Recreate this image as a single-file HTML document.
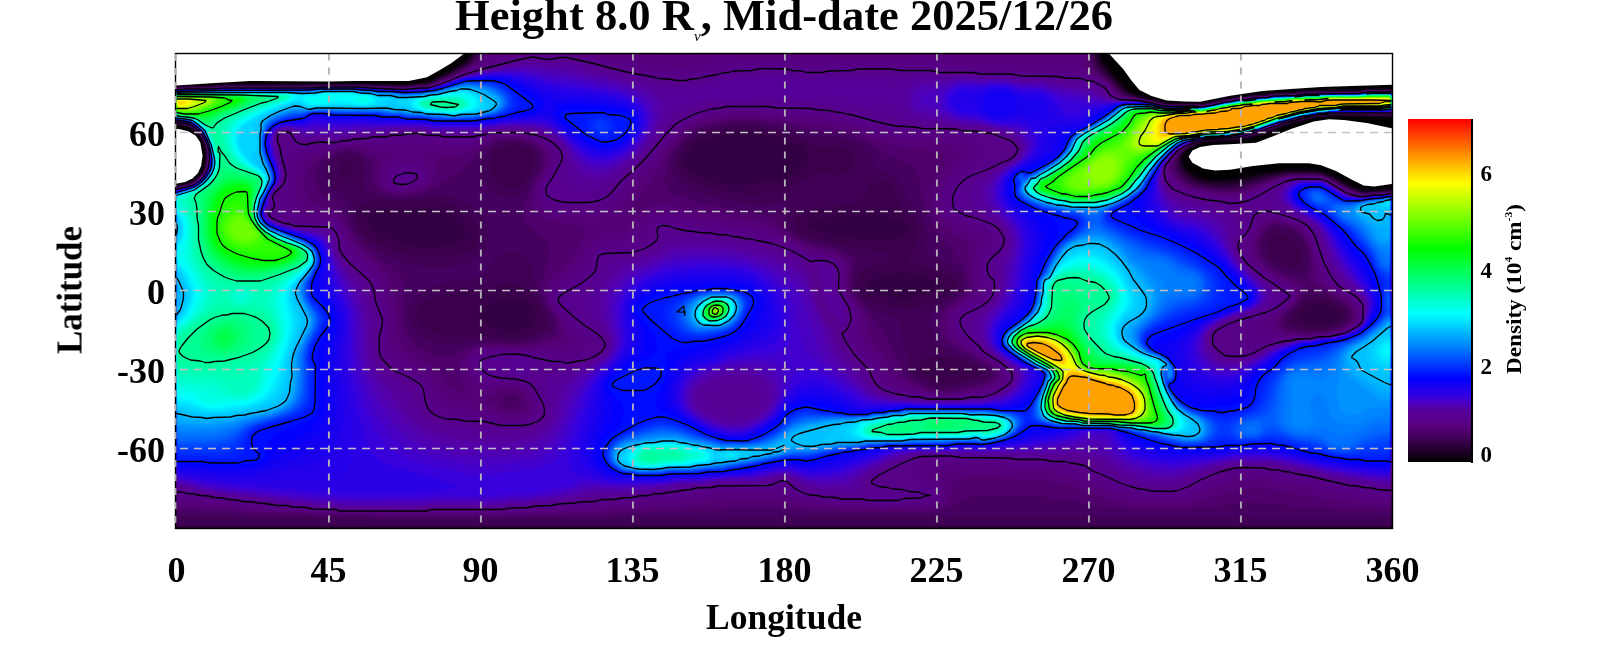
<!DOCTYPE html>
<html><head><meta charset="utf-8"><title>Height 8.0 Rs density map</title>
<style>
html,body{margin:0;padding:0;background:#fff;}
body{width:1600px;height:660px;overflow:hidden;}
svg{display:block;font-family:"Liberation Serif",serif;font-weight:bold;fill:#000;}
</style></head><body>
<svg width="1600" height="660" viewBox="0 0 1600 660">
<defs>
<filter id="cm" filterUnits="userSpaceOnUse" x="166" y="44" width="1236" height="494" color-interpolation-filters="sRGB">
<feGaussianBlur stdDeviation="1.5"/>
<feComponentTransfer>
<feFuncR type="table" tableValues="0.000 0.029 0.058 0.087 0.116 0.145 0.174 0.203 0.231 0.254 0.276 0.299 0.321 0.344 0.345 0.345 0.345 0.345 0.345 0.341 0.327 0.314 0.294 0.259 0.225 0.192 0.160 0.128 0.095 0.063 0.031 0.000 0.000 0.000 0.000 0.000 0.000 0.000 0.000 0.000 0.000 0.000 0.000 0.000 0.000 0.000 0.000 0.000 0.000 0.000 0.000 0.000 0.000 0.000 0.000 0.000 0.000 0.000 0.000 0.000 0.000 0.000 0.000 0.000 0.000 0.000 0.000 0.000 0.000 0.000 0.000 0.000 0.000 0.000 0.000 0.000 0.000 0.000 0.000 0.000 0.021 0.062 0.102 0.143 0.184 0.225 0.265 0.306 0.347 0.388 0.429 0.469 0.510 0.550 0.591 0.631 0.672 0.712 0.753 0.793 0.834 0.874 0.914 0.955 0.995 1.000 1.000 1.000 1.000 1.000 1.000 1.000 1.000 1.000 1.000 1.000 1.000 1.000 1.000 1.000 1.000 1.000 1.000 1.000 1.000 1.000 1.000 1.000 1.000"/>
<feFuncG type="table" tableValues="0.000 0.000 0.000 0.000 0.000 0.000 0.000 0.000 0.000 0.000 0.000 0.000 0.000 0.000 0.000 0.000 0.000 0.000 0.000 0.000 0.000 0.000 0.000 0.000 0.000 0.000 0.000 0.000 0.000 0.000 0.000 0.001 0.043 0.085 0.127 0.169 0.211 0.253 0.295 0.337 0.379 0.421 0.463 0.505 0.546 0.586 0.627 0.667 0.708 0.748 0.788 0.829 0.869 0.910 0.950 0.991 1.000 1.000 1.000 1.000 1.000 1.000 1.000 1.000 1.000 1.000 1.000 1.000 1.000 1.000 1.000 1.000 1.000 1.000 1.000 1.000 1.000 1.000 1.000 1.000 1.000 1.000 1.000 1.000 1.000 1.000 1.000 1.000 1.000 1.000 1.000 1.000 1.000 1.000 1.000 1.000 1.000 1.000 1.000 1.000 1.000 1.000 1.000 1.000 1.000 0.963 0.921 0.880 0.838 0.796 0.755 0.713 0.671 0.630 0.588 0.546 0.504 0.462 0.420 0.378 0.336 0.294 0.252 0.210 0.168 0.126 0.084 0.042 0.000"/>
<feFuncB type="table" tableValues="0.000 0.038 0.075 0.113 0.150 0.188 0.225 0.263 0.300 0.337 0.374 0.410 0.447 0.484 0.505 0.524 0.544 0.564 0.583 0.611 0.656 0.701 0.749 0.803 0.857 0.885 0.904 0.923 0.943 0.962 0.981 1.000 1.000 1.000 1.000 1.000 1.000 1.000 1.000 1.000 1.000 1.000 1.000 1.000 1.000 1.000 1.000 1.000 1.000 1.000 1.000 1.000 1.000 1.000 1.000 1.000 0.968 0.926 0.884 0.843 0.801 0.759 0.718 0.676 0.634 0.593 0.551 0.509 0.468 0.427 0.387 0.346 0.305 0.264 0.224 0.183 0.142 0.101 0.061 0.020 0.000 0.000 0.000 0.000 0.000 0.000 0.000 0.000 0.000 0.000 0.000 0.000 0.000 0.000 0.000 0.000 0.000 0.000 0.000 0.000 0.000 0.000 0.000 0.000 0.000 0.000 0.000 0.000 0.000 0.000 0.000 0.000 0.000 0.000 0.000 0.000 0.000 0.000 0.000 0.000 0.000 0.000 0.000 0.000 0.000 0.000 0.000 0.000 0.000"/>
</feComponentTransfer>
</filter>
<clipPath id="cp"><rect x="176" y="54" width="1216" height="474"/></clipPath>
<linearGradient id="cb" x1="0" y1="0" x2="0" y2="1"><stop offset="0.0000" stop-color="rgb(255,0,0)"/><stop offset="0.0933" stop-color="rgb(255,128,0)"/><stop offset="0.1866" stop-color="rgb(255,255,0)"/><stop offset="0.2828" stop-color="rgb(128,255,0)"/><stop offset="0.3790" stop-color="rgb(0,255,0)"/><stop offset="0.4752" stop-color="rgb(0,255,128)"/><stop offset="0.5685" stop-color="rgb(0,255,255)"/><stop offset="0.6647" stop-color="rgb(0,128,255)"/><stop offset="0.7580" stop-color="rgb(0,0,255)"/><stop offset="0.8105" stop-color="rgb(55,0,222)"/><stop offset="0.8309" stop-color="rgb(78,0,186)"/><stop offset="0.8542" stop-color="rgb(88,0,152)"/><stop offset="0.8980" stop-color="rgb(88,0,124)"/><stop offset="0.9388" stop-color="rgb(58,0,75)"/><stop offset="1.0000" stop-color="rgb(0,0,0)"/></linearGradient>
</defs>
<rect width="1600" height="660" fill="#fff"/>
<g clip-path="url(#cp)">
<g filter="url(#cm)" shape-rendering="crispEdges">
<rect x="166" y="44" width="1236" height="494" fill="rgb(1,1,1)"/>
<path fill="#030303" d="M1391 528l-1215 0 -1-1 0-340.5 17-4.5 6-5 4-4 2-3.5 2-9.5 0.5-4 -0.5-5.5 -1.5-3.5 -0.5-4 -4-7 -2-2.5 -4-3.5 -6.5-4 -5.5-0.5 -5-1.5 -2 0 0-37 5-0.5 32-0.5 7-1.5 5 0 129-0.5 54 1 13-2.5 7-0.5 9.5-4 14.5-8 13-8 4-4 1.5-2 0.5-3 630.5 0 1 5 3 5 20 23 4.5 4.5 5.5 3.5 9.5 4 6.5 2 5.5 0.5 3 1.5 5 0.5 4 1.5 25-0.5 8 0.5 2-0.5 8-1 2-1 6-1 4-1 6.5-0.5 5.5-1.5 8.5-0.5 7.5-2 14 0 8-2 19 0 9-2.5 56 0.5 2.5 0 7.5-2 25 0 0 29 -25-2 -36-1 -6 1.5 -10 0 -12 4 -7 1.5 -4 1.5 -3 0 -8 4 -15 6 -15 4 -11 2 -11 0 -6 1 -10 0 -12 1.5 -2 1.5 -6 2.5 -6 4 -3.5 4 -1 4 0.5 4 2 4 2 3 4 3.5 4 2.5 5 2 11 2.5 6 0.5 14-1 31-6 21-2.5 10-0.5 20 0 6 1 9 2.5 8 3.5 15 8.5 12 5 12 0 17-1.5 0 338z"/>
<path fill="#050505" d="M1391 528l-1215 0 -1-1 0-340.5 17-4 6-5 4-4 2-3.5 2-9 0.5-5 -0.5-6 -2-7.5 -4-7 -2-2 -3.5-3.5 -6.5-4 -13-2.5 0-36 7-1 30 0 6-1 7-0.5 127-0.5 56 1 12-2.5 8-0.5 9.5-4.5 14.5-8 13-8 4-4 1-2 1-3 628.5 0 1 5 3.5 6 19 22 5 5 5 3 10 4 24 6 34 0.5 4-1 4-0.5 5-1.5 5-0.5 5-1.5 7-0.5 4-1.5 10-0.5 4-1.5 16 0 8-2 19 0 9-2.5 56 0.5 4-0.5 6-1.5 25 0 0 28 -25-2 -36-1 -6 1.5 -10 0.5 -14 4 -12 3 -22 9 -18 5 -10 1.5 -8 0 -9 1 -19 1 -2 0.5 -2 1.5 -7 3 -5.5 4 -3.5 4 -1 2 -0.5 3 0.5 3 1.5 4 3 4 3.5 3 4.5 3 4.5 2 12 3 8 0 13-0.5 32-7 22-2.5 9-0.5 18 0 8 1.5 8 2.5 6 3 16 8.5 12 5 12 0 17-1.5 0 337.5z"/>
<path fill="#080808" d="M1391 528l-1215 0 -1-1 0-340 17-4.5 6-4.5 4-4 2-4 2-7.5 1-6.5 -0.5-6 -2.5-8 -4-6.5 -2-2.5 -4-3.5 -6-4 -13-2 0-35.5 7-1.5 30 0 12-1.5 128-0.5 28 1 28 0 12-2 8-0.5 10.5-5 15-8 12.5-8 4-4 1-2 0.5-3 627 0 1 6 3.5 6 18.5 21 5.5 5 5 3 10 4 25 6 34 0.5 8-1 6-2 4 0 6-2 6 0 5-1.5 9-0.5 5-2 15 0 8-2 19 0 9-2 56 0.5 4-0.5 6-2 25 0 0 27 -25-1 -36-1 -6 1.5 -10 0 -4 1.5 -4 0.5 -6 2.5 -12 2.5 -23 9.5 -17 4.5 -10 2 -8 0 -8 1 -20.5 1 -4.5 2.5 -6.5 2.5 -5.5 4 -4 5 -1 5 0.5 4 2 4 2.5 3 4 3.5 4 2.5 5 2.5 12 2.5 10 0.5 12-1 10-1.5 22-5.5 22-3 8-0.5 18 0.5 8 1 7 2.5 6 2.5 17 9.5 12 4.5 12 0 17-2 0 337.5z"/>
<path fill="#0a0a0a" d="M1391 528l-1215 0 -1-1 0-340 17-4 6-4.5 4-4.5 2.5-4 1-4 1.5-10 -0.5-6 -2.5-8 -4-7 -2-2.5 -4-3.5 -6-3.5 -13-2 0-35.5 7-1 30 0 10-1.5 86-0.5 12-0.5 34 0 51 1.5 15-2 6 0 4-1.5 10-4.5 11.5-6 13.5-8 3.5-3 2.5-2.5 1-2.5 0.5-3 625 0 1.5 7 3 5.5 20 22.5 4 3.5 4.5 2.5 10.5 4 26 6.5 26 0 8 0.5 8-1.5 5-1.5 5 0 4-1.5 8-1 4-1.5 9 0 5-2 16 0 8-2 19 0 9-2 58 0 8-2 25 0 0 26 -61-2 -6 1.5 -10.5 0.5 -3.5 1.5 -4 0.5 -4 1.5 -14 3.5 -22 8.5 -18 5.5 -10 1.5 -8 0 -8 1 -10 0.5 -11.5 1 -3.5 2 -7 3 -6 4 -3 4 -1.5 3 -0.5 3 0.5 4 1.5 4 3 4 4 3.5 5 3 5 2 12 2.5 12 1 12-1 31-7.5 21-3.5 7-0.5 18 0.5 9 1 7 2.5 22 11.5 12 4.5 3 0.5 6-0.5 4 0 10-0.5 7-1 0 337z"/>
<path fill="#0c0c0c" d="M1391 528l-1215 0 -1-1 0-339.5 17-4.5 2-1 6-5.5 3.5-4.5 2-4 1.5-12 -0.5-6 -2-8 -4.5-7.5 -2-2 -4-3.5 -6-3.5 -13-2.5 0-35 7-1 30 0 11-1 85-0.5 13-0.5 33 0 25 1 26 0.5 15-2 7-0.5 5.5-2 17.5-8.5 15-8.5 4-3 2.5-3 1.5-3 0.5-3 623 0 1 7 3 6 20 22 4.5 4 5 2.5 10 3.5 27 6.5 26 0 8 0.5 8-1 5-1.5 5-0.5 4-1.5 8-0.5 4-1.5 9.5-0.5 5.5-2 17 0 4-1.5 2-0.5 21 0 7-2 58 0 2 0 4-1.5 2-0.5 25 0 0 25.5 -61-1.5 -6 1.5 -11.5 0.5 -2.5 1.5 -5 0.5 -4 1.5 -13 3 -22 8.5 -18 5.5 -10 1.5 -8 0.5 -8 1 -20 1 -2 0.5 -3 2 -9.5 4 -4 3 -2.5 3 -1.5 3 -1 6 0.5 4 2 4 3 3.5 4 3.5 5 3 5 2 12 2.5 10 0.5 12-0.5 10-2 24-6 17-3.5 9-0.5 18 0 8 0.5 8 2.5 7 3 15 8.5 12 5 6 0.5 4-0.5 14-0.5 7-1 0 336.5z"/>
<path fill="#0e0e0e" d="M1391 528l-1215 0 -1-1 0-339.5 17-4 2.5-1.5 5.5-5 4-5 1.5-4 2-12 -0.5-6 -2.5-8 -4.5-8 -2-2 -4-3.5 -6-3.5 -13-2 0-34.5 7-1 30-0.5 10-1 64 0 35-1 33 0 50 1.5 16-2 7 0 7-2.5 16-8 16-9 4-3 3-3 1.5-3 0.5-3 620.5 0 0.5 7 3 6 3 4 21.5 22 4.5 2.5 12 4 27 6 26 0 8 0.5 9-1 4-1.5 5.5-0.5 4.5-1.5 7-0.5 4-1.5 10.5-0.5 4.5-1.5 17-0.5 4-1.5 2 0 21-0.5 7-1.5 58-0.5 2.5 0 3.5-1.5 2 0 25-0.5 0 25 -61-1 -6 1.5 -10 0 -4 1.5 -5.5 1 -3.5 1.5 -5 0.5 -4 1.5 -4 1 -22 8.5 -18 5 -8 2 -12 0 -6 1.5 -20 0.5 -2 0.5 -3.5 2.5 -7.5 3 -6 4 -2.5 3 -2 3 -1 6 0.5 4 1.5 4 3 4 4.5 4 5 3 5 2 13 2.5 10 1 12-0.5 12-2.5 23.5-6.5 16.5-3.5 8-0.5 18 0 8 0.5 8 2.5 22 11.5 12 5 6 0.5 4-1 14-0.5 7-1 0 336.5z"/>
<path fill="#101010" d="M1391 528l-1215 0 -1-1 0-339 17-4.5 6-4.5 4-4 3-5 1.5-4 1-9 -0.5-7 -2.5-8 -4.5-8 -1.5-2 -4.5-3.5 -6-3.5 -13-2.5 0-34 9-1 28 0 10-1.5 86 0 13-1 33 0 50 2 16-2 7 0 3-1 21-9.5 16-9 6.5-5.5 2-4 0.5-3 618.5 0 0.5 8 3 6 25 26 3 1.5 4.5 1.5 14.5 4 22 5 26-0.5 8 1 9.5-1.5 4.5-1.5 5.5-0.5 3.5-1.5 7-0.5 6-1.5 8-0.5 6-1.5 16-0.5 6-1.5 21-0.5 7-1.5 58 0 3-0.5 3-1.5 2 0 25 0 0 24.5 -61-1.5 -6 2 -10 0 -14 4 -4.5 0.5 -3.5 1.5 -4 0.5 -22 8.5 -18 5.5 -10 2 -10 0 -8 1.5 -18.5 0.5 -5.5 3 -7.5 3 -6 4 -2.5 3 -2 3 -1.5 4 0 4 0.5 4 2 4 3.5 4 4.5 3.5 5 2.5 6 2.5 14 2.5 12 1 12-1 8-2 25-7.5 19-4 22 0 8 1 8 2 22 11.5 12 5 6 0 4-0.5 14.5-0.5 6.5-1 0 336zM741 186l18-3 21-2 5-1 7-3 8.5-5 5.5-6 1.5-3 1-3 -0.5-3 -1-3 -2.5-4 -4-4 -4.5-2.5 -5-2.5 -34-9 -12-1.5 -6 0.5 -7 1 -28 7 -5 2.5 -4 2.5 -4.5 4 -3 4 -2.5 6 0 6 3 6 5 4 10 5 16.5 5 11.5 2zM441 247l11-2.5 8-3.5 4.5-3 1.5-2 0.5-2 0-3 -1-3 -5-6 -8-6 -8-4 -6.5-2 -8-2 -14-0.5 -20 2 -20 1 -6 2.5 -3 3 -0.5 3 0.5 3 3 5.5 6 5 10 5.5 17.5 6 12.5 3 12 1zM900 239l5-2.5 2.5-3.5 0.5-4 -1.5-4 -3.5-3 -4-2 -10-3.5 -8-2 -8-0.5 -22 1 -21 2 -16 3 -4 2 -2 2 -0.5 1 0.5 2 2 2 7.5 3 30.5 6 12 1 19-0.5 14 1.5zM903.5 299l9.5-1 21-5 4.5-2 3-2 1.5-2 0.5-2 -3-3 -5.5-2.5 -24-6 -9-1 -10 1 -15 3.5 -7 2.5 -2 1.5 -1 2 -0.5 3 1.5 3 2 2 4 2.5 8 2.5 9 2zM518.5 331l5.5-1 6-3 4-3.5 1.5-3.5 -0.5-5 -2-5 -4.5-6 -4.5-3.5 -4-2 -6-1 -7 0 -6 0.5 -6 2 -6.5 3 -6 4 -2.5 3 -1.5 5 0.5 4 2.5 3 6 4 6.5 3 8 2 8 0.5zM1327.5 326l6.5-3 3-2 2.5-3 0.5-4 -1-3 -4-3.5 -4-2.5 -6-2.5 -4-1 -4 0 -6 1.5 -4 3 -4 4 -3.5 4 -1.5 3 0 2 1 2 2.5 2 5 2 4.5 1 10 1z"/>
<path fill="#121212" d="M1366 524l-482-0.5 -166 0.5 -94 0 -16 0.5 -186-1 -48 0.5 -14-1.5 -10 0 -20 1 -25 0 -130 0 0-335.5 17-4 6-4.5 4-4 3.5-5.5 1-4 1.5-9 -1-7 -2-8 -3-5.5 -3.5-4.5 -4.5-4 -6-3.5 -13-2 0-34 9-1 28 0 10-1 86-0.5 14-0.5 32 0 9 0.5 41 1 16-1.5 8 0 24-11 17-9.5 6-5 2-4 0.5-3 616 0 0 9 3 6 4 4 10 9 11.5 12.5 6 2.5 39 9 26 0 8 0.5 4-1 6-0.5 4-1.5 6-0.5 3-1.5 7 0 6-2 8 0 6-2 16 0 6-2 22 0 6-2 58 0 3.5-0.5 4.5-1.5 25 0 0 24 -61-1 -6 1.5 -10 0.5 -14 4 -5 0.5 -3 1.5 -4.5 0.5 -21.5 8 -18 5.5 -10 2 -10 0.5 -8 1 -19 1 -5 3 -4 1 -5 2.5 -6 4.5 -3.5 5 -1.5 4 -1 4 0.5 4 2 4 3.5 4.5 5 4 5 3 5 1.5 16 3.5 13 1 11-1 8-2 27.5-8.5 15.5-3.5 7-0.5 20 0.5 8 1 6.5 2.5 20.5 11.5 11 4 6 0 4-1 14 0 7-1.5 0 333zM761 195l12-2.5 18-6 9-4 13-8 5-2 5 0 13 2.5 5-0.5 4-1 5-2.5 3.5-4 2-5 -0.5-4 -2-4 -4-4 -3-2 -5-2 -7-0.5 -12 1.5 -4 0 -5-2 -12-7 -9-3.5 -37-8.5 -9-0.5 -12 0.5 -14 3.5 -14 2.5 -6 2 -5 2.5 -5 4 -5 5.5 -4.5 6 -1.5 4 -1 4 0 4 1 5 2 4 3 4 4 3 4 2.5 14 5.5 20 5 21 2zM515.5 188l3.5-1.5 3-2 6-7 4-7 2-4.5 1-4 -0.5-4 -0.5-2 -2.5-4 -3.5-3 -4-2 -8-2 -4 0 -6 1 -8 3.5 -5 4.5 -2 4 -1 4 -0.5 4 0.5 4 1.5 4 2 4 6.5 6 4 2.5 4 1 4 1zM350 178l2-2 2-4 0-3 0-3 -2-3 -2-1.5 -3-0.5 -3 0.5 -3.5 2.5 -1 2 -0.5 4 0.5 3 2 3 2.5 2.5 3 0.5zM909 309l7-0.5 9-2.5 10-3 8.5-4 7-4 4.5-4 2-4 0.5-3 -1-3 -2.5-3 -3-3 -3.5-2 -8-3 -22.5-6 -6.5-3 -3.5-3 0-2 7-8.5 3.5-6.5 2-7 -0.5-6 -2-5 -3-4.5 -3-2.5 -9-7 -2.5-3 -1.5-4 -1.5-8 -1-4 -2.5-4 -2-2 -3-2 -4-1 -4-0.5 -4 0.5 -3 1.5 -3 2.5 -2.5 4 -3.5 9 -2 2 -3 2 -6 1.5 -24 3 -18 3 -9 3 -3 1.5 -3 3 -2 2.5 -0.5 2.5 0 3 1 3 4.5 4.5 8 4 10 3.5 17 3 23 6 24 2.5 5 1.5 4.5 3 1 2 -2 2 -20.5 7.5 -4 2 -3.5 2.5 -2.5 3.5 -2 4.5 0 4 0.5 4 2.5 4.5 4 4.5 5 3.5 5 2.5 7 2.5 10 2 10 1.5zM443 257l17-2.5 8-3 4-2 3-2.5 2-3 2-4 0.5-4 0-4 -1-4 -2.5-5 -3-4 -4-4 -10-7 -7-3.5 -8-3 -8-1.5 -7-0.5 -24 2 -33-0.5 -4 0.5 -4 2 -3.5 2.5 -2.5 3 -1.5 4 -0.5 4 1 5 2 5 3 4.5 4 4.5 4 3.5 6 4 7 3.5 9 3.5 19 5.5 15 1.5zM1297 267l2-1 2-2 1-3 0.5-3 -1.5-7.5 -4-6.5 -6-6 -6.5-4 -3.5-1 -3 0 -3 0.5 -2 1 -2 2 -2 3.5 -1 5 1 6 2 4 6 6 7 4 7 2.5 4 0zM1287 251l-2 0 -1-0.5 -1-1 -0.5-1.5 0.5-1.5 1.5-1.5 2.5-1 2 1 0.5 2 -0.5 2.5zM524.5 338l9.5-3 8-5 2-2 2-3 0.5-5 -2.5-7 -8-14 -4-5.5 -4-4.5 -3-2.5 -3-2 -4-1 -6-0.5 -6 0 -20 5 -32 4 -12 2.5 -10 4 -8 4.5 -5.5 5 -2 5 -0.5 4 1 3.5 2 3.5 3 3 8 4.5 13.5 4.5 6.5 1 7 0.5 25-1 27 2.5 8 0zM1327.5 329l9.5-3.5 4-2.5 4-4.5 1-4.5 -1-3 -1.5-2 -4.5-4 -8-4.5 -8-3 -8-1.5 -3.5 1 -2.5 1 -4 3 -11.5 12 -2.5 3 -1 3 0 3 1.5 2 3.5 2 6 2 8 1.5 14 0zM952 384l25.5-6 3.5-2 1-1 0.5-2 -1-2 -2-2 -10.5-6 -10-4 -10-2 -12-0.5 -9 0.5 -3 1 -3 1.5 -4 4.5 -1.5 3 0.5 4 2 3 3.5 3 10.5 5 6 2 6 1z"/>
<path fill="#141414" d="M611 519l-237 0 -2-0.5 -3.5-1.5 -6.5-0.5 -120 1.5 -8-1.5 -5-0.5 -54 0.5 0-328.5 17-4 3.5-2 4.5-4 4-5 2-4 2-12 -0.5-7 -2.5-8 -3-5.5 -3.5-4.5 -4.5-4 -6-3.5 -13-2 0-34 9-0.5 28-0.5 12-1 62 0 24 0 10-1 32 0 52 2 16-2 8 0 24-10 18.5-10.5 6-5 2-4 0.5-3 613 0 0 9 1 3 1.5 3 4 4 10.5 9 12 13 5 2 41 9 26 0 8 1 4-1 6-1 4-1 6-1 3-1 7-0.5 6-2 8 0 6-1.5 16-0.5 6-2 22 0 6-1.5 58-0.5 4-0.5 4-1.5 25 0 0 23.5 -61-0.5 -6 1.5 -10 0.5 -27 6.5 -21 8 -18 5.5 -10 2 -10 0 -7 1.5 -21 1 -4 2.5 -4.5 1.5 -5.5 2.5 -7 5.5 -4.5 8 -1 6 1 4 2.5 4.5 4 4 5 4 5 2.5 6 2 17 3 14 0.5 10-1 8-2 26-8.5 15-4 7-0.5 20 0.5 7 1 7 2.5 20 11 12 4 6 0.5 4-1 14-0.5 7-1 0 326.5 -119 0.5 -16-1 -83-1 -71 0.5 -16-1 -128 0 -12 1 -23-1 -45 0 -145 1 -15 1 -97-0.5 -6 0.5zM949 389l16-4 12-2 7-2 4-2 2-2 1-2 0-2 -1-2 -2-2 -6-4 -17-8.5 -23-8.5 -3-2 -2.5-3 -6.5-22 -0.5-3 0.5-2 1.5-2 3-3 19.5-13 6-5 2-3 1-3 0.5-3 -0.5-3 -1-3 -2.5-4 -6.5-6.5 -7-4 -15-6.5 -4-3 -1-2 -0.5-3 1-10 0-6 -2-9 -4.5-8.5 -11-13.5 -2-4 -4-12 -2-4 -3.5-4 -6.5-4.5 -10.5-3.5 -4-2 -2-3 -5-10 -3.5-5 -7.5-6 -8.5-4 -7-2 -6-1 -17 1 -5-0.5 -22-7.5 -36-7 -10-1 -9 0.5 -33 6 -5 1.5 -6 3 -4 3 -6.5 6 -5 6 -3.5 6 -2 6 -0.5 6 0.5 6 2 5 4 5 5 4 10 5.5 14 4.5 14 3 32 6 11 0.5 18-3.5 6 0 1 2 -4 10 -0.5 7 1 3 2 4 4.5 5 6 4 9 4 7 2 16 3.5 8 2 10.5 4.5 6.5 4 1.5 2 0.5 3 -0.5 3 -3.5 9 -1 5 0 6 1.5 5 2.5 5 4 4.5 9 8 9 5 17 6 2.5 1.5 1.5 1.5 1 3.5 0.5 9 0.5 5 6 15 -0.5 13 1 4 1.5 3 2.5 3 3 2 17 8 7.5 2zM514 198l4-1.5 3-1.5 3-3 3-3.5 10.5-18.5 2-6 0.5-4 -0.5-4 -1.5-3.5 -2-2.5 -4-3.5 -4.5-2.5 -5.5-2 -8-1 -8 0.5 -6 1.5 -5 2 -4 3 -4 4 -4 6 -2 6 -0.5 6 0.5 6 2 5 3.5 5 4.5 4.5 6 4 5 2.5 6 1zM449.5 267l13.5-2.5 10-4 4-2 4.5-3.5 3-3 2-4 1.5-5 1-5 -0.5-6 -1-5 -1.5-5 -3-5 -3-4 -4-4.5 -7-5 -8-4.5 -8-3 -8-1.5 -10-0.5 -23 3.5 -14 0.5 -13-1 -14-4 -5-2 -1.5-1 -0.5-2 -0.5-4 1.5-12 0-5 -1.5-5 -1.5-2 -3-3 -3-2 -4-1.5 -4-0.5 -4 0.5 -8 2.5 -4 2.5 -3.5 3.5 -2.5 4 -1.5 5 0 5 1.5 4.5 2.5 4.5 4.5 4 5 3 8 4 3 2.5 1 3.5 0 12 3 10 5 10 4 5 4 4 8 5.5 10 6 12 5 12 4.5 10 2 10 1.5 11 0.5zM1301 274l3-2 2-2.5 1.5-4.5 0.5-5 -0.5-6 -1.5-6 -1-4 -4-7 -2-2 -4-3 -9-4 -9-1 -4 0.5 -3 1.5 -3 3 -2 3 -2 4.5 -1 4.5 -0.5 4 0.5 3 3 6.5 6 6.5 4 3 5.5 3 6.5 2.5 6 1.5 4 0.5zM458.5 345l15.5-3 9-1 29 1.5 15-1 6-1.5 8-3 5-3 4-3.5 1.5-2.5 0.5-3 -0.5-6 -2-4 -7-13 -6-14 -2-6 -1.5-12.5 -1.5-5.5 -2.5-4 -4-4 -5-3 -6-1.5 -6 0.5 -5 1.5 -4 2 -4 3 -2.5 3.5 -5.5 10 -4 3.5 -7 2 -26 3.5 -11 2.5 -7 3 -8 4.5 -6 4.5 -4 4.5 -2.5 4 -2 4 -0.5 4 -0.5 5 1 4 1.5 4.5 2 3.5 3 3.5 8 6 13 5 11 2zM1327 331l12-4 5.5-3 2.5-3 2-3 0.5-3 0-2 -2.5-5 -5.5-5 -10.5-6 -12-4.5 -6-1 -3 0.5 -3 2 -9 10.5 -9 8.5 -2.5 3 -1.5 3 0 3 1 3 3 2.5 3.5 1.5 14.5 3z"/>
<path fill="#171717" d="M532 516l-152 0.5 -4 0 -8-1.5 -112-1 -10-0.5 -10-2 -61-1 0-322 17-4.5 6-4 5.5-6 2.5-4 1-4 1-8 0-6 -2-8 -2-4.5 -4-6.5 -4-3.5 -6-4.5 -3-1 -12-2 0-33 9-1 28 0 12-1.5 62 0 24 0 10-1 32 0 52 2 16-1.5 8 0 24-10 20.5-11 6-5 2-4 0.5-3 610 0 -1.5 9 1 3 1.5 3 4 4 13 10.5 7.5 8.5 4.5 4 4 1.5 12 2 30 7 26-0.5 8 1 4-1 6-0.5 4-1.5 6-1 3-1 7-0.5 6-1.5 8-0.5 6-1.5 16-0.5 6-1.5 22-0.5 7-1.5 57-0.5 4-0.5 4-1 25 0 0 23 -61-0.5 -6 1.5 -10 0 -28 7 -32 11.5 -14 3.5 -12 0.5 -8 1.5 -20 1 -4 2.5 -4 1 -6 3 -6.5 4.5 -2.5 3 -3.5 6 -1 3 -0.5 3 0.5 4 3 5 4.5 5 5 3.5 5 2.5 6 2 19 3.5 13 1 11-1.5 7-2 26-9.5 15-3.5 7-1 20 0.5 6 0.5 8 3 10 6 11 5.5 11 3.5 6 0.5 4-1 14-0.5 7-1 0 320 -60-2.5 -45-4 -20-2.5 -13-1 -17 1 -35 5 -17 2 -24 0.5 -26-0.5 -24-2 -12-3 -32-5.5 -12-1.5 -22-2 -43-1.5 -11 0.5 -8 1.5 -6 2.5 -10.5 6 -9.5 4.5 -6 1 -8 1 -36 0.5 -55-0.5 -36-0.5 -28-2 -45 0 -21 2 -97 2.5 -8 1.5 -6 0zM953 391l13-3 13-2.5 8.5-2.5 3.5-2 3.5-3 1.5-3 0-2 -3-4 -5-4 -19-10.5 -15-7 -5.5-3.5 -4.5-4 -2.5-5 -2-6 -1-5 0-4 1.5-4 2.5-4 4-4 13.5-10.5 5-4.5 2-3 1-3 0-6 -3-9 -8-16 -4-5.5 -12-12.5 -4.5-7 -5-10 -6-13 -2.5-8 -1.5-6 -2.5-19 -2-4 -2.5-3 -7.5-5 -21-8.5 -15.5-10.5 -7-4 -13.5-5.5 -13-2.5 -22-0.5 -22-5.5 -39-6 -10-0.5 -9 0.5 -32 6 -6 2.5 -6 3 -5.5 4.5 -5.5 5.5 -5.5 6.5 -3.5 6 -2.5 6 -2 8 -1.5 8 0 6 1.5 5 2.5 3.5 4 3 6 2.5 9 3.5 10 3 14 3 58 11 3 1 3 2.5 12 13 9 6 14 6 24 5.5 6 2.5 5 3 4 4 1.5 4 0 4 -2 14 0.5 4 1.5 5 5.5 8.5 18 21.5 8.5 12 9 17 7 18 3.5 6 4 4 5 3.5 20 8.5 5 1.5 5 0.5zM448.5 358l5.5-2.5 11-6.5 10-3.5 12-2 26 1.5 17-1 9-2.5 10-3.5 4-2.5 2.5-3.5 1-5 -1-6 -1.5-4 -8.5-15 -2.5-7 -1-6 0-5 1-5 7-25 0.5-4 -0.5-4 -1.5-3 -2.5-3 -13-10 -5-5 -3.5-5 -1-5 0.5-7 2.5-8 6-14 7.5-14 3-7 0.5-7 -2-6 -3-4 -5-4 -4-2 -7.5-2.5 -5-0.5 -7 0 -8 0.5 -5 1.5 -5 2 -7 5 -23 21.5 -24.5 16.5 -8 4 -7.5 2.5 -9 2 -9 0.5 -10 0 -7-1 -6-2.5 -5-3.5 -2-3 -1.5-4 0-14 -1.5-5 -4-5 -5.5-4 -7.5-2.5 -8-0.5 -9 2 -8.5 4 -7.5 6 -3 4 -2 4 -1 5 0 5 1 5 2 4.5 5 6 13 8 5 5 3 4.5 10 21.5 3.5 5.5 3 4 9.5 8 20.5 15 7 6 4 5 2 5 1 5 -1.5 21 0.5 12 2.5 10.5 4 7.5 4 4 4 3.5 12 7 6 2.5 6 2 4 0.5zM1312.5 333l3.5-0.5 11 0 6-2.5 6-1 4.5-2 4-3 4-5 1-4 -0.5-4 -3-5 -6-5 -33-18 -1-3 2-14 0-5 -0.5-6 -1.5-7 -2-6 -4-6.5 -2-2.5 -6-4.5 -8-3 -9-1.5 -7 0.5 -4 2.5 -2 2 -3 5 -3 7 -1 4 0 4 1 4 2 4 5.5 7 6.5 5.5 9 4.5 20 7.5 2.5 1.5 0.5 2 -0.5 3 -2 5 -4.5 8 -4 4.5 -8.5 7.5 -3 4 -1.5 4 0.5 4 1 2 2.5 2 5 2 15 2.5zM512.5 408l4.5-1 2.5-2 1-2 -0.5-2 -2-3.5 -4-2 -4-0.5 -5 0.5 -3.5 2.5 -1 1 -0.5 2 1 2 2 2 4 2z"/>
<path fill="#191919" d="M431 515l-50 0.5 -11-1.5 -30 0 -8-0.5 -20 0 -40-1.5 -20-1 -16-2 -61-2.5 0-318 17-4 6-4.5 6-6 2-4 1-4 1.5-8 -0.5-6.5 -2-8 -2-4.5 -4-6 -4-4 -6-4 -2.5-1 -12.5-2 0-33 9-1 28 0 10-1 86-0.5 13-0.5 33 0 50 2 16-1.5 8 0 8-3 16-7 10-4.5 14.5-8 2.5-2 3-4 1-2 0.5-3 606 0 -0.5 2.5 -2 4.5 0 2 0.5 3 2 3 4 4 14.5 11 8 9 4.5 4 3.5 1.5 13 1.5 30 6.5 26-0.5 8 1 20-3.5 4-1.5 6-0.5 6-1.5 9-0.5 5-1.5 16-0.5 6-1.5 22-0.5 8-1.5 56 0 4-0.5 4-1.5 25 0 0 22.5 -61-0.5 -6 2 -10 0 -28 7 -32 11 -14 4 -12 0.5 -8 1.5 -20 1 -4 2.5 -10 3.5 -7.5 5 -7.5 11 -1 6 1 4 4 5.5 4 4 6 4 10 3.5 21 4 14 1 10-1.5 6-2 25-9.5 13-4 8-1 22 0 6 0.5 8 3 10 6 10 5 11 4 7 0 4-1 14-0.5 7-1 0 314.5 -19-1 -32-3.5 -59.5-11 -20.5-3 -10-0.5 -10 0.5 -8 1.5 -11 3.5 -24 8.5 -12 3 -15 1.5 -27-0.5 -17-2 -14-3 -19-6.5 -21-8.5 -12-3 -26-3 -20-1 -18-1.5 -16-0.5 -16 1 -6 1 -3 1.5 -1.5 1 -1.5 2 -2.5 12 -1.5 4 -3 3.5 -3 2.5 -4 2 -5 1 -7 0.5 -29 1 -23 0 -54-1 -19-1.5 -24-4.5 -44-0.5 -10 0.5 -59 5.5 -53 2.5 -16 2 -91 2 -64 0zM953.5 393l13.5-3 12-2 8-2 6-3 3-2 2.5-3 1-3 -0.5-2 -1.5-3 -5.5-5 -31.5-18 -7.5-5 -5-6 -3-7 -1-4 0-4 1-4 1.5-3 5-6 13.5-10 4-4 3-5 0.5-5 -3.5-19 -0.5-6 0.5-11 -1-4.5 -2-2.5 -2-2 -16-9.5 -6-5 -5.5-7.5 -3-9 -1-9 0.5-9 3.5-11 9.5-17 0.5-4 -0.5-2 -1.5-2 -4-2 -7.5-2 -36-4 -8-1.5 -10-3 -23-9.5 -12-3 -9-1.5 -20-1.5 -20-3 -45-6 -9 0 -9 1 -21 3.5 -10 2.5 -6 2.5 -6.5 3.5 -5.5 4.5 -5.5 5.5 -8 10 -13 23 -18.5 25 -9 14 -1 2 0 2 2 0 2-0.5 11-6 7-3 7-1.5 7 0 11 1.5 25.5 5.5 30.5 4.5 24 4 10 2.5 7 2.5 18 12.5 16 8 8 2.5 16 3.5 9 3.5 5 3.5 3.5 5 1 5 -1.5 13 1 6 3 6.5 9.5 14.5 3.5 6 2 5 2.5 12 2 5 3.5 6 9.5 13 10.5 16 6 6 7.5 5 5.5 2.5 17 6 5 1.5 5 0.5zM461.5 393l3-1 1-2 -5-15 -0.5-5 0.5-5 1-4 3-5 3-3 3.5-2.5 7-3 8-1.5 40 0.5 8-0.5 21-5 4-2 2.5-3 0.5-5 -2.5-9 -2.5-5 -7.5-11 -2.5-6 -1-7 1-6 2-5 3.5-5 14.5-13 5-6 9-15 6-9 1-2 0.5-2 -2-2 -5-2 -23.5-4 -9-3 -8-4 -4-4 -2.5-3 -2-6 0-6 3-10 7.5-14 3-8 1-6 -2-6 -4-5 -6-4.5 -5-2.5 -7.5-2 -4.5-0.5 -8-0.5 -10 1 -5 1 -5 2 -14 9 -6 2.5 -8 2 -18 2.5 -5.5 2 -1.5 1.5 -1 2 -0.5 9.5 -1 5 -2 4 -2.5 3 -4 3.5 -6 2.5 -8 2 -8 1 -8 0 -6-1 -5-2 -3.5-3 -2.5-4 -1-5 0.5-5 1.5-9 0-3 -1-2 -1.5-2 -3-2 -11-5 -5.5-2 -4-0.5 -10 0 -9 2.5 -5 2 -11.5 6 -6 4 -3 3 -2 3 -1.5 4 -1 8 -0.5 6 1.5 7 2 5.5 2.5 3.5 3.5 2.5 18 6 4 2 3 2.5 5 6.5 8 16.5 4.5 7 7.5 8 16.5 14 6.5 8 4 8 3.5 11 2.5 14 3 29 2 6 2.5 4 3.5 4 3.5 3 15.5 10 7.5 6 4.5 5 7 9.5 4 4.5 6 3zM1313.5 334l3.5-0.5 10 0 6-2 6-1 6-2.5 5-4 4-5 1.5-4 -1-5 -3.5-5 -4-4 -23-13.5 -4.5-3.5 -3-4 -2-5 -1-14 -2.5-13 -3-8 -5-8 -6-4.5 -10-4 -10-2 -4 0 -4 1 -3 1.5 -3 3 -3.5 5 -3 7 -1 4 -1 4 0.5 4 1.5 4 4.5 7 6 6 8 5.5 17 7.5 3 2 3 3 1.5 4 -1.5 6 -2.5 5 -2.5 3 -10 9 -4.5 5 -1.5 4 0 4 1.5 2 2.5 2 4 2 4 1.5 18 1.5zM518.5 413l3.5-1.5 2.5-1.5 1.5-2 1-3 -0.5-4 -1.5-4 -2.5-3 -2.5-2 -7-2.5 -8 0 -5.5 1.5 -5.5 2 -4 2 -2.5 2 -0.5 2 1 2 1.5 2 4.5 4 5 3 5 2 4 1 6 0.5z"/>
<path fill="#1b1b1b" d="M429 514l-48 0 -11-1 -30 0 -8-1 -20 0 -8-0.5 -12-0.5 -36-1.5 -22-3 -59-4 0-314 3 0 14-4 6.5-4.5 5.5-6 2-3.5 1.5-4.5 1-8 -0.5-7 -2-8 -2-4 -4-6.5 -6-5 -6-3.5 -13-2 0-33 9-1 28 0 10-1 86 0 12-1 34 0 50 2 16-1.5 8 0 8-2.5 16-6.5 26-13 4-2.5 2.5-3 2-3 0.5-3 174 0 0 1 2 0.5 1 1.5 8 2 7 0.5 5.5-0.5 6.5-2 1-1.5 1.5-0.5 0-1 387 0 0.5 5 1 4 3.5 6 4.5 4 17 11.5 7 8.5 5 4.5 4 1.5 14 1.5 30 6 26 0 8 1 19-4 5-1.5 6 0 6-2 9-0.5 5-1 16-0.5 6-2 22-0.5 8-1.5 56 0 4-0.5 4-1.5 25 0 0 22.5 -61-0.5 -6 1.5 -10 0.5 -28 7 -32 11 -14 3.5 -12 1 -8 1 -20 1 -4 2.5 -5 1.5 -6 2.5 -7 5 -8 10 -2.5 7 0 2 1 2 4.5 6 5 5 6 3.5 10 4 22 4 14 1 12-2 29-11.5 13-4 9-1.5 21 0 6 0.5 7.5 3 9.5 6 11 5.5 10 3 6 0.5 7-1 14-1 6-0.5 0 309.5 -17-1 -32-4 -57-12 -27-4 -10-0.5 -10 0.5 -10 2.5 -14.5 5.5 -19.5 8.5 -11 3 -13 1.5 -24-0.5 -16-2 -13-3 -19-7 -24-10.5 -12-3 -26-3.5 -22-0.5 -19-2 -18-0.5 -29 1.5 -4 0.5 -3 1.5 -1.5 2 -0.5 2 4 10 0.5 4 0 4 -1.5 4 -3 3 -4 2.5 -5 1 -7 1 -35 1 -19 0 -31-1 -35-2.5 -7-1.5 -13-4.5 -5-1 -47-0.5 -11 1 -57 6.5 -53 3.5 -16 2 -41 2 -39 1 -10 0.5 -65 0zM516.5 417l4.5-1 4-1.5 3.5-2.5 2.5-3 0.5-3 -0.5-4 -2-5 -2.5-4 -4.5-4 -4-1.5 -5-1.5 -8 0 -17 3 -5-0.5 -5.5-2.5 -3.5-3 -3-3 -3.5-7 -1-4 0-4 1-4 1.5-4 2.5-3 3.5-2.5 5-2 5-1 14-0.5 35 0.5 24-2.5 5.5-1 4-2 1.5-2 1-2 -0.5-3 -1-3 -7.5-14 -8.5-12 -3-6 -0.5-4 0.5-4 1-4 2-4 5.5-5.5 12.5-9.5 5.5-5 4-5 6-12 3-3.5 4-3.5 5-2.5 5-2 21-4 6-2 6-3.5 9-8.5 5-3.5 6-2.5 6-1 10 0.5 26 5.5 32 4.5 35 6 9 3.5 16.5 9.5 15.5 7.5 8 2.5 16 3 5 2 4 2.5 3.5 3.5 2.5 4 0.5 5 -0.5 11 0.5 6 2 5 9 14 3 7 1.5 7 1 13 2 6 4 6 10.5 14 8.5 13 6.5 6 8 5 9.5 4 11 3 8 3 6 1 7 0 14-0.5 10-2.5 12-1.5 9-2.5 7-3.5 4.5-3.5 2.5-4 0-4 -2-3 -3-3.5 -5-3.5 -12-6.5 -21.5-14.5 -3-3 -3.5-4.5 -2.5-4.5 -1-4 0.5-7 2.5-6 4.5-5 11.5-8 4.5-4 3.5-5 1.5-5 -0.5-5 -2.5-11 -0.5-6 1-7 3.5-12 0.5-3 -1-2 -2-3 -3.5-2.5 -17-8 -9-6 -3-3 -2-3.5 -1.5-4 -1-5 -0.5-5 0.5-6 3-10 5.5-9 12.5-15 1.5-4 0.5-2 -1-2 -1.5-2 -3-2.5 -4-1.5 -6-2 -9-1.5 -18-1 -29-3 -13-3 -25-8.5 -14-3 -86-9.5 -17 0.5 -18 2.5 -11 2.5 -9 3 -7 3 -7 5 -5.5 5 -7 8 -15 21 -34.5 40 -7 5.5 -7 4 -8 2.5 -9 1 -25-2 -9-1 -5-2 -4.5-2 -3.5-2 -3-3 -3-6 -0.5-4 0-4 2.5-8 6.5-12 3-8 1-6 -0.5-4 -3.5-6 -7.5-6 -6-3 -11-3 -11-0.5 -14 1 -5 1.5 -16 7.5 -7 2 -15 1.5 -22 0.5 -5 0.5 -6 2 -1.5 2 0 1 6.5 7.5 3 5.5 1 5 -0.5 5 -2 4 -4.5 4 -6 2.5 -8 2 -10 0.5 -6-1 -5-2 -3-4 -1.5-6 1-6 3.5-6.5 7.5-9.5 -0.5-2 -5-2 -31-6.5 -12 0 -4 0.5 -14.5 4 -15 6 -8.5 4.5 -2.5 2.5 -1.5 3 -2.5 19 0.5 9 3 10 3 4 4 3 5 1.5 17 2.5 4 2 4 3 5 6.5 7 15.5 4 6 6 7 15 13 5.5 7 5 10 6 20 2.5 14 0 22 2 5.5 3.5 5.5 7.5 7 15 9 7 5.5 5 6.5 8 14 3 3 3 2.5 4 1.5 6 2 26 4.5 14 6.5 6 2 6 1zM1313.5 335l3.5-0.5 12-0.5 4-1.5 6-1 8-3 5.5-4.5 4-5 1-4 -1-6 -3.5-5 -4-4 -19.5-12 -5.5-4.5 -3.5-4.5 -2.5-5.5 -2.5-13.5 -4-16 -2.5-5.5 -5.5-8.5 -2.5-2 -6-3 -10-3.5 -10-2 -4 0 -4 1 -4 2.5 -3 3 -7 14 -1.5 7 0 3 1.5 4 4.5 8 6 6 9.5 7 19 9.5 3 3.5 1.5 4 -0.5 5 -2 4 -3 3 -11 9 -5.5 6 -2.5 5 0 3.5 2 2.5 3 2 11 3.5 20 0.5z"/>
<path fill="#1d1d1d" d="M427 513l-47 0 -10-0.5 -30 0 -9-1.5 -19 0 -8-1 -12-0.5 -8-1 -10 0 -8-1 -10-0.5 -22-3 -59-5 0-310 3-0.5 14-4 3-1.5 3.5-3 5.5-5.5 2-3.5 1.5-5 1-8 -0.5-8 -2-7.5 -4-7.5 -2-2.5 -6-5.5 -5.5-3 -13.5-2.5 0-32.5 9-0.5 28 0 10-1 86-0.5 13-1 33 0 50 2.5 16-1.5 8 0 14.5-5 36.5-16 6-3.5 7-5 2-1 9 1 31-3.5 0-1 27 0 0 1 7 0.5 48 5 45 7.5 17 1.5 12-1 38-6.5 33-1.5 25 0 28 2 44-2 35 0 16 1 24 0.5 16 1.5 23 0.5 18 1.5 23 0.5 14 1 32 0 14 0.5 6 1.5 26 15.5 3 2.5 6 7.5 6 4.5 17 1.5 32 6.5 24-0.5 8 1 10-2 14-3 6-0.5 6-1.5 8-0.5 8-1.5 14-0.5 6-1.5 22-0.5 8-1.5 56-0.5 8-1.5 25-0.5 0 22 -61 0 -6 1.5 -10 0.5 -28 6.5 -32 11 -15 4 -11 0.5 -8 1.5 -20 1 -4 2.5 -5 1.5 -6.5 2.5 -6.5 4 -8.5 10 -3.5 6 -1 3 1 3.5 6 7.5 5 4.5 6 3.5 9 4 24 4.5 14 1 12-2 4-1 26-11.5 12-4 6-1.5 4-0.5 20 0 6 0.5 6.5 2.5 11.5 7 9 4.5 11 3.5 6 0.5 8-1.5 13-0.5 6-1 0 305.5 -17-1.5 -30-4 -10-2 -24-5.5 -22-4.5 -30-5 -10-0.5 -10 0.5 -10 3 -18 6.5 -19 9 -10 3 -11 1.5 -22-0.5 -15-2 -13-3 -23-8.5 -20-10 -7-2 -9-2 -25-3 -24-1 -16-2 -18-0.5 -22 1 -14-2 -6 1 -5 2 -3.5 3 -1.5 4 0.5 3 2 3 7.5 7 2 3 1.5 4 -1 4 -1.5 2.5 -3 2 -4 1.5 -8 1 -24 1.5 -12 0 -18 0 -11-1 -18-0.5 -35-3 -7-2 -14-6 -4-1 -12 0.5 -40-0.5 -26 2.5 -23 3.5 -28 3.5 -27 2 -28 3 -20 1.5 -13 0 -10 1.5 -15 0 -10 1 -14 0 -10 1.5 -66 0zM522.5 419l4.5-1.5 4-2.5 3-3 1-3 0-3 -1-4 -3-7 -2.5-4 -2.5-2.5 -3-2 -9-3 -7 0 -17 1 -5-0.5 -5-2.5 -5-4.5 -3.5-6 -0.5-4 0-4 0.5-3 1.5-3 3-3 3-1.5 10-2 12-1 20 0.5 13 1 25 0 10-1 7-3 2-2 1-2 0-3 -1-3 -16-21 -7-8 -3-5 -1-3 0.5-4 0.5-3 2-3.5 5-5.5 15-10 6-5 4.5-6 5.5-12 2-2.5 3-2.5 3-1.5 5-2 22-3.5 8-2.5 7-4.5 8-9 4-3.5 5-2.5 6-1 9 0.5 16 4 10 2 31 4 37 6.5 13 4.5 29 14 6 2 14 2.5 5 2 3.5 2 4 4 2 4 0.5 5 -0.5 11 1 6 9.5 16 3 7 1 8 -0.5 13 2 7 5 8 12 15 7.5 12 5.5 5 8.5 5.5 13 4.5 12 2 7 2.5 6 0.5 10 0.5 14-1 8-2 14-1.5 8-2.5 8-4 5-3.5 2.5-3 0.5-4 -1.5-4 -6.5-6.5 -6-4 -10.5-5.5 -6.5-5.5 -12-8.5 -4-4 -3-4 -2-4 -1-5 0.5-6 2.5-5 5-4.5 15.5-10.5 3-3 2-4 1-3 0-3 -3.5-14 0-7 1.5-7 5.5-11 1-4 0-2 -1-3 -2-2.5 -3-2.5 -6-3 -16-6.5 -9-5 -4-4.5 -2-6 -0.5-5 0.5-6 2.5-10 3-5 3.5-5 14-13 3.5-4 1.5-5 0-3 -1.5-3 -2.5-2.5 -3.5-2.5 -5.5-2.5 -6-1.5 -11-1.5 -20-1 -30-2.5 -13-2.5 -29-9 -22-3.5 -24-3 -27-1.5 -13-2 -11-0.5 -19 0.5 -17 2.5 -10 2 -11 4 -7 3.5 -7 4.5 -4.5 4 -10 11 -11.5 15 -24 26 -9 11 -5 5.5 -6 4.5 -7 3.5 -7 2 -8 1 -23-1 -8-1 -9-3 -6-4.5 -2-3 -1.5-3 -0.5-3 0.5-5 2-6 9.5-19 1.5-6 -0.5-4 -1.5-4 -2.5-3 -7-5.5 -7-3.5 -12-3 -12-0.5 -16 1 -3 0.5 -17 6 -14 1.5 -14 0.5 -13-1.5 -17 0.5 -28 2 -20-1 -12-1 -11 0.5 -16 3.5 -14 3.5 -14 4.5 -4 2 -2 2 -1 3 0 12 -3 18 0.5 8 3.5 10 3 4.5 4 2.5 6 1 20 1 4 1.5 4 2 3 3 2 3.5 2.5 5 3.5 10 3.5 6 6 7 14.5 13 5.5 6 2.5 4.5 2.5 5.5 7 25 1 6 0.5 7 -1.5 15 0.5 4 1.5 6 4 6 4 4 4.5 3.5 16 9 6 4.5 5.5 7 5 12 2.5 3.5 4 4 3.5 2.5 5.5 2 8 2 27 4 18 6 10 1zM410 188l-6 0.5 -10 0 -3-1 -2.5-1.5 -2-4 -0.5-4 2-5 3-4.5 3-2 4-2.5 8-1.5 5 0 4 1 3 1 3.5 2.5 2 3 1 3 0 3 -1 4 -1.5 2 -3 2.5 -4 2zM1293 337l4-0.5 12 0.5 8-2 11 0 6-2 5-0.5 7-2.5 7.5-5 5-5 1-4 -0.5-6 -1.5-4 -5.5-6 -4-3 -9-5 -5.5-4 -6-5 -4-5 -2.5-6 -9-31 -7.5-12 -3.5-2.5 -5-3 -11-4 -12-2.5 -6 0.5 -3.5 1.5 -2.5 2 -4 5 -8.5 18 -0.5 4 1 5 3.5 6 6.5 8 12 9 19 10.5 3 3.5 1 2 0.5 3 -1 4 -2.5 3 -17 13 -8 7 -4.5 5 -0.5 3 1 1.5 2 1 8 2.5 17 2.5z"/>
<path fill="#1f1f1f" d="M430 511l-8 1 -80-0.5 -10-1.5 -20 0 -7-1.5 -13 0 -7-1.5 -11-0.5 -8-1 -9.5-0.5 -6.5-1.5 -10-0.5 -4-1.5 -9-0.5 -6-1 -8-0.5 -6-1.5 -9-0.5 -6-1 -8-0.5 -9-1.5 0-305.5 3-0.5 14-3.5 3.5-2 3.5-3 5-5.5 2.5-4.5 1.5-4 1-8 -1-8 -2-7.5 -6-10.5 -6-5 -5-3 -14-2.5 0-32.5 9-0.5 28 0 10-1 86-0.5 13-0.5 33 0 25 1.5 25 0.5 16-1.5 8 0 16-5 24-10.5 11-3.5 13-5.5 37-7 9-0.5 8 1 10-1 11 0.5 21 3.5 7 0.5 23 4.5 19 4.5 23 4 18 1.5 16-1.5 36-7 16-0.5 13-1.5 27 0.5 28 3 13-1.5 20-0.5 10-1 36-0.5 14 1.5 26 0.5 14 2 26 0.5 8 1.5 5 0.5 27 0 8 1.5 6 0.5 34-0.5 18 2 14 5 13 7.5 6 8 7 4.5 18 1.5 16 2.5 6 2 10 1.5 24-0.5 8 1 10-1.5 14-3.5 6-0.5 6-1.5 8-0.5 8-1.5 14-0.5 6-1.5 22-0.5 8-1.5 56-0.5 8-1.5 25 0 0 21.5 -61 0 -6 1.5 -10 0 -28 7 -32 11 -15 4 -11 0.5 -8 1.5 -20 1 -4 2.5 -5 1 -7 3 -6.5 4 -9 10 -4.5 6.5 -0.5 3.5 1 4 6.5 8.5 5.5 4.5 7.5 4 8 3 22 4 14 1.5 6 0 10-2 29-13.5 11-4 10-2 20-0.5 6 1 6 2 12 7.5 8 4 12 3.5 6 0 8-1.5 8 0 11-1 0 301.5 -8.5-1.5 -8.5-0.5 -6-1.5 -8-0.5 -6-1.5 -8-0.5 -10-1.5 -28-7.5 -6-0.5 -14-3.5 -8-1 -6-1 -8-1 -8-1.5 -12-0.5 -10 0.5 -10 3 -18 7 -18 9 -12 4 -6 0.5 -23 0 -14-2 -14-3.5 -23-9 -18-9.5 -7-2 -11-3 -13-1 -11-1.5 -25-0.5 -7-1.5 -5-1 -23-0.5 -22 1 -3-0.5 -6-2 -10-0.5 -11 0.5 -5.5 1 -2 2 -2.5 4 -1 4 -0.5 4 1 3 1.5 3 5 4.5 11 6 2 1.5 1 2 0 2 -0.5 2 -2.5 2 -3 1 -9 1.5 -14 0.5 -10 1.5 -27 0 -12-1.5 -18-0.5 -9-1.5 -11-0.5 -17-2 -10-4.5 -10-5.5 -4-1 -11 2 -26-0.5 -24 0 -7 2 -13 0.5 -7 2 -8 0.5 -6 1.5 -8 0.5 -6 1.5 -8 0.5 -6 1 -10 0.5 -7 1.5 -10 0 -8 1.5 -12 0.5 -9 2 -11 0 -7 1.5 -15 0 -8 1.5 -16 0 -8 1.5 -16 0.5 -9 1.5 -66 0zM521.5 422l4.5-1 8-4 3-2.5 2-3.5 0-3 -0.5-3 -7.5-15 -2.5-3 -3.5-2.5 -10-3 -6-0.5 -16 0.5 -5-1 -5-2 -5-4 -3-4.5 -0.5-3 0-4 1.5-5 2-2 4.5-2 5.5-1.5 12-1.5 20 0.5 34 4 12 0.5 11.5-2 6.5-3 3-3 1.5-3 0.5-3 -1-3 -3-4 -17-16 -12-12.5 -2-3.5 -1-3 0.5-3 1.5-3.5 2-2.5 3-3 19-12 6-5 4.5-7 3.5-10 3-4 6-2.5 24-2 5-1.5 5-1.5 5-3 4-3.5 2-2.5 4-7.5 3-3 4-2 4-1 8 0.5 17 4.5 13 2.5 14 1 51 8 16.5 5.5 28.5 13.5 4 1 13 1.5 4 1.5 4 2.5 4 4 1.5 4 0.5 4 -1 10 1.5 6 1.5 4 7.5 12 2.5 7 0.5 8 -2 13 0 3 1.5 4 6 10 14 16.5 3.5 7.5 3 4 5.5 5 10 6 14 4 12 1 7.5 2 23.5 0.5 9-0.5 7-2 14-1 8-2.5 8-4 6.5-4.5 3-4 0-4 -1.5-4.5 -7-7 -7-4.5 -11-6 -5-5 -7.5-5 -4.5-4 -3.5-4 -3-5 -1.5-4 -1-4 1-5 2-3 6-4.5 14.5-8.5 4.5-4 2.5-4 1.5-4 0-3 -5-13 -0.5-4 0-4 2.5-8 7.5-10 1.5-3 1-3 -0.5-3 -2.5-5 -6.5-5 -7.5-3.5 -15-4.5 -11-5.5 -3-3.5 -1.5-6 0-6 0.5-5 2-6 3-5 7-7.5 16-11.5 5-6 1.5-4 0.5-3 -0.5-3 -1.5-4 -3-3.5 -4-2.5 -18-4.5 -10-1 -24 0 -10-1.5 -18-1 -18-3.5 -25-7.5 -24-4.5 -11-0.5 -10-1.5 -30-1 -10-1.5 -10-1 -23 0.5 -17 2.5 -5 1 -17 5.5 -8.5 4.5 -6 4 -3.5 3 -14 15 -8 11 -9.5 9 -9.5 10.5 -7.5 6.5 -8 11 -4.5 5 -5 3.5 -7 3.5 -7 2 -6 0.5 -30-1 -8-2.5 -3-1.5 -3-2.5 -2-2.5 -1-2.5 0-7 2-5.5 11-20.5 1-4 0-4 -2-4 -3-4 -3.5-3 -4.5-3 -8-3.5 -8-1.5 -5-1.5 -12-0.5 -18 1 -6 2 -8 1 -4 1.5 -4 0.5 -26 0.5 -8-2 -13 0 -9-1.5 -4 0.5 -6 2 -9 0 -7 1.5 -13 0 -9 1 -11-0.5 -13 2 -6 1.5 -22 2.5 -10 2.5 -12 1 -3 1.5 -2 2.5 -0.5 4 0.5 4 2.5 9 0 3 -3 11 -2.5 4.5 -2 1.5 -6 2.5 -0.5 1.5 0.5 2 3 3 1.5 2 2 10 1.5 4 3 4 7 3 34 0 3 0.5 3 1.5 3 3 3.5 6 2 11 3 5 7.5 9 18 16 3 4 2 5 8 25 2 8 0 10 -2.5 12 0.5 7 2 6 4 6 3.5 4 4 3 18.5 9.5 6.5 4.5 4.5 6 3.5 12 3 5 3.5 4.5 5 3 8 3 16 3 22 1.5 15 5 9 0.5zM409 186l-12 0.5 -5-1 -2-1.5 -0.5-2 0-3 0.5-3 2-2.5 2-2 7-3 9-1 4 0.5 3 1 2.5 2 1.5 2.5 0.5 2.5 -1 3 -1 2 -2.5 2zM1259.5 341l5.5-1 6 0 12-1 8 0 6-1.5 14 0 6-1.5 12-0.5 6-1.5 4-0.5 8-3 8-4.5 4-4 1.5-2 0.5-2 0-7 -0.5-4 -4-6 -6.5-5.5 -13-7.5 -6-5.5 -5-6.5 -3-6.5 -10-29.5 -7-12 -4-3 -9-4.5 -13-4 -7-1.5 -8 0.5 -4 1.5 -3 2 -2.5 4 -4.5 10 -6.5 10 -1 3 0.5 3 1.5 5 3 5 7.5 8.5 9 7.5 6 4 18 10 2.5 3 1 4 -1.5 4 -12 9 -8 4.5 -16 7.5 -6.5 4 -3 3 -2 3 0 3 0.5 3 1.5 2 2.5 2 3 1 4 0z"/>
<path fill="#212121" d="M427 510l-10 1 -73-0.5 -4 0 -6-1.5 -22-0.5 -6-1.5 -14-0.5 -6-1.5 -10 0 -8-1.5 -10-1 -6-1 -10-0.5 -6-1.5 -8-0.5 -6-1.5 -8-0.5 -6-1.5 -8-0.5 -6-1.5 -8-0.5 -6-1.5 -5 0 0-302.5 3 0 14-4 3.5-2 3.5-3 5-5 3-5 1-4 1-8 -0.5-8 -2.5-8 -6-10 -4.5-4 -6-4 -14.5-2.5 0-32 9-1 28 0 11-1 85 0 13-1 33 0 25 1.5 25 1 16-1.5 8 0 11.5-3.5 24.5-10 18-5.5 22-5.5 9-2.5 19-4 4 0.5 7 1.5 4 0.5 5-0.5 8-1.5 6 0 27 6 17 4.5 26 6 17 3 5 1.5 10 0.5 8 1.5 9 0 6-1.5 7-0.5 24-5.5 6-0.5 5-1.5 17.5-0.5 7.5-1.5 6-0.5 22 0.5 6 1.5 9 0.5 5 1.5 7 0 8 0 7-1.5 22-0.5 8-1.5 32 0 11 1.5 28 0 11 2 30 0 10 1.5 31 0 10 2 36 0.5 8 1.5 16 0.5 5 2 7 1 9.5 5 2.5 2 4 6 2.5 2 7.5 3 18 1 16 3 6 1.5 10 1.5 24-0.5 8 1 10-1.5 14-3.5 6-0.5 6-1.5 9-0.5 7-1.5 14-0.5 6-1.5 22-0.5 8-1.5 56-0.5 9-1.5 24 0 0 21 -61 0 -6 1.5 -10 0.5 -28 7 -33 11 -14 4 -12.5 0.5 -6.5 1.5 -20 1 -4 2 -5.5 1.5 -6.5 2.5 -7.5 4.5 -6.5 7 -6 8 -1 3 -0.5 3 1.5 9 6 7.5 2 1.5 12 5 8 2.5 14 3 14 1.5 8 2 8-0.5 10-2 11-5 12.5-7.5 14.5-7 8-2 4-0.5 18 0 6 0.5 6 2 18 11 4 1.5 9 2.5 7 0 8-1.5 8 0 11-1.5 0 297 -14-1 -7-1.5 -8-0.5 -6-1.5 -8-0.5 -20-4.5 -20-5 -31-6 -9-0.5 -6-1.5 -17-0.5 -11 0.5 -16 4 -18 7.5 -13 7 -12 4.5 -7 0.5 -18-0.5 -21-4.5 -9-3 -22-10 -6-2 -8-5.5 -8-2 -7-1 -5-1.5 -14 0 -8-2 -26 0 -10-1.5 -46 0 -12-2 -25 0 -5 0.5 -18 7 -23 12 -4 3 -1.5 1 -1.5 2 0.5 2 1.5 1 6 2 7 1 6 1.5 10 0.5 6 2 10 0.5 7 3 5 0.5 -5 0.5 -3 1.5 -3 0.5 -15 0.5 -5 1.5 -4 0.5 -24 0 -9-1.5 -20 0 -8-1.5 -11-0.5 -6-1.5 -8-0.5 -6-2 -9-4.5 -7.5-7 -3.5-1 -3 0.5 -12 4.5 -51 0.5 -7 1.5 -14 0.5 -6 1.5 -9 1 -5 1 -9 1 -5 1 -9 0.5 -5 1.5 -10 0.5 -6 1.5 -11 0.5 -7 1.5 -13 0 -7 2 -14 0.5 -6 1 -16 1 -7 1.5 -16 0.5 -7 1.5 -18 0.5 -6 1 -4 0.5 -65 0 -5 0.5zM522 425l4-0.5 12-4 4-3.5 1.5-2 0.5-5 -0.5-4 -1.5-4 -8-14 -4-4.5 -6-3 -10-2 -14-1 -7-1.5 -5.5-2 -3-2 -4.5-4.5 -0.5-4.5 0.5-2.5 2-1.5 8-3 5-0.5 5-1.5 16-0.5 13 2 23 5.5 8 0 8 1.5 7-1.5 10-1.5 7-2.5 8-5 2-2 2.5-5 -0.5-3.5 -2-3 -5.5-5.5 -11.5-7.5 -11-8.5 -12.5-11 -3.5-4.5 -0.5-2.5 0.5-1.5 2-2.5 4.5-3 17.5-10 10-8 3.5-5 1.5-11 1-2 1-1 3-1.5 3-0.5 27-1 12.5-4 7-4 4.5-4 1.5-3 -1-6 0.5-3 1.5-2 3.5-1 6 0.5 7.5 2.5 8.5 2 9 1 6 1 11 0.5 7 1.5 10 0.5 5 1.5 6 0.5 6 1.5 7 0.5 5 1.5 6 1 9 2 8 2.5 11.5 4.5 7.5 4 12 7 7-1 6 0 5 1 5 2.5 3.5 3.5 1.5 4 0.5 4 -0.5 10 0.5 5 2 4 7.5 12 2 7 0.5 6 -1.5 5 -3 5.5 -4.5 3.5 1.5 4 2 4 8 12 4 4.5 12 12.5 2.5 7 3.5 6 4 4 5.5 3 10.5 3.5 8 1 5 1.5 11 0.5 8 2 8 0 25 0 11-2 10 0.5 10-3 5-2 9-6 4-3 2.5-5 0-5 -3-4 -7-6 -19-12 -4.5-6 -6.5-5 -5.5-6 -5-7.5 -1-2.5 -0.5-3 0.5-3 3-3 3-2 11-5 6.5-4 5-4 3.5-5 2-6 0-7 -1-2.5 -4-3.5 -2-5 -0.5-5 2.5-6 4-4.5 6-5 3-4.5 1.5-4 0-4 -0.5-2 -4-6 -7-6 -14-5.5 -13-3.5 -6-3 -6-4 -1-10 1-4 3-6 7-8 8-5 16-6 13-6.5 7.5-2.5 5.5-3.5 2-2.5 2-4 0-2 -1-2 -3.5-4 -3-2 -18.5-7 -7-0.5 -6-1.5 -15-0.5 -7-2 -34-0.5 -8-1.5 -19-1 -18-4 -25-7 -6-1 -5-1.5 -7-0.5 -5-1.5 -11-0.5 -8-1.5 -33-0.5 -10-1.5 -41 0 -6 1.5 -9 1 -14 4 -5 2 -12 6 -6 4 -11 12 -18 21.5 -9 9 -15 13 -9 11 -5.5 5 -6.5 3.5 -8 2 -21 0.5 -9-0.5 -8-2 -3-1.5 -5-3.5 -0.5-4.5 0.5-4 5.5-8 8.5-15.5 1.5-3.5 0-4 -1.5-4.5 -1.5-2.5 -6.5-6 -8-4.5 -9-3 -7-1 -6-1.5 -18 0 -14 0.5 -5 1.5 -7 1 -6 1.5 -24 0 -4 0 -6-1.5 -14-0.5 -6-1.5 -8 0 -9 1.5 -10 0.5 -6 1.5 -13 0 -6 1.5 -12 0.5 -6 1.5 -7 0.5 -5 1.5 -10 0 -6-0.5 -16 2.5 -4-0.5 -4-2 -1.5-1.5 -3.5-6 -2-2 -5-0.5 -3 0.5 -3 1.5 -1 2.5 0 5 2 5 2.5 12 3 10 1 6 -1 6 -1.5 3 -2 3 -7 6.5 -2 3.5 0 3 1.5 3 0.5 4 -1 2 -5 4 0.5 2 1.5 2.5 6.5 3.5 7.5 3 5 0.5 5 2 34 1 3 1 3 2.5 2 3 2 5 1 10 3 6.5 8 9 17.5 15.5 2.5 3 1.5 3 2.5 8 0.5 6 7.5 20 -0.5 7 -2.5 9 -0.5 7 0.5 10 1 4 2 3 11 11 16 7 11 7 3 5 1.5 11 2.5 7 2 3 4.5 4 4.5 2 8 2.5 12 0.5 6 1.5 20 0.5 17 4zM407 183.5l-6 0.5 -6.5-1 -1.5-1 0-1 0.5-3 2.5-2.5 8-3 8 0 4 1 1 2.5 -1 2.5 -4 3zM1246 355l7-2.5 13-7 10-3 9-2 6-0.5 6-1.5 14-0.5 6-1.5 12-0.5 12-2.5 6-2 10-5.5 4-4 1.5-4 0-11 -1.5-5 -4-4.5 -3-2.5 -15-9 -5.5-6 -4-6 -6.5-13 -8.5-25 -6.5-9.5 -2-2 -6-3.5 -11-4.5 -14-4 -8-2 -2 0 -8 2 -3.5 2.5 -4.5 13 -4 6 -3.5 3 -2.5 3 -1.5 4 0.5 4 3.5 8 5.5 7.5 15 12.5 13.5 9 4.5 3.5 7 4.5 2 2 0 2 -12 9.5 -6 3 -6 2.5 -15 4.5 -13 3.5 -12 5 -10 6 -2 2.5 -1 3.5 0 4.5 1 3.5 4 4.5 7.5 5.5 3.5 0.5 7 0.5 7-0.5z"/>
<path fill="#242424" d="M423 509l-77 0.5 -6-0.5 -6-1.5 -20 0 -8-2 -12-0.5 -7-1.5 -9-0.5 -8-1.5 -8-0.5 -8-1.5 -11-0.5 -6-1 -8-0.5 -6-1.5 -7-0.5 -8-1.5 -8-1 -18-4 -7 0 0-299.5 3-0.5 14-4 4-2 3.5-3 4.5-5 3-5 1.5-4 0.5-8 -0.5-8 -2.5-8 -4-7.5 -2-2.5 -4-4 -6-4 -4-1 -11-1.5 0-32 9-1 28 0 11-0.5 85-0.5 14-1 32 0 24 1.5 26 1 16-1.5 8 0 13-3.5 13-5.5 16-5.5 14-4 7-1 41-9.5 10 2.5 6 0.5 6-0.5 7-2 3 0 4 1.5 7 1.5 41 11.5 15 3 27 7.5 16 2.5 14-0.5 35-7 15-2 16-0.5 15-1.5 13 0 24 3 11 0 16-1 18 0 14-0.5 32 1 24-3 6 0 10 1 29-1.5 6 0.5 7 1.5 26-0.5 7 0.5 7 2 31 0.5 13 2.5 16 0.5 12 2.5 8 4 7 6 5 3.5 8 2 18 1 15 2 7 2 10 2 24-1 8 1 10-1.5 14-3.5 6-0.5 6-1.5 9-0.5 7-1.5 14-0.5 6-1 22-1 8-1.5 56 0 10-2 23 0 0 21 -61 0 -6 1.5 -10 0.5 -28 6.5 -33 11.5 -14 3.5 -13 1 -6 1 -20 1 -4 2.5 -6 1.5 -7.5 3 -6.5 4 -6 6 -7 10 -1 3 -0.5 9 0.5 3.5 2 3.5 4 5.5 2 2 26 10 10 2.5 12 1.5 10 4.5 4.5 3 2.5 4 1.5 5 0 5 -3 9 -0.5 4 1 8 2 5.5 4 6 4 4.5 14 12 8.5 6 4.5 5 2 4 1 4 -1 4 -2.5 4 -3.5 3 -5 3 -7 2.5 -21 6 -7.5 2.5 -12.5 7 -3.5 3 -2 4 -0.5 4 0 4 1 4 3 4 6 5.5 4 2 3 0.5 13 0 8-1 6-2 15-8.5 7-3 21-5 15-1 6-1.5 14-1 10-2 6-2 10-5 4-3.5 2-4 1-12.5 -1-6 -6-7 -11-7 -6-5 -4-5.5 -10-17.5 -5-18 -2-5.5 -2-4 -4-5 -6-5 -6-3 -21-9.5 -5.5-4 -2-3 -0.5-4 1-4 2.5-4 4.5-4 4.5-3 9.5-3.5 9-0.5 14 0 4 0.5 5 2 13 8 8 4.5 9.5 2 8.5 0 8-1.5 19-1 0 293 -11 0 -7.5-1.5 -10.5-0.5 -32-6 -28-7 -8-1 -14-3 -9-1 -7-1.5 -6 0 -24 0.5 -12 2 -6 1.5 -16 6 -16 7.5 -8 3 -8 1 -12 0 -5-0.5 -9-2 -10-3 -12.5-5 -19.5-9.5 -13.5-5.5 -8.5-2 -14-1.5 -12 0 -8-1 -26 0 -9-1 -32 0.5 -17-0.5 -9-1 -30 0 -5 0.5 -20 6 -24 12 -6 4 -1 2 -4 9 -2 2.5 -4.5 2.5 -6.5 1.5 -6 0 -7-1 -11 0 -14-2.5 -8-2.5 -4-2 -10-7.5 -3-1 -3-0.5 -3 0.5 -12 4 -4 1 -47 1 -9 1.5 -14 0.5 -34 5 -23 2.5 -5 1 -12 0.5 -8 1.5 -13 0 -7 1.5 -14 1 -8 2 -14 0.5 -8 2 -14 0.5 -8 1.5 -17 0 -7 1.5 -6 0.5 -65 0zM503 430l24-1 9-2.5 6-3.5 4.5-4 1-2 1-4 0-8 -2.5-19 0.5-5 2-4 3.5-3 6-2.5 28-8 7-2.5 3.5-2 5.5-4 4-5 2-5 0-3 -1-4 -4-6 -9.5-10 -5-7 -3-7 -1-6 1-5 2.5-6 12-15 7-10.5 4-3.5 5-2 18-3.5 12-3.5 11.5-6 10.5-8.5 3.5-1.5 4.5-0.5 14-0.5 17 1.5 8 1 10 1 25 4 20 5 7 2.5 7 2.5 13 6.5 6 3.5 4 5 4 8.5 4.5 12 3.5 14 2 5 5.5 11 8.5 13 7 15 4 6 6 7 11.5 11 9 15 3 3 3 2 7.5 3 9 2 33 3.5 35 0 10-1.5 8 0.5 12-3 6-2.5 9-6 3.5-3 3-6 1-5 -0.5-2 -10.5-8 -13.5-9 -7-6 -7-9 -3-5 -2-5 -0.5-5 1-4 2-3 14.5-12.5 5-5.5 2-4 1.5-5 0.5-9 -0.5-4 -2-7 0-4 2-5 5.5-8 3-6 1-4 0-5 -1-4 -2-3.5 -7-8 -4-3 -11.5-6.5 -7-6 -2.5-3 -1-3 -1-3 0-4 1-4 2-4 2.5-3 3-3 21.5-13.5 11-5.5 6-5 2-2.5 1-3.5 0-4 -0.5-2 -3.5-4 -5-3.5 -18-5.5 -14-2.5 -14-0.5 -9-2 -33-2.5 -20-4.5 -22-7 -27-5.5 -39-4.5 -30-0.5 -14-1.5 -46 1 -15 2 -12 2.5 -8 3 -14 7 -6 5.5 -10 12.5 -5 7.5 -9 10 -5 6.5 -5 5 -8 5.5 -10 8.5 -14 10.5 -8 3 -10 1 -6-0.5 -5-2 -4-3 -3-3.5 -2-4 -0.5-4 0-14 -1-6 -1.5-4 -2.5-4 -4-4 -8.5-6 -4-1.5 -8-2 -7-0.5 -7-1.5 -10 0 -22 1 -6 1 -7 1 -7 1 -18 0 -7 0 -7-1.5 -12-0.5 -8-1.5 -10 0 -10 1.5 -8 0.5 -8 1 -10 0.5 -8 1.5 -11 0.5 -19 3 -6 0 -8-1.5 -14 2 -3-0.5 -3-1.5 -7-6 -5-2 -5 0 -5.5 2 -1.5 2 -0.5 8 2.5 11 5 15 0.5 8 -0.5 3 -2 4 -9 11 -1.5 4 1 7 -1 2 -3 3 -1 2 0.5 2 1 2.5 5 3.5 10 4 5 0.5 6 2 29 2 5 1.5 3.5 3 3.5 7 2 11 3 6 12 14.5 11 11.5 2.5 4 2 5 8.5 28 0 4 -1.5 12 0 11 0.5 7 1.5 5 2 3 11.5 13 13 9.5 7 6.5 4 6 6 13 5 6 3 2.5 4 2 12 4 20 2.5 14 1 20 2zM843 323.5l-3 0 -4-3.5 -6-8 -4-7 -9.5-34 0-5 2.5-2.5 5-0.5 5 1.5 4 3 2 3.5 0.5 4 -0.5 11 1 4 2 5 7 11 2 6 0 4 -0.5 3 -1.5 2.5zM524 376l-4 0 -4.5-1 -3.5-1 -3-2 -1-2 -0.5-3 1-3 2-2 3.5-2.5 4-0.5 8 1.5 4 2.5 1.5 2 1.5 3 0 2 -0.5 2 -1.5 2 -2 1z"/>
<path fill="#262626" d="M384 508l-38 0.5 -5-0.5 -7-2 -20-0.5 -7-1.5 -13-0.5 -6-1.5 -10-0.5 -6-1.5 -10-0.5 -6-1 -12-1 -6-1 -8-0.5 -6-1.5 -8-0.5 -6-1.5 -9-1 -17-3.5 -9-1 0-297.5 3-0.5 14-3.5 4-2.5 3.5-3 5-5 3-5 1-4 1-8 -1-8 -2-8 -4.5-8 -2-2.5 -4-3.5 -6-4 -4-1 -11-2 0-31.5 7-0.5 30 0 12-1 84-0.5 14-1 32 0 24 2 26 0.5 16-1 8 0 14.5-4 11.5-5 12-4 18-4.5 6-1 42-8.5 14 3 6 0.5 10-1.5 12 2.5 62.5 16.5 13.5 4.5 15 7 6 1 9-0.5 38-8 21-2.5 40-1 16 1 14 1.5 35-0.5 50 2.5 6-1 12-5.5 8-2 6-0.5 13 0.5 16-2 9-0.5 15 1.5 18-0.5 9 0.5 13 2 26 1 17 3 15 1 11 2.5 5 1.5 5 2.5 11 7 3 1 7 1 18 1 15 2 7 1.5 10 2 24-0.5 8 1 36-7 9-1 7-1 14-0.5 6-1.5 22-0.5 8-1.5 56-0.5 10-1.5 23-0.5 0 21 -61 0 -6 1.5 -10 0.5 -28 6.5 -40 13.5 -8 1.5 -12 1 -6 1 -18 0.5 -2 0.5 -4 2.5 -6 1 -6 2.5 -8.5 5 -6 6 -5.5 7 -2.5 5 -1 11 0.5 4 3 5.5 3 4 3 2.5 6 3.5 14 6 25 7.5 5.5 3 4.5 4 3 4 1.5 4 1 5 0 9 1 6 1.5 5 3 5.5 4 5.5 6 6 18 15 3 4 1.5 3 1 5 -1 4 -1.5 3 -4.5 4 -8.5 4 -20 6 -8.5 3 -12.5 7 -4 4 -2 4 -1 6 0.5 4 1.5 4 4 5.5 5 4.5 4 2 5 0.5 10 0 10-1.5 7.5-3 13.5-7.5 8-4 21-5.5 14-1 6-1.5 14-1 10-2 6-2 10-4.5 4-3.5 2.5-4.5 1-6 0.5-9 0-3 -2-3.5 -6-7 -13-10 -6-7.5 -8.5-15 -6.5-20 -2-5 -4-6 -4-4 -5-4 -22-11.5 -4-2.5 -2.5-3 -2-4 0-4 1-3 3.5-4.5 4-3.5 9-3.5 8-1 14 0 4 0.5 6 2.5 18.5 11.5 9.5 2 8 0.5 10-1.5 19-1.5 0 291 -9 0 -20-2.5 -32-5.5 -28-6.5 -22-4.5 -14-2 -6 0 -26 0.5 -12 1.5 -10 3 -36 13 -8 1 -10 0 -12-1.5 -13-4 -12-5 -25-12.5 -7-2.5 -7-1.5 -38-1.5 -23 1 -12-1 -31 0.5 -18-0.5 -8-0.5 -31 0 -4 0 -14.5 3.5 -11.5 4 -24 12.5 -4 3.5 -5.5 7 -3.5 3 -5 2 -6 1 -18 0 -15-2 -10-3.5 -12.5-7.5 -5.5-0.5 -4 0.5 -12 3.5 -6 1 -16 1 -28 0 -10 2 -14 0 -34 5 -29 3 -19 1.5 -13 0.5 -20 2.5 -10 2 -12 1 -10 2 -12 0.5 -8 1.5 -18 0.5 -7 1.5 -5 0 -65 0 -13 2zM508.5 436l13.5-1 8-1.5 8-3 6.5-4.5 4.5-4.5 2-4.5 2-7 2-18 1.5-5 3-5 4.5-4 5-3.5 9.5-4.5 11.5-5 7-4 7-5 4-5 1.5-3 0.5-3 0-3 -0.5-4 -3-6 -7-11 -3-6 -2-6 -0.5-6 1-6 3-7 5-8 7-9.5 5-4.5 6-3 27-9 23-12 5-1.5 6-1 10 0 16 0.5 19 2 23 4 15 4 9 3 22 10 6 3.5 4 4.5 3 5.5 3.5 9.5 5.5 19 5.5 11 8 14 4.5 13 3 6 7 9 14 14 10 13 4 4 4 2 7 2.5 10 2 22 1.5 7 1.5 19 0 21 0 9-1.5 9 0.5 13-3 7-3.5 9-6 3-3 1.5-3 1-4 0.5-4 -0.5-2 -1.5-2 -22.5-16 -6-6 -3-4 -4-7 -2-5 -0.5-5 1-4 2-4 14-15.5 2.5-3.5 2-4 1.5-4 0.5-7 0-17 1.5-5 6.5-15 1-4 -0.5-5 -2-7 -4-5.5 -6-6.5 -11.5-9 -3.5-4 -3-6 -0.5-6 1-4 1-3 1.5-3 3.5-4 13-10 14.5-8.5 6-5.5 2-3 1-3 0-4 -1.5-4 -2.5-3 -3.5-3 -7.5-3 -27-6 -16-1 -43-6.5 -11.5-4.5 -11.5-8 -4-2 -8-2.5 -16-3 -32-3 -64-3 -31 0 -19 1.5 -16 2.5 -14 3.5 -13 4.5 -8 4 -3 2.5 -2 2.5 -15.5 25.5 -16.5 18.5 -18 13.5 -8 5 -10 4.5 -8 1 -5-0.5 -5-1.5 -4-2.5 -3.5-3 -3.5-6.5 -3.5-12.5 -2-6 -2.5-4 -3.5-4 -5.5-4 -6.5-4 -11.5-3 -14-2 -10-0.5 -22 1.5 -18 3 -9 0.5 -16-0.5 -7-1 -13-0.5 -9-1.5 -11 0 -9 1 -10 0.5 -7 1 -29 2 -18 2.5 -14-1.5 -12 1.5 -6-1 -10-6 -4-1 -6 0.5 -6 2.5 -1.5 4 0 6 2 10 5 16 0.5 8 -0.5 4 -2 3 -7.5 10 -2 3.5 -0.5 2.5 0.5 6 -1 2 -3 3.5 0 4 2 3 3 2.5 9 4 14 3.5 20 1.5 7 1.5 5 1.5 4 3.5 3 6 2.5 10.5 2.5 5.5 8 11 12.5 15.5 3 5 2 5 5.5 18 2 8 0 25 1 11 3 7.5 7.5 10.5 5.5 6.5 14 14.5 16 22 5.5 5 6.5 4 12 4.5 19 3 29 2.5zM841 316l-1 0.5 -2-0.5 -3-2.5 -3-4.5 -3-6 -3.5-14 -5-15 0-4 1.5-2 1-0.5 2 0 3 1 2 1.5 1.5 2 0.5 4 -1 10 0.5 4 2.5 5 6 8.5 2 4.5 1 5 -1 2zM735.5 415l7-1 6.5-2 5.5-3 4.5-4 3-4.5 0.5-5.5 -1.5-4 -3-4 -5.5-3 -6.5-2 -7-0.5 -8 0 -8.5 1.5 -6.5 2 -7.5 4 -4 4 -1.5 4 0 3 1 3 4 4 6.5 4 5.5 2 9 2z"/>
<path fill="#282828" d="M418 506l-52 1 -22-0.5 -10-2 -18-0.5 -9-1.5 -13-0.5 -6-1.5 -26-2.5 -6-1 -12-1 -42-5.5 -18-4.5 -9-0.5 0-296 3 0 14-4 4-2 4-3.5 4.5-5 3-5 1-4 1-8 -1-8 -2-8 -4.5-8 -2-2.5 -6-5.5 -4-2.5 -4-1 -11-1.5 0-31.5 7-0.5 30 0 12-1 84 0 14-1 32 0 24 1.5 26 1 24-1.5 15.5-4 11.5-5 11-3.5 18-4 16-3 31-4 15 2.5 16 0.5 8 1 55 13.5 11 3.5 9 3.5 8 5 4.5 4 2.5 3 1 3 1 6 -0.5 4 -1.5 6 -2.5 6 -4.5 8 -4 6 -11 13.5 -8 7 -12 8 -6 3.5 -7 2.5 -7 2 -5 0 -5-1 -5-2 -4-3 -5-6.5 -5.5-12 -3.5-6 -5.5-6 -6.5-4.5 -5-3 -4-1.5 -7-1.5 -13-2 -14 0 -44 4.5 -19-0.5 -18-1 -11-2 -11 0 -18 1.5 -9 1 -28 1.5 -18 2 -14-1 -12 1 -6-1 -10-4.5 -6-1 -4 0.5 -4 1.5 -2 1 -1.5 2 -0.5 3 -0.5 6 2.5 11 4.5 15 0.5 8 -0.5 3 -1.5 4 -7 9 -2 4 -1 3 0 6 -3.5 6 0 3 0.5 2 4 4 8 4 16 4 25 3.5 6 2.5 4 4 2.5 5 3 10 3.5 7.5 17 25.5 3.5 6 2.5 6 3.5 12 2 10 1 27 1 10 4 10 8.5 14 28.5 37 7.5 7 8 5.5 12 5.5 15 3.5 20 2.5 22 1 17-0.5 15-2.5 10-3 8-5 6-5.5 4-6.5 3-7 4-18 3-6 3-4.5 4.5-4.5 5.5-4.5 23-14 5-4.5 3-3 3.5-7 0.5-7 -2-7 -7.5-18 -1.5-6 0-6 1.5-7 2.5-6 4-7 5-6 7-6 7.5-4 21.5-8 21-9.5 6-2 7-1 14-0.5 18 1 16 2 16 3 12 3 11 4 25 11.5 5 3 4 4.5 3 6 7.5 23 12 24 4.5 16 3.5 7 6.5 8.5 14 13.5 10 11 5 4 6 3.5 7 2.5 9 1.5 31 3 39 0 10-1.5 8 1 17-4.5 7.5-3.5 6-4 3.5-4 2-4 1.5-6 -0.5-4 -3-3.5 -19-13.5 -5.5-5 -3.5-4 -2.5-5 -2-5 -1-4 0-6 2.5-6 13-16.5 3-4.5 1.5-4 1.5-9 1.5-18 6-18 1-7 -0.5-7 -3-6 -5-7 -12-12 -3-4 -3-6 -1-6 0.5-4 1.5-4 2.5-4 3.5-4 9-8 14-9 6-5.5 1.5-2.5 1-3 0-6 -2-4 -3.5-3.5 -4-3 -4-1.5 -30-6.5 -17-1.5 -26-6 -12-1.5 -5-1.5 -4.5-2 -3.5-2.5 -2.5-2.5 -1.5-3 -0.5-3 1-10 1-2 3-4 4.5-2.5 8-1.5 15-0.5 13.5-2.5 7.5-1 7 0 11 1 18-0.5 8 0 16 3 23 1 17 3.5 18 2 13 3.5 14 6.5 6 2 7 0.5 18 0.5 14 2 13.5 3 5.5 0.5 23-0.5 8 1 36-7 9-0.5 7-1.5 14-0.5 6-1.5 22-0.5 8-1.5 56-0.5 10-1.5 23 0 0 20 -61 0.5 -6 1.5 -10 0.5 -28 6.5 -12 3.5 -26 9 -8 2 -14 1 -6 1.5 -18 0.5 -2 0.5 -4 2 -6 1.5 -6 2 -9 5.5 -6 6 -5 6.5 -2 3 -1 2.5 -1.5 12 1 5 3.5 6.5 4 5 4 3 6 4 8 3.5 24 8.5 6 3.5 4 3 3 4 2 4 5.5 20 5.5 10 8 9 17 15 2.5 3 2 4 0.5 5 -0.5 4 -3 4 -3.5 3 -7 3.5 -18 5.5 -10 4 -12 6.5 -3 2.5 -2 3 -2 5 -0.5 6 0.5 4 2 5 4 5 5 4 4 2 6 1 10-0.5 10-2 8-3 15-9 6-2.5 21-6.5 14-1 7-1.5 13.5-1 15.5-4 9.5-4 2.5-2 3.5-4 1.5-3 1.5-6 1-9 -1-4 -1.5-3 -5-6.5 -13.5-12.5 -6.5-8.5 -7.5-12.5 -7-20 -3-6 -2.5-4 -4-4 -5-4 -20-11.5 -4-2.5 -3.5-4 -1.5-4 0-4 1.5-4 2.5-3 4-3 8-3.5 8-0.5 12 0 4 0.5 6 2.5 18 11.5 10 2 8 0.5 10-1.5 19-1.5 0 288.5 -11 0 -28-3.5 -22-4 -28-6.5 -22-4.5 -16-2 -28 0 -14 2 -11 3 -33 10.5 -8 1 -8 0.5 -13-1.5 -15-4 -14-6.5 -22-12 -6-2.5 -6-1 -8-0.5 -56 2 -13-0.5 -30 1 -25-1 -33 0 -4 0.5 -14 2.5 -11 3.5 -25 12 -4.5 3 -7.5 7 -4 2.5 -6 2 -6 1 -14 0.5 -14-1.5 -10-3 -13-6.5 -6-1 -5 0.5 -14 4 -7 1 -41 1 -10 1.5 -13 0.5 -14 1.5 -20 3 -28 2.5 -37 1.5 -14 2 -13 3.5 -12 1 -9 1.5 -13 1 -8 1.5 -17 0.5 -8 1.5 -8 0.5 -62-0.5zM738 422l8-1.5 9-3.5 8.5-6 4.5-5.5 2.5-6.5 0.5-7 -0.5-3 -1.5-4 -4-5 -6-4 -7-2 -9-1.5 -10 0.5 -11 2 -10 3 -7.5 4 -5.5 4.5 -2 2.5 -2 4 -0.5 6 1.5 6 4 5 7.5 5 8.5 4 12 3z"/>
<path fill="#2a2a2a" d="M371 505l-25 0 -12-2 -16-0.5 -10-1.5 -12-0.5 -80-9.5 -14-2 -18-4.5 -9-1 0-293.5 3-0.5 14-4 4-2 4-3.5 5-5 2.5-5 1.5-5 0.5-7 -0.5-8 -2.5-8 -4-8 -2.5-3 -6-5 -4-2.5 -4-1 -11-1.5 0-31 7-1 30 0 12-0.5 84-0.5 14-1 32 0 24 1.5 26 1 24-1 2.5-0.5 14-4 10.5-4.5 9-3 18-4 20-3 14-1.5 13-0.5 18 2.5 15 1.5 10 1.5 48 11 11 3 9 4 7 4.5 5 4.5 2.5 4 1.5 4 0.5 4 0 6 -1.5 6 -2.5 6 -6 10 -10.5 12.5 -9 7 -9 5.5 -6 3 -6 2.5 -6 1 -4 0 -5-0.5 -4-1.5 -4-2 -6-5.5 -10-16 -7-7.5 -6.5-4.5 -5.5-3.5 -6-2 -7-1 -13-1.5 -10 0 -40 4.5 -6 0 -34-1 -12-1.5 -12-0.5 -74 4.5 -14-0.5 -12 1 -6-0.5 -10-4 -6-0.5 -4 0.5 -4 1.5 -2 1 -2 2 -1.5 5.5 0.5 5 1.5 9 5 16 1 4 0 4 -2 6 -7 10 -3 6 -0.5 6 -3 7 -0.5 3 1 2 3.5 4 7.5 4 17.5 5 18 2.5 6 1.5 6 2.5 4 4.5 2 4 4 11.5 3 7 5 9 11 17.5 4.5 10 3 10 2 10 1 8 0.5 22 1 7 1 6 3 8 5 10 14 22.5 10 13.5 8 9.5 9 7.5 10 5.5 13 5 16 3.5 18 2.5 18 1 21-1.5 9-1 8-2 6-2 6-3 5-3 5-4.5 4.5-5.5 4-7 8.5-24 5.5-10 4-5 5.5-5 23-17.5 4-4.5 3.5-6 1.5-6 -0.5-6 -6-20 -1-10 0.5-6 1.5-5 2.5-6 3-5 4-4.5 4-4 5-3.5 6-3.5 36-14.5 8-2.5 8-1 14-1 17 1 17 1.5 15 3 11 3.5 11 4 29 15.5 4 4.5 3 6 6.5 19.5 10 22 3 16 4 8 3.5 5 4.5 5 24.5 22 7 5.5 6 3.5 7 2 10 1.5 31 2.5 40 0 10-1 8 0.5 18-4 7-3 6.5-4.5 4-4 2.5-5 1-6 -1-4 -3-4 -18-13 -5.5-5 -5-7 -2-5 -1-4 0-6 2-6 3-5 10-13 4.5-9 2-8 2-18 5-17.5 1-7.5 -0.5-7 -3-7 -4.5-7 -14-16 -2.5-6 -1-7 1-5 1.5-4 6-8 6.5-6 13.5-9 5.5-5 1.5-3 1-3 0.5-4 -0.5-3 -2-4 -3-4 -4-2.5 -4-1.5 -33-7.5 -14-1 -7-1.5 -8-2 -13-5 -12-2 -6-2 -2.5-2 -2.5-3 -1-3 0-4 0.5-4 1.5-3 3-3 3-1.5 5-1 13 0 14-4 8-1.5 6 0 12 1 16-1 8 0 18 3 21 1 19 4.5 16 2 14 4 19 6 27 1 14 1.5 8 2 9 1.5 25-0.5 8 1 36-7 9-0.5 7-1.5 14-0.5 6-1.5 22-0.5 10-1.5 54-0.5 8-1.5 25 0 0 20 -61 0.5 -6 1.5 -10 0 -28 7 -12 3.5 -26 9 -8 2 -14 1 -6 1.5 -18 0.5 -2 0.5 -5 2.5 -5 1 -6 2 -9.5 5.5 -6 6 -4.5 6 -3 5 -2.5 13 1.5 6.5 3.5 7.5 4.5 6 6 5.5 8 4.5 16 5 8 3.5 6 3.5 5 4 5 7 7.5 19 5.5 9 7 8 16.5 15 2.5 3 2 4 0.5 5 -0.5 4 -2 3 -4 3.5 -8 4 -17.5 5.5 -10 4 -10.5 6 -3.5 3 -2.5 4 -2 6 -0.5 5 0.5 5 2.5 5 4 5 4.5 3.5 6 3 6 1 10-1 10-2.5 8-3 21-12 21-6.5 6-1 8-0.5 7-1.5 15-1.5 14-3.5 6-2.5 6-3.5 4-4 2-4.5 2-8 0.5-6 -0.5-4 -2-4 -6-8 -12-12 -7-9 -6.5-12 -8.5-21 -6-9 -8-7 -19-11 -6-5 -2-3 -1-4 1-4 2-4 4-3 7-3.5 8-1 12 0 4 0.5 5 2 17 11 4 1.5 9 1.5 7 0 10-1.5 19-1.5 0 287 -11-0.5 -26-3 -24-4.5 -50-10.5 -14-2 -6 0 -22 0 -8 1 -16 3 -38 10 -10 1 -10-0.5 -12-2.5 -12-4 -13-6.5 -21-13.5 -6-2 -6-0.5 -26 3 -38 2 -13 0 -30 1.5 -24-1 -38 0.5 -17 3 -7.5 2 -25.5 11.5 -13 9 -5 2.5 -7 2.5 -9 1 -11 0.5 -12-1.5 -8-2 -13-6 -7-0.5 -5 0.5 -15 3.5 -11 1.5 -37 1 -11 1.5 -11 0.5 -13 1 -20 3 -29 2.5 -39 0.5 -10 2 -14 3.5 -22 3.5 -22 2.5 -17 0.5 -10 1.5 -19 0.5 -25-1 -21 0 -16 2zM739.5 425l8.5-2 9.5-4 8.5-6 5-6.5 3.5-7.5 1-4 0-5 -0.5-4 -1.5-4 -4.5-6 -5.5-4 -7.5-2.5 -9-1 -11 0 -12 2 -14 4.5 -8 4 -5 4 -3 3.5 -2 3.5 -1.5 7 0.5 4 1 3.5 2 3.5 3 3 8 6 12 5.5 12 2.5z"/>
<path fill="#2c2c2c" d="M371 503l-25 0 -12-1.5 -38-3 -40-4.5 -12-1 -40-5.5 -20-5 -9-0.5 0-292 3-0.5 14-3.5 4-2.5 4.5-3.5 4.5-5 3-5 1-5 1-7 -1-8 -2.5-8 -4-8 -2.5-3 -6-5 -4-2.5 -4-1 -11-1.5 0-31 7-0.5 30-0.5 12-0.5 84-0.5 14-1 32 0 25 2 29 1 23-2 14.5-4 10.5-4.5 8-2.5 20-4 18-2.5 21-0.5 9 0.5 16 3 26 3.5 22 4.5 20 4.5 11 3 9 4 7 4 5 5 2.5 4 1.5 4 1 4 -0.5 6 -3 10 -5.5 10 -9.5 11 -9.5 7 -7 4 -6 3 -6 1.5 -5 1 -5 0 -4-1 -4-1 -4-2.5 -6-5 -10.5-14 -8.5-8 -6-4.5 -5-2.5 -6-2 -6-1 -14-1.5 -9 0.5 -45 4.5 -36-1 -12-2 -8 0 -22 0.5 -10 1 -26 0.5 -20 1.5 -16-0.5 -12 1 -6-1 -9-2.5 -5 0 -4 0.5 -4 1 -2.5 1.5 -2 2 -1.5 6 0 5 2 10 5 15 0.5 4 0 4 -0.5 4 -1.5 3 -7.5 11 -1.5 4 -1 6 -3.5 7 0.5 4 1.5 3 2 2 8 4.5 4.5 1.5 13.5 3.5 23 4.5 6 3 4.5 5 2 4 6.5 18.5 4 8.5 11 20 5 14 2 8 1.5 8 1 32 1.5 8 2.5 8 3.5 9 5.5 12 12.5 22 8 10.5 8 8.5 9 7 11 6 13 4.5 16 4 18 2.5 16 1 24-1.5 10-1 9-2 7-2.5 6-3 5-3 5-4.5 5.5-6.5 5-8 3.5-8 7-20 6.5-11 8.5-10 21-18 3.5-4 3-5 1.5-6 0.5-6 -1-6 -4-16 -0.5-9 0.5-5 1.5-5 2.5-5 3-5 4-5 5-4 5.5-3.5 6.5-3.5 28.5-11.5 9-2.5 9-1.5 14-0.5 16 0.5 16 1.5 14 2.5 11 3.5 11 4.5 9.5 5.5 11.5 8 7 6.5 4.5 7.5 12.5 34 4 18 1.5 4 3 5 6 7 9.5 8 25 20 5 3.5 5 2.5 8 2.5 12 1.5 31 2 39 0 11-1 8 0.5 19-4 7-3 6-4 4.5-4.5 3.5-6 1-6 -1.5-4 -4-5 -16.5-11.5 -6-5.5 -4.5-7 -2-8 0-7 2.5-6 3-5 9.5-13 4.5-10 2-8 3-18 3.5-16 1-7 -0.5-7 -2-7 -4.5-7 -10.5-13 -3.5-5 -3-7 -0.5-6 0.5-4 1.5-4 5.5-8 5-5 14.5-10 5-5 2.5-4 0.5-3 0.5-3 -0.5-4 -1.5-4 -3.5-4 -4-3 -4-1.5 -20-3.5 -16-4.5 -18-1.5 -6-1.5 -5-2.5 -13-7.5 -11-4 -2-1.5 -2-3 0-2 1-2 3-2.5 11-2 14-7 9-2.5 7-0.5 14 1 14-1.5 7 0 6 1 14 3 15 0.5 7 0.5 17 5.5 15 1.5 14 4 19 4 29 0.5 14 1.5 8 2 10 1.5 24-0.5 8 1 10-1.5 13-3 7-1 6-1.5 10-0.5 6-1.5 14-0.5 6-1.5 22-0.5 10-1.5 54-0.5 8-1.5 25 0 0 20 -61 0 -6 1.5 -10 0.5 -28 6.5 -12 3.5 -20 7.5 -14 4 -14 1 -6 1 -18 1 -2 0 -5 2.5 -5 1 -6 2 -7 4 -2.5 2 -6.5 6 -6 8 -1.5 4 -2.5 12 1 7 2.5 8 3.5 5.5 7 9 3 2.5 3 2 14 3.5 10 3.5 7 4 5 4 6 7.5 9 17.5 5 8 6 7 16.5 15 2.5 3.5 2 3.5 0.5 4 -0.5 4 -2 4 -3.5 3 -8.5 4 -21 7 -13 6.5 -6 4.5 -2.5 3 -2 4 -2 6 0 6 1 5 2.5 5 4 4.5 5 3.5 5 2.5 7 1 9-0.5 12-3 8-4 22-12.5 20-6.5 7-1.5 7 0 8-2 14-1 14-3.5 7-3 5-3 4-4 3-5 1.5-8 1-6 -1-5 -2-5 -4.5-6 -12.5-14 -6.5-9 -6.5-11 -8-19 -6.5-9.5 -7-6.5 -6-4 -14-8 -4-3 -2.5-3 -2-4 -0.5-3 0.5-3 2.5-4 5-4 5-2 7-1 12 0 4 0.5 5 2 17 11 4 1.5 9 1.5 7 0 10-1.5 19-1.5 0 284.5 -23-1.5 -16-2 -26-4.5 -45-9.5 -20-2.5 -29 0.5 -18 3 -36 8.5 -11 1 -11-0.5 -14.5-3.5 -14.5-5.5 -7-4 -6-4.5 -14-13 -4-2 -4-0.5 -6 1 -11 4 -9 2 -43 4 -15 0.5 -29 1.5 -16-1 -43 0.5 -19 2.5 -10 2.5 -21 9 -23 12 -7 2.5 -9 1.5 -11 0 -10-1 -8-2 -13-4.5 -7-1 -6 1 -16 3.5 -9 1 -37 1.5 -12 1.5 -24 1.5 -18 2.5 -19 1.5 -27 1 -18-1 -7 0.5 -7 1 -16 5 -21 3.5 -21 2.5 -17 0.5 -12 1.5 -18 0.5 -25-1 -19 0.5 -20 1.5zM741.5 427l10.5-3 9.5-5 7.5-6 4.5-6 2.5-5 2-5 1-9 0-5 -1-4 -2-4 -2.5-3 -5.5-4 -8-2.5 -11-1 -12 0.5 -12 2 -17.5 6 -7.5 3.5 -5.5 4.5 -3 4 -2 4 -1.5 4 -0.5 4 0.5 4 1.5 4 4.5 6.5 4 3.5 6.5 4 11.5 5 14 3.5 6 0z"/>
<path fill="#2e2e2e" d="M414 500l-63 0.5 -53-4 -55-5.5 -27-3.5 -16-2.5 -16-4 -9-1 0-290 3 0 14-4 4-2 4.5-4 4.5-5 3-5 1.5-6 0.5-6 -1-8 -2-8 -4.5-8 -2.5-3 -6-5.5 -4-2 -4-1.5 -11-1.5 0-30.5 7-0.5 30 0 11-1 64 0 23-0.5 10-1 32 0 27 2 29 1 23-1.5 9-2.5 16-6 10-3 18-3.5 14-1.5 16-0.5 16 1.5 20 4 39 6 25 5.5 11 3 8 3.5 7 4 5 5 2.5 4 1.5 4 0.5 8 -0.5 5 -2 5 -5 9 -8.5 10 -9.5 7 -11 5.5 -5 1.5 -6 1 -9-1 -8-3 -6-5 -13-15 -9-7.5 -5-3.5 -5-2.5 -5-1.5 -5-0.5 -15-1 -10 0 -34 4.5 -10 0.5 -35-1 -11-1.5 -8-0.5 -22 0.5 -13 0.5 -24 0.5 -21 1 -16-1 -14 1.5 -13-2 -5-0.5 -4 0.5 -6 2.5 -2 1.5 -1.5 2.5 -1.5 7 0 4 2.5 9 4.5 15 1 4 0 4 -2 7 -7 10.5 -2 4.5 -1 6 -3 6 -0.5 2 0.5 3 2 4 1 1 11 5.5 16 4.5 19 4 5 1.5 5 3.5 3.5 5 2.5 5 7.5 22 11.5 24 4.5 11 2 8 1 7 1 32 2.5 16 4 13 6 15.5 7 15.5 6 11 7 9.5 8 7.5 9 6.5 10 5 13 4.5 15 4 22 4 16 1 11-0.5 17-1.5 20-3.5 7-2 6-2.5 5-3 5-4.5 6-7.5 5.5-10 4.5-10 8.5-22 6-12 4-6 4.5-5 18.5-17 3-4 3-5 2-6 0.5-7 -3.5-20 -0.5-9 2-9 4.5-9 4-5 4.5-4 6-4 7-3.5 23-9 10-3 9-1.5 12-1 15 0 14 1 13 2 11 2.5 9 3.5 9 4.5 8 5.5 5 4 4.5 5 3.5 5 2.5 5 4.5 16 6.5 33 2 5 2.5 4 4 4 8 6 40.5 28 9 5 9.5 2.5 16 2 9-0.5 22 1.5 37 0 11-0.5 8 0 20-3 7-3 6-4 5-5 3.5-5 1.5-6 -0.5-4 -2-3 -4-4 -16.5-12 -5.5-5 -3-4 -1.5-4 -1-4 -0.5-5 1-5 1.5-5 13.5-19 4.5-10 1.5-7 3-17 4-17 0.5-6 0-6 -1.5-7 -3-7 -4-6 -9.5-11 -3.5-6 -2-5 -0.5-6 0.5-4 1-4 2-4 4-5 5-5 14.5-10 4.5-5 2-3 1-4 0-6 -1-4 -3-4 -3.5-3.5 -5-2.5 -5-1 -18-2.5 -17-4.5 -12-1 -5-1 -6.5-2 -5-3 -3.5-3 -3-4 -1.5-4 0-4 1.5-3 2-3 5-4 4-2 5-2 5-0.5 16 1 16-2 7 0 6 1 13 3 14 0.5 6 0.5 6 2 13 5 13.5 1.5 15.5 4 19 2 29 0 14 1 12 3 8 1 22-1 8 1.5 10-2 13-3 7-0.5 6-2 10-0.5 6-1 14-1 6-1 23-1 7-1 56-0.5 8-1.5 25-0.5 0 19.5 -61 0.5 -6 1.5 -10.5 0.5 -5.5 1.5 -12.5 2.5 -17.5 5 -24 8.5 -15 4 -13 1 -7 1 -17 0.5 -2 0.5 -5 2.5 -5.5 1 -6 2 -7.5 4 -2 2 -6 6 -6.5 8 -1 3 -2.5 9 -1 6 1 8 2.5 7 3.5 7 6.5 10 3.5 3 2.5 1 13.5 2.5 8 2.5 7 4 6 4 7 8 10.5 17 5.5 8 6 6.5 14.5 13.5 2.5 3.5 2 3.5 1 4 -0.5 4 -1.5 3 -3 3 -8 4.5 -21 7 -14 6.5 -4 3 -3 2.5 -4.5 7.5 -2 6 -0.5 6 1.5 6 2.5 5 4 5 6 4 6 2.5 6 1 10-1 10-3 12-6 20-12 20-7 6-1 9-1 6-1.5 15-1 14-3.5 8-3.5 4-2.5 4.5-4.5 3-5 2-8 1-7 -1-5 -2.5-5.5 -4-5.5 -12.5-15 -6.5-9.5 -6-10 -8.5-18.5 -6.5-9 -7-6.5 -19-11.5 -4-3 -3-3 -2-4 0-4 1-4 2-2.5 4.5-3.5 4.5-1.5 6-1 12 0 4 0.5 5 2 17 11 4 1.5 8 1 7 0.5 11-2 6 0 13-1.5 0 283 -23-1.5 -16-2 -28-5 -42-9 -20-2.5 -10 0 -22 1 -15 2.5 -39 7 -10 0.5 -10-0.5 -9-2 -9-3 -8-3 -8-5 -5.5-4 -4.5-5 -3-5 -1.5-6 -1.5-1 -3-0.5 -11 0 -8 1 -10 5.5 -8 2.5 -11 1.5 -33 3.5 -43 3.5 -15-1.5 -14 1 -30 0 -22 2 -8 2 -20 8.5 -24 11 -8 2.5 -9 1.5 -10 0.5 -9-0.5 -7-1.5 -14-4.5 -8-0.5 -32 5.5 -35 2 -13 1.5 -22 1 -20 2.5 -24 1.5 -17 0 -9 0 -16-1.5 -6 0 -7 1 -17 6 -21 3.5 -20 2.5 -15 0.5 -16 1.5 -42-0.5 -19 0.5zM740.5 429l11.5-3.5 11-5.5 4-3 4-4 5.5-8 3-6 2-6 2-7 0.5-7 0-5 -1-4 -2-3 -3.5-3 -3.5-1.5 -5-1.5 -11-1 -14 0.5 -14 2.5 -23 7.5 -7 3 -7 5.5 -4.5 6 -2 4 -1 4 -0.5 4 0.5 4 2.5 6 3 4 3 3 11 7 11 5 14 3z"/>
<path fill="#303030" d="M418 497l-54 1 -20-0.5 -46-3.5 -68-6.5 -26-4 -20-4.5 -9-1 0-287.5 3-0.5 14-4 4-2 5-4 4.5-5 2.5-5 1.5-6 0.5-6 -1-9 -2-7 -4.5-8 -2-3 -6.5-5.5 -4-2.5 -4-1 -11-1.5 0-30.5 7-0.5 30 0 10-0.5 66-0.5 22 0 10-1 32 0 27 2 29 1 23-2 10-2.5 15-5.5 10-3.5 30-4 12 0 17 1.5 28 7 36 5 25 5 10 3 8 3 6 4 4.5 4.5 2.5 4 1 3 1 4 0 4 -1 5 -1 4 -4.5 8 -7.5 8.5 -9 7 -10 5 -10 2 -9 0 -5-1.5 -4-2 -7-5.5 -14-14.5 -10-7.5 -9-5 -8-2 -16 0 -10 0 -34 4.5 -8 0 -37-0.5 -11-1.5 -6-0.5 -24 0 -13 1 -21-0.5 -26 1 -14-1.5 -4 0.5 -8 2 -4 0 -11-1.5 -5 0 -4 0.5 -6 2.5 -2 1.5 -2 3 -2 7 0.5 4 2 9 5 15 0.5 4 0 4 -1.5 7 -6.5 10 -2.5 5 -1 6 -3 7 0 3 0.5 2 2 3.5 2 1.5 10 5 16 4.5 18 4.5 5 1.5 5 3.5 4 6 3 8 6.5 21 10.5 23 4 11 1.5 7 1 7 0 31 1 9 1.5 10 4.5 17 7 22 5.5 13.5 5 9.5 6 8 7 6.5 8 5.5 10 4.5 12 4 18 4.5 29 6 13 1 10-0.5 30-3.5 14-2.5 8-2 6-2.5 4-2 4-3.5 5-7 6-12 6.5-15.5 9.5-27 6-12 7.5-10 16.5-16 4-5 2.5-5 1.5-6 0.5-6 -2.5-20 -0.5-8 1.5-8 4-8 4-5 4.5-4 5.5-4 6-3.5 9-3.5 11-4 10-2.5 9-2 20-1.5 23 1 18 3 7 2 7 3 6 3 6 4 5.5 5 4.5 5 3 5 2.5 5 4 14 1 13 -0.5 11 -1.5 4 -1.5 4 -2.5 3 -2.5 2 -3 1.5 -5 1.5 -30 4 -18 4 -27 10 -6 4 -5.5 6 -3.5 7 -1.5 7 0.5 6 2.5 6 4 5 6 5 10 6 8.5 4 15 3.5 10 0.5 5-1 6-2 7.5-3 5.5-3.5 8-6 5-6.5 6-10 8-17.5 3.5-5.5 4.5-4.5 5-1.5 8 0.5 10 3.5 14 7.5 26 16 7 3 10 2 16 1 9-0.5 22 1.5 37-0.5 11-0.5 9 0.5 17-2.5 4-1 7-3 6-4 4.5-4.5 4-6 2-6 -0.5-4 -3.5-4 -5.5-5 -15-10.5 -4-3.5 -3-4 -2-4 -1-4 -0.5-4 1-6 2-5 3-5 10.5-14 3-6 2.5-6 2-8 5.5-31 1-7 0-6 -1.5-7 -3-7 -4-6 -10-12 -3.5-6 -2-6 -0.5-6 2.5-8 2-4 3-4 5.5-5 13.5-9 5.5-6 2.5-7 0.5-3 0-4 -1.5-4 -3-4 -4-3.5 -5-2.5 -6-1 -12-0.5 -6-1 -18-5.5 -16-1.5 -5-1.5 -4-2.5 -3-2.5 -3-4 -1-6 1-4 2-3.5 2.5-2.5 4.5-2.5 4-1.5 4-0.5 16 1 14-2.5 8-0.5 6 1 14 4 14 0 6 1 7 2.5 13 7 22 4.5 22 0 16-1.5 16 0 14 1.5 16 3.5 26-0.5 8 1 10-2 13-3 7-0.5 6-1.5 10-1 6-1 14-0.5 6-1.5 22-0.5 10-1.5 54-0.5 9-1.5 24-0.5 0 19.5 -61 0.5 -6 1.5 -11 0.5 -5 1.5 -13 2.5 -17 4.5 -24 9 -15 4 -13 0.5 -7 1.5 -17 0.5 -2 0.5 -5 2.5 -6 1 -6 2 -7 4 -2 1.5 -6.5 6.5 -6.5 8 -4 13 -1 7 1 9 1.5 6 4.5 9 5.5 8 3.5 3 4 2 13 2.5 8 3 7 4 6 4.5 7 7.5 16 22.5 6 6.5 14 13 2.5 3.5 2.5 4 0.5 4 -0.5 3 -1.5 3 -3 3 -7.5 3.5 -20 7 -15.5 7.5 -3.5 2.5 -4 3.5 -3.5 5 -2 4 -2 7 0 6 1.5 6 3 5 4.5 5 5.5 4 6 2 7 1.5 9-1 10-3 14-7.5 21-13 19-7 7-1.5 9-0.5 5-1.5 15-1 14-3.5 8-3.5 4-2.5 5.5-5 3.5-7 2-8 0.5-6 -1-5 -3.5-7 -22-30 -5-8.5 -9-17.5 -6.5-9 -6.5-6 -20.5-13 -5.5-5 -2.5-4 0-3 0-3 2.5-4 4-3.5 5-1.5 7-1 10 0 4 0.5 5 2 17 11 4 1.5 8 1 8 0 10-1.5 8-0.5 11-1.5 0 281 -25-1.5 -24-3.5 -20-3.5 -40-8.5 -20-2.5 -10 0 -22 1 -54 8.5 -10 0 -9-1 -9-1.5 -9-3 -8-3.5 -7-4 -4.5-3.5 -3.5-4 -2.5-4 -2-6 -1-2 -1.5-1 -3-1 -16 0.5 -6 0.5 -4 1 -8 4.5 -8 2.5 -44 6.5 -28 2.5 -6 0 -6 1 -18-1.5 -12 1 -31 0 -23 2 -8 2.5 -25 9.5 -19 8 -9 2.5 -9 1.5 -9 0.5 -8-0.5 -7-1.5 -12-3.5 -7-0.5 -8 1 -18 3.5 -10 1.5 -34 2 -13 1.5 -22 1 -19 2.5 -24 1 -20 0 -8-1 -16-2.5 -7-0.5 -7 1.5 -8.5 3.5 -7.5 2.5 -18.5 3.5 -15.5 2 -35 2.5 -43 0z"/>
<path fill="#333333" d="M414 493l-54 1 -20-1 -106-8 -24-3 -24-5 -11-1 0-285.5 3-0.5 14-3.5 4-2.5 4-3 5-5 3-5 1.5-5 1-7 -1-9 -2-6 -1.5-4.5 -5-8 -7-6 -4-2.5 -4-1 -11-1.5 0-30.5 7-0.5 30 0 10-0.5 66 0 22-0.5 10-1 32 0 27 2 29 1 23-1.5 10-3 15-5.5 10-3 28-3.5 10 0 9 0.5 10 2 32 9 37 5 25 4.5 9 3 6 3 5.5 4 4.5 5 2 6 0.5 4 0 4 -2.5 8 -5 7.5 -7 7.5 -8 5.5 -9 3.5 -9 2 -9-0.5 -5-2 -4-2 -6-4 -15-14.5 -11-8.5 -7-4 -7-1.5 -28 0.5 -34 4.5 -7 0 -19-0.5 -19 0 -9-1.5 -6-0.5 -15 0.5 -11-0.5 -13 0.5 -19-1 -30 1 -14-2 -12 3.5 -4 0.5 -12-1 -6 0.5 -6 2.5 -3 2 -1.5 2 -2 6 0 5 2 10 5.5 17 0.5 7 -1.5 6 -6 9.5 -2.5 5.5 -1.5 6 -3 6 0 5 3 5 10 5.5 4 1.5 21 6 15 4.5 5 3.5 4.5 7 3 9 3 14 2 7 10.5 24 3.5 11 1.5 12 -1 29 2 18 3 16 8.5 38 3.5 12 3 8 4 6 4 4.5 5 4 7 4 16 5.5 29.5 7 14.5 7 8 1 2.5 2 -19.5 4zM647 482l-11 0.5 -24-1 -7-1 -30-7.5 -4-2 -1.5-2 -1-4 0.5-6 1.5-8 2.5-10 15.5-46 4-10 3-5 4-5 13.5-13 4.5-5 3-5 2.5-5 1.5-6 0-6 -2.5-18 0-7 1-7 2.5-6 2.5-4 4-4 9-7 13-6 17-5 18-3 22-1 20 1 9 1.5 8 2 6 2.5 6 3 6 4 4.5 4 3.5 4 3.5 5 2 5 2.5 7 2.5 12 -0.5 9 -1 4.5 -2 4.5 -2.5 3 -3 3 -4.5 3 -6 2.5 -36 9.5 -17 7.5 -14 4 -4 2.5 -4 3 -3.5 4 -2.5 4 -3 7 -1 7 1 6 3 6 4.5 5 7.5 6 11 6 9 4 14 3.5 9 0 9-2 12-5.5 8-5 5.5-5 16.5-24.5 5-6 6-4 6-2 7 0.5 9 2 12 5.5 25.5 14.5 6.5 2 11 1.5 8-0.5 9 1 8-1 21 1 37 0 11-0.5 10 0 9-1 8-0.5 7-1.5 7-3.5 5.5-4 4.5-5 3-4 2.5-5 1.5-4 -0.5-3 -1.5-2 -28-20 -4.5-6 -2-6 0-7 2.5-7 3-5 11.5-15 3.5-6 2-6 2.5-8 5.5-30 1-10 -0.5-8 -2.5-8 -4.5-8 -10.5-12 -3.5-5 -3-7 -0.5-7 2-8 1.5-4 3-4 6-5 13.5-9 6-6 2-4 1.5-4 0.5-4 0-4 -1.5-4 -3-4 -4.5-3.5 -6-2.5 -6-1.5 -12 0.5 -8-1 -6-1.5 -12-5 -14-1 -7-2.5 -3-2 -3-4 -1-3 0-3 1-4 1-2 4.5-4 7.5-2.5 16 1 13-3 7-0.5 7.5 1 14.5 5 13-0.5 5 0.5 5.5 2 5.5 3 7 6 7.5 10 3.5 2 3 0.5 4-0.5 9-5 6-2 31-4.5 15 0 13 0.5 12 3 8 1 24-0.5 8 1 10-1.5 14-3.5 6-0.5 6-1.5 10-0.5 6-1.5 14-0.5 6-1.5 22-0.5 10-1.5 54.5-0.5 8.5-1.5 24 0 0 19 -61 0.5 -6 1.5 -11.5 0.5 -4.5 1.5 -13.5 2.5 -16.5 4.5 -25 9 -14 3.5 -13 1 -7 1.5 -17.5 0.5 -6.5 3 -6 1 -6.5 2 -6.5 3.5 -2 2 -6 5.5 -7 9 -5 15 -1 13 0.5 6 2 6 4.5 8 4.5 6 3.5 3 4 2 14 3.5 8 3 6 3.5 6 4 8 8 19 24 17.5 17 4 6 0.5 4 -0.5 3 -1.5 3 -2 2 -6 3.5 -19 6.5 -19.5 9 -5.5 4 -3.5 4 -3 4 -2.5 5 -1.5 7 -0.5 6 1.5 6 3.5 6 5 5.5 6 3.5 6 2.5 8 1 9-1 9-3 24-13.5 13-9 9-4 10-3.5 7.5-1.5 8.5-0.5 5-1.5 17-1.5 11-3 7-3 6-3 5-4.5 2.5-4 3-7 2-7 0-6 -2-6 -4.5-8.5 -19.5-27.5 -13.5-24 -7-9 -7.5-7 -19.5-12 -6-5.5 -2-3.5 -0.5-4 1-3 1.5-3 4-3 5-2 6-0.5 10 0 6 1 4 2 16 10.5 4 1.5 8 1 8 0 10-2 8-0.5 4-0.5 7-0.5 0 279 -25-1.5 -24-3.5 -22-3.5 -38-8.5 -20-3 -8 0 -22 1.5 -54 7 -10 0 -10-1 -8-1.5 -9-2.5 -7-3 -7-4 -7-6 -2.5-3.5 -3-6 -4.5-4 -3-0.5 -17 0 -10 0.5 -11 4.5 -16 4 -15 2 -18 3 -28 3.5 -6 0 -7 1 -9-1 -8-0.5 -12 1.5 -30 0 -27 2 -5 1 -46 17.5 -9 2 -9 1.5 -8 0.5 -8 0 -18-4.5 -7 0 -9 0.5 -21 4.5 -12 1.5 -29 1.5 -12 1.5 -22 0.5 -16 2.5z"/>
<path fill="#353535" d="M264 481l-24 0 -22-1.5 -14-1.5 -19-3.5 -10-0.5 0-283 3-0.5 14-4 4-2 4-3.5 5-5 3-5 2-5 0.5-7 -1-9 -1.5-6 -4-8.5 -3-4.5 -7-6 -4-2 -4-1.5 -11-1.5 0-29.5 9-1 28 0 10-0.5 86-0.5 12-1 32 0 27 2 29 1 24-1.5 10-3 14-5 10-3 28-3 8 0 9 1 10 2.5 26 9 7 2 36 3.5 26 5 12 3.5 5 3 4 3.5 4 6 1.5 4 0 3 -1 7 -4 8 -6.5 7.5 -8 6 -9 4 -10 2 -9-1 -5-1.5 -4-2 -6-4.5 -13-11.5 -15-12 -5-3 -5-1 -31 1.5 -17 2.5 -20 2 -22-0.5 -18 0 -12-1.5 -19 0 -9-1 -14 1 -16-1.5 -34 0.5 -14-3 -2 0 -6 4 -4 1.5 -4 0 -12-0.5 -6 1 -6 2 -3.5 3 -2.5 4 -1.5 8 2 10 4.5 12.5 2 6.5 0 7 -1.5 5 -5.5 9 -3 6 -1.5 6 -2.5 6 -0.5 5 1.5 3 2 2.5 10 5.5 18 6 7 1.5 15 5 3 2.5 2.5 3 4 7 2.5 8 1.5 13 1.5 7 2.5 7 9 20 3 12 0.5 10 -2 21 0 13 1 13 5.5 40 1 16 0 16 -1 15 -1.5 8 -2 4 -4 3 -7 1.5 -9 0.5zM641 481l-23-1 -7-0.5 -10-3 -12-5.5 -6-4 -3.5-5 -2-7 0.5-8 2.5-10 7-22 6-24 3-8 5.5-8 13.5-13 4.5-5 3.5-5 3-6 1-5 0-6 -2.5-18 0-6 0.5-6 2.5-6 2.5-4 3.5-3.5 9-7 12-5.5 15-4 18-3 24-1 19 1 16 3 6 2 5 3 4.5 3 4.5 4 3 4 3 5 4.5 11 2 10 0 7 -1.5 4 -1.5 3 -5.5 5.5 -7 4.5 -9 4 -30 10.5 -14 6.5 -12 3.5 -4 1.5 -4 2.5 -4 3 -3 4 -2.5 4.5 -3 7 -1 7 1 7 3 6 4.5 5 7.5 6 14.5 8 8 3.5 13 3 8 0.5 8-1 10-4 10-5.5 8-6 13-17.5 9-9.5 6-3.5 7-2 9 0 10 3 10 4.5 19 10 5 2.5 4 0.5 12 1 9-1 10 0.5 7-1 21 0.5 36 0 13-0.5 8 0 11-1 9 0 7-1.5 7-3.5 5.5-4 5.5-6 4.5-6 3-6 0.5-4 -1-2 -3-2 -7-2.5 -21-15 -2.5-2.5 -2.5-4 -1.5-3 -0.5-3 0.5-7 2.5-7 3-4 12-14 3.5-6 3-7 2-8 6-34 1-7 -0.5-9 -2.5-8 -5.5-8 -11-12 -3.5-5 -3-7 -0.5-6 1.5-8 2-4 2.5-4 7-5.5 14-8.5 4-4 3.5-4 2-4 1.5-4 1-4 -0.5-5 -1.5-4 -3-3.5 -5.5-3.5 -7.5-3.5 -6-0.5 -13 1 -8-0.5 -8-2.5 -11-5 -4-1 -8-0.5 -5-1.5 -3-2 -2-2 -1.5-4 0.5-4 1-2 4-3.5 6-1.5 9 1 4-0.5 13-4 8-1 8.5 1.5 13.5 5.5 13-0.5 6 1 5 2.5 6 5 2.5 4.5 3.5 8 2.5 3 5.5 2.5 7 1 4-0.5 3-1 8-7 6-3 21-5.5 8-1 14 0 13 1 11.5 2.5 8.5 1 24-0.5 8 1 10-1.5 14-3.5 6.5-0.5 5.5-1.5 10-0.5 6-1.5 14-0.5 6-1.5 23-0.5 9-1.5 56-0.5 8-1.5 23 0 0 19 -61 0.5 -6 1.5 -12 0.5 -4 1.5 -5 0.5 -24 6 -17.5 6 -8.5 3.5 -14 3.5 -13 1 -7 1.5 -18 0.5 -6 2.5 -7 1.5 -6 2 -6 3.5 -7 6.5 -8.5 10 -5.5 14 -2 18 0.5 6 2.5 6 4.5 7 4.5 5 4 3 4 2 15 4.5 7 3 7 4 6 4.5 10 10 16 19 16.5 16 3.5 4 1 3 1 3 -0.5 3 -1 2 -2.5 2.5 -6 3.5 -19 6.5 -15 6.5 -5.5 3 -5 4 -5 5 -3.5 5 -3 6 -1.5 6 0 7 2 7 3.5 6 5.5 5 6.5 4 8 2.5 8 0.5 10-1.5 8-3 26-16.5 10-7.5 12-5.5 8.5-3 5.5-1.5 8-0.5 8-1.5 18-2 10-3 8-3.5 5-3 5.5-5 3-5 3-7 1.5-7 -0.5-6 -3.5-8.5 -6-10.5 -18-25.5 -12-20.5 -6.5-8 -7.5-7 -19.5-12 -3.5-3 -3-3 -1.5-3 -0.5-4 1-4 1.5-2 3.5-2.5 6-2 4-0.5 10 0 5.5 1 4.5 2 16 10.5 4 1.5 8 0.5 7 0 11-1.5 8-0.5 4-1 7-0.5 0 277.5 -25-1.5 -24-3.5 -24-4 -36-8 -20-3 -8 0 -21 1.5 -19 2.5 -35 3 -9 0 -10-0.5 -8-1.5 -8-2.5 -8-3 -6-3 -4.5-3 -3.5-3.5 -5.5-8.5 -6.5-4 -3-0.5 -19 0.5 -10 0.5 -10 3 -17 3.5 -15 2.5 -17 4 -11 1 -16 2.5 -7 0 -5 1.5 -10-1.5 -8 0 -12 1.5 -30 0 -28 1.5 -5 1 -6 2.5 -23 7 -20 7 -8 2 -10 1.5 -13 0 -16-3 -7-0.5 -11 1 -21 4.5 -12 1.5 -16 1.5 -13 0 -12 1.5 -23 0.5 -14 2.5z"/>
<path fill="#373737" d="M244 476l-32-0.5 -26-3 -11-0.5 0-281 3-0.5 14-4 4-2 4.5-3.5 4.5-5 3.5-5 1.5-5 0.5-7 -1-9 -1.5-6 -4-8.5 -3-4.5 -7-6 -4-2.5 -4-1 -11-1.5 0-29.5 49-1.5 84 0 12-1.5 32 0 26 2.5 30 1 24-2 10-2.5 14-5 10-3 32-3 9 1 10 2.5 13 5 18 8 5 1.5 37 3 15 2 13 2.5 6 2 5 2 4 2.5 3 2.5 3.5 6 1 6 -1.5 7 -3.5 7 -5.5 6 -8 6 -8 3.5 -9 1.5 -9-0.5 -5-2 -5-2.5 -6-4 -29-24.5 -3-1.5 -4-1 -34 3 -16 2.5 -10 0.5 -9 1.5 -23-1 -19 0.5 -10-2 -19 0 -11-1 -14 0.5 -14-1.5 -35 0.5 -4-1 -6-2 -6-1 -2 1 -4 3.5 -4 2 -4 0.5 -10 0 -6 0.5 -6 1.5 -5.5 3.5 -2 3 -1 2 -2 8 2.5 10.5 4.5 12.5 2 7 0 7 -1 4 -6 9 -3 6 -1.5 6 -2.5 6 0 5 1.5 4 2 2.5 9 4.5 5 2 20 6 16 6 5 5 3 6 2.5 9 0.5 13 1 8 3 8 8.5 18 2 6 1 6 0 10 -3 20 -0.5 11 0.5 13 3 30 0 16 -2 13 -4 11 -5.5 8 -4 4 -4 2.5 -6 3 -8 3 -42 10 -11 2zM1046 121l-3 0.5 -4-1 -12-4 -5-1 -3 0 -10 3 -5 0.5 -5 0 -6-1 -8-4 -5.5-4 -3-4 -1-2 0.5-4 3-4 6-4 6-2.5 7-1 5 0.5 4.5 1 12.5 6.5 3 1 14.5 0.5 5.5 2.5 2 2 2 3.5 1 4 0.5 6 -1 4zM666 479l-4 0.5 -26 0.5 -8-1 -13-0.5 -7-2 -9-3.5 -8.5-6 -4.5-6 -1.5-4 -0.5-4 0-6 1-6 8.5-29 3.5-21 1.5-6 2.5-5 2.5-4 18-17 4-5 3-5 2-6 1-7 -1-6 -3-15 0-5 0.5-4 2.5-6 3.5-4.5 5-4.5 6-4 7-3 8-3 10-2.5 10-2 17-1.5 17-0.5 13 0.5 16 2.5 10.5 3.5 4.5 2.5 4 3.5 3.5 4 3 5 3 8 3.5 14 -1 6 -3 5 -4 3 -7.5 5 -14.5 7.5 -22 8.5 -13 7 -13 3 -6 2.5 -4 2.5 -4 4.5 -3 4.5 -3 6 -2 8 0 6 1 6 4 6 6 6 7 5 15 8 8 3.5 13 3.5 6 0.5 9-1 9-3 11-6 9-6.5 3-3 9-12 9-8 7-4.5 8-2 8 0.5 10 2.5 13 5.5 16 8.5 6 2 9-1 8 0.5 8-1.5 9 0.5 8-1.5 20 0.5 37 0 21 0 10-1 8 0.5 6-1 9-3.5 7.5-5 6.5-7 6.5-8 1.5-2.5 0.5-2.5 -0.5-3 -1.5-2 -2.5-2 -10-4 -20.5-14 -4-5 -2-5 0-6 2.5-8 3-4 13-14 4.5-7 3.5-8 1.5-6 2-14 5-23 0.5-7 0-8 -2.5-8 -5.5-8 -13-13 -3.5-5 -2-4 -1.5-4 0-4 0-4 3-8 4.5-6 5.5-4 13.5-7 6-5 6-6 3.5-6 3-15.5 1-2.5 1-1 4-0.5 25-0.5 2.5-2 4.5-6 6-4 5-2.5 16-5 8-1.5 14-0.5 13 1 11 2.5 9 1.5 24-1 8 1 10-1.5 14-3.5 7-0.5 5-1.5 10-0.5 6-1.5 15-0.5 5-1.5 24-0.5 8-1.5 56-0.5 8-1.5 23 0 0 18.5 -61 0.5 -6 1.5 -12 1 -4 1.5 -5.5 0.5 -24 6 -17.5 6 -8 3.5 -14 3.5 -13 1 -7 1 -18.5 1 -5.5 2.5 -7 1 -6 2 -6 4 -7.5 6.5 -8.5 10 -5.5 14 -4.5 20 0.5 5 2.5 6 3.5 6 5 5 3.5 3 5 3 22 8.5 7 3.5 7 5 12 11 15 17 16 15 3 3.5 2 3.5 0.5 3 -0.5 3 -1.5 3 -2.5 2 -6.5 3 -15.5 5.5 -17 7 -6 3 -4.5 3.5 -5.5 5 -4.5 5 -3.5 5 -2.5 6 -1.5 6 0.5 6 3 8 4.5 6.5 6 5.5 7 3.5 8 2 8 1 10-1.5 8-3.5 6-3.5 13-10 11-6.5 9-7.5 10.5-5 9.5-3.5 6-1.5 8-0.5 7-2 18-2 10-2.5 8-3.5 4.5-2.5 5.5-5 3-4 4.5-9 1.5-7 -0.5-7 -4.5-11 -6-11 -18-25.5 -10.5-16.5 -4.5-6 -9.5-9 -19.5-12 -6.5-6 -2-3 -0.5-4 0.5-3 2-3 4.5-3 6-1.5 10 0 6 0.5 6 2.5 17 11 3 0.5 8 1 8 0 8-1.5 10-1 4-1 7-0.5 0 275.5 -25-1.5 -24-3 -24-4 -37-8.5 -19-2.5 -6 0 -22 1.5 -18 2 -36 2.5 -9 0 -8-0.5 -15-3.5 -15-5.5 -8-5.5 -3-3 -4-6 -8-3.5 -22-0.5 -10 0.5 -9 2 -10 1.5 -9 2 -12 1.5 -20 5.5 -10 1 -16 3 -8 0.5 -4 1 -10-1.5 -8 0 -5 0.5 -7 1.5 -30 0 -31 1 -8 3 -24 6.5 -21 7 -19 3.5 -11 0.5 -14-3 -7-0.5 -13 1.5 -21 4.5 -11 1.5 -9 0.5 -7 1 -14 0 -11 2 -24 0z"/>
<path fill="#393939" d="M249 472l-13 0.5 -24 0 -26-2 -11-0.5 0-279 3 0 14-4 4-2.5 4.5-3.5 5-5 3-5 1.5-5 1-7 -1.5-9 -1.5-6 -4-9 -3-4 -6.5-6 -4.5-2.5 -4-1 -11-1.5 0-29.5 49-1 84-0.5 12-1 32 0 27 2 29 1 24-1.5 10-3 14-5 10-2.5 31-2.5 10 1.5 10 3 15.5 7 15.5 9 4 1.5 4 0.5 12-0.5 10 0 28 3 18 4 6 2.5 5 4 2 3 1.5 3 0.5 5 -2 7 -3.5 6 -5.5 5.5 -7 5 -8 3 -8 1.5 -5-0.5 -5-1 -5-1.5 -5-3 -25-20 -10-9.5 -4-2 -4 0.5 -10 2.5 -23 2.5 -17 2.5 -8 0.5 -8 1.5 -24-0.5 -19 0 -9-2 -20 0 -10-1.5 -15 1 -7-1.5 -6-0.5 -21 0 -15 0.5 -3-0.5 -5.5-2.5 -7.5-1 -3 1 -3 3.5 -4 2 -4 1 -12 0.5 -6 0.5 -6 2.5 -4 3 -2.5 3 -0.5 2 -2 6 0 3 2.5 10 4.5 12 2 7 0 8 -1 3 -5.5 9 -3 6 -4.5 12 0 5 2 4.5 2 2.5 8 4 6 2.5 20 6 14 5.5 3 2 1.5 2 3 4 1.5 3 1.5 5 0.5 4 -1 14 1 9 3 7 9 18 2 6 1 5 -0.5 10 -4 18 -1.5 11 0 12 1.5 28 0 11 -1.5 12 -4 10 -6 9 -7 6.5 -5.5 3.5 -6.5 3 -38 15.5 -9 2.5zM1004 116l-5 0.5 -5-1 -3.5-1.5 -5-4 -2.5-4 -0.5-3 0.5-3 2.5-4 2.5-2 5-2 7-0.5 4 0.5 5 2 5.5 4 1.5 2 1.5 3 0.5 3 -0.5 2 -1 2 -4 3 -3.5 2zM665 478l-29 0.5 -7-1 -14-1 -5-1 -9-4.5 -6-5 -4-6 -2-7 0-6 1-6 7-21 2.5-9 0.5-8 0.5-14 1-6 1.5-3 3-4 19-17 4.5-5 3-5 2.5-6 0.5-7 -1.5-7 -3.5-14 -0.5-4 0.5-4 2-5 3.5-5 4-3.5 6-3.5 6-3 8-2.5 19-4.5 14-1 34-0.5 16 2 8 2.5 4 2 4 3.5 3.5 3.5 2.5 4 2.5 8 1 12 -1 5 -3.5 5 -12.5 10 -13.5 7.5 -17 7 -12 6 -14 3 -7 3 -4.5 3.5 -3.5 4.5 -3 5 -3 7.5 -2 8 -0.5 6 1.5 6 4 6 6.5 6 9 6 17.5 9.5 6 2.5 12 3 6 0.5 10-0.5 8-2.5 12-6.5 9-6.5 4-3.5 7-9.5 8-7 9-5 8-1.5 8 0.5 8 1.5 18 7.5 10.5 5.5 7.5 1.5 4 0 6-1.5 9 0 7-1.5 10 0 7-1 56 0 22 0 9-0.5 9 1 9-1.5 8-3 6.5-4.5 10.5-11 5-6.5 1-2.5 -1-5 -1.5-2 -6.5-4 -9-3.5 -19-13 -3.5-4.5 -2-5 0.5-5 3-8.5 3-4 13-11.5 5-8 5-11 1.5-5 0.5-12 6.5-27 1-7 0-5 -1-5 -1.5-4 -2.5-4 -7-8 -12.5-11 -4-6 -2.5-7 0.5-8 1.5-4 2-4 5.5-5.5 4-2.5 11-4.5 21.5-13.5 1.5-2 2-10 1.5-3 2.5-3 3-2 4-1.5 7-1.5 6 0 3-1 2.5-2 4.5-6.5 7-4.5 18-8 8-2 13 0 14 0.5 11 2.5 9 1.5 24-1 8 1.5 10.5-2 13.5-3.5 7.5-0.5 4.5-1.5 10.5-0.5 5.5-1.5 15-0.5 5-1.5 24-0.5 8-1.5 56-0.5 8-1.5 23 0 0 18.5 -61 0.5 -6 1.5 -12 1 -4 1 -6 1 -24 6 -17.5 6 -7.5 3 -14 4 -13 1 -8 1 -18 1 -5 2.5 -7 1 -6 2 -6 3.5 -8 7 -8 10 -6.5 14 -2.5 9.5 -4.5 8.5 -0.5 3 1 5 2 6 3.5 5 4.5 5 5 4 6 3.5 24 10 7 4 7 5 16 13.5 10 12 17 16 4 6 0.5 3 -0.5 2 -1 2 -3 2.5 -8 3.5 -13 4.5 -19 8 -6 3 -6.5 4.5 -7 6 -5.5 6 -5.5 8 -3.5 6 0 3 3.5 6 3 10 7.5 9 6 4 7 3 8 1.5 8 0.5 6-0.5 5-1 5-2 4-2 6-4.5 11.5-10 12.5-8 9-8 9.5-5 10.5-4 6-1.5 9-1 6-1.5 18-2 10-2.5 11-5 8-6.5 4-6 4-8 1.5-7 -0.5-6 -6-14.5 -6-11.5 -18-25 -8.5-13 -4-5 -10.5-10.5 -20.5-12.5 -6.5-5.5 -1.5-3.5 -0.5-3 0.5-3 1.5-2.5 4-2.5 6-2 10 0 6 0.5 6 2.5 16 10.5 4 1 8 1 8-0.5 8-1.5 10-0.5 4-1 7-0.5 0 273.5 -27-1.5 -36-5 -20-4 -26-6 -20-3 -6 0 -10 1 -14 0.5 -18 2 -36 1.5 -12-0.5 -16-3.5 -14-5 -9-5 -7.5-7.5 -9-4 -26.5 0 -6.5 0 -7.5 1 -11 1 -10 2 -9 1 -23 6.5 -9 1.5 -16 3.5 -7 0 -5 1.5 -9-1.5 -9 0 -5 0 -7 1.5 -50 0.5 -12 0.5 -7 2.5 -8 1.5 -7 2.5 -9 1.5 -24 7.5 -19 3.5 -9 0.5 -12-2.5 -7-0.5 -14 1.5 -10 2 -12 3 -10 1.5 -9 0.5 -7 1 -15 0 -10 2 -26 0.5z"/>
<path fill="#3b3b3b" d="M235 470l-25 0 -18-2 -17-0.5 0-276 3-0.5 14-4 4-2 5-4 4.5-5 3-5 2-5 0.5-6 -1-10 -1.5-6 -4.5-9 -2.5-4 -7-6 -4.5-2.5 -4-1 -11-1.5 0-29.5 49-1 84-0.5 12-1 32 0 27 2 29 1.5 24-2 10-2.5 14-5 10-3 30-1.5 10 1.5 8.5 3 16 8 9 6 5.5 6 1 4 -1 2 -6 4.5 -7 2.5 -23 3 -16 2.5 -9 0.5 -8 1.5 -43 0 -9-2 -20 0 -10-1.5 -14 0.5 -8-2 -4-0.5 -38 0.5 -2 0 -6-2.5 -8-0.5 -3 0.5 -5 4.5 -4 1.5 -16 1.5 -6 1 -6 3 -3.5 3.5 -2 3 -2 6 0 5 2.5 10 4.5 12 2 6 0 8 -1 3 -5.5 9 -3.5 8 -4 10 0 3 0.5 3 3 5 5 3.5 8 4 21 6.5 13 5 3 2 2 2 4 6 3 9 0 4 -2 7 -1 6 0 4 1 5 3 7 9 15.5 2.5 7.5 1 6 -0.5 6 -6 19 -2 11 0 17 1 26 -0.5 9 -2 9 -4 8 -6.5 7.5 -8 6.5 -25 13 -15 10.5 -6 3 -9 2zM665 477l-29 0.5 -6-1.5 -8 0 -10-2 -6.5-3 -7-6 -4-6 -1.5-6 0-6 1.5-5 8.5-21 2-8 0.5-9 -2.5-15 0.5-6 2.5-4 3.5-4 22-18 3.5-4 3-5 2-6 0-7 -1.5-6 -5.5-14 -0.5-6 1-4 2.5-4 4-4 6-4 6-3 8-2.5 19-4 14-1 11 0 8-1 15 0 16 2 6 1.5 4 2 4 3 2.5 3 2 3 1.5 4 0.5 4 0 5 -1 4 -3.5 8 -6.5 8 -11.5 9 -8 4.5 -25 9.5 -16 4 -8 4 -4 3.5 -3.5 4.5 -2.5 5.5 -4.5 12.5 -1.5 7 0 6 1.5 5 4 5 7.5 6.5 10 6 19 10.5 7 2.5 11 3 6 0.5 11-1 7-2.5 13-6.5 9.5-7 3.5-3 6-8.5 5-4.5 10-5 8-2 7 0 8 1.5 22 8 7 3 10 1.5 5-0.5 5-1.5 10 0 6-1.5 11 0 7-1.5 55 0 31-0.5 9 1.5 7-0.5 6-1.5 7-2.5 6-4.5 9-10 6-8.5 0.5-2.5 -1-5 -1.5-2 -7-4 -10-4.5 -18.5-12.5 -3-4 -2-5 0.5-4 3.5-9 9.5-8.5 7-4.5 6-9 6-13 1-5 -0.5-8 0-3 4-16 4.5-14 1.5-7 0-4 -1-5 -1.5-4 -2.5-4 -2.5-3 -6.5-6 -13.5-10 -3.5-4 -2-4 -1-6 0.5-8 2.5-6 4-4 4.5-3 10-3 13-6.5 14-5.5 2-2 1.5-2 -0.5-6 1-4 2-4 3.5-3 3.5-2 11-3 4.5-2 2-2 3.5-4.5 9-6 9-4 5.5-3.5 7.5-2.5 12-0.5 14 0.5 4 0.5 8 2 8 1.5 26-1 8 1.5 11-2 13-3.5 7.5-0.5 4.5-1.5 11-0.5 6-1.5 14-0.5 5-1 24-1 8-1.5 56-0.5 8-1.5 23 0 0 18.5 -61 0.5 -6 1.5 -12 1 -34 8 -18 6 -7 3 -14 4 -13 0.5 -8 1.5 -18 1 -6 2.5 -6 1 -6 2 -6 3.5 -8 7 -8.5 10 -6.5 13 -3.5 11 -2 3 -4 4 -1 2 -0.5 2 1 7 1.5 5 3.5 5 5 5 6 4.5 7 4 28 12.5 14 9 14 11.5 9 10.5 17 15.5 4 6 0.5 2.5 -0.5 2 -1.5 2 -2.5 2 -8 3.5 -11 3.5 -11 5 -7 2.5 -8 3.5 -13.5 9 -17.5 14.5 -5 3 -5 1.5 -1 1 1 1 4 1.5 4 5.5 5.5 5 1.5 5 1 6.5 2.5 6.5 0.5 6 1 1 17 5.5 7 1.5 8 0 8-0.5 6-1 6-2 4-2.5 6-5 12.5-13 4-3 8.5-5 9-8.5 8.5-4.5 9.5-4 7-2 9-0.5 6-2 18-2 10-2.5 11-5 6.5-5 3.5-4 4-6 3.5-7 1.5-6 -1-7 -7-18.5 -5-9.5 -19-25.5 -7-10.5 -4-4.5 -11-10.5 -20-12 -7-6 -1-2 -1-3 0-3 1-2 3.5-3 6-2 12.5-0.5 7 1.5 13.5 8 5.5 4 3 1 15 0.5 10-2 10-0.5 4-1 7-0.5 0 272 -27-1.5 -36-5 -20-4 -26-6.5 -19-2.5 -7-0.5 -10 1.5 -15 0.5 -15 2 -37 1 -12-1 -16-3.5 -15-5 -8-4.5 -10-7.5 -4-0.5 -2.5-1.5 -5.5-0.5 -22 0 -25 1 -11 2 -9 0 -5 1 -17 6.5 -9 1.5 -16 4 -8 0.5 -4 1 -7-1 -11-0.5 -5.5 0.5 -7.5 1.5 -60 0.5 -3 0.5 -6 2 -9 1.5 -5 1.5 -9 1 -13 3.5 -11 4 -20 4.5 -8 0.5 -11-2.5 -8-0.5 -7 1 -7 0.5 -11 2.5 -11 3 -11 1.5 -8 0.5 -8 1.5 -15 0 -9 1.5 -27 0.5zM610 148l-7 0.5 -7-1 -6-2 -7-4 -24-19.5 -3-4 -3-6 -0.5-3 0.5-2 4-3 6-1.5 7-1 10 0.5 22 2 16 2.5 7 1.5 6 3 4 4 2 5 0 6 -2.5 5 -4 6 -6 5 -6.5 3.5zM1178 391l0.5-1 -1.5-0.5 -0.5 1.5 0.5 0.5z"/>
<path fill="#3d3d3d" d="M243 467l-7 0.5 -26 0 -14-1.5 -21-0.5 0-274 3-0.5 14-4 4-2 5-4 5-5 3-5 1.5-5 0.5-6 -1-10 -1.5-6 -4.5-9 -2.5-4 -6.5-6 -5-3 -4-1 -11-1.5 0-29 49-1 84 0 12-1.5 32 0 26 2.5 30 1 24-2 10-2.5 15-5 9-2.5 28-1 10 1 6.5 2.5 11 6 13.5 8.5 3.5 3.5 2 4 -0.5 4 -1.5 2 -2.5 2 -6 2 -32 4.5 -5 1.5 -10 0 -7 1.5 -43 0 -9-2 -20 0 -8-1.5 -16 0 -10-2 -40 0.5 -7.5-2.5 -8.5-0.5 -2.5 0.5 -1.5 1 -4 3.5 -4 1.5 -16 1.5 -6 1.5 -6 3 -4.5 4 -1.5 2.5 -2 6 -0.5 5.5 2.5 9.5 5 12.5 2 6 0 8 -1 3 -5 8.5 -4 8.5 -3.5 10 -0.5 3 0.5 3 2.5 4.5 4 3.5 10 4.5 21 7.5 13 5.5 3 1.5 3.5 5 3.5 8 0.5 4 0 3 -5 14 0.5 10 1.5 4 13 19 2 6 0.5 6 -1.5 7 -7 14 -2.5 10 -0.5 24 0.5 29 -1 7 -3 6 -4 5 -6 5 -8 4.5 -16 8 -6 4 -5 4.5 -8 10 -3.5 3 -3.5 1.5 -4 1.5zM665 476l-3 0.5 -26 0 -6-1.5 -8-0.5 -9-1.5 -5-3 -7-6 -3-5 -1.5-6 0-4 1.5-5 4-8 7.5-13 2-5 1-5 0-5 -1-5 -6-14 -0.5-3 0.5-3 2.5-3.5 4-4 27.5-20.5 3.5-4 2.5-5 0.5-6 -1-6 -3-7 -6-11 -1.5-6 1-4 1.5-3 4-4 5-3 6-3 8-2.5 20-3.5 15-1 9 0 8-1.5 15-0.5 8 1.5 8 0.5 4 1 7 4 4.5 5 1 3 0.5 3 0 4 -1 4 -4 7.5 -8 10.5 -10 8.5 -6 3.5 -21 6.5 -16 4 -10 3.5 -5.5 3 -3 3 -2.5 4 -4 14 -5 13 -1 6 0.5 4 2 5 4 4 11.5 7.5 11 6 18 9.5 7 2.5 10 3 7 0.5 11-0.5 7.5-2.5 12.5-6.5 12-8.5 7-9.5 4-4 8-3.5 6-2 4-1 5 0 9 1.5 10 3 6 2.5 8 1.5 5 2.5 11 1 6-0.5 6-1.5 9 0 7-2 10 0 7-1.5 85 0 11 1.5 9-0.5 7-1.5 5-2 4-3 9-10 7-11.5 0.5-2.5 0-3 -0.5-2 -2-2 -7-4 -10-4.5 -18-12.5 -2-2 -2.5-4 -1-3 0-2 3-8 2-3 6-4 3.5-3.5 5-2 9.5-11.5 5-15 0-14 2.5-4 1-8 2-6 4.5-10 4-10 0.5-5 -0.5-4 -1-4 -5-7 -5-4 -20.5-13 -3-2.5 -2-3.5 -1.5-3 -0.5-4 0.5-8 1.5-4 1-2 4-4 5-2.5 10-2.5 10-4.5 7-2.5 7-3.5 3-2.5 3.5-4 1.5-8 5-7.5 6.5-3.5 11.5-5 5-5 5.5-3 5.5-4 7-3.5 6-4.5 7-2 12-0.5 13 0.5 4 0 8 2 8 1.5 26-0.5 8 1 6-1.5 5.5-0.5 12.5-3 8-1 4-1 11-1 6-1 14-1 5-1 24-1 8-1 56-0.5 8-1.5 23-0.5 0 18 -61 1 -6 1.5 -12 0.5 -34.5 8.5 -17.5 6 -7 3 -15 4 -12 0.5 -8 1.5 -18 1 -6 2.5 -6 0.5 -6 2 -6 3.5 -8 7 -9 10.5 -7 13 -4 10.5 -8 8.5 -1.5 4 -0.5 5 0.5 5 2 4 3 4 3 3 6.5 4.5 8 4 33 15.5 14 9 13.5 10 7.5 9 18.5 17 3.5 5 0.5 2 -0.5 2 -3 2.5 -7 3.5 -13 4.5 -8 3.5 -8 3 -11 4.5 -11.5 6.5 -18.5 11.5 -12.5 5.5 -2.5 2.5 -0.5 1.5 1 2 2.5 2 7 3.5 7 7 2 3.5 1 3 0.5 11 -0.5 2 -4.5 3 -1 1 0 1 3.5 6.5 2 1.5 9 2 8 3.5 11 1 14-1 8-1 6-1.5 6-3 6-5 7.5-11 6-7 4.5-3.5 8-4 8-8.5 8-5 12-5 6-1.5 8-0.5 4-1.5 10-1.5 10-1 9-2.5 12-5 4-2.5 6-5.5 6-8.5 2.5-5 1.5-6 -0.5-8 -7.5-22 -4-7 -7-10 -12-15 -6-9 -5-6 -12-10.5 -21-12.5 -6-5.5 -2-4.5 0-3 1-2 3-2 6-2.5 10-0.5 6 0.5 6 2.5 16 10.5 4 1 8 0.5 8-0.5 6-1.5 12-0.5 4-1.5 7-0.5 0 270.5 -9-1 -18-1 -8-1.5 -12-0.5 -8-2 -8-0.5 -20-4 -26-6.5 -18-3 -10 0 -8 1.5 -17 0.5 -13 2 -36 0 -12-1 -16-3.5 -14-4.5 -10-4.5 -8.5-5.5 -4.5-1 -5-1.5 -34-0.5 -19 1 -9 0.5 -7-1 -7 1.5 -12.5 6 -5.5 2 -26 6 -11 1.5 -7-1 -14 0 -10 1.5 -61 0.5 -7 2 -9 1 -6 2 -9 0.5 -5 1.5 -7 1 -12 4 -6 1 -10 3 -8 1.5 -5 0 -9-2 -8-0.5 -7 1.5 -7 0.5 -5 1 -6 1 -12 3.5 -10 1.5 -9 0.5 -7 1.5 -16 0 -8 2 -29 0.5zM611 146l-7 0.5 -6-0.5 -7-2.5 -7-4 -15.5-11.5 -8.5-7.5 -1.5-2.5 -1.5-4 1-4 3-3 4-1.5 6-0.5 9 0 22 1.5 18 2.5 5 1.5 5 2.5 3.5 3 2 4 0 4 -2 6 -4.5 6 -4.5 4 -6.5 3.5z"/>
<path fill="#404040" d="M240 465l-32 0 -10-1.5 -23-0.5 0-271.5 3 0 14-4.5 4-2 5-3.5 4-4.5 3.5-5 2-6 1-6 -1.5-10 -1.5-6 -2-5 -4.5-8 -7-6 -5-3 -15-2.5 0-28.5 49-1 84-0.5 12-1.5 32 0 26 2.5 14 0.5 9 1 7 0 12-1 13-1.5 9-2 24-7.5 27-0.5 4 0 9.5 2.5 13.5 8 14 9.5 2.5 2.5 0.5 4 -0.5 2 -1.5 2 -3 1.5 -24 4 -14 3 -12 1 -6 1.5 -43 0 -7-1.5 -22-0.5 -6-1.5 -18-0.5 -8-1.5 -40 0 -8-2 -10 0 -4 0.5 -4 3.5 -4 1.5 -16 2 -6 1.5 -6 3 -5 4.5 -1.5 2 -2 6 -0.5 6 2.5 10 6.5 18 0.5 3 0 5 -1 3 -4.5 8 -4.5 9 -3.5 10 -0.5 3 0.5 3 3 5 4 3.5 10 4.5 21 7.5 8 3.5 7 3.5 3.5 4.5 1.5 3 1.5 5 1 5 -2 6 -5 11 -1.5 8 0.5 4 1.5 3 5 5 10 13 2 5 0.5 6 -2.5 7.5 -8 10 -4.5 13.5 -0.5 4 1.5 9 -0.5 14 1 27 -0.5 4 -2 4 -2.5 3 -4 3 -16 7 -17 6 -5 3 -2 2 -1.5 3 -3.5 13 -2 4 -1.5 2 -5.5 2 -10 1zM665 475l-5 1 -23 0 -7-1.5 -7-0.5 -8-2.5 -5-2.5 -6.5-6 -2-3 -2-7 0.5-4 2-4.5 6-9 11-11.5 2.5-5 1.5-6 0-4 -2-5 -3.5-5 -9-10 -1.5-3 0.5-3 4.5-5 8-6 12-7 19.5-10 4-3 1.5-3 0-2 -0.5-4 -3.5-8 -4.5-7 -10-13 -2-4 0.5-3 2-3.5 3-3 5.5-3.5 6.5-2.5 8-2 20-3.5 8-0.5 6-1 10 0 6-2 13 0 3 0 5 1.5 8 0.5 3.5 0.5 7.5 3.5 4 4.5 1 3 0 3 -1 4 -2 4 -9.5 14 -10.5 10 -4 2 -5.5 2 -17.5 4.5 -11 1.5 -9 2.5 -13 2.5 -5 2 -2.5 3 -0.5 4 1 9 -0.5 6 -1.5 5 -8.5 18 -0.5 5 1 4 3 3 2.5 2 12.5 5.5 35 18 7 2.5 10 2.5 9 0 10 0 7.5-2.5 12.5-6.5 12-8 2-2.5 4.5-7 3.5-3 7-3.5 10-2.5 5 0 10 2 15 4.5 8 0.5 6 2 6 0.5 11 0 6-2 10 0 6-1.5 10-0.5 8-1.5 83 0 12 1.5 13-0.5 7-1 4-2 4-3 7-10 6.5-12 1-7 -0.5-1 -2-2 -18-9.5 -18-12.5 -3.5-5 -1-3 0-2 3-7 2.5-3 5-3.5 4-3.5 4-2 11-12 5-15.5 0.5-13.5 3-5 2-9 2.5-6.5 4-6 3-6.5 6-6 1-2 0.5-9 0-4 -2-3 -12-8 -10.5-4 -14-7.5 -2.5-1.5 -2.5-2.5 -3-6.5 0-8 1-6 4-5 5-3 7 0 4-1 16-7 7-4 7.5-8 2-6 3-5 3-4 3.5-2.5 13-6.5 4-3.5 5-2.5 4-3 9-5.5 7-5.5 6-2 10-0.5 16 0.5 19 3.5 26-0.5 8 1 11.5-2 12.5-3 8-1 4-1 11-1 7-1 13-1 5-1 24-1 8-1 56-0.5 8-1.5 23 0 0 17.5 -61 1 -6 1.5 -12 0.5 -35 8.5 -17.5 6 -6.5 3 -15 4 -12 0.5 -8 1.5 -18 0.5 -6 2.5 -6 1 -6 2 -8 5 -6.5 6 -9 10 -7.5 14 -4.5 9 -14 16 -1 3 -1 4 0.5 3 1.5 3 3.5 4 4 3 13 6.5 23 9.5 14 7 7.5 4 20.5 13.5 4 3.5 6 8 18 15.5 4 5.5 0 2 -0.5 1 -7 4 -14.5 5 -10 4.5 -6 2 -11 4 -29 14 -15 6 -3 2 -2 2.5 -0.5 3 1.5 3 2.5 2 8.5 4.5 3 2 4 4.5 3.5 6 1 5 -0.5 6 -2 3 -5 3 4 7.5 4 4.5 8 4 5.5 4 2.5 1 10 1.5 10-1 10-0.5 11-2 7-2.5 4-3 2.5-3.5 5-12 5.5-8 5-4.5 6-3 3-2 3-3 4-5 2-1.5 8.5-5 9.5-4 7-2 7-0.5 5.5-1.5 5.5-0.5 5-1.5 8-0.5 10-2.5 9-4 4-2 8-6.5 8-10 2.5-4.5 1-6 -0.5-9 -7-22 -4-7.5 -7-10.5 -5-5 -3.5-5 -5.5-6.5 -4.5-6.5 -5.5-6 -6-5 -6-5.5 -20-11.5 -6-5 -2.5-4 0-3 0.5-2.5 4-2.5 5-2 9 0 6 0.5 6 2.5 16 10 4 1 16 0 6-1.5 12-1 4-1 7-0.5 0 268 -9-1 -18-0.5 -8-1.5 -12-0.5 -6-1.5 -10-1 -20-4 -26-7 -8-1 -7-1.5 -15 0 -8 1.5 -16 0.5 -12 2 -37 0 -5-1.5 -6-0.5 -16-3.5 -18-6 -13-6 -11-3 -36 0 -24 0 -6-1 -4-0.5 -4.5 0.5 -3.5 1 -12 6.5 -5 2 -16 5 -9 2 -10 1 -7-0.5 -13 0 -13 1.5 -61 0.5 -6 2 -10 0.5 -6 1.5 -8 0.5 -6 2 -7 0.5 -11 3.5 -7 1 -9 3 -9 2 -4 0 -7-2 -11 0 -24 4 -13 3.5 -10 1.5 -9 1 -5 1 -18 0.5 -7 1.5 -29 0.5zM610 144l-6 0.5 -4.5-0.5 -6.5-2 -7.5-4 -23.5-18 -2-4 0.5-4 2.5-2.5 5-1 11 0 21 1 10 1.5 12 1 6 2 2 1 2.5 3 1.5 4 -1 4.5 -3 5 -3.5 4.5 -5.5 4 -4 2z"/>
<path fill="#424242" d="M239 462l-29 0.5 -9-1.5 -26 0 0-269 3-0.5 14-4 4-2 5-4 4.5-4.5 3.5-5 2-6 0.5-6 -1.5-10 -1.5-6 -2-5 -4.5-8 -7-6 -4.5-3 -4.5-1 -11-1.5 0-28.5 49-1 84-0.5 12-1 32 0 10 1 10 0.5 6 1 31 1 11-0.5 13-1.5 9-2 23-7.5 6-0.5 23 0.5 9 2.5 6 3 22.5 18 1 2 -1 2 -7.5 2.5 -8 1.5 -12 3.5 -6 1 -4 1.5 -6 0 -16 2.5 -38 0 -8-1.5 -21-0.5 -7-2 -16 0 -8-1.5 -41-0.5 -9-1.5 -10 0 -4 0.5 -5 3.5 -3 1 -16 2.5 -8 2 -6 3.5 -4 4.5 -3 7.5 -0.5 6 2.5 10 7 18 0.5 4 0 4 -1 3 -5 8 -4.5 9 -3.5 11 0.5 5 3 5.5 4 3.5 10 4.5 25 9 11 6.5 3 3.5 2.5 7.5 0.5 5 -1 5 -3 5 -4.5 11 -0.5 5 0 6 1 3 11 11 4.5 6 2 4 0 4 -1.5 4.5 -8 10 -6 11 -2 9.5 0 3 2 4 1 4 -0.5 37 -0.5 4 -1.5 3 -3.5 3.5 -11 4.5 -28 7.5 -13 4.5 -5 4.5 -1 3.5 0 4 1 3.5 1 1.5 5 5 1 2 -0.5 2 -2.5 2.5 -12 1zM661 475l-24 0 -7-1.5 -8-0.5 -6-2.5 -7-4.5 -3.5-4 -3-7 0-2 0.5-3 2-4 5-6.5 7-5 19-11 10-4 10-3 8 0 10 3 14 5.5 17.5 9 11.5 4 9 2 17 0.5 5-0.5 7-2.5 8.5-3.5 10.5-6.5 6-4.5 3-4 3-4.5 3-2.5 6-3 10-2.5 4 0.5 14 3 6 0.5 5 1.5 8 0.5 6 1.5 5 0 13 0 7-2 10 0 6-1.5 10-0.5 8-1.5 75 0 8 0 9 1.5 22 0.5 4-0.5 2-1 4-5.5 11-20 1.5-4.5 1-4 -0.5-2 -2-2 -3.5-2 -16.5-8.5 -14-10 -3-2.5 -2.5-3 -1-4 0-2 2-5 3-4 12.5-9 8-7 4-5 2.5-6 1-6 1-4 1-13 3.5-6 3.5-9 3-6 8-13 12.5-13 8-6.5 1.5-2.5 0.5-2 -2-2 -6-2 -6-1 -4-1.5 -5-1 -13-4 -10-4 -11-5.5 -3.5-3 -2-4 -1-4 1-5 -1-4 0-3 2.5-4 3-2 4-1 4 1.5 3.5-0.5 16-8 8.5-5.5 8.5-8.5 4.5-10 2-3 2-2 32-19 13-9.5 7-2.5 13 0 14 0.5 8 2 9 1 25-0.5 8 1 12-2 12-3 8-1 4-1 11-1 7-1 13-0.5 5-1.5 24-0.5 8-1.5 56-0.5 8-1.5 23 0 0 17.5 -61 1 -6 1 -12 1 -35 8.5 -17.5 6 -6.5 2.5 -15 4 -12 1 -8 1.5 -17 0.5 -7 2.5 -6 1 -6 1.5 -8 5 -7 6.5 -8 9 -11 18 -3 6.5 -7 7.5 -11 8.5 -13 6.5 -3.5 3 -0.5 2 0 1 1 1 3 2 18 7.5 6 3 28 9.5 14 6 13.5 7 24.5 15.5 8 9.5 9 9 9 7 2 3 0.5 1 -0.5 1.5 -8 4.5 -11 3.5 -11 5 -23 7.5 -39 14 -6 3.5 -2 2.5 -0.5 1 0.5 4 2 3 5.5 4 9.5 4.5 3 2 3 3 4 5.5 1.5 5 0 6 -2 4 -1.5 1.5 -3 1 -0.5 1.5 0.5 2.5 3.5 5.5 4.5 5 4 3.5 10 6 10 2.5 12 0.5 6 1.5 4 0 6-1.5 6-0.5 10-2.5 4.5-2.5 2-2 2-5 2-11 3.5-8 5.5-6 6.5-4 3-2.5 7-8 8-5.5 7.5-4 4.5-1.5 6-1.5 8-1 14-3 8-1 10-2.5 7-2.5 7-4 9-7 7-8 3.5-6 0.5-5 -0.5-11 -4-16 -7-16 -5-8 -1.5-2.5 -5.5-4.5 -14.5-18 -6-5.5 -12-9.5 -17-10 -6.5-5 -2-2 -1-3 -0.5-2 1-2 4.5-3 3.5-1 8-0.5 6 0.5 6 3 15 9.5 5 1 16-0.5 6-1.5 12-1 4-1 7-0.5 0 265.5 -7-1 -20 0 -6-1.5 -12 0 -7-1.5 -9-1 -14-3.5 -6-0.5 -10-2.5 -17-5 -7-0.5 -6-1.5 -20 0.5 -8 1.5 -18 0 -7 1.5 -5 0 -32 0.5 -20-4 -15-4.5 -19-6.5 -16-4 -53-0.5 -7-0.5 -8-1.5 -10-0.5 -4 1 -8 6 -8 4.5 -8 3 -15 3.5 -9 1 -7-0.5 -13 0 -5 0 -9 1.5 -60 0.5 -6 1.5 -11 0.5 -6 1.5 -7 0.5 -6 1.5 -7 0.5 -37 9 -3 0 -7-1.5 -12 0.5 -23 4 -23 5 -9 1 -5 1.5 -18 0.5 -8 1.5 -30 0.5zM609 141l-3 0.5 -4 0 -6-2 -8-4 -23-17.5 -0.5-2 0.5-1.5 1-1 4-0.5 31-1 7 2 12 1 8.5 3 1.5 2 0 4 -4.5 8 -7.5 6zM687 342l-5 0 -6-2 -4-2 -21-18 -8-8 -1-3 1-2 7-5 15-5 19-4.5 6-0.5 6-2 10-0.5 7-1.5 12 0 7 1.5 9 1 6 2.5 3 2 2 2 1 2 0 2 -0.5 4 -2 4 -9 15 -3.5 4 -4 3.5 -6 3 -14 4 -10 2 -12 0.5zM638 390l-16 0 -8-3 -2-1.5 -0.5-1.5 0.5-1 3-3 18-9 7-2.5 4-1 10 0 4 0.5 2 1 1 3 -0.5 3 -0.5 1.5 -4 5.5 -3.5 3 -7 4z"/>
<path fill="#444444" d="M226 459l-12 0.5 -12-1.5 -27 0 0-266 3-0.5 14-4 4-2 5-4 4.5-4.5 3.5-5 2-6 0.5-6 -1-10 -1.5-6 -4.5-9 -2.5-4 -6.5-6 -5-3 -4.5-1.5 -11-1 0-28.5 49-1 84 0 12-1.5 32 0 10 1 10 0.5 6 1 14 0 10 1.5 7 0 11-0.5 13-1.5 16.5-4.5 15.5-5 5-0.5 22 1 10 3 4 2.5 7.5 7 3 4 1.5 4 0.5 2 -0.5 2 -2 2 -6 4 -7 3 -10 2 -5 0.5 -14 2.5 -22 0 -18 0 -8-1.5 -20-0.5 -8-2 -16-0.5 -8-1.5 -40 0 -9-1.5 -9 0 -6 0.5 -8 4.5 -16 2 -6 1.5 -7 3.5 -5 5 -1.5 2.5 -2 6 -0.5 6 2.5 10 7 19 0.5 7 -1 3 -4.5 7 -5 10 -3.5 11 0.5 5 3.5 6 4 3.5 10 4.5 24 8.5 11 6.5 2.5 3 3 6 1 4 0 3 -2 6 -2.5 4 -5 11 -0.5 6 0 7 2.5 4.5 8.5 8.5 4 6 1.5 3 0.5 3 -1.5 4 -13 22 -2.5 10 0 3 2 5 1 3 0 16 -1 18 -1 4 -1.5 3 -5 4.5 -7 3.5 -39 12 -6 3 -3.5 4 -4 14 -2 4 -3.5 2.5 -3 1.5zM663 474l-5 0.5 -21 0 -6.5-1.5 -8.5-1 -8.5-4 -5-4 -1.5-3 -1.5-4 -1-4 0.5-2 2.5-5 3-4 2.5-2 8-5.5 23-10.5 11-3.5 4-1 6 0.5 13 3.5 10 4 6.5 3.5 9.5 4 19 5.5 21 0.5 4 0 6.5-2 6.5-2 4.5-2 10.5-6.5 8-7.5 4-5 2-1.5 6-3 9-2.5 4 0 12 2.5 7 0.5 6 1 9 0.5 4 1 4 0.5 16-0.5 6-1.5 10-0.5 6-1.5 10-0.5 5-1.5 5-0.5 73 0.5 7 0 10 1.5 16 1 10 2 2-0.5 2-2 14-28.5 2-7.5 0-2 -2-2 -3.5-2 -16.5-8.5 -15-10.5 -4.5-5 -1.5-4 0.5-3 2-4 3-4 9-6 10.5-9 4-5 3-6.5 2.5-10.5 1-13 5-8 3-8 6-11 5-7 3.5-4 8-6 9-8 2.5-3 0.5-3 -1-2.5 -2-1.5 -13-3 -23-5.5 -10-4 -9-5 -4-3.5 -2-3 0-4 2.5-6 -0.5-2 -2.5-2 -0.5-2 1.5-3 2.5-2.5 2-0.5 2 0 4 2.5 2-0.5 15.5-8 9.5-6 10.5-10 2.5-4.5 2.5-6.5 3.5-4 7-4.5 8.5-4.5 16.5-10 13-10 4-1.5 3-0.5 18 0 8 0.5 8 2 9 1.5 25-1 8 1 12-2 12-3 8-1 4-1 11-0.5 7-1.5 13-0.5 5-1.5 24-0.5 8-1.5 56-0.5 8-1.5 23 0 0 17.5 -61 1 -6 1 -12 1 -4 1 -14 3 -17.5 4.5 -24.5 9 -14 3.5 -12 1 -8 1.5 -17 0.5 -7 2.5 -6 0.5 -6 2 -8 5 -7 6.5 -8 9 -11 16.5 -4.5 8.5 -4.5 5.5 -10 7 -19.5 10.5 -2 2 -0.5 3 0.5 2 2 2 7 4 26.5 11 23 8 14 6 19 10.5 8 5.5 6.5 5 8.5 11 3 7 1.5 6 -0.5 4 -2.5 3 -10.5 7 -5 2.5 -28 8.5 -26 10.5 -8 5.5 -2 2.5 -0.5 3.5 0.5 3 2.5 3 6 4 7.5 3.5 5 3 4 3.5 4 6 1 5 -0.5 6 -3 4 -4 1 0.5 2 1 3.5 3 4.5 7 8 5.5 4 6.5 3.5 8.5 2.5 11.5 2 8 2.5 5 0.5 23-5.5 5.5-3.5 2.5-3 2-3 3-13 2-5 2-3 5-6 12-12 6-4 6-5 6-3.5 6-1 3.5-1.5 8.5-0.5 3.5-1.5 5.5-0.5 4-2 8-1 9-2.5 8.5-3 6.5-3.5 9-7 8-8 2.5-4.5 0.5-4 -0.5-25 -2.5-7 -5-8.5 -3-7.5 -4-7 -4-5 -6-6 -4-5.5 -9.5-9.5 -17-14 -16.5-9 -6-5 -1.5-2 -1-3 0-2 1-2 2-2 2.5-1 8-1 5 0.5 5 2.5 17 10 3 1 16-0.5 8-1.5 12-1 4-1.5 7-0.5 0 261.5 -25 0.5 -8-1 -10 0.5 -8-1.5 -8-0.5 -14-4 -8-1 -8-2 -18-5 -14-2.5 -22 1.5 -8 1 -18-1.5 -8 2.5 -8 1 -12 1 -13-0.5 -20-4.5 -9-3 -6-0.5 -6.5-3 -13.5-4 -16-3.5 -54-0.5 -6-0.5 -4-1.5 -18-2.5 -2 1 -4 4.5 -3 3 -7.5 5 -6.5 2.5 -16 4 -9 1.5 -6-1 -16 0 -12 1.5 -60 0.5 -6 1.5 -13 0.5 -5 1.5 -7.5 0.5 -5.5 1.5 -7 0.5 -4 1 -6 1 -20 4.5 -7 1.5 -10-1 -14 1 -4 1 -7 1 -4 1.5 -15.5 2.5 -3.5 1 -7 1 -4 1 -8 1 -5 1.5 -18 0.5 -8 1.5 -30 0.5zM606 137.5l-4 0 -5-1.5 -5-3 -3.5-3 -2-3 -0.5-3 1-4 1.5-2 5.5-2.5 7-0.5 9.5 3 4.5 3 1.5 3 0.5 2 -1 4 -3 4zM705 338l-7 1 -13-1 -5-1.5 -5-3.5 -7-7 -5-8 -0.5-3 0-4 1-3 2-3 3.5-3 4.5-3 10.5-4 13-3.5 10-1 6-1.5 11 0 14 2.5 3 1 6 3.5 1.5 2 1 3 -1 6 -5.5 12 -6 8 -4 3 -8 3.5 -12 3.5z"/>
<path fill="#464646" d="M223 455l-9 1 -12-1 -27 0 0-263 3 0 14-4.5 4-2 5-3.5 5-5 3-5 2.5-6 0.5-6 -1.5-11 -1.5-5 -5-10.5 -2-3 -6-5.5 -5-3 -5-1.5 -11-1.5 0-28 49-1 84 0 12-1.5 32 0 10 1.5 10 0 6 1 14 0.5 9 1 8 0 11-0.5 13-1.5 32-9 5-0.5 21 1.5 9 3 5 3 5.5 5.5 2.5 4 1 4 -0.5 4 -4 4 -5.5 3.5 -11 3 -5 0 -14 3 -25 0.5 -16-0.5 -7-1.5 -20-0.5 -7-2 -15-0.5 -8-1.5 -42 0 -8-1.5 -10 0 -6 1 -8 3.5 -16 2.5 -6 1.5 -7 3.5 -5 5 -2 3 -2 6 0 7 2 9 2 6 3 6 2 7 0.5 7 -1 3 -4.5 7 -1.5 4 -3.5 6 -3 10 0 5.5 3 5.5 5 5 14.5 6 19.5 7 11 6.5 2 2.5 2.5 5 1 5 0 3 -1.5 6 -2.5 4 -5 10 -1 6 0 7 1.5 4.5 9 10.5 2.5 4 2 4 0 4 -4.5 10 -8.5 15 -2 10 -0.5 3 2.5 9 0 19 -1.5 13 -1 4 -2 3 -4 4 -7 3.5 -7 3 -30 9 -5.5 2.5 -5 4 -5.5 11 -4 5 -6 4zM1350 456l-17-1.5 -14-5 -16-3 -18-5 -12-2.5 -32 3.5 -5-1 -9-2.5 -4 0 -11 4 -6 1.5 -11 1 -12 0 -21-5 -9-3 -6-0.5 -6-2.5 -12-3.5 -13-2 -5-1.5 -53-1 -6-1 -14-2.5 -4-1.5 -4-2.5 -1.5-2 0.5-2 5.5-14 8.5-17 2.5-9 0-2 -2-2 -20.5-11 -13-9 -4-3.5 -2-2.5 -1-3 0-3 1.5-4 3.5-4.5 9-6 5-5 5-3.5 4-5 2-3 2-5 0.5-5 1.5-5 0.5-10 0.5-3 5.5-8 8.5-17.5 5.5-8.5 2.5-2.5 9.5-7.5 9.5-8 2-3 0.5-3 -0.5-2 -1-1.5 -3-2 -12-2 -23-6 -11-4 -9-5 -3.5-3.5 -1.5-3 0-3 2.5-6 0-2 -3.5-4 1.5-3 2.5-2 3-0.5 1.5 1.5 1.5 2 1 0 1-1 7-3 4.5-3 6-3 9.5-6 10-10 2-3 3-7.5 4-4.5 6-4 16.5-9 15.5-10 5.5-5 5.5-2.5 8-0.5 18 0.5 10 2 9 1.5 25-1 8 1.5 12-2.5 12-3 8-0.5 4-1.5 11-0.5 7-1.5 13-0.5 5-1 24-1 8-1.5 56-0.5 8-1.5 23 0 0 17 -61 1 -6 1.5 -12 1 -18 4 -18 4.5 -24 9 -14 3.5 -12 1 -8 1 -17 1 -7 2.5 -6 0.5 -6 2 -6 3 -2 2 -7.5 6.5 -8 9 -4.5 6 -3.5 6 -3.5 5 -4 8 -4.5 5 -9.5 7 -19.5 10 -2.5 2 -1.5 4 0.5 2.5 2 2.5 6 4 28 12.5 24 8 13 6 18 9.5 10.5 8 4 4 3.5 5 3 7 0.5 7 -0.5 3 -1.5 3 -5.5 6 -4 2.5 -4 2 -27 9 -22 10 -6 4 -4 3.5 -1.5 3 0 3 1 4 2.5 2.5 3.5 2.5 11.5 5.5 4 2.5 4 3.5 4 6.5 0.5 5 -0.5 5 -3 3.5 -4 0.5 -0.5 1 2.5 6 6 8.5 4 4.5 7 5 5 2.5 19 5 9 3.5 6 1 24-7.5 4-2 3-2.5 4-6 4.5-14 2-4 3.5-6 11-12 13.5-10 6.5-3.5 10-2.5 6 0 2-1 8-2 4-2.5 8-1 3-1.5 5-1 10-4 5.5-3 10.5-8 6-6 4-6 0.5-3 -1-12 2-12 -0.5-3 -2-5 -7-11 -3-7 -3-6 -4-5.5 -5.5-5.5 -5.5-7 -9-9 -6-4 -12-10.5 -14-7 -5-3.5 -2.5-3 -1.5-3 0-3 1-2 2-1.5 3-1 5-0.5 4 0 6 3 10 6.5 7 3.5 3 0.5 16-0.5 8-2 12-1 4-1 7-0.5 0 257 -31 1.5zM604 134l-3 0 -3-0.5 -3-2 -2.5-2.5 -1.5-3 0-2 0.5-2 2.5-2.5 4-1.5 4 0 5 2 2.5 2 1.5 4 -0.5 3 -2.5 3zM702 337l-8 0 -10-2 -5-3 -5.5-5 -4-7 -1-6 0.5-3 1-3 4-5 4.5-3 8.5-4 10-3.5 17-2.5 10 0 13 2 4 2 4.5 3 2 4 0 3 -0.5 3 -5 11 -6 8.5 -5 3 -6 2.5 -12 3.5zM660 474l-23 0 -6-1.5 -7.5-0.5 -5-2 -6-4 -4-4 -2.5-7 0.5-3 1-3 2.5-4 2.5-3 9.5-6.5 23-9.5 11-3.5 4-0.5 6 0.5 12 3 9 3 14 6.5 21 6.5 19 0.5 8-0.5 12-3.5 4-1.5 12-7 12-12 3-2 5-2.5 9-2 28 3 8 0 5 1 5 0.5 15-0.5 6-2 11 0 5-1.5 10-0.5 8-2 55 0 9 0.5 11-0.5 34 3.5 6 2.5 3 2 1 2 -1.5 4 -2.5 4 -8 7 -8 4.5 -16 4 -9 1 -6-1 -16 0 -13 1.5 -59 0.5 -7 1.5 -11 0.5 -7 1.5 -19 2 -37 7.5 -10-0.5 -13 1 -46 9.5 -8 1 -5 1 -18 1 -6 1 -7 0.5 -25 0.5z"/>
<path fill="#484848" d="M216 452l-41 0 0-259.5 5-1 13-4 8-5.5 5-5 3.5-5 2-6 0.5-6 -1.5-11 -1.5-5 -5-11 -2-2.5 -6-5.5 -5-3 -5-1.5 -11-1.5 0-28 49-0.5 84-0.5 12-1 32 0 10 1 10 0.5 6 1 14 0 9 1.5 9 0 10-0.5 14-2 31.5-8.5 4.5-0.5 20 1.5 10 4 4 2.5 4.5 4.5 2.5 4 0.5 4 -1 4 -2 3 -5.5 3.5 -10 3.5 -5 0 -14 3 -24 0.5 -17-0.5 -5-1 -8-1 -13 0 -7-1.5 -15-1 -9-1.5 -40 0 -10-1.5 -10 0 -6 1 -8 3 -14 2.5 -8 2 -7 3.5 -5 4.5 -2.5 4 -1.5 6 -0.5 7 2 9 2.5 7.5 3 5.5 2 7 0.5 6 -1.5 3 -4 6.5 -2 5 -3 5.5 -3.5 10 0 3 0.5 3 2.5 5 5.5 5 14 6 20 7.5 10 6 3 3 2.5 6.5 0.5 5 -0.5 4 -0.5 2 -3 4.5 -5.5 11.5 -1 5 0 7 0.5 3 2 3.5 7 8.5 3 4 1.5 4 0 4 -3 8 -8.5 16 -2.5 9 -0.5 5 2 8 0 4 -0.5 19 -1.5 10 -2 4 -2 3 -6 5 -8 3.5 -31 10 -6 2.5 -5.5 4 -7.5 10.5 -5 4.5 -8 3.5zM1354 454l-7 0.5 -13-1 -17-6.5 -18-3.5 -18-5 -8-1.5 -4 0 -11 3 -17 1 -5-1.5 -9-4.5 -3 0 -3 0.5 -9 5.5 -7 2.5 -10 1 -12 0 -20-4.5 -8-3 -8-1 -6-2.5 -11-2.5 -14-2.5 -5-1.5 -52-1 -19-3.5 -4-1.5 -2-1.5 -2-2.5 -0.5-2 1-6 3-9 7.5-15 3-10 0-2 -1.5-2 -10.5-5 -11-6.5 -13-9 -4-3.5 -2-2.5 -1-3.5 0.5-3 2-4 2.5-3 4-3 5-3 5-5 5-3.5 6-7.5 2-5 1-6 1.5-5 0.5-10 0.5-3 5.5-8 8-16 6-9 2.5-3 14.5-11 6-5 1.5-3 0.5-3 -0.5-2 -1-2 -3.5-2.5 -13-2 -22-5.5 -13-5 -7-4 -3.5-3 -1.5-4 0-2 2-7 0-1 -2.5-4 0.5-2.5 2-1.5 2-0.5 1.5 0.5 2 3 1.5 0 2-2 5-2 19-11 4-3 8.5-9 1.5-2 3.5-8 3.5-4.5 6.5-4.5 13.5-7 10-6 8.5-6 5.5-5 6-2.5 25 0 10 2.5 8.5 1 25.5-1 8 1.5 12-2.5 12-3 8-0.5 4-1.5 11-0.5 7-1.5 13-0.5 6-1 23-1 8-1.5 22-0.5 34 0 8-1.5 23 0 0 17 -61 1 -6 1.5 -12 1 -18 4 -18 4.5 -24 8.5 -14 4 -13 1 -7 1 -17 1 -7 2 -6 1 -6 1.5 -5.5 3 -2.5 2 -8 7 -8 9 -4 5 -3.5 6 -4 6 -4 8 -4.5 5 -9 6 -21 11 -2 2 -2 4 0.5 3 1 2 2.5 2.5 4 2.5 30 14 22 7.5 13 6 17 9 6 3.5 6 5 4.5 6 3 7 0 7 -2.5 6 -4 5 -4 2.5 -4 2 -19 6.5 -8 3.5 -20 10.5 -6 4 -3 3 -1.5 3 0 4 1.5 4 3 3.5 4 2.5 11 5 4 2.5 4 3.5 3.5 6 1 5 -1 5 -2.5 3 -2 0.5 -2.5-0.5 0 2 2.5 6.5 6 9 4 4.5 10 6 19 6 13 7.5 4 1 4-1.5 11-5.5 12-4 6.5-4.5 4.5-6 5-15 4-8 8-10 7-6 8-5 5-2.5 11-3.5 10-1.5 6-2 6-4 6-1 4-2 4-0.5 12-5 4-2 12-9.5 6-6 3-5.5 0.5-3 -1-8 0.5-5 1-5.5 3-6.5 0-2 -2-4 -9.5-11 -3.5-9 -3-6 -3.5-5 -11.5-13 -8-8 -8-5.5 -12-11 -12.5-5.5 -4.5-3 -3.5-5 -0.5-3 0.5-2 2.5-2 2-1 4-0.5 4 0.5 6 3 9 6.5 8 3 3 0.5 16-1 8-1.5 12-1 4-1.5 7-0.5 0 253 -17 1 -14 2zM604 130.5l-4 0 -2-0.5 -2-2 -1-3 1.5-3 2-1 2.5-0.5 3 1 1.5 1.5 1 2 0.5 2 -1 1.5zM706 335l-8 1 -8-1.5 -6.5-2.5 -5-4 -4-6 -1.5-6 0.5-6 1.5-3 2.5-3 7.5-5.5 11-4.5 17-3.5 10 0 12 2 4 1.5 4.5 3 2.5 4 0.5 3 -0.5 3 -4 10 -6 8 -4 3 -7 3 -11 3zM662 473l-9 1 -16-0.5 -7-1.5 -6-0.5 -4-1.5 -7-4.5 -2.5-2.5 -1.5-2 -1.5-6 0-3 1-3 2.5-4 3-3 9.5-6 21.5-8.5 10-2.5 5-1 7 0.5 10 2 9 3 18 7.5 18 5 20 0.5 7-0.5 12.5-3 5-2 10.5-6 16-14 6-2.5 8-2 27 2 8 0 5 1 5 0.5 15-1 6-1.5 11-0.5 5-1.5 11-0.5 7-1.5 55 0 9 0.5 10-0.5 33 3.5 4 1.5 2.5 1.5 2 2 0.5 2 -0.5 3 -2 4 -4.5 5 -5 3.5 -6 2.5 -17 4.5 -7 0.5 -6-1 -18 0.5 -11 1 -33 0 -10 0.5 -16 0.5 -7 1 -11 0.5 -8 1.5 -18 2 -32 6.5 -6 0.5 -11 0 -11 1 -60 11.5 -17 1 -14 1.5 -24 0.5z"/>
<path fill="#4a4a4a" d="M204 449l-29 0 0-256.5 5-1 14-4.5 8.5-6 4.5-5 3.5-6 1.5-6 0-6 -1.5-10 -1.5-5 -5-10 -2-3 -7-6 -4-2.5 -5-1 -11-1.5 0-27.5 49-1 84 0 12-1.5 32 0 10 1 10 0.5 6 1 14 0.5 9 1 9 0 10-0.5 14-1.5 31-8.5 4-0.5 13.5 1 7.5 1 8 3.5 5 3 4 4.5 2.5 5 0 4 -1 2 -2 3 -4.5 3 -8 3 -6 0.5 -14 3 -25 0.5 -16-0.5 -13-2 -12 0 -8-1.5 -12-0.5 -12-2 -40 0 -10-1 -8 0 -7.5 0.5 -8.5 3 -12 1.5 -8 2 -8 3.5 -3 2 -3 3 -2.5 4 -2 6 0 8 1.5 9 3 8 2.5 5 2 7 0.5 6 -1 3 -4.5 7 -1.5 4 -3.5 6 -3 10 -0.5 3 0.5 3 2.5 5 6 5.5 14 6 19 7 4 2 7 4.5 3 3.5 1.5 3.5 1 3 0 4 -0.5 5 -9 16 -1 6 0 7 1 4 2 4 7.5 10 2 4 0.5 4 -0.5 4 -2 5 -9 17 -2 9 -0.5 4 1.5 9 0 8 -0.5 11 -1 8 -1.5 6 -2.5 4 -3.5 4 -5.5 3.5 -12 4.5 -23 7 -6 2.5 -6.5 4.5 -9.5 10 -4 2.5 -4 2 -10 2.5zM1194 444l-13-0.5 -18-4.5 -8-2.5 -8-1 -6-2.5 -6-1 -6-2 -12-1.5 -5.5-1.5 -51.5-1 -8-1.5 -13-3 -3.5-2.5 -1.5-2 -1-4 1-6 2.5-7 7-15 3-10 0-2 -1.5-2 -11-5.5 -10-5.5 -12-8 -7-7 -1.5-3 0-3 2-4 2.5-3.5 4-3.5 5.5-3 5.5-5 4.5-3 4.5-6 3-5 1-3 2-11 0.5-9 0.5-3 5.5-8 9-17 5.5-8 3-3.5 13.5-9.5 6-5 2.5-3 1-4 -0.5-2 -1.5-2 -4-3 -14-2.5 -22-5 -12-4.5 -7-4 -4-4 -1.5-3 0-2 2-7 -0.5-2 -2-3 0.5-2 2.5-2 2 0.5 2 4 1 0 4-3.5 4-1.5 19.5-11.5 3.5-2.5 9-9.5 5-10 3-4 7-5 13.5-7 10-6 8.5-6 5-4.5 6-2.5 8-0.5 17 0 18 3.5 26-1 8 1.5 12-2 12-3 8-1 4-1 11-1 7-1.5 13-0.5 6-1 23-1 8-1 22-1 34 0 8-1 23-0.5 0 17 -61 1 -6 1.5 -12 1 -18 3.5 -18 5 -24 8.5 -14 3.5 -13 1 -7 1.5 -17 0.5 -7 2.5 -6 0.5 -6 2 -6 3 -2 2 -8 7 -8 8.5 -4.5 5.5 -4 7 -3.5 4.5 -4 8.5 -4 4.5 -10 6.5 -21 11 -2 2 -1.5 2 -0.5 3 0 3 2 3 4 3 15 8 20 9.5 24 8 26 13.5 5 3 4.5 4 3 4 2 4 1.5 6 -0.5 5 -2 5 -4.5 5 -8 4.5 -19 6 -12 6.5 -18 11.5 -4 4.5 -1.5 4 0.5 5 2.5 4 5.5 4 11 4.5 6 4 2.5 2.5 3.5 6 1 3 -0.5 6 -2.5 3.5 -2 0.5 -2-1 -1 0 -0.5 2 2.5 7 7 10 3.5 4 5.5 4 5 3 19.5 7 5.5 4 4.5 5 1 3 -1 3 -2 3 -4.5 4 -4 2 -4 1.5zM1392 277.5l-3-0.5 -2-1 -4-3 -4-4 -2-3 -3.5-9 -2.5-5 -13-16 -4.5-5 -6-5 -8.5-6 -11.5-11 -12.5-5 -4.5-3 -2-3 -0.5-2 0-2 1-2 4-2 6 0 7 4 7 5.5 9 2.5 3 0.5 12-0.5 12-2.5 12-1 4-1.5 7-0.5zM1351 453l-4 0.5 -12-1 -9-3 -9-4.5 -20-3.5 -22-7 -6 0.5 -8 3 -4 1 -16 0.5 -4-1.5 -3-2 -2.5-3 -1.5-4 2-4 5.5-5 5.5-2.5 13-4.5 3.5-2 2.5-2 4.5-7 5-15 3.5-8 6-8 6-5.5 6-3.5 6-3 24-6.5 4-1.5 8-5 22-8 6-3.5 12-9 6.5-6.5 4-6 0.5-3 -1.5-8 0.5-6 2-4.5 2-2 3-1 0 157 -9 0.5 -10 1 -10 2.5zM705 334l-7 0.5 -7-1.5 -6-2.5 -4.5-4.5 -3.5-6 -0.5-6 1.5-6 3.5-5 5.5-4 10-4.5 16-3 11 0 10 1.5 4 1.5 4 2.5 1.5 2 1.5 3 0 3 -0.5 3 -3.5 9 -6 8 -4 2.5 -7 3zM1165 375l0-2.5 0 3zM660 473l-23 0 -13-2 -4-1.5 -7-4.5 -3-4 -1.5-6 0-3 1-3 2.5-3.5 3-3 10-6 22-8 9-2 5-0.5 7 0.5 9 1.5 24 9 21 5.5 27 0 12-2.5 6-2.5 10-5.5 13-11 4-3 6-2.5 7-1.5 35 1.5 10 0.5 16-0.5 6-1.5 10-0.5 6-1.5 10-0.5 8-2 54 0 9 1 10-0.5 32 3.5 3.5 1.5 3 2 1.5 2 0.5 2 0 2 -2 4 -3.5 4 -5 4 -5 2.5 -8 2.5 -13 2.5 -4 0 -6-1 -19 0.5 -10 1 -35 0 -8 1 -16 0 -8 1 -11 0.5 -7 1.5 -19 2 -32 6 -5 1 -11-0.5 -11 1.5 -47 9.5 -7 0.5 -5 1.5 -18 1 -14 1.5 -25 0.5z"/>
<path fill="#4c4c4c" d="M200 446l-25 0 0-253.5 3 0 16-5 9-6.5 4.5-5 3.5-6 1-6 0.5-5 -2-11 -1.5-5 -5-10 -2-3 -7-6 -4-2.5 -5-1.5 -11-1 0-27.5 49-1 84 0 13-1.5 31 0 10 1.5 10 0.5 6 1 14 0 10 1.5 9 0 9-0.5 14-2 26-6.5 9-2 13 1 7 1.5 8 3 5 3.5 4 4.5 2 4 -0.5 5 -3 4 -4 3 -6.5 2.5 -19 3 -26 1.5 -16-1 -13-1.5 -12-0.5 -8-1.5 -12-0.5 -12-2 -40 0 -10-1 -8 0 -8 1 -6 2 -14 2 -8 2 -8 3 -3 2 -3 3.5 -2 3 -2 5.5 -1 5 0 5 2 9 7.5 20 0 6 -1 3 -4 6 -2 5 -3.5 6 -3 11 0.5 5 2.5 5.5 6 5.5 14 6 20 7.5 10 6 3 3.5 2 6 0.5 4 -1 5 -8.5 15 -1.5 3 -0.5 5 0 6 1 4 2 4 8 11 1.5 4 0 3 -1.5 7 -9 18 -2.5 10 -0.5 4 1 10 0 8 -0.5 10 -1 8 -2 6 -3.5 5 -4 3.5 -6 3.5 -9 3.5 -23 7 -6 2.5 -5.5 3 -11.5 9.5 -8 4 -11 2.5zM1197 443l-9 0.5 -7-1 -18-4 -8-3 -8-0.5 -5-2 -7-1.5 -5-1.5 -13-1.5 -5-1.5 -7-0.5 -24 0 -8-1 -15-0.5 -17-3.5 -3-2 -2.5-2.5 -1-2 0-3 1-7 2-6 6-14 3.5-10 0-2 -2-2.5 -11-5 -10-6 -12-8 -6.5-6.5 -1.5-3 0-3 2-4.5 4-4.5 8-5 5-4.5 5-3.5 5-6.5 3.5-7.5 2-11 0.5-8 0.5-4 1-2 4.5-5.5 7.5-14.5 6.5-10 4.5-5 19-13 3-4 1.5-4 -0.5-2 -2-3 -5-3 -13.5-2 -23-5 -11-4.5 -7-3.5 -4.5-4 -1.5-3 0-2 2-8 -2-4 0.5-2 1.5-1 2 0 1.5 4 0.5 0.5 1-0.5 4-3.5 4-1.5 20-12 3-2 9.5-10 5-10 3.5-4.5 6-4 14-7.5 10.5-6 8-6 4.5-4 6-3 7-0.5 18 0.5 18 3 26-0.5 8 1 36-7 12-1 6-1 13-1 6-1 23-1 8-1 22-1 34 0 8-1 23-0.5 0 17 -61 1 -6 1 -12 1 -18 4 -18 5 -24 8.5 -14 3.5 -13 1 -7 1.5 -17 0.5 -7 2.5 -7 0.5 -5.5 2 -6.5 3.5 -9 8 -8 9 -6 7.5 -2.5 4 -3.5 5 -4.5 9 -3.5 4 -10.5 7 -20.5 10.5 -2 1.5 -2.5 3 -1.5 4 0.5 3 1.5 3 5 3.5 34 17.5 6 2.5 18 5.5 16 9 12 5.5 7 5 3 3.5 1.5 3 1.5 6 -0.5 5 -2.5 5 -3 3.5 -7 4.5 -16 5 -10 5 -23 16 -4 4 -1.5 5 1 5 2.5 4 5 4 12 5 6 4 3 3 2.5 5 1 3 0 4 -0.5 2 -2 3 -2 0.5 -3-1.5 -0.5-1 0.5-5 -1-2 -0.5 1 -0.5 2 1 7 3 8 9 13 3 3 7 4.5 17 6.5 4 2 3.5 3 3 4 1 3 -0.5 3 -1 3 -2.5 3 -6.5 4zM1392 274l-3 0 -4-2 -5-4 -2.5-4 -3.5-9 -2-4 -12.5-16 -5.5-5.5 -5.5-4.5 -9.5-6 -4.5-5 -5.5-7 -2-1 -6-1 -4-1 -3.5-2 -2.5-2 -1.5-4 0-2 1.5-2 4-1.5 4 0.5 5.5 3 6.5 7 12 2 10 0 10-1.5 6-1.5 12-1 4-1.5 7-0.5zM704 333l-7 0 -7-2 -5-3.5 -4-4.5 -1.5-5 -0.5-6 2-5 4-5 4.5-3 8.5-4 16-3 10 0 10 1.5 4 1.5 3.5 3 1.5 2 1 3 -0.5 6 -3.5 8 -5 7 -4.5 3 -6.5 2.5 -6 1.5zM1352 451l-5 1 -12-1 -6-2 -12-6 -4-1 -18-3 -18-7 -4-0.5 -4 0.5 -8 4 -4 1.5 -6 0.5 -9 0 -3.5-1 -2-2 -2-3 -0.5-3 2-4.5 5-4 5.5-2.5 13.5-3.5 5-3.5 2.5-3 2-5 5-16 3.5-8 5-7 5-4.5 5-3.5 6-2.5 19-4 7-3 10.5-6.5 6.5-3.5 13-5 6-2.5 14.5-11 7-7 5-7 0.5-3 -2-7 0-5 1-2.5 2-2 3-1 0 149.5 -9 0.5 -10 1.5 -8 2.5zM662 472l-10 1 -14-0.5 -16-2.5 -7-4 -4-4.5 -2-6.5 1-5 2-3.5 3-3 9-5.5 20-7 11-2.5 6-1 7 0.5 9 1.5 21.5 7.5 23.5 6 22 0.5 6-0.5 11-2 6-2.5 10-5.5 11-9 6-4.5 7-2.5 8-1.5 33 0.5 10 0.5 16-0.5 6-2 10 0 6-2 10 0 8-2 54 0 9 1 10-1 31 4 3 1 3 2 1.5 2 0.5 2 0 3 -1.5 3 -3 4 -4.5 3.5 -6 3 -8 2.5 -12 2 -4 0.5 -7-1.5 -19 0.5 -10 1 -34 0 -8 1 -16 0 -8 1 -11 0.5 -7 1.5 -19 2 -31 6 -21 1 -67 12.5 -18 1 -13 2 -25 0z"/>
<path fill="#4f4f4f" d="M200 443l-25 0 0-250 3-0.5 16-5 9-6.5 4.5-5 3.5-6 1.5-5 0-6 -2-11 -1.5-5 -4.5-10 -2-3 -7.5-6.5 -4-2 -5-1.5 -11-1.5 0-27 49-0.5 84-0.5 13-1 31-0.5 10 1.5 10 0.5 6 1 14 0.5 10 1 11 0 8-0.5 7-1 6-0.5 26-7 9-1.5 10 1 9 1.5 7 3 6 3.5 3.5 4 2 4 0 4 -1 2 -2 3 -4.5 3 -6 2 -18 3.5 -25 1 -18-1 -12-1.5 -12-0.5 -8-1.5 -10-0.5 -13-1.5 -41-0.5 -10-1 -8 0 -26 4.5 -10 2 -8 3.5 -3.5 2.5 -2.5 2.5 -2.5 3.5 -1.5 5 -1.5 5 0 6 2 9 7.5 20 0.5 6 -1.5 3 -3.5 6 -2 5 -3.5 5 -3.5 12 0.5 5 3 5.5 6 5.5 14 6 19 7.5 4 2 7 4.5 2.5 3 2 6 0.5 4 -1 5 -8.5 15 -1.5 4 -1 4 0 6 1 4 2 3.5 7.5 11.5 1.5 4 0.5 4 -2 7 -8.5 17 -2.5 9 -0.5 5 0.5 19 -1.5 15 -2 7 -3 5 -4.5 4 -6.5 3.5 -9 3.5 -27 8.5 -6 3 -11 8 -8 4 -12 2.5zM1199 442l-7 1 -9-0.5 -20-5 -7.5-2.5 -8.5-0.5 -5-2 -7-1.5 -5-1.5 -13-1.5 -5-1 -7-0.5 -24 0 -8-1.5 -14 0 -8-1.5 -9-2.5 -3.5-2 -2-2 -0.5-2 -0.5-4 1-8 1-4 6.5-14 1.5-6 1.5-3 0-3.5 -2-2 -11-5.5 -10-5.5 -10-7 -8.5-7.5 -1-3 0-3 1.5-4 4-4.5 8.5-5.5 4.5-4 5.5-4 4.5-6 4-8 2-11 0.5-9 0.5-3 2-3.5 3.5-3.5 7-14 7-11 4.5-4.5 20.5-13.5 3.5-4 2-4 -0.5-2 -1.5-2 -3.5-3 -3.5-1.5 -4-1 -11-1 -22-5 -11-4 -6.5-3.5 -4.5-3.5 -2.5-3.5 0-2 2-8 -0.5-2 -1.5-2 0.5-1.5 1-1 2 0.5 1 4 2 0 4-4.5 5-1.5 19.5-12 12.5-12 5-10 3-4 6-4.5 14-7 11-6.5 8-6 5-4.5 6-2.5 25 0 9 2 10 1.5 24-1 8 1 36-7 22-2.5 9-0.5 6-1 23-1 8-1 22-0.5 34-0.5 8-1 23 0 0 16.5 -49 0.5 -12 0.5 -6 1 -12 1 -18 4 -18 4.5 -24 9 -12 3 -22 3 -17 0.5 -7 2.5 -7 0.5 -6 2 -6 3.5 -9 8 -8 8.5 -6.5 8 -6.5 10 -4 7.5 -3 4 -11 7.5 -22 11 -5.5 6 -1 3 0 3 2.5 3 5.5 4 36.5 19.5 6 2.5 15.5 4 5.5 3 10 6 13 5.5 6 4.5 4 5 1 5 0 5 -1.5 4 -3.5 4 -6 3.5 -16 4.5 -9 4.5 -24 18.5 -4 5 -1.5 5 0.5 3 1 3 2 3 2.5 2 3.5 2.5 12 5 6 4 2.5 2.5 3.5 7 0 5.5 -2 4 -2 0.5 -1-0.5 -1.5-2.5 0-5 -1.5-1.5 -1 0.5 -0.5 3 1.5 8 2.5 7 9.5 13.5 2.5 2.5 7.5 5 18.5 8 4 3 2 3 1.5 5 -0.5 3 -1.5 3 -5 4.5zM1325 203l-4 0.5 -6-2 -2-1.5 -1.5-2 -0.5-2 0.5-2 2.5-2 3-0.5 2 0.5 3.5 2 3 3 1.5 3 -0.5 2zM1392 271.5l-3 0 -4-1.5 -4-3 -2-3 -5-12 -12.5-17 -8-8 -12.5-8 -4-3.5 -2.5-3.5 -1.5-3 -1-3 1-1.5 1-0.5 3-0.5 6 0.5 8-0.5 18-3.5 12-1 4-1.5 7-0.5zM703 332l-6 0 -6-2 -4-3 -4-5 -1.5-5 0-6 2.5-5 3.5-4 4-3 6.5-3.5 15-3 11 0 8 1 5 2 3.5 2.5 1.5 2 1 3 -0.5 6 -3 8 -5.5 7 -5 3 -6 2zM1392 308.5l-1 0 -2-3 -1.5-4.5 0-3 1-2 2.5-2 1 0zM1349 450l-10 0.5 -6-1.5 -4.5-2 -7.5-4.5 -4-2 -4-1 -12-1 -7-1.5 -5.5-2 -11.5-6 -4-2 -4 0.5 -6.5 5.5 -3.5 2.5 -4 1 -4 0.5 -6 0 -4-1 -3-3 -1-4 2-4 2-2 3-2 7-2 13-1.5 2-0.5 2-2 2.5-4 2.5-6 4.5-18 2-6 4.5-7 5-5 4-2.5 6-2.5 18-3 6-2 6-3.5 8.5-6.5 5.5-3.5 18-8 4-2.5 12-9.5 5-4.5 9-10.5 1 0 0 126 -11 0.5 -10 2.5 -6 2.5 -12 6.5zM661 472l-23 0.5 -16-3 -7-4.5 -3.5-4 -1.5-6 1-5 2-3.5 3-3 9-5 19-6 11-2.5 6-1 7 0.5 9 1.5 25.5 8 19.5 5 23 0 6-0.5 11-2 6-2 9.5-5.5 11.5-9.5 6-4 7-2.5 8-1.5 32 0 9 0.5 16-1 8-1.5 9-0.5 6-1.5 10-0.5 9-1.5 53 0 9 1 10-1 30 4 5.5 2.5 1.5 2 1 2 0 3 -1 3 -3.5 4 -3.5 3 -7 3.5 -8 2.5 -11 2 -4 0 -7-1 -20 0.5 -9 1 -34 0 -8 0.5 -16 0.5 -8 0.5 -11 0.5 -8 2 -18 1.5 -31 5.5 -19 0.5 -26 5.5 -30 5.5 -7 1 -6 1.5 -18 1 -13 2 -25 0z"/>
<path fill="#515151" d="M201 440l-26 0 0-247 3-0.5 16-5 9-6.5 4.5-5 3.5-5.5 1.5-5.5 0-6 -1.5-11 -1.5-5 -5-10 -2-3 -7.5-6.5 -4-2.5 -5-1 -11-1.5 0-27 49-0.5 84 0 13-1.5 31 0 10 1.5 10 0 6 1.5 14 0 10 1.5 14-0.5 18-2 26-6.5 9-1.5 11.5 1.5 7.5 1.5 7 3 5.5 3.5 4 5 1 4 -1 4 -2.5 3 -3 2 -6 2.5 -19 3.5 -24 1.5 -8-1 -10-0.5 -12-1.5 -12-0.5 -8-1.5 -10 0 -13-2 -41 0 -10-1 -8 0 -14 2 -10 1 -10 2.5 -10 3.5 -6 5 -2 3 -2.5 6.5 -1 5 0 6 1.5 9 7.5 20 0.5 6 -5 9 -2 5 -3.5 5 -3 12 0 5 3.5 6 6 5.5 14 6 19 7 4 2 7 5 3 4.5 1.5 5 0 4 -1 4 -9.5 16 -1.5 7 0 5 1 5 2 4 7.5 12 1 3 0.5 4 -2 7 -8 16 -3 10 -1 6 0.5 19 -1.5 14 -2.5 7 -3 5 -4.5 4 -6.5 3.5 -10 3.5 -24 7.5 -6 2.5 -13 7.5 -6 3 -12 2.5zM1095 217.5l-3-0.5 -6.5-3 -6-2 -12.5-1 -24-5.5 -14-5.5 -6-4.5 -3-3.5 0-3 2.5-9 -2-2 0.5-1 1-0.5 1 1 0 2.5 1 0.5 2 0 2-3 2-1.5 5-1.5 4-3 8-4 8.5-5.5 12-12 5-10 3-4 5.5-4 14-7 11.5-7 8-6 4.5-4 4-2 2-0.5 5-0.5 19 0 18 3.5 26-1 8 1 36-7 22-2.5 9-0.5 7-1 22-1 9-1 21-0.5 34 0 8-1.5 23 0 0 16 -49 1 -12 0.5 -6 1 -12 1 -18 4 -18 4.5 -24 9 -13 3 -15 1.5 -6 1 -17 1 -7 2.5 -7.5 0.5 -5.5 2 -6 3 -9 8 -8.5 9 -6.5 8 -6 9.5 -4 7.5 -3 4 -12 8 -20.5 10 -7.5 6zM1322 201.5l-3 0 -4-2 -1.5-1.5 -0.5-2 1.5-2 2.5-0.5 2 0 3.5 2.5 1 3 0 1zM1392 269l-5-1 -4-2 -2.5-3 -4.5-11 -14-19 -3.5-4 -4.5-4 -11-6 -4-3.5 -4-5.5 0-2 0.5-2 3.5-1 12-0.5 18-4 12-1.5 4-1 7-1zM1194 442l-11 0 -22-5.5 -5-2 -9-0.5 -5-2 -7-1 -6-2 -12-1 -5-1.5 -7-0.5 -24 0 -7-1 -15-0.5 -16-3.5 -3.5-2 -2-3 -1.5-7 1-6 1-4 6-13 2-7 1.5-3 -0.5-4 -2-2 -10-4.5 -11-6.5 -10-6.5 -8-7.5 -1.5-3 0-3 2-4 3.5-4 8-5 5-4.5 6-4.5 4.5-6 4-8 2-11 0.5-9 0.5-3 1.5-2.5 4-4.5 6-12 8.5-13 4.5-4.5 17.5-10.5 10.5-7.5 2-0.5 4 1.5 46 26 5 1.5 11 2 6 2 12 8.5 12 4 4 2 4 3.5 2.5 4 1 4 0 4 -1.5 3.5 -3 3.5 -3 2 -3 1.5 -14 2.5 -7 3.5 -28 23.5 -3 4 -1.5 5 0.5 3 0.5 3 2 3 2.5 2.5 5 3.5 12 4.5 6 4 2 2.5 3.5 6 0.5 2 -0.5 4 -1.5 4 -2 0.5 -1.5-1.5 -0.5-5 -0.5-2 -1.5-1 -1 0.5 -1 2.5 1.5 9 3 7 9.5 14 2 2 8 5.5 17 7.5 3.5 3 2 3 1.5 3 0 3 -1 3 -2 3 -3 2.5 -3 2zM703 331l-6-0.5 -5-2 -4.5-3.5 -2.5-4 -1.5-5 0-5 2.5-5 3-4 4.5-3 5.5-3 14-3 10 0 7 1 6 1.5 3.5 2.5 1.5 2 1 3 0 6 -3 7.5 -5 6.5 -5 3 -7 2.5zM1392 302.5l-1 0 -0.5-1.5 0.5-3 1 0zM1348 448l-9 0.5 -6-1.5 -4-2 -8-6 -4-1.5 -4-0.5 -12-0.5 -7.5-1.5 -8-4 -7.5-6 -2.5-4 -1-4 3.5-16 2-12 1.5-6 3.5-7 2.5-3 3.5-3 4-2 4-1.5 6-1 12-1 8-3 4-2.5 9-8 6-4.5 15-7 6-3.5 12.5-10 11.5-11 3-1 0 117.5 -11 1 -12 3 -6 3 -10 7.5zM655 472l-19-0.5 -12-1.5 -4-2 -5.5-4 -3-4 -0.5-6 1.5-5 2-3 3.5-3 9-4 16-4.5 13-3 6-1 8 0.5 7 1 19 6 25 6 28 0.5 13-2.5 7-2 9-5 10-8.5 5-3 6-3 6-2 7-1 14-0.5 16 0 9 0.5 16-1 8-2 10 0 6-2 10 0 7-2 54 0 9 1.5 11-1 23 3 5.5 1 5.5 3 1.5 2 0.5 2 0 3 -1.5 3 -2.5 3 -4 3.5 -5 2 -9 3 -11 2 -4 0.5 -6-1.5 -6 0.5 -15 0 -9 1 -34 0 -8 1 -16 0 -8 1 -11 0 -8 2 -19 1.5 -29 5 -20 1 -26 5.5 -30 5.5 -7 1 -6 1.5 -19 1 -12 2 -25 0 -7 2zM1253 435l-8 0 -3.5-2 -1-2 0-2 0.5-2 1.5-2 4.5-2.5 6-1.5 5 1 3 1.5 1 1.5 0 2 -1.5 4 -3.5 3z"/>
<path fill="#535353" d="M204 437l-29 0 0-243.5 3-0.5 15-4.5 4-2.5 6-4.5 4-4.5 4-6 1.5-5 0.5-7 -2-11 -1.5-5 -5-10 -2-3 -7.5-7 -3-1.5 -5-1.5 -12-1.5 0-27 49-0.5 84 0 6 0 7-1.5 31 0 9 1.5 11 0.5 6 1 14 0.5 10 1 9 0 11-0.5 6-1 6-0.5 20-4.5 6-2 9-1.5 12 2 7 1.5 7 3 5 3.5 3 4 1.5 4 -1 4 -2.5 3 -4 2.5 -4 1.5 -19 3.5 -24 1.5 -8-1 -10-0.5 -12-1.5 -12 0 -8-2 -10 0 -12-2 -41 0 -10-1 -9 0 -12 2 -12 0.5 -8 2 -11 4 -4 2.5 -3 2.5 -2.5 3.5 -2.5 7 -1 5 0 7 1.5 8 7.5 20 1 5 -1 3 -4 6.5 -2.5 5.5 -3 5 -3.5 11 0 5 3.5 7 6.5 6 36 14.5 8 5.5 2 3 2 6 -0.5 7 -4.5 9 -6 9 -1 4 -0.5 5 0.5 4 1 4 7.5 13 2 4 0.5 4 0 4 -2.5 7 -7.5 14 -2.5 7 -1 7 0.5 18 -1.5 13 -2.5 9 -4 6 -5 4 -7 3.5 -10 4 -21 5.5 -23 10.5 -12 3.5zM1095 214l-4 0 -12-3 -12-1 -6-1.5 -17-3 -8-3 -8-3.5 -5-4 -1.5-2 -1-3 1.5-7 1-2 2 0 2-1 1-2 2-1.5 5-1.5 22-14 11-11 4.5-10 3.5-4 5.5-4 13.5-7 12-7 8-6 4-4 4.5-2 7.5-1 18 0 10 2.5 9 1 25-1 9 1 23-5 12-2 22-2.5 10-0.5 6-1 22-0.5 9-1.5 21-0.5 34 0 8-1.5 23 0 0 16 -49 0.5 -12 1 -6 1 -12 1 -18 4 -18 4.5 -24 9 -13 3 -14.5 1.5 -6.5 1 -17 1 -7 2 -8 1 -5 1.5 -6 3.5 -9 8 -9 9 -6 8 -6 8.5 -4.5 8.5 -3.5 4.5 -5 2.5 -6 4.5 -12 6 -9 4 -7 4.5zM1392 265.5l-5-1 -2-1 -1.5-1.5 -5-10 -7.5-9 -7-10 -3-4 -6-5 -12-7 -3.5-3 -2-4 0-2 1-1 2.5-1 10-1 18-4.5 12-1 4-1.5 7-0.5zM1197 441l-6 0.5 -8-0.5 -12-2.5 -10-2.5 -5-2 -8-0.5 -6-2 -7-1 -4-1.5 -14-1 -5-1.5 -7-0.5 -24 0 -7-1.5 -15 0 -15-4 -3.5-1.5 -1.5-2 -1.5-3 -0.5-5 0.5-6 1-4 6-14 1.5-5.5 1.5-2.5 0.5-2 -0.5-3 -2.5-2 -10.5-5 -20.5-13 -8-7.5 -1-2.5 0-3 1.5-3 3.5-4.5 8.5-5.5 4.5-4.5 5.5-3.5 5-6 4-9 2.5-11 0.5-10 1-3 4.5-5 6-12 9-13.5 3-3.5 5-3.5 22-11.5 4-1.5 4 1 6 2.5 9.5 5 27.5 17.5 6 2 11 1.5 5.5 2 4.5 2.5 8 7 4 2 10.5 2.5 3.5 2 3 3 1.5 3 0.5 4 -1 3 -2 3 -2.5 2 -3.5 1.5 -4 1 -10 1 -6 2.5 -4 3.5 -11 11.5 -14.5 13 -3 4 -1 5 0.5 4 1.5 3 4.5 5 5 3 12 5 6 4 2 2.5 3.5 6.5 0 4 -0.5 3 -1 1.5 -2.5 0.5 -1-2 -0.5-6 -2-1.5 -2 1.5 0 4 1.5 8 2.5 6 9.5 14 2.5 2.5 7 5 16 7.5 4 3 1.5 2 1.5 3 0.5 3 -1.5 5 -2.5 3 -2.5 2zM703 330l-5-0.5 -5-1.5 -4-3.5 -3-4.5 -1-4 0.5-5 2-5 3.5-4 4-3 5-2.5 13-3 10 0 6 0.5 6 1.5 3.5 2.5 1.5 2 1 3 0 6 -2.5 7 -5.5 7 -5 3 -7 2.5zM1347 445l-6 1 -6-1 -4-2.5 -8-6.5 -4-2 -4 0 -12 0.5 -8-1 -5.5-2.5 -5-4 -2.5-3 -1.5-3 -1-5 2.5-15 0.5-12 1.5-6 1.5-4 3-4 2.5-2.5 4-2 8-2 16-0.5 4-1 3-1.5 5-4 7.5-8.5 5-5 5-3 10.5-5 5.5-3 13.5-10.5 9-8.5 2-1.5 3-1 0 110.5 -13 1.5 -12 3.5 -7 4 -9 8zM662 471l-10 0.5 -14 0 -16-2.5 -6-4 -3-4 -1.5-6 0.5-4 2-3 3-3 8-4.5 17-4.5 15-3.5 5-0.5 15 1.5 18 5 26 6 23 0.5 7-0.5 12-2 7-2 8-4.5 10-8 5-3.5 6-2.5 7-2 7-1 14-1 15-0.5 10 0.5 7-1 9 0 7-2 9 0 6-2 10 0 8-2 54 0 9 1 11-0.5 23 2.5 5 1.5 5 2.5 1.5 2 1 2 -0.5 3 -0.5 2 -3 4 -3.5 3 -5 2.5 -9 3 -11 2 -4 0 -6-1.5 -30 1.5 -34 0 -8 1 -16 0 -20 1 -7 2 -19 1.5 -29 5 -19 0.5 -25 5.5 -32 6 -7 1 -6 1.5 -19 1.5 -13 1.5 -24 0.5zM1252 432l-3 0.5 -3-1.5 -0.5-2 1-2 4.5-1.5 2 0 2 1 0.5 0.5 0.5 2 -1.5 2z"/>
<path fill="#555555" d="M206 434l-31 0 0-240.5 4-0.5 15-5 5-3 4.5-4 5.5-6 2.5-5 1.5-6 0-6 -3.5-15 -4.5-10 -2-3 -7-6 -4-3 -5-1 -12-1.5 0-27 49-0.5 84 0.5 6-0.5 7-1.5 31 0 4 0.5 5 1 11 0.5 6 1.5 14 0 10 1.5 10 0 10-0.5 6-1.5 6 0 13-3.5 7-1.5 6-1.5 9-1 9 1 9 2 6 2.5 6 4 3 3.5 1.5 4 -1 4 -2.5 3 -3 2 -5 2 -18 3.5 -12 0 -6 1 -6 0 -30-3 -12 0 -8-2 -10 0 -12-2 -41 0 -10-1 -9 0 -12 2 -10 0 -6 1 -14 5 -5 2.5 -3.5 3 -2 3 -3 8 -1 5 0 7 1.5 8 8 20 0.5 5 -1 3 -3.5 6 -3 6 -3 5 -3 11 0 5.5 3.5 6.5 6.5 6 35 14.5 8.5 5.5 2.5 3 1.5 6 0 7 -5 9 -6 9 -1.5 4 -0.5 5 0.5 4 1.5 5 9 16 0.5 4 0 4 -2.5 7 -7 13 -3 8 -1 8 0 17 -1.5 14 -2.5 8 -4 6 -6.5 4.5 -10 4.5 -25.5 7 -24.5 9.5 -10 2.5zM1096 212l-5 0 -13-2 -11-0.5 -6-1.5 -16-3 -6.5-2 -9.5-4.5 -7-5.5 -1-3 1-6 1-2 3-0.5 1-1 1.5-2.5 1.5-1.5 5-1.5 4-2.5 8-4.5 10.5-7 10.5-10.5 5-10.5 3.5-4 5.5-4 13.5-7 11.5-6.5 13-10.5 4-2 7-1 18 0.5 10 2 9 1 25-1 9 1 23-5 13-2 22-2.5 9-0.5 6-1 22-0.5 9-1.5 21-0.5 34 0 8-1.5 23 0 0 16 -49 0.5 -12 0.5 -6 1.5 -12 1 -18 4 -18 4.5 -24 8.5 -13 3.5 -21 2.5 -17 1 -7 2 -8 1 -5 1.5 -6 3 -9.5 8.5 -8.5 9 -6.5 8 -5.5 8 -5 9 -3 4 -5 2.5 -6 4.5 -12 6 -9.5 4 -4.5 2.5zM1392 258.5l-3-0.5 -2-0.5 -12-11.5 -4-5 -6-10 -5-5.5 -6-4.5 -9-4.5 -3-2.5 -1.5-3 0-1 0.5-1.5 2-0.5 8-1.5 7-3 9-2 14-2 5-1.5 6-0.5zM1198 440l-6 1 -9-0.5 -12-2.5 -10-2.5 -5-2 -8-0.5 -6-2 -6-0.5 -5-1.5 -14-1.5 -6-1.5 -30-0.5 -7-1 -15-0.5 -14-3.5 -3.5-1.5 -2-2 -0.5-2 -1.5-6 0.5-6 3.5-10 3.5-8 1-5 2.5-3 -1-5 -2-2 -10.5-5 -21-13 -8-8 -0.5-2 0-3 1-3 3.5-4 9-6 4-4 6-4 5-6 4-9 2-11 0.5-9 1-4 5-5 6-12 9.5-14 3-3 4.5-3 21.5-10 5-0.5 5 1 8 3.5 8.5 5 7 5 8.5 7.5 4 2.5 10 4.5 12 2 4 1 4 3 8 8.5 4 1.5 10 1 3 1.5 2 2 1.5 3 -0.5 3 -2 2.5 -2 1.5 -4 1 -12-0.5 -3 1.5 -3 2.5 -13.5 17.5 -16 15 -2.5 4 -0.5 5 1.5 6 2 3 3.5 3 5.5 3.5 12 5 6 4 2 2.5 2.5 5 0.5 2 0 4 -1 2.5 -2 1 -0.5-0.5 -1-7 -0.5-1 -2-1 -2 1 -0.5 1 0 4 1.5 7 2.5 7 9.5 14 2 2.5 7 5 17 8.5 4 4 2 5 -1 5 -3 4 -3 2zM705 329l-5 0 -5-1.5 -3.5-2.5 -3-4 -1.5-5 0-5 2-5 3.5-4 4-3 3.5-2 12-3 16 0.5 6 1.5 3.5 2 1.5 2 1.5 3 0 6 -2.5 7 -5 6 -5 3 -7 2.5zM1345 435l-4 0.5 -2-0.5 -11-5.5 -5-1.5 -4 0.5 -12 3 -6 0.5 -6-1.5 -6-3.5 -4-5 -1-5 0.5-4 2-10 -0.5-14 1-6 2-4 2-2.5 2-2 4-2 4-1 4 0 14 1.5 4-0.5 4-2.5 5-4.5 8-11.5 4.5-5 5.5-3.5 15-8 14-10.5 8-8 2-1.5 3-0.5 0 103 -9 1 -8 1.5zM659 471l-22 0 -15-2.5 -5-3.5 -3.5-4 -1.5-6 1-4 2-3 2-2 3-2 5-2.5 16-4 20-4 16 1 18 5 27 6 24 0 11-1 8-1.5 6-2 8-4.5 9-7.5 5-3 6-3 8-2 21-2.5 14-0.5 10 0.5 8-1 8-0.5 7-1.5 10-0.5 6-1.5 10-0.5 7-1.5 54-0.5 9 1.5 11-1 23 3 5 1.5 2.5 1 2.5 2 1 2 0.5 2 0 2 -1.5 3 -2 3 -3 2.5 -5 2.5 -9 3 -11 2.5 -4 0 -6-2 -6 1 -15 0 -9 0.5 -34 0 -8 1.5 -17 0 -19 1 -7 1.5 -20 1.5 -27 4.5 -7 1 -13-0.5 -11.5 3.5 -10.5 2 -35 6.5 -7 1 -6 1.5 -20 1.5 -12 1.5 -24 0.5z"/>
<path fill="#575757" d="M209 431l-11 0.5 -23-0.5 0-237.5 3 0 15-5 8.5-5.5 5.5-5 4-6 1.5-5 1-6 -0.5-4 -2.5-12 -5.5-12 -2-3 -7-6.5 -4-2.5 -5-1.5 -12-1.5 0-26 49-0.5 84 0 6-0.5 7-1 31 0 3 0 5 1 12 1 6 1 14 0.5 10 1.5 10 0 10-0.5 6-1.5 6-0.5 14-3.5 6-1 6-1.5 8-1 6 0.5 12 2.5 6 2.5 6 4 3 3 1.5 4 -0.5 3 -2 3 -3 2 -5 2.5 -18 3.5 -12 0 -6 1 -6 0.5 -7-1.5 -18-1 -5-0.5 -11.5-0.5 -7.5-1.5 -10.5-0.5 -12.5-2 -40 0 -20-0.5 -12 1.5 -8-0.5 -6 1 -16 5 -5 2.5 -4 3.5 -2 3.5 -3 8 -0.5 4 0 8 1 8 7.5 18.5 1 3.5 0 3 -1 3 -3.5 6 -2.5 6 -3.5 5 -2.5 11 0 6 3 6 7 6.5 35 14 8 5.5 2.5 3 1.5 3 0.5 3 -0.5 7 -5 9 -6.5 9 -1 4 -1 5 0.5 4 1.5 4 9 17 0.5 4 0 4 -1.5 5 -7.5 14 -3.5 9 -1.5 8 0 17 -1.5 14 -2.5 8 -4 5.5 -7 5 -10 4.5 -23 5.5 -23 8 -10 2.5zM1100 210l-7 0.5 -25-1.5 -7-1.5 -18-3.5 -12-5 -6-4 -2.5-2 -1-2 0.5-5 1-3 4-2 1.5-3 1.5-1 5-1.5 4-3 8-4 11-7.5 10-10 5.5-11 3.5-4 5.5-4 13.5-7 11-6.5 13-10.5 4-1.5 7-1 18 0 10 2 9 1 25-1 9 1 23-4.5 13-2.5 22-2.5 9 0 6-1 22-1 8-1 20-1 36 0 8-1 23-0.5 0 16 -49 0.5 -12 0.5 -6 1 -12 1.5 -18 3.5 -17 4.5 -26 9.5 -12 3 -21 2.5 -16 0.5 -8 2.5 -8 0.5 -5 1.5 -6 3.5 -10 8.5 -8.5 9 -6.5 8 -6.5 10 -3.5 6.5 -4 4.5 -4 2 -6 4.5 -11 6zM1392 252l-3-0.5 -4-1 -4-2 -4-3 -4-4.5 -5-9 -3-4 -6.5-6 -12-8 -1.5-2 1-2 12-6 3-1 8-2 12-1 6-2 5 0zM1195 440l-12 0 -12-2.5 -10-2.5 -5-2 -8-0.5 -5-1.5 -7-1 -5-1.5 -14-1 -5-1.5 -7-0.5 -24 0 -7-1 -15-0.5 -8-2 -6-2 -2.5-1 -2-2 -1-2 -1.5-6 0.5-7 3-9 3.5-7.5 1.5-5.5 2.5-3 -1-5 -2-2 -11-5 -15-9 -6-4.5 -7.5-7.5 -1-2 0-3 2-4 2.5-3 9-6 4-3.5 6-4 5.5-6.5 4-9 2-11 0.5-9 1-4 5.5-5 5.5-11.5 10-14.5 2-2 6-4 14-6 6-2 6-0.5 7 2 8 4 8 5.5 4 4 5 6 3 3 12 6 6.5 4 9.5 9.5 2.5 3.5 2 4 0 4 -1 5 -3.5 8 -4 7 -2.5 4 -16 15 -2.5 5 0 5 2.5 6 5 5 5.5 3.5 13 5 6 4.5 2 2.5 2.5 4.5 0 2 -0.5 6 -2 1 -0.5-1 -0.5-6 -1-1.5 -2-1 -2.5 1.5 -0.5 5 2 7.5 2.5 6.5 9.5 15 9 7 16 8 4 4 1.5 5 -1 5 -3.5 4.5 -3 1.5zM707 328l-6 0 -5-1 -3-2 -3-4 -1.5-5 0-5 1.5-4 3-4 3.5-3 3.5-2 12-3.5 16 0 6 2 3 2 2.5 4.5 0.5 6 -2.5 6 -4.5 6 -4 3 -7 2.5zM1303 427l-4 0 -4-2 -2.5-2 -2-4 0-5 3-12 -2-11 0-4 1-4 1-2 3.5-3 2.5-1 3.5-0.5 6 1 10 4.5 2 0 4-1.5 4-3.5 4-4.5 2.5-4.5 5-12 4.5-6 5.5-4 10.5-5 5-3 14-11 7-7 2-1 3-1 0 96 -9 0.5 -6 1 -6 2 -12 5.5 -4 1 -6 0.5 -8-2 -6-2.5 -3-2.5 -2-3.5 -2.5-10 -2.5-6 -3-4 -3-1 -3 1 -3 2.5 -2.5 3.5 -1 3 0 4 4 10 -0.5 4 -1 2 -2.5 2zM662 470l-11 1 -14-0.5 -15-2.5 -4.5-3 -3.5-4 -1-6 0.5-4 2.5-3 2-2 7-3.5 8-2.5 28-5 15 0.5 18 4.5 28 6 25 0 14-1.5 6-1 5-2 8-4.5 8-6.5 4-3 7-3 9-2.5 21-2.5 13-1 10 0 8-1 8 0 7-1.5 10-0.5 6-2 10 0 8-2 53 0 9 1.5 10-1 16 2 11.5 2 2.5 1 3 2 1.5 2 0.5 2 -1 4 -2.5 4 -2.5 2 -8.5 4 -6.5 2 -10 2 -4 0 -6-2 -6 1 -24 0.5 -34 0 -9 1.5 -35 1 -8 1.5 -20 1.5 -26 4.5 -8 0.5 -8-0.5 -4 0 -13.5 4.5 -20 4 -18.5 3 -5 1 -7 1 -6 1.5 -24 2 -8 1.5 -24 0z"/>
<path fill="#595959" d="M212 428l-10 0.5 -27-1 0-233.5 4-0.5 15-5 9-6.5 4-4 4-6 2-5 0.5-6 -0.5-4 -2.5-12 -5.5-12.5 -2-3 -7.5-6.5 -3.5-2 -4-1.5 -13-1.5 0-26 49-0.5 84 0 6 0 7.5-1.5 30.5 0 8 1.5 12 0.5 5 1.5 15 0 9 1.5 11 0 10-0.5 6-1 7-0.5 13-3.5 6-1 6-2 8-0.5 8 1 10 2.5 6 2.5 6 4.5 2.5 2.5 1 3 -0.5 3 -2 3 -3 2 -4 2 -16 3.5 -14 0.5 -6 1 -5 0 -8-1 -17-1 -7-1 -9-0.5 -9-1.5 -10-0.5 -13-2 -40 0 -18-0.5 -14 1.5 -10-1 -6 1.5 -12 4 -7 3 -4.5 4 -2 3 -3 10 -0.5 11 1.5 8 7.5 20 0.5 5 -0.5 2.5 -10 17.5 -2.5 11 0 6 3 6 7.5 6.5 35 14.5 8 5.5 2 2.5 1.5 3 0.5 3 -0.5 7 -4.5 8 -7 10 -1.5 4 -0.5 5 0 4 2 5 8 16 1 4 0 4 -2 6 -7.5 14 -3.5 9 -1.5 8 0 16 -1.5 14 -2.5 8 -3.5 5 -6 4.5 -10.5 4.5 -22.5 5.5 -21 6.5zM1100 209l-6 0.5 -25-1 -7-1.5 -18-3 -10-4 -5-2.5 -3-2.5 -3-2.5 -1-1.5 0-2 0.5-3 0.5-2 4-2.5 2-3.5 1-1 5-1 4-3 8-4.5 11.5-7.5 10-10 5.5-11 3-4 6-4 11-5.5 13-7.5 13-10.5 4-2 7-1 18 0 10 2 9 1.5 25-1 9 1 23-5 13-2.5 37-3.5 50-3 36 0 8-1 23-0.5 0 15.5 -49 1 -13 0.5 -5 1 -12 1 -18 4 -17 4.5 -24 8.5 -14 4 -21 2.5 -17 0.5 -7 2.5 -8 0.5 -6 2 -5 2.5 -8 7 -10.5 11 -6.5 8 -7 10 -3 5.5 -4 5 -4 2 -6 4.5 -12 6.5zM1392 247.5l-5-0.5 -4-0.5 -4-2 -3-2.5 -3-4 -3.5-7 -2.5-4 -15-13 -1-2 0.5-1 2-3 5.5-4 7.5-2 14.5-2 6-1.5 5-0.5zM1196 439l-5 0.5 -8-0.5 -22-4.5 -4-1.5 -8-0.5 -6-2 -7-0.5 -5-1.5 -14-1 -5-1.5 -7-0.5 -24 0 -7-1.5 -14-0.5 -10-2 -6-2.5 -2.5-2 -1-2 -1.5-6 0-7 3-9 3-7 1.5-6 3-3 -1.5-5 -2-2 -11-5.5 -15-9 -6-4 -7-7.5 -1-2 0-3 2-4 2.5-3 8.5-5.5 4-3.5 6-4 6-7 4-9 0.5-5 1.5-6 0.5-10 1-3 5-4 5.5-11.5 10-14.5 2-2.5 4-2.5 4-2.5 12-4.5 6-1.5 7 0 7 2 6 3.5 7 5 3.5 3 8 10 14.5 10 12 15 2 4 1 5 -1 6 -2 6 -2.5 5 -3 4 -12.5 11 -2.5 3 -2 5 0 5 3 6 5.5 5.5 6 3.5 11.5 4 6 4 2.5 3 3 5.5 0 6.5 -2 1 -0.5-6 -1-2 -1.5-1 -1 0 -2 1 -1 3 0 3 1.5 7 3 8 7.5 12 3.5 4 7.5 5.5 14.5 7.5 2.5 2 2.5 4 1 4 -1.5 5 -3 3zM711 327l-7 0.5 -4-0.5 -4-1.5 -3-2.5 -3-5 -0.5-5 1-5 2.5-4 3.5-3 3.5-2.5 12-3.5 15 0 5 1.5 3.5 1.5 1.5 2 1.5 3 0.5 5 -1.5 6 -3.5 5 -4 3.5 -7 3 -4 1zM1353 415l-6-0.5 -4-1.5 -2-2 -2-4 -3.5-14 0-4 3.5-11 1.5-15 1.5-6 3-5 4-4 17-9.5 14-10.5 7.5-7 1.5-1 3-1 0 88 -15 0 -5 0.5 -5 2 -8 4zM661 470l-11 0.5 -13 0 -15-3 -3.5-2.5 -4-4 -1-4 0.5-5 2-3 2-2 7-3.5 8-2.5 10-2 9-0.5 9-2 15 0.5 18 4 27 5.5 26 0 15-1 7-1.5 7-3.5 5-3 8-6.5 5-3 6-2.5 9-2.5 21-3 13-1 10 0 7-1 9-0.5 6-1.5 10-0.5 6-1.5 10-0.5 8-1.5 53-0.5 7 1.5 6 0 6-0.5 14 1.5 10 1.5 4.5 1.5 3.5 2 1.5 2 0.5 2 0 3 -1.5 3 -4.5 4 -4 2.5 -10 3.5 -11 2 -3 0 -6-2 -7 0.5 -57 1 -9 1.5 -35 0.5 -8 1.5 -20 1.5 -25 4 -9 0.5 -8-0.5 -4 0 -13 5 -21 4 -18 3 -6 1.5 -6 0.5 -6 1.5 -25 2 -7 1.5 -24 0z"/>
<path fill="#5c5c5c" d="M206 426l-31-1.5 0-230.5 4-0.5 15-5 9-6 4-4 4.5-6.5 2-6 0-7 -3-15 -5.5-12 -2-2.5 -7-6.5 -4-2.5 -4-1 -13-1.5 0-26 133 0 6-0.5 8-1.5 28 0 4 0.5 6 1 10.5 0.5 6.5 1.5 15 0.5 8 1.5 12 0 10-0.5 6-1.5 7-0.5 13-3 7-1.5 5-1.5 8-0.5 16.5 3.5 7.5 3.5 6 4 2 2.5 0.5 2 -0.5 3 -2.5 3 -2.5 2 -4.5 2 -14.5 3 -15 0.5 -5 1 -4 0 -8-1 -12-0.5 -7-0.5 -5-1 -10-0.5 -8-1.5 -10-0.5 -14-2 -58-0.5 -4 0.5 -8 1 -12-1.5 -4 1 -15 5 -7 3.5 -5 4 -1.5 3 -2.5 10 -0.5 5 0.5 8 1 6 6 15 2.5 9 -0.5 2.5 -7 13.5 -3 4.5 -2.5 11.5 0 6 3 6 7.5 7 35 14.5 7 4.5 2.5 3 1.5 3 0.5 3 0 7 -4.5 7.5 -8.5 11.5 -1.5 4 0 4 0.5 4 1 4 9 18 0.5 3 0 4 -2.5 7 -7.5 13.5 -3.5 9.5 -1.5 9 0.5 15 -2 14 -2.5 7 -3.5 5 -4 3 -3.5 2 -5 2 -8 2.5 -17 3.5 -21 5.5zM1101 208l-5 0.5 -27-0.5 -7-1.5 -6-1 -5-1 -6-1 -11-4 -7.5-4.5 -4-4 0-2 0.5-4 1-1.5 3-1.5 3-4.5 5-1 4-3 8-4.5 12-8 10-10 5.5-11 2.5-3.5 6-4 11-5.5 13-7.5 13-10.5 4-2 7-1.5 18 0 10 2.5 9 1 25-1 9 1 23-5 14-2.5 36-3.5 51-3 35 0 8-1 23 0 0 15 -49 1 -13 0.5 -5 1 -12 1 -16 3.5 -19 5 -24 8.5 -14 4 -21 2 -17 1 -7 2 -8 1 -6 2 -5 2.5 -8.5 7 -10.5 11 -6.5 8 -7 10 -2.5 5 -4 5 -4 2.5 -6 4 -8 4.5 -5 2.5zM1392 243l-9 0 -4-2 -2-1.5 -7-12.5 -4-4 -8-6 -3-3 -0.5-2 0-2 2.5-4 3.5-2 6.5-2 14-1.5 6-2 5-0.5zM1197 438l-4 1 -9-0.5 -22-4.5 -5-1.5 -8-0.5 -6-1.5 -7-1 -5-1.5 -14-1 -5-1 -7-0.5 -24-0.5 -6-1 -15-0.5 -10-2.5 -5-2 -3.5-3 -2-8 0-7 2.5-8 3.5-7 1.5-6 3-3 -1.5-5 -2.5-2.5 -11-5 -20-12.5 -8-8 -1-2 0-3 2.5-4 2.5-3 8-5.5 4-3 6-4.5 6.5-7 4-9 0.5-5 1.5-6 0.5-10 1-3 5.5-4 5-11 9.5-14 2-2.5 5-3.5 3-1.5 12-4 6-1 8 0 7 2.5 6.5 4 6.5 5 10 12.5 12.5 10.5 10 13 2.5 5 1 5 -0.5 6 -1.5 6 -2.5 4 -2 3 -12.5 11 -2.5 3 -2 4 0 5 4 7 6.5 6 6 3.5 11 3.5 8 6 2 4 0.5 2 0 1 -2.5-2 -2-0.5 -2 0.5 -0.5 1 -1 3 0 3 2 7 2.5 7 7.5 13 3.5 4 8 6.5 14 7 3.5 3.5 1.5 4 -0.5 5 -2.5 4zM720 326l-17 0.5 -5-1 -3-2 -3-4.5 -1-5 0.5-5 3-5 3.5-3 3-2 11-3.5 15 0 5 1.5 3 1.5 2.5 3.5 1 4 -0.5 5 -2 4 -3 4 -3 3zM1392 400.5l-9-0.5 -6-2.5 -3-2 -10-8.5 -13.5-9 -3-3 -2-4 -1.5-5 -0.5-5 1-6 2-3 2.5-2.5 4-3 11-5.5 6-4 11.5-9 6-6 3.5-2 1 0zM656 470l-20 0 -14-3 -5-4 -1.5-2 -1-6 1-4 3.5-4 6-3 7-1.5 10-2 10-1 9-2 15 0.5 17 4 7 1 5 1 16 3 26 0 17-1 6-1.5 7-3 5.5-3.5 6.5-6 5-3 6-2 11-3 19-3.5 13-1 10 0 7-1 9-0.5 7-1.5 10-0.5 5-1.5 11-0.5 7-2 52 0 9 1.5 11-0.5 14 1 10 2 4 1.5 4 2.5 1.5 3 0 2 -1.5 3 -2 3 -2.5 2 -3.5 2 -10 3.5 -11 2 -3 0 -4-2 -2 0 -7 1 -57 0.5 -9 1.5 -36 0.5 -7 1.5 -20 1.5 -26 4 -9 0.5 -10-1 -3 0.5 -11 4.5 -20 4.5 -19 2.5 -6 1.5 -6 0.5 -6 1.5 -26 2.5 -7 1.5 -23 0 -6 1.5z"/>
<path fill="#5e5e5e" d="M210 423l-4 0.5 -16-1 -15-1.5 0-226.5 5-1 14-4.5 9-6.5 4-4 4.5-6.5 2-5 0.5-6 -0.5-4 -2.5-12 -6-13.5 -2-2.5 -7-6 -4-2.5 -4-1 -13-2 0-25.5 51 0 78 0 10 0 9-1.5 26 0 5 0 6 1.5 10 0 6 2 15 0 9 2 12 0 12-1 5-1 7-0.5 12.5-3.5 6.5-1 5-1.5 8-0.5 8 1.5 10 3 5 2.5 6 4 1.5 2 1 3 -1 3 -2 2 -3 2 -5 2 -12.5 2.5 -15 0.5 -5 1 -4 0.5 -8-1.5 -18-0.5 -6-1.5 -10-0.5 -8-1.5 -10-0.5 -6-1 -6-0.5 -60-0.5 -5 0 -7 1.5 -12-2.5 -4 1 -14 4.5 -8 4 -5 4 -2 3 -1 6 -1.5 5 -0.5 9 0.5 7 0.5 3 7 16.5 2 7.5 0 2 -7 13 -3 5 -3 12 0 6 3 6 8 7 14 6.5 21 8 6.5 4.5 3 3 2 6 -0.5 6.5 -6 10 -7 8.5 -2 5 -0.5 4 0.5 4 2 5 8.5 17 0.5 3 0 4 -2 5.5 -9 16.5 -3.5 10 -1 8 0.5 13 -2 15 -2.5 7 -3 4 -3.5 3 -5.5 3 -10.5 3.5 -18 3.5 -20 4.5 -14 1.5zM1101 207.5l-5 0.5 -27-0.5 -6-1.5 -7-0.5 -5-1.5 -6-1 -10-3.5 -6-3.5 -5.5-5 -0.5-1 0-2.5 1-3 3-1.5 3-5.5 5-1 4-3 8.5-4.5 12-8 9.5-10 5.5-11 2.5-3 6-4.5 11-5.5 13-7.5 13.5-10.5 3.5-2 7-1 18 0 10 2 9 1 25-1 9 1 23-5 14-2.5 35-3.5 52-3 35 0 8-1 23 0 0 15 -13 0.5 -36 0.5 -13 0.5 -5 1 -12 1 -16 3.5 -19 5 -25 9 -13 3 -21 2.5 -16 1 -8 2 -8 1 -6 1.5 -5 2.5 -8.5 7.5 -10 10 -7.5 9 -9.5 15 -4 5 -9.5 6.5 -8 4 -5 2.5zM1392 237.5l-7 0.5 -2-0.5 -3-1.5 -7.5-10 -7.5-6.5 -6-4 -2-2.5 -1-3 1-2 1-2 3-1.5 6-2 14-2 6-1.5 5-0.5zM1193 438l-10-0.5 -4-1 -17-3 -5-1.5 -8-0.5 -6-1.5 -7-1 -5-1 -14-1 -4-1 -6-0.5 -25-0.5 -7-1.5 -14 0 -11-2.5 -5-2.5 -2.5-2.5 -2.5-8 0-7 2-7 3.5-8 1.5-5.5 3-3.5 -1-4 -2-3 -12-6 -15-9 -5.5-4 -7-7 -1-2 0-3 2-4 2.5-2.5 18-13 7-7.5 4-9 0.5-5 1-5 0.5-10 1-3.5 2-1.5 3.5-2 5.5-12 10-14 2-2 5-3.5 3-1.5 11-3 8-1 6 0 8 3.5 8 5.5 4 3.5 8 10.5 13 13 9 12 2.5 5 0.5 4 0 6 -1.5 6 -3.5 5 -6 5.5 -7 5.5 -3 3 -2 5 0 4 1.5 3 3.5 5 6 5.5 7 4 12 4 8 6 1 1.5 0 2 -3 0 -2 0.5 -1.5 2.5 -0.5 3 2.5 10 2.5 7 6 10 4.5 6 7.5 6.5 15 8 2 2.5 1.5 3 0.5 4 -2 4.5 -3.5 2.5zM707 326l-5-0.5 -4.5-1.5 -2.5-2 -2-3 -1-4 0-4 2-4.5 3-3.5 5-3.5 10-4 15 0.5 4 1 3.5 2 1.5 2 1.5 3 0 5 -1.5 5 -4 5 -4 3 -8 3.5zM1392 395l-7-1 -6-2 -12.5-9 -11-7 -3-3 -3.5-4.5 -2.5-5.5 -1-4 1-5 4.5-5 13-7 6-4 12-9.5 7-6.5 2-1 1 0zM662 469l-10 0.5 -15 0 -13.5-2.5 -3.5-2 -4-4 -1-4 0.5-4 2.5-4 3-2 4-2 18-4 10-0.5 8-2 15 0.5 5 1.5 7 1 5 1.5 6 0.5 21 4 28 0.5 19-1.5 5-1.5 9-4.5 3-2 5-5 4-2.5 7-2.5 12-3.5 19-3.5 12-1 11-0.5 6-1.5 9 0 7-2 10-0.5 5-1.5 11-0.5 7-1.5 52-0.5 10 2 10-1 14 1.5 10 2 4 1.5 3 2.5 1.5 2.5 0 2 -0.5 2 -2.5 4 -2.5 2 -4 2 -9 3 -11 2.5 -3-0.5 -4-2 -2 0 -8 1 -56 0.5 -9 1.5 -36 0.5 -7 2 -21 0.5 -6 1.5 -10 1 -9 1.5 -8 0.5 -12-1 -2.5 0.5 -10 5 -20.5 4.5 -19 2.5 -6 1.5 -7 1 -4 1 -9 0.5 -6 1.5 -12 0.5 -6 1.5 -24 0.5z"/>
<path fill="#606060" d="M207 421l-7-1 -10-0.5 -15-2.5 0-222.5 3-0.5 16-5 7-4.5 4-3.5 5.5-7 2-4 1.5-5 0-6 -3.5-15 -5.5-12.5 -2-2.5 -7-6.5 -4-2 -4-1.5 -13-1.5 0-25 111-0.5 16 0.5 12-0.5 10-1.5 25 0 5 0.5 6 1 10 0.5 7 2 13 0 10 2 8 0 16-1 5-1.5 8-0.5 12-3 7-1 4-1.5 8-0.5 15.5 4.5 8 4 5.5 4 1.5 2 -0.5 2.5 -3 3.5 -3 2 -5 1.5 -10 2.5 -16 0.5 -7 1.5 -4 0 -6-1.5 -18-0.5 -6-1.5 -10-0.5 -6-1.5 -11.5-0.5 -8.5-1.5 -64-0.5 -5 0 -7 1.5 -8-2.5 -4-0.5 -4 0.5 -15 5.5 -8 4 -5.5 4.5 -1.5 3 -0.5 6 -1.5 4 0 8 0 10 3 9 5 11.5 1.5 5.5 -0.5 2 -6 12.5 -3.5 5.5 -2.5 12 0 6 3 6.5 8 7 14 6 20 8 7 4.5 3 3 2 6 0 4 -0.5 3 -5.5 8.5 -8.5 10.5 -2 5 -0.5 3 0.5 3 1.5 5 9 18 1 3 -0.5 4 -2.5 6.5 -4.5 7.5 -4 8 -3 9 -1.5 9 0.5 13 -1.5 6 -0.5 8 -2.5 8 -3 3.5 -6.5 4.5 -11.5 4.5 -12 2.5 -6 0.5 -6 1.5 -8 1 -6 1.5 -14 1zM1099 207l-30 0 -5-1.5 -8-0.5 -5-1.5 -6-1 -10-3.5 -6-3.5 -3.5-3.5 -1.5-2 0-3.5 1-2 2-1 3-5.5 1-0.5 4-0.5 4-3 9-5 9.5-6 7-6 6-7 4.5-10 2-2.5 6-4.5 12-6 13-8 13-10 4-2 6-1 18 0 10 2 9 1 25-1 9 1 23-5 14-2 35-4 52-3 35 0 8-1 23 0 0 15 -13 0.5 -36 0 -13 1 -5 1 -12 1 -16.5 3.5 -18.5 5 -25 8.5 -13 3.5 -21 2.5 -16 1 -8 2 -8 0.5 -6 2 -4.5 2 -7 6 -12.5 12 -7.5 9 -9.5 15 -4 4.5 -9.5 6.5 -7.5 4 -6 3zM1392 227l-9-0.5 -4-1 -4-2 -9-6.5 -7-4.5 -1-2.5 0.5-3 2.5-2 6-1.5 14-2.5 6-2 5 0zM1193 437l-9.5 0 -4.5-1.5 -16-2 -6-1.5 -7-0.5 -6-1.5 -7-1 -6-1.5 -13-0.5 -11-2 -25 0 -7-1.5 -14-0.5 -11-2.5 -5-2.5 -2-2 -3-8 0.5-7 2-7 3.5-8 1-5 3.5-4 -1-4 -1-2 -2.5-2 -11-5 -20-12.5 -7-7.5 -1-2 -0.5-2 1-3 3.5-4.5 18-12.5 7.5-8 1.5-3 2.5-6 0.5-5 1-5 0.5-10 1-3 1.5-1.5 4-2 6-12.5 4-6 6-8 6-4.5 3.5-1.5 6.5-1 4-1.5 8-1 6 0.5 8 3.5 10 7.5 2 2.5 26.5 33.5 3 6 1 3 0 6 -1 5 -2 3 -5.5 5.5 -9 6 -3.5 3.5 -3.5 5 0 4 3 5 7 7 7 4.5 5 2.5 12 4 6 4 2 2 0.5 1 -0.5 1 -3 0.5 -2 1.5 -1 4 0 3 2 7 3 8.5 6 10.5 5.5 7 7.5 6 6.5 3 6 4 2 2 1.5 2.5 0.5 3.5 -1 4 -2 2zM720 325l-16 0.5 -3-1 -4-2 -3-4.5 -1-4 1-4 2.5-5 5.5-4.5 10-4.5 14 0 3 1 4 2 2.5 3 1.5 4 -0.5 4 -1.5 4 -5 6zM1392 390l-5-0.5 -6-2 -22-13 -2.5-2.5 -4-6 -3.5-4 -1.5-4 1-4 2.5-3 4-3 9-4.5 8-5.5 10-8 7-6.5 2-1 1 0zM660 469l-24 0 -13-3 -4.5-3 -1.5-2 -1-4 0.5-4 3-4 5.5-2.5 18-4.5 11-0.5 8-2 13 0.5 5 1.5 7 0.5 5 1.5 7 1 19 4 30 0 20-1 5-1 11-6 5-5.5 3-2 8-3 14-4 17-3.5 8-0.5 5-1 10-0.5 6.5-1.5 9.5-0.5 6.5-1.5 9.5-0.5 5-1.5 11-0.5 7-2 52 0 10 1.5 10-0.5 14 1.5 10 2 4 2 2.5 2 1.5 3 -0.5 3 -1.5 2.5 -1.5 1.5 -4.5 3 -10 4 -11 2 -3-0.5 -4-2 -2 0 -8 1.5 -56 0.5 -9 1.5 -37 0 -7 2 -21 0.5 -6 1.5 -10 0.5 -5 1.5 -3 0.5 -9 0 -7-1.5 -5-0.5 -2 1 -3.5 2.5 -3.5 2 -4 1.5 -16 3 -4 1 -7 1 -6 1.5 -6 0.5 -4.5 1.5 -7.5 0.5 -5 1.5 -9 0.5 -6 1.5 -12 0.5 -5.5 1.5 -23.5 0.5z"/>
<path fill="#626262" d="M216 417l-10 1 -4-1 -10-0.5 -14-3.5 -3 0 0-98.5 1 0 4-5 2.5-9.5 0.5-4 -0.5-6 -4.5-10 -2-3 -1 0 0-43 1 0 1-6 -1-5 -1 0 0-28 3-0.5 16-5 9-6.5 4-4 4.5-6 2-5 1-6 -0.5-4 -3-13.5 -6-13.5 -1.5-2 -7.5-6.5 -4-2.5 -4-1 -13-1.5 0-25 111-0.5 16 1 12-0.5 10-1.5 24 0 5 0 7 1.5 10 0.5 7 2 13 0 8 2 8 0 18-1 6-1.5 7-0.5 23-5.5 6 0 4 0.5 9 3 8 4 6 4 2.5 2 0.5 2 -1.5 2 -5 4 -13.5 3.5 -16 0.5 -6 1.5 -10-1.5 -18-0.5 -5-1.5 -9-0.5 -7-2 -11-0.5 -8-1.5 -64 0 -6 0 -8 1.5 -8-3 -4-1 -4 1 -14 5.5 -9 4 -6.5 4.5 -1.5 2 -0.5 2 0 6 -1 4 0 18 3 11 3.5 6.5 3 8.5 -0.5 2 -3 7 -6 11 -3 12 0.5 6 3 6.5 8 7 14 6.5 21 8.5 6 4 3 3.5 2 6 -0.5 3 -0.5 3 -5 7 -9 11 -2.5 5 -1.5 5 2 7 9 17.5 1 2.5 0 3 -1 3.5 -11 22.5 -2.5 7 -1.5 9 0.5 12 -1.5 7 -0.5 8 -3 7 -2 3 -6.5 4.5 -12 4.5 -10 2 -6 1 -6 1.5 -8.5 0.5 -5.5 1.5zM1100 206.5l-5 0.5 -25-0.5 -6-1.5 -7-0.5 -5.5-1.5 -5.5-1 -11-4 -6-3.5 -2.5-2.5 -1.5-2 0-3.5 2-2.5 3.5-6 4.5-0.5 4-3 9-5 11.5-7.5 6.5-6 5-6 4.5-10 2.5-3 6-4 24-13.5 13-10.5 4-2 6-1 18 0 4 0.5 6 1.5 9 1 25-1 9 1 23-5 14-2 35-4 53-2.5 34-0.5 8-1 23 0 0 15 -13 0.5 -36 0 -13 1 -17 2 -17 3.5 -18 4.5 -25 9 -13 3.5 -21 2.5 -16 0.5 -8 2.5 -8 0.5 -6 1.5 -4.5 2.5 -7.5 6 -12 11.5 -7.5 9.5 -10.5 15.5 -4.5 4.5 -8.5 6 -7 4 -6 2.5zM1381 219.5l-2 0.5 -4-0.5 -2-1.5 -4-4.5 -8-2 -1-2.5 0.5-2 1-1 5.5-2 6-0.5 4-1.5 6-1 4-1.5 5-0.5 0 15.5 -7-1.5 -1 4zM1189 436l-4 0 -5-1 -17-2 -6-1.5 -6-0.5 -7-1.5 -7-0.5 -6-1.5 -13-1 -11-1.5 -25 0 -7-1.5 -14-0.5 -11-3 -4-2 -3-3 -2.5-7 0.5-7 1.5-6 3-8 2-6 3.5-4 -1.5-4 -1-2 -2.5-2 -11-5.5 -20-12.5 -7-7 -1-2 0-2 1-3 3-4 18.5-13 7.5-8 3.5-8 0.5-6 1.5-5 1-12 1.5-2 3-1 2-2 5.5-11 5.5-8 6-7 4-2.5 4-2 8-1 5-1.5 5 0 6 0.5 8 4 8 6.5 6 6.5 7 9.5 5 9.5 3 3.5 8 11 1.5 3 0.5 3 0 5 -1 3.5 -2.5 3.5 -3.5 3.5 -10 5.5 -5 4 -2.5 5 0.5 6 1 2.5 2 2.5 9.5 7 6.5 4 5 2 13 4.5 6.5 4.5 0.5 2 -3 1 -1 1 -1 2.5 -0.5 3.5 2 9 3.5 9 5.5 10 5.5 7.5 7 5.5 8 5 5 4 2 4 0 4 -1.5 2 -3 2zM713 325l-10-0.5 -3.5-1.5 -2.5-2.5 -2-3.5 -0.5-3 0.5-4 2-4 5.5-5 7.5-4 2-0.5 14 0 3 1 3 1.5 2.5 3 1.5 4 -0.5 4 -2 5 -5 5 -7 4 -3.5 1zM1392 384l-3 0 -4-1.5 -23.5-12.5 -1.5-2 -3-6.5 -2-2 -4-2.5 1-2 4-4 8-5 8-5.5 15-13 4-2 1 0zM817 445l-5 1 -9-0.5 -7.5-2.5 -3.5-2 -1-2 1-2 7-4 25-7 9.5-2 6.5-0.5 5-1.5 9-0.5 7-2 10-0.5 7-1.5 9-1 6-1.5 9 0 7-2 52 0 10 1.5 10-0.5 14 1 9 2 4 2 2.5 2 1.5 4 -0.5 2 -2 3 -5 4 -9.5 3.5 -11 2 -3 0 -3-2 -3-0.5 -9 1.5 -56 0.5 -9 1.5 -36 0 -7 1.5 -21 0 -6 1.5 -10 0.5zM662 468l-9 1 -15-0.5 -4-0.5 -10-2.5 -4-2.5 -2-2 -1-2 0.5-4 2-4 5.5-3.5 19-5 10-0.5 8-1.5 12 0 5 1.5 8 1 5 1.5 6 0.5 20 4.5 14-0.5 17 0.5 21 0 3-0.5 10-4 1 0 0.5 1 0 1 -2 2 -3.5 2 -6 0.5 -2 1.5 -7 1 -5 1.5 -7 0.5 -5 2 -7 0.5 -5 2 -7 0.5 -6 1 -7 0.5 -6 1.5 -13 1 -6 1.5 -23 0.5z"/>
<path fill="#646464" d="M222 415l-14 0 -9-0.5 -19-4 -5-0.5 0-91.5 1 0 2-1.5 4.5-6 3-10 0.5-6 -0.5-5 -1.5-6 -2-4.5 -4-6.5 -2-1.5 -1 0 0-32.5 1 0 2-2 1-3 0.5-5 -0.5-5 -1-3 -2-2.5 -1 0 0-23.5 3-0.5 16-5 9-6 4-4 4.5-6.5 2.5-5 0.5-6 0-4 -3.5-14 -5.5-13 -2-2 -7.5-6.5 -4-2.5 -4-1 -13-1.5 0-25 111 0 15 1 15-0.5 4-1.5 4 0 24-0.5 6 0.5 4 1.5 12 0 6 2.5 14 0.5 6 2 28-1.5 6-2 7-0.5 13-3 6-0.5 4-1 4-0.5 5 0.5 7 2.5 7 4.5 3.5 3.5 3 4 0 2 -0.5 2 -2 1.5 -5 1 -6 2 -16 1 -6 1.5 -9-1 -19-1 -6-1.5 -8-1 -6-2 -11.5-0.5 -4.5-2 -26 1.5 -18-0.5 -30 0 -8 1.5 -8-4 -4-0.5 -4 0.5 -23 9.5 -8.5 6 -2 4 0.5 6 -0.5 4 0 20 0.5 4 -1 4 0.5 2 1 2 4.5 3.5 2 2.5 2 4 0.5 2 -0.5 2 -3 7 -6 11 -2.5 13 0 3 0.5 3 3 6 8 7 14 6 20 8 5 3 2.5 2 2 3 1.5 5 0.5 4 -1 3 -2.5 3.5 -13 15.5 -4 8 0 3 1.5 6 6.5 12 1.5 5 1 3 -5 14 -6 14 -2 7 -1 9 -0.5 11 -1.5 6 -1 8 -2 4 -3.5 4.5 -4 4 -13 6 -20 5 -8 0.5 -6 1.5zM1099 206l-4 0.5 -24 0 -7-2 -7-0.5 -5-1.5 -5-0.5 -12-4.5 -5-3 -3-2.5 -1-2 -0.5-2 4-8 1.5-2 4 0 4-3.5 9-4.5 12-8 6.5-6 5.5-7 4-9 1.5-2 7-5 23.5-13 13-10.5 4-2 6-1 18 0 4 0 6 2 9 1 25-1.5 9 1 23-5 15-2 34-3.5 53-3 34 0 8-1.5 23 0 0 14.5 -13 1 -36 0 -14 1 -4 0.5 -12 1.5 -17.5 3.5 -17.5 4.5 -25 9 -13 3.5 -21 2.5 -16 0.5 -8 2.5 -8.5 0.5 -5.5 1.5 -5 2.5 -7 5.5 -12 12 -8 9.5 -10 14.5 -5 5.5 -8 5.5 -7 4 -7 3zM1392 210.5l-19-3 -4 0 -1.5-0.5 0-1 1.5-1 4-0.5 5.5-2.5 4.5-0.5 2.5-1.5 6.5-0.5zM1189 434l-4 0.5 -22-2 -6-1 -20-3 -6-1.5 -13-0.5 -11-1.5 -25-0.5 -7-1.5 -14-0.5 -10.5-2.5 -4.5-2.5 -2.5-2.5 -2.5-7 0-7 1.5-6 3.5-8 1.5-5 3.5-5 -1-4 -1-2 -2.5-2 -11.5-5.5 -20-12.5 -6.5-7 -1-2 -0.5-2 1.5-3 3-4 19-13 7-8 3.5-8 1-6 1-5 0.5-9 0.5-3 1-1 4-2 1-1.5 6.5-11.5 5-7 3.5-3.5 6-4 6-3 13-1.5 5 0 4 1 6 3 3.5 3 11.5 11 5.5 8 4 8 4.5 7 4.5 8 2 5 0 4 -1 4 -1.5 3 -3.5 3 -9.5 6.5 -3.5 3.5 -2 6 0.5 7 3 5 7.5 5 10.5 6 12 4 6 1.5 5 4.5 0.5 1 -2.5 2 -1 2 -0.5 3 0 4 2 8 3.5 8.5 5 9.5 4 6 4 4 10.5 8 2 2 1.5 4 0.5 4 -1 2 -1.5 2zM720 324l-10 0.5 -7-0.5 -4-2.5 -3-4.5 -0.5-2 0-3 3-6 4.5-4.5 7-4 5-1 12 0.5 2.5 1 2.5 2 3 4 0.5 2 -0.5 3 -2.5 6 -4.5 4.5zM1392 375l-5-0.5 -4-1.5 -9.5-5 -3.5-3 -2-3 -1.5-3 -0.5-3 0.5-3 1-3 4.5-6 13-11.5 2-1.5 4-0.5 1 0zM859 441l-11 0 -13-1.5 -4 1.5 -3 0 -2 0 -3-2 1-2 1-1 6-3.5 5-4.5 6-2 4.5-3 8.5-1 6-2 11-0.5 6-2 9-0.5 6-1.5 10-0.5 6-1.5 52-0.5 10 1.5 24 1 9 2 2.5 1.5 2.5 2 2 4 -0.5 2 -2 3 -5 4 -9.5 3.5 -10 2 -3-0.5 -3-2 -3-0.5 -9 1.5 -56 1 -9 1.5 -36-0.5zM661 468l-14 0.5 -13-1 -8-2.5 -4-2 -2.5-2 -1-2 0.5-2 2-4 2-2 3-2 8-3 5-1 5-1.5 10-0.5 6-1.5 7-0.5 6 0.5 6 1.5 7 0.5 5 1.5 7 1 4 1 7 1 6 2.5 20-0.5 12 1 5 1 5 0.5 2 0.5 -7 0.5 -6 3 -6 1 -6 2 -7 0.5 -5 1 -7 0 -7 2.5 -12 1 -6 1.5 -23 0.5z"/>
<path fill="#666666" d="M225 413l-10 0.5 -9-0.5 -8-1 -16-4 -7-0.5 0-87.5 2-0.5 2-1.5 5-6.5 3.5-10.5 0.5-6 -0.5-7 -3.5-9 -4-7 -2-1.5 -3-1 0-28.5 2.5-1 1.5-2 1.5-3 0.5-5 -0.5-6 -1-3 -1.5-3 -2-1 -1 0 0-21.5 3-0.5 16-5.5 9-6 4.5-4.5 5-7 2-5 0.5-5 -0.5-4 -3.5-14 -6-14 -8-7 -5-3 -4-1 -13-2 0-24.5 111 0 14 1 16 0 4-1.5 4-0.5 26 0 4 0.5 4 1.5 12 0 6 2.5 12 0.5 3.5 1.5 1.5 3 1 1 3.5-2 3.5-1 23-2.5 6-1.5 7-0.5 13-3 6-0.5 5-1 8 1 7 2.5 3 2 2.5 2.5 3 4 1 4 -1.5 2 -9 4 -15 1.5 -6 1 -8-1 -20-1 -5-1.5 -7-1 -7-3.5 -9-0.5 -3-2 -1-2 -11.5 3 -14.5 1.5 -30-0.5 -24 0.5 -5 1 -2-0.5 -7-3.5 -4-1 -4 1 -24 9.5 -8.5 5 -4.5 4 -1.5 2 -0.5 2 3 6.5 1 4 0.5 5.5 0 4 -1.5 5.5 -2 2 -3.5 1.5 -0.5 1 3.5 6 12.5 12 1.5 2 0.5 2 -3 8 -6.5 13 -2.5 13 0.5 4 1.5 4 1.5 3 2.5 2.5 6 4.5 14 6.5 20 8 5 3 4 4.5 1.5 4 0.5 4 -0.5 3 -2.5 4 -7.5 9 -6 6 -3.5 5 -1.5 4 0 4 1 5 5.5 14 1 7 -3.5 14 -6.5 19 -2 9 -1 12 -3 11 -2.5 5 -2.5 4 -4.5 4 -10.5 6 -10 3.5 -9 2 -10 1zM1096 206l-25 0 -7-2 -7 0 -5-1.5 -5-1 -12-4.5 -6-3.5 -1.5-1.5 -1-2 0.5-3 2.5-7 1.5-1.5 2 0 2 0 4-3.5 9.5-5 11.5-7.5 7-6.5 5.5-7 4-9 1.5-2 7-5 23.5-13 12.5-10 4-2.5 6-1 18 0 4 0.5 6 1.5 9 1 25-1.5 9 1 23-4.5 15-2.5 34-3.5 53-3 34 0 8-1 23-0.5 0 14.5 -13 0.5 -36 0.5 -14 1 -16 2 -17.5 3.5 -17.5 4.5 -25 9 -13 3.5 -21 2.5 -16 0.5 -8 2 -8 1 -6 1.5 -5 2.5 -7 5 -11 11 -9.5 11 -9.5 14 -7 7 -13 8 -6 2.5 -14 4zM1392 208l-13-1.5 -2-1 0-1.5 1-1 5-1 4-2 5 0zM1177 433l-14-0.5 -6-1.5 -5-0.5 -7-1.5 -8-0.5 -5-1.5 -14-0.5 -11-2 -25 0 -7-1.5 -13-0.5 -11-2.5 -4-2.5 -3-2.5 -2.5-7 0-7 1.5-6 3-8 1.5-5 1.5-2 2-2 0.5-1 -1.5-4 -1-2 -2-2 -12-5.5 -20-13 -6.5-6.5 -1-2 0-2 1-3 3.5-4 19-13 7.5-8 3-8 1-6 1-5 0.5-9 1-3 4-2.5 1.5-1.5 7-12 5.5-6.5 4-3 6-3.5 6-2 12-0.5 6 1 6 2.5 5 3.5 10 9.5 5.5 7 10 19 2 6 0.5 5 -1 4 -2 3 -2.5 3 -7.5 6.5 -3.5 4.5 -1.5 6 0.5 7 1.5 3 2 3 6 4 13 6.5 12 4.5 5.5 1 4 4 -2.5 6 0 5 4.5 15 6 12 4.5 7 12 11 2 4 0.5 4 -1 2 -1.5 2 -2 1zM718 324l-12 0 -3-0.5 -2.5-1.5 -2.5-3 -1.5-3 0-3 1-4 1.5-3 4-4 8-4.5 10-0.5 7 1 3 2 3 4 0.5 3 -1 5 -1.5 3 -4 4 -7 4.5zM1392 369l-7-1 -7-3.5 -4.5-4.5 -1-3 -0.5-3 0.5-5 3.5-5 9-7.5 2-1.5 4-1 1 0zM897 440l-34-0.5 -5 0.5 -4 0 -4.5-1 -4-2 -1-2 0-2 1.5-4 2.5-4 7.5-2 3.5-2 12.5-1 6-2 9-0.5 6-1.5 10-0.5 7-2 51 0 10.5 1.5 23.5 1 10.5 3 2.5 2 2 4 -0.5 2 -1 2 -4.5 4 -3.5 2 -5.5 2 -11 2 -2 0 -4-2.5 -3-0.5 -9 2 -57 0.5 -6 1.5zM657 468l-15 0 -8.5-1 -8-4 -2.5-2 -1-2 0.5-2 2-4 2.5-2 8-4.5 10-3 11 0 5-1 7-0.5 4 0 6 1.5 7 0.5 5 1.5 7 1 10 2 9 5 2 0 7.5-2.5 5.5-0.5 7 0.5 4.5 2 -0.5 2 -8 4 -11 0 -6-0.5 -3 1 -4 2.5 -3 1 -11 1 -9 1.5 -21 0.5 -5 1.5z"/>
<path fill="#686868" d="M455 114l-3 0 -6-1 -20-0.5 -13-4 -6.5-6.5 2-2 8-2 8.5-1 5-1.5 8-0.5 12-2.5 11-1.5 7 0.5 6 2.5 3 2 3.5 4 1.5 4 -1 2 -4.5 4 -3.5 1 -13 2zM218 412l-6 0 -7-0.5 -19-5.5 -11-1.5 0-83.5 3-0.5 2-1.5 5-7 4-10 1-8 -1.5-9 -4.5-10 -4-5.5 -2-1 -3-1 0-25 3-1 2-2.5 1.5-4 0.5-5 -0.5-6 -1-4 -2.5-3.5 -3-1 0-20 3 0 8.5-3.5 7.5-2 9-6 4-4 6-8 1.5-5 0.5-5 0-4 -3.5-14 -6-13 -1-2 -7.5-6.5 -5-3 -4-1 -13-1.5 0-24.5 111 0 14 1.5 16 0 8-2 24 0 3.5 0 5.5 1.5 13 0.5 6 3 10 1 0.5 2 -3 2 -5.5 2 -12 2.5 -24-1.5 -33 1.5 -2-0.5 -7-4 -3-0.5 -3 0 -22 8.5 -12.5 6 -10 6 -9.5 8 -1 4 0 10 1 3.5 2 4 2 3 6 7 11 9 5 5 1 2.5 -2 8 -6.5 12 -2.5 12 0 6 3 6 3 3.5 4 3.5 6 3.5 30 12 4 2.5 3 2.5 2 2.5 1.5 5 0 3 -0.5 3 -2 3 -8 9.5 -7 6.5 -3.5 5 -1.5 4 -0.5 4 1 6 5 16 0 8 -2 10 -7 20 -4 21 -3 9 -2.5 5 -4 5 -4.5 4 -6.5 4 -7 2.5 -11 3zM1099 205l-4 0.5 -24 0 -6-1.5 -8-0.5 -5-1.5 -5-1 -11-4 -7-4 -1.5-3 0-4 2.5-6 1-1 2 0 2 0 4-4 10-5 8-5 10-8.5 5-6.5 5-10 1.5-2 7-5 23.5-13 12-10 4-2 6-1.5 18 0 4 0.5 6 1.5 9 1 25-1 9 0.5 23-4.5 15-2.5 34-3.5 53-3 34 0 8-1 23-0.5 0 14.5 -13 0.5 -36 0.5 -14 0.5 -16 2 -18 4 -17 4.5 -25 9 -13 3.5 -21 2 -16 1 -8 2 -9 1 -5 1 -5 2.5 -7 5.5 -11.5 11 -9.5 11 -9 13 -7.5 8 -13.5 8 -6 2.5zM1392 206l-6-0.5 -4.5-1.5 5.5-3 5 0zM1178 432l-3 0.5 -12-0.5 -4-1 -8-0.5 -5.5-1.5 -8.5-1 -5-1 -14-1 -11-1.5 -24 0 -8-2 -13 0 -11-3 -5-3 -2-2 -2.5-6.5 0.5-7 1-6 3.5-8 1.5-5 1-2 2-1.5 0.5-1.5 -1-4 -1-2 -2.5-2 -12-6 -20-12.5 -3.5-3.5 -3-4 -1-3 1.5-3 3-4 11-8 8-4.5 8-8.5 3-8 1-6 1-4 0.5-9 0.5-3 6-5 8-12 7-6.5 7-3.5 6-2 10-0.5 7 1 7 3 6 4.5 7.5 7 5.5 7 8.5 16 1.5 6 0.5 5 -1 4 -1.5 3 -9 10 -3 5 -1.5 6 1 7 1.5 4 2 2.5 8 5 11 5.5 13 4.5 4 0.5 2.5 2 1.5 3 -1 5 0 6 4 14 5.5 11 5.5 9 9 9 2 3 0.5 2 -0.5 4 -1 2 -3 2zM720 323.5l-3 0.5 -6 0 -7-1 -3.5-2 -3-4 -0.5-2 0-3 1.5-4 1.5-2 4-4 7-4 9-1 7 1 3.5 2 3 4 0.5 2 -0.5 3 -1 4 -1.5 2 -4 4zM1392 364.5l-5-0.5 -6-2.5 -4-4 -1.5-4.5 1-5 2.5-4 6-4.5 6-2 1 0zM904 439l-19 0.5 -27-1 -3-1 -2.5-1.5 -1-2 -0.5-3 1.5-4 5.5-4 4-2 10-0.5 7-2 8-1 7-1.5 9-0.5 5-1.5 3 0 50-0.5 11 2 22 0.5 11 3.5 3 2.5 1 3 -0.5 2 -1.5 3 -2 2 -4 2.5 -7.5 2.5 -9.5 1.5 -2-0.5 -4-2 -3 0 -10 1.5 -42 0.5 -14 0zM661 467l-14 1 -12-1.5 -3.5-1.5 -4-3 -1.5-3 -0.5-2 2-4 5-4 2.5-1.5 8-2.5 3-1 10 0 12-1.5 4 0 5 1.5 7 0.5 22 5 3.5 1.5 3.5 4 0 2 -1.5 2 -2.5 2.5 -3 1 -11 1 -5 1 -5 1 -19 0.5zM735 457.5l-4 0.5 -5-0.5 -1-0.5 -2-2 1.5-2 2.5-1 4-0.5 4 0.5 3 1 0 1 0 1z"/>
<path fill="#6b6b6b" d="M457 113l-4 1 -7-1.5 -20-0.5 -11-4 -2.5-2 -1-2 0-2 1.5-2 6.5-2 6.5-1 4-1 8-0.5 12-2.5 11-1 5 0.5 6.5 2.5 3.5 2 2.5 3 1 2 -0.5 2.5 -2 3 -2 1.5 -6 2zM221 410l-7 0.5 -7.5-0.5 -5.5-1.5 -13-5 -6-1 -7-0.5 0-80 3-0.5 2.5-1.5 5.5-7 4.5-10 1.5-9 -1.5-9 -5-11 -2.5-4 -3-2.5 -2-1.5 -3-0.5 0-21.5 3-0.5 3-3.5 1.5-4 1-6 -0.5-6 -1.5-5 -1.5-2 -2-2 -3-0.5 0-18.5 3-0.5 9.5-3.5 6.5-2 11-7.5 4-4.5 4-6 1.5-4 1-6 -0.5-4 -3.5-14 -7-15 -8.5-7.5 -4-2 -4-1 -13-1.5 0-24 112 0 13 2 18-0.5 4-2 4-0.5 16 0 8 0.5 6 2 10-0.5 5 1 4 3 2 2 -1 2 -3 2 -7 1.5 -6 0 -10-1.5 -6-0.5 -24 2 -10 0 -2-0.5 -8-5 -2-0.5 -4 1 -24.5 9.5 -13 6 -10 6 -6.5 5.5 -2 2.5 -1 6 0.5 8 1 4 3 6 7 8 9.5 7 7 6.5 1.5 2.5 0 2 -2 6 -6 12 -2.5 11 0 7 2.5 6 3.5 4 4 3.5 6 3.5 30 12 4 2 3 3 1.5 2 1.5 5 0 3 -0.5 3 -2 3 -7.5 8.5 -8 7.5 -3 4 -2 4 -1 4 0 5 4.5 19 0.5 5 -0.5 6 -2 8 -6 18 -5 20 -3 8 -3 6 -4 5 -4 4 -5 3 -5.5 2.5 -11 3.5 -12 1zM1098 205l-27 0.5 -6-2 -8-0.5 -4-1 -5-1 -11.5-4 -6.5-4 -2.5-3 0-3 3.5-7.5 2 0.5 2-1 4-3.5 10-5 8-5.5 10-7.5 5.5-7.5 5-10 1.5-2 7-5 23-12.5 12.5-10.5 4-2 6.5-1 17-0.5 4 0.5 6 1.5 9 1 25-1 9 1 23-5 15-2.5 34-3.5 53-3 34 0 8-1 23 0 0 14 -13 0.5 -36 0.5 -14 0.5 -16 2 -11 2.5 -23 5.5 -26 9.5 -13 3 -21 2.5 -16 1 -8 2 -9 0.5 -5 1.5 -4.5 2 -7.5 5.5 -11 10.5 -10.5 12 -9 13 -7.5 8 -12 7.5 -6 2.5zM1392 203.5l-3 0.5 -2-0.5 -0.5-0.5 0.5-1 3.5 0 1.5 0zM1178 431l-4 1 -11-0.5 -17-2.5 -8-1 -7-1.5 -12-0.5 -13-1.5 -24-0.5 -7-1.5 -12 0 -12-3 -5-3.5 -2-2 -2-6 0-7 1.5-6 3-8 1.5-5 1-1.5 2-1.5 1-2 -1-4 -1.5-2 -2.5-2.5 -11.5-5.5 -20.5-13 -3.5-3 -3-4 -0.5-3 1-2.5 3-4 11-8 8-4.5 8.5-9 3-8 2-10 1-11 1.5-2 4-3.5 8-10.5 7-6.5 7-3.5 6-1.5 8-0.5 8 1 6 2.5 7 4.5 7 6.5 5.5 6.5 7 14 2 6 0 5 -1 4 -1 3 -8.5 11 -3 6 -1 6 1.5 7 1.5 3 2 3 7.5 5 12.5 6 17 5 2 2 0.5 3 0 11 5 14 4.5 10.5 5 8.5 7.5 8 2.5 4 0.5 3 -0.5 3 -2 2zM719 323.5l-9 0 -6-1 -4-2.5 -2-4 -0.5-2 1-4 2-4 4-4 7.5-4 10-0.5 5 1 4 2.5 2 4 0.5 2 -0.5 3 -2.5 5 -4.5 4.5zM1392 360.5l-5-0.5 -4-1.5 -3-3.5 -1-3 0.5-4 3.5-4 4-2.5 4-1 1 0zM903 439l-18 0.5 -15-0.5 -6-1 -5-1 -2.5-2 -1.5-2 0-4 1-2 4-4 4-1.5 9-1 6-1.5 9-1 5-1.5 10-0.5 6-1.5 16-0.5 36 0 11 1.5 23 1 8 2.5 2 1 2 2 1 3 0 2 -1.5 2 -2.5 3 -4 2.5 -8 2.5 -9 1 -4-2 -4-0.5 -7 1.5 -5 0 -40 0.5 -15 0.5zM659 467l-15 0.5 -9-1.5 -3-2 -3-3 -1-3 0.5-3 2-3 3.5-3 10-4 26-2 14 2.5 6 1.5 6 0.5 9 2.5 3.5 2 2 3 0 2 -0.5 2 -2.5 2 -2.5 1 -10 1 -12 2 -17 0.5zM733 456l-3 0 -2.5-1 2.5-2 3 0 2 2z"/>
<path fill="#6d6d6d" d="M217 409l-5 0 -6-1 -18-7 -6-1.5 -7-0.5 0-76 3-0.5 3-1.5 3-3 3-4 3.5-6 2-5 1-4 0.5-5 -0.5-5 -1-5 -5.5-11.5 -3-4 -3-3 -3-2 -3-0.5 0-16.5 3-1 2-1.5 2-2.5 2-5.5 0.5-6 -0.5-7 -2-5 -3-3.5 -4-1 0-17.5 4-0.5 9-3.5 6-1.5 11-8 4-4 4-6 2-4.5 0.5-6 0-4 -2-6 -1-6 -7.5-17 -8-7 -4-2.5 -5-1 -13-1.5 0-24 101 0 12 0 3 0.5 5.5 2.5 -0.5 2 -6 3.5 -18 6.5 -18 8 -7 4 -7 6 -2 2 -2 4 -0.5 5 0.5 6 2 7 4 6.5 6 6 11 8 6 5.5 1 2 -0.5 3 -1 5 -6.5 12 -2 11 0 7 2.5 6 3 4 4.5 3.5 6 3.5 30 12 4 2.5 2.5 2.5 2 3 1.5 5 -0.5 3 -1 3 -2.5 3 -16.5 16 -3 4 -1.5 4 -1 4 0 5 4 20 0 6 -0.5 6 -2 9 -11 34 -3.5 8 -3 6 -3 4 -4.5 4 -4.5 3 -6 3 -8 2 -14 1.5zM369 104l-5 1 -4 0 -10-2.5 -6-0.5 -10 0.5 -14 2 -10-0.5 -4-2 -4.5-4 1.5-2 7-1 8 0 6-2 24 0 4 0.5 4 2 10-1 5 1.5 2 2 0.5 2 -0.5 2zM455 113l-29-2 -8-2.5 -2-1 -1.5-1.5 -1-2 0-2 2-2 2.5-1 8-1.5 4-1.5 8-0.5 12-2 10-0.5 4 0 5.5 2 4.5 2.5 2.5 2.5 0.5 2 0 2 -1 2 -2 2 -7 2.5zM1096 205l-25 0 -6-1.5 -8-0.5 -4-1.5 -5-1 -11-4 -7-4 -2-2.5 0.5-4 2.5-6 2 0.5 2-1 4-3.5 11.5-6 10-7 6.5-5 6-8 4.5-9 2-3 6.5-4.5 23-13 13-10.5 4.5-2 5.5-1 17 0 4 0 6 2 9 0.5 25-1 9 1 23-5 15-2.5 34-3.5 53-3 34 0 8-1 23 0 0 14 -13 0.5 -36 0 -14 1 -16 2 -11 2 -23 6 -26 9.5 -13 3 -21 2.5 -17 1 -7 2 -9 0.5 -5.5 1.5 -4.5 2 -7 5 -11.5 11 -4.5 6 -5.5 6 -9.5 13 -7 7.5 -12 7.5 -6 2.5 -6 2zM1176 431l-13 0.5 -17-3 -8-0.5 -7-1.5 -12-0.5 -13-2 -24 0 -7-1.5 -12-0.5 -12-3 -4.5-3 -2-2 -2-6 0-7 1-6 3.5-8 1-4.5 1-1.5 2.5-2 0.5-2 -1-4 -1-2 -3-2.5 -11.5-5.5 -20.5-13 -3-3 -3-4 -0.5-3 0.5-2 3-4 11-8 8.5-5 8.5-8.5 1.5-2.5 2-6 1.5-10 0.5-8 0.5-3 5-4.5 8-10 6-5.5 6-3 8-2 8-0.5 7 1 7 3 7 4.5 6 5.5 5.5 6.5 3.5 6 2.5 6 1.5 5 0 5 -0.5 4 -2 4 -7.5 11 -2.5 5 -1 6 1 7 3.5 6 2 2 4 3 15 7.5 17 5.5 2 1.5 1 2.5 0.5 11 4.5 14 5 11.5 6 9.5 5.5 6 2 4 0 3 -0.5 3 -2 2zM718 323l-10 0 -4-0.5 -2-1.5 -2-2 -1.5-3 -0.5-3 1-4 4-5 8-5.5 3-0.5 6 0 7 1 3 2 2 3 1 3 -1 5 -2 3 -3 3 -6 4zM1392 356.5l-5-1 -2-1 -1.5-2.5 0-3 1.5-2 4-2.5 3 0zM899 439l-14 0 -19-1 -6.5-3 -1.5-2 0-4 2-4 2.5-2 2.5-0.5 9-1.5 6-2 8-0.5 6-1.5 9-0.5 6-2 17-0.5 35 0 12 2 22 1 9 3 2.5 2 1 3 -1.5 4 -3 3 -3.5 2 -7.5 2.5 -9 0.5 -4-1.5 -4-0.5 -7 1.5 -7 0.5 -38 0 -15 0.5zM654 467l-12 0 -7.5-2 -2.5-2 -2-4 0-3 1.5-3 4.5-4 8-3.5 26-2 13.5 2.5 6.5 2 6 0.5 8 2 3 1.5 2 3 0 2 -1 2 -2 1.5 -2 1 -10 1 -12 2 -16 0.5 -7 1.5z"/>
<path fill="#6f6f6f" d="M218 407l-6 0.5 -4-0.5 -5-2 -9-5 -4-2 -8-1.5 -7-0.5 0-71.5 3-0.5 4-2.5 3-2.5 4-5 3.5-6 2-5 1-4 0.5-5 -0.5-5 -1-5 -5.5-12 -7-9 -4-3.5 -3-1 0-8 3-1.5 2-1.5 3-4.5 2-6 0.5-7 -1-8 -1.5-5 -3-3.5 -2-1 -3-0.5 0-15.5 3-0.5 10-3.5 6-2 11-7.5 4-4 4-6 2-5 0.5-6 0-4 -2-6 -1-6 -6-15 -1.5-2.5 -8-6.5 -4-2.5 -5-1.5 -13-1.5 0-23.5 99 0 16 0.5 4 2.5 -0.5 2 -2.5 2 -21 8 -14 6 -8 4 -8 6 -3.5 4 -1.5 3 -1 5 0.5 6 0.5 4 1.5 4 4.5 7 7 6.5 11 7.5 5 5 1.5 2 0 3 -1.5 5 -6 12 -2 10 -0.5 8 2.5 6 3.5 4 4.5 4 6 3.5 30 12 4 2 2.5 2.5 1.5 3 1.5 5 -0.5 3 -0.5 2 -2.5 3 -8 8 -9 8 -4 5 -2 4 -1 4 0 5 3.5 22 0 7 -0.5 6 -3 10 -11 30.5 -3 7.5 -3.5 6 -3 4 -3.5 3.5 -4 2.5 -5 2.5 -7 2 -15 1zM366 104l-6 0 -5.5-2 -2.5-1.5 -4-1 -12 0.5 -16 3 -6 0 -5-1 -2.5-2 -0.5-2 3-2 9 0 5-2 4-0.5 21 0.5 1.5 0 4.5 2.5 8-1 4 0 3 0.5 1 0.5 1 1.5 0.5 2 -1 2zM457 112l-5 0.5 -4-0.5 -10 0 -12-1.5 -7-2.5 -2-1 -2-3 0.5-2 2-2 1.5-1 11-2.5 8-0.5 14-2 8 0 4 0.5 6 2.5 3.5 3 1 2 -0.5 2 -1 2 -2 2 -5 2zM1099 204l-4 0.5 -22 0 -4 0 -4-1.5 -8-0.5 -9-2 -12-4.5 -5-3 -2-2 -0.5-2 0-2 2.5-6 4-1 4-4 12-6 10-7 6.5-5 5.5-7 4.5-10 2.5-3 6-4 23-13 13.5-11 4.5-2 6-1 16 0 4 0.5 6 1.5 9 1 25-1.5 9 1 23-5 15.5-2.5 33.5-3.5 53-3 34 0 8-1 23 0 0 13.5 -13 1 -36 0 -14 1 -16 2 -11 2 -23.5 6 -25.5 9 -13 3.5 -21 2.5 -17 1 -7 1.5 -9 1 -6 1.5 -4 2 -7 5 -12 11 -4.5 6 -5.5 6 -9 12.5 -7 8 -12 7 -6 3zM1172 431l-9 0 -11-1.5 -6-1 -7-0.5 -6-1.5 -14-0.5 -12-2 -24 0 -8-2 -12 0 -12-3 -4.5-3 -1.5-2 -2.5-6 0-7 1-6 3.5-8 1-4 1-2 2.5-2 1-2 -1-4 -1.5-2 -3-2.5 -11-5.5 -21-13.5 -3-2.5 -3-4 -0.5-3 1.5-3 3-4 10-7 9-5 8.5-8 1.5-3 2-6 1.5-10 0.5-8 0.5-3 4.5-4 8-9.5 6-4.5 6-3 8-2 8 0 7 1 7 3 7 4.5 6 5.5 4.5 6 3.5 6 2 5 1 5 0 4 -1 4 -1.5 4 -7 11 -2.5 5 -1 7 1 6 3.5 6 6 5 15.5 7.5 17 6 2 2 1 3.5 1.5 10 4 13 3.5 8.5 6 10.5 6.5 8 1.5 4 0 4 -1.5 3 -3.5 2.5zM715 323l-9-0.5 -3-1 -1.5-1.5 -2-2 -1-3 0.5-4 1-3 4.5-5 7.5-4.5 10-0.5 6 2 2.5 2 1.5 3 0 3 -1 5 -3.5 4 -4.5 3.5 -4 2zM904 438l-4 0.5 -13 0 -19-1 -3-0.5 -3-2 -2-2 -0.5-2 0-2 1.5-3 3-2.5 10-2 6-2 8-0.5 7-2 8-0.5 6-1.5 17-0.5 35 0 12 1.5 21 1 9.5 3 2 2 1 3 -0.5 3 -3 3.5 -4 2 -7 2.5 -9 0.5 -4-1.5 -4-0.5 -14 2 -37 0 -16 1zM659 466l-14 0.5 -5-0.5 -3.5-1 -3-2 -1.5-2 -0.5-3 0.5-3 1-2 3-3 8-4 26-1.5 13 2 7 2 6 0.5 7 2 3.5 2 1 2 0 2 -1 2 -4.5 2 -8 0.5 -13 2.5 -16 0.5z"/>
<path fill="#717171" d="M217 405l-5 0.5 -6-1.5 -11-7 -6-2.5 -7-1.5 -7-0.5 0-67 3-0.5 4-2 4.5-4 4-5 4-6 2-5 1.5-5 0.5-4 -1-7 -2.5-7 -4-8 -10-16 0-4 3.5-9 2-6 0-10 -1-7 -2.5-5 -3-3 -2-1 -3-0.5 0-13.5 3-0.5 10-4 6-1.5 11-7.5 4-4.5 4.5-6 2-5 0.5-6 -0.5-5 -2-5 -1-7 -4.5-10 -1-4 -2-2.5 -8-7 -4-2 -5-1.5 -13-1.5 0-23.5 100 0.5 15 0.5 3 2 -0.5 2 -2.5 2 -20 7 -16.5 7 -7.5 4 -7 5.5 -3.5 3.5 -2 4 -1 5 0.5 6 2.5 8 2 4 3 4 6.5 6 11 7 7 7 0 3 -1.5 5 -6 12 -2 10 0 8 2.5 6.5 3 3.5 5 4 6 3.5 30 12 4 2.5 3 3 1 2 1 5 0 3 -3 4.5 -8 7.5 -11 9.5 -3.5 4.5 -2.5 5 -1.5 5 0 4 0.5 5 3.5 17 0 6 -0.5 7 -5 14.5 -13 31.5 -3.5 7 -3 4 -3 3 -3.5 2 -5 2.5 -7 1.5 -14 0.5zM318 101l-2 0.5 -4-0.5 -1.5-1 -0.5-2 2-0.5 8 0.5 4-2 4-1 14.5 1 -17.5 3zM455 112l-17-0.5 -12-1.5 -6-2 -2-1.5 -1.5-2.5 0-2 2-2 1.5-0.5 10-2.5 22-2 8 0 3 0.5 4 1.5 3.5 3 1 2 0 2 -1 2 -2 2 -4 2zM1098 204l-5 0.5 -22 0 -6-2 -8-0.5 -8-2 -11.5-4 -7-4 -1.5-2 0-4 2-4.5 4-1 4-4 12.5-6.5 15.5-11.5 6.5-7.5 4.5-10 2.5-3 5.5-4 23-12.5 14-11.5 2-1 6-1.5 18-0.5 4 0.5 6 1.5 9 1 25-1.5 9 1 23-5 16-2.5 33-3.5 53-3 34 0 8-1 23 0 0 13.5 -13 1 -36 0 -14 1 -16 2 -12 2.5 -22.5 5.5 -25.5 9 -12 3 -22 3 -17 1 -7 1.5 -9 1 -6.5 1.5 -4 2 -6.5 4.5 -12 11 -5 6.5 -5.5 6 -8.5 12 -7 8 -12 7 -7 3.5zM364 103l-6-1 -1.5-2 0.5-2 5.5-2 3.5 0 2 1 1 1 0.5 2 -0.5 0.5 -1 1.5zM1174 430.5l-11 0.5 -10-1.5 -7-1.5 -7-0.5 -7-1.5 -13-0.5 -13-1.5 -23 0 -7-2 -13-0.5 -12-3 -4-2.5 -1.5-2 -2-3 -0.5-4 0.5-10 5-14 1-2 2-2 1-2 -1-4 -1-2 -3.5-3 -11-5 -21-13.5 -5.5-6.5 -0.5-3 1-2.5 3-4 10-7 9-5 9-8.5 1.5-3 2-6 2.5-20 8-9.5 8-6.5 6-3.5 8-2 8-0.5 7 1 7 2.5 7 4 6 5 5 6.5 3 5 2 5 1 5 0 4 -2.5 7 -7 12 -2 5 -1 7 1 6 3.5 6 5.5 5 10.5 5.5 23 9 3 2.5 1 4 1 8 8 22 6 11 5.5 7 1.5 4 0 4 -1 2 -2 2zM719 322l-9 0.5 -5-0.5 -3-2 -2.5-4 0-5 1.5-4 4-4 7-4 8-0.5 6 1 3 1.5 2.5 4 0 5 -1.5 4 -4 4zM902 438l-16 0 -18-1 -3-1 -2.5-2 -1.5-3 0.5-2 1.5-3 2.5-2 14.5-4 9-1 6-1.5 8-0.5 6-1.5 17-1 35 0 12 2 21 1 9 3 2 1.5 1 3 -0.5 3 -3 3 -3.5 2 -7 2.5 -8 0.5 -5-1.5 -4-0.5 -14 2 -38 0.5 -16 0.5zM655 466l-12 0 -5-1 -1.5-1 -2.5-2 -1-3 0-3 1-3 4-3.5 7-3 13-0.5 12-1 12 2 8 2.5 9 1 5 2 2 2.5 0 2 -1.5 2 -3.5 1.5 -7 0.5 -12 2.5 -16 0.5z"/>
<path fill="#737373" d="M217 402l-5 0.5 -4-1 -4-2.5 -6.5-5 -5.5-2.5 -8-2 -9-0.5 0-62.5 3 0 5-2.5 4.5-4 4.5-5 3.5-5 3-6 2-5 0.5-5 -0.5-6 -2-6 -11.5-21 -2-5 -0.5-6 2.5-10 1-6 -0.5-10 -2-7 -2.5-4 -3-3 -2-0.5 -3-0.5 0-11.5 3-0.5 10-4 6-1.5 11-8 4-4 4.5-6.5 2-5 0.5-6 0-5 -2-5 -1-7 -5-10.5 -1-4 -2-2.5 -8.5-7 -3.5-2 -5-1 -13-1.5 0-23 49-0.5 65.5 1 2.5 2 -1 2 -2 1.5 -19 6.5 -16.5 7 -7.5 4 -7.5 5 -4 4 -2 4 -1 4 0 6 1 6 1.5 4 2 4 3 4 8.5 7 10.5 6.5 6.5 6.5 0 3 -1 5 -6 11 -2 11 -0.5 8 3 6.5 3 3.5 4.5 4 6.5 4 30 12 4 2 3.5 5 1 5 0 3 -1.5 2.5 -2 2.5 -7 6 -12.5 10 -4 5 -3 5 -1.5 5 0 5 0.5 5 4 17 0 6 -0.5 6 -4 12.5 -10 20.5 -5 14 -3 6 -5.5 6 -3.5 2 -5 2.5 -7 1 -14-0.5zM1096 204l-25 0 -6-1.5 -8-0.5 -8-2 -11-4 -7-4 -1.5-2 0-4 1.5-3.5 4-1.5 4-4.5 13-6.5 15-11 7-8 4.5-10 2.5-3 6-4 22-12.5 14-11 2-1 6-2 18-0.5 4 0.5 6 1.5 9 1 25-1.5 9 1 23-5 16-2.5 33-3 53-3.5 34 0 8-1 23 0 0 13.5 -13 0.5 -36 0.5 -14 1 -16 2 -12 2 -23 6 -25 9 -12 3 -22 3 -17 0.5 -8 2 -9 1 -5.5 1.5 -4.5 2 -6 4 -12 11 -6 8 -5 5 -8.5 12 -7 8 -11.5 7 -7 3zM456 111.5l-4 0 -24-1.5 -6.5-2 -2.5-1.5 -1.5-2.5 0-2 2.5-2 10-2.5 20-2 11 0.5 3 1 3 2 1.5 2 1 2 -1 3 -0.5 1 -4 2.5zM365 101l-3 0.5 -2.5-1.5 1.5-2 3-0.5 2 0.5 0.5 0 0.5 2zM1172 430l-9 0.5 -10-1 -7-1.5 -7-0.5 -6-1.5 -14-0.5 -12-1.5 -24-0.5 -7-1.5 -13-0.5 -11-3 -4.5-2.5 -2-2 -1.5-3 -1-4 0.5-10 5-14 1-2 2.5-2 1-2 -1-4 -1.5-2 -3.5-3 -11-5.5 -21-13.5 -5.5-6 -0.5-3 1-2 3-4 8-6 11-6 9.5-9 2-3 1.5-6 2.5-20 7.5-8.5 6-5 6-3.5 8-2.5 8-0.5 7 1 8 2.5 7 4 6 4.5 5 6 2 4 2 5 1 4 0 4 -2 7 -7 12 -2.5 6 -1 7 1.5 6 2 4 2 3 6 5 10.5 5 18 7 5.5 2.5 2 2 1.5 3.5 1 8 8 22 6 11 5 7 1 3 0.5 3 -1 4 -2 2zM718 322l-10 0 -3-0.5 -2.5-1.5 -2-2 -0.5-2 -0.5-3 1-4 3.5-5 8-5 8-0.5 6 1 3 2 2 3.5 0.5 3 -1 4 -2 3 -2.5 2.5 -5 3.5zM905 437l-5 1 -13 0 -18-1.5 -3-1 -2-1.5 -1.5-3 0-2 1-2 2.5-2 14-4.5 9-1 6-1.5 8-0.5 6-1.5 17-1 35 0 22 2.5 11 0.5 9 3 2 2 0.5 2 -1 3 -3 3 -3.5 2 -7 2 -7 0.5 -5-1.5 -4-0.5 -15 2.5 -35 0zM659 465l-11 0.5 -6 0 -3-1 -2.5-1.5 -2-2 -0.5-3 0.5-3 2.5-4 3.5-2 4.5-2 4-0.5 11 0 10-1 12 2 8 3 7 0.5 5.5 2 2 2 -0.5 2 -3 2 -9 1 -11 3 -16 0.5z"/>
<path fill="#757575" d="M244 398l-4 0.5 -5 0 -19.5-3.5 -23.5-7.5 -8-1.5 -9-1 0-57 3-0.5 5-2 4-3.5 6-6 4.5-6 4-6 2-5 0.5-5 -0.5-5 -2-6 -11-20 -3-8 0-6 2-17 -0.5-6 -1.5-7 -2-5 -3.5-4.5 -4-2 -3-0.5 0-9 4-0.5 8-3.5 7-2.5 9-6 4-3.5 6-7 2-4 1-4 0.5-5 0-4 -2.5-6.5 -1-7 -5-10.5 -1-4 -1.5-2 -8.5-7 -3.5-2 -5.5-1.5 -13-1.5 0-22.5 111 0.5 2.5 0 2.5 2 -1 2 -2 1.5 -19 6.5 -17 6.5 -8.5 4.5 -6.5 4.5 -3.5 3.5 -2.5 4 -1.5 5 0.5 6 1 6 2 5 3 5 4 4 5 4 13 8 6 6 0 3 -1 5 -5.5 11 -2.5 11 0 8 3 7 3 3.5 4 3.5 7 4.5 14 5.5 10 3.5 10 5 2.5 3.5 1.5 6 0 3 -2 3 -8 7.5 -13.5 9.5 -5.5 6 -3 5 -1.5 5 -0.5 5 0.5 5 4 13 1 6 0 7 -1.5 8 -4 9.5 -10 18.5 -5 15 -2.5 5 -2.5 3 -4 3 -4 2zM1099 203l-5 1 -21 0 -4-0.5 -4-1.5 -8-0.5 -9-2.5 -11-4 -7-4.5 -0.5-2.5 0.5-2 1-3 4-1.5 4-4.5 4.5-2 8.5-4.5 15.5-11.5 6-7 5.5-11 2.5-3 6-4 21.5-12 16-12.5 7-2 17 0 4 0.5 6 1.5 9 0.5 25-1.5 9 1 17-3.5 22-4 33-3 53-3 34-0.5 8-1 23 0 0 13.5 -13 0.5 -36 0.5 -14 1 -16 2 -12 2 -23 6 -25 9 -12 3 -22 2.5 -17 1 -8 2 -9 1 -6 1.5 -4 2 -6 4 -12 11 -6 7.5 -5 5 -9 12.5 -7 8 -11 6.5 -6 3 -4.5 1.5zM454 111l-16-0.5 -11-1.5 -5-1.5 -2.5-1.5 -1-2 0-2 3-2 8.5-2 15-1.5 15 0.5 3.5 1 2.5 2 1.5 2 0.5 2 -0.5 2 -2 2 -3.5 1.5zM1169 430l-6 0 -9-0.5 -21-3.5 -14-0.5 -12-2 -24 0 -7-1.5 -13-0.5 -11-3 -4-2.5 -2-2 -2-3 -0.5-4 0.5-10 4.5-14 4.5-5.5 0-1.5 -1-3 -1-2 -4-3.5 -11-5 -21-13.5 -5-6 -0.5-3 0.5-2 2-3 5-4 6-4 9.5-5 7.5-6.5 2.5-2.5 1.5-3 1.5-6 1.5-9 0.5-8 0.5-3 7-8 6-4.5 6-3 8-2 7-0.5 7 1 7 2 7 3.5 6.5 4.5 5 6 4 8 1 4 0 4 -2.5 7 -7 12 -2.5 5 -1 7 1.5 7 4.5 7 5.5 5 12 5.5 16.5 6.5 7.5 4 2 2 1 3 1 7 8 22.5 6 11 4.5 6.5 1.5 4 0 4 -2 3 -2 1zM716 322l-8 0 -3-1 -3-2 -1.5-2 -0.5-2 1-6 3.5-5 7.5-4.5 8-0.5 6 1 3 2 1.5 3 0.5 3 -1 4 -2 3 -3 3 -5 3zM903 437l-16 0.5 -18-1.5 -3-1 -2-2 -0.5-2 0.5-2 1-2 2.5-2 13.5-4 8-1 6-1.5 8-0.5 6-1.5 18-1.5 34 0.5 22 2.5 11 0.5 8.5 2.5 2 2 0.5 2 -1 3 -3 2.5 -5 2.5 -5 1.5 -7 0 -5-1 -4 0 -15 2 -36 0 -17 1zM655 465l-11 0 -6.5-2 -1.5-2 -1-2 0-3 1.5-3 3.5-3 6-2.5 4-0.5 10 0.5 10-1 11 2 9 3 8 1 1.5 0.5 2.5 2 0 2 -2 1 -9 1.5 -9 2.5 -6 1 -11 0z"/>
<path fill="#787878" d="M244 396l-6 0.5 -7.5-1.5 -4-2 -8-6 -4.5-2 -12-0.5 -17-2.5 -10-0.5 0-52 5-1 4-2 5-4.5 6-6 6-7 4-6 2-5 0.5-4 -0.5-5 -2-5 -11-19 -4-9 -0.5-7 1-20 -0.5-6 -2-7 -2.5-5 -3.5-4.5 -3-1.5 -4-0.5 0-5.5 4-0.5 9-4.5 7-2.5 12-9 6-7 2-3.5 1.5-4 0.5-6 -0.5-5 -2.5-7 -1-6 -6-15 -9.5-8 -3.5-2 -6-1.5 -13-1.5 0-22.5 101 0.5 6 0.5 6 0 2 1.5 -1 2 -1 1 -19 6 -17 6.5 -8 4 -7 4.5 -4 3.5 -3.5 4.5 -1.5 4 0 6 1 6 2 6 4 6.5 3.5 3.5 5 4 14.5 8.5 5.5 5.5 0 3 -0.5 5 -6 11 -2 11 0 8 3 7 3 3.5 4 3.5 7 4.5 14 6 10 3.5 10 5 3 4 1 5 -0.5 3 -1.5 2.5 -8 7 -11 7 -4.5 3.5 -6 6 -4 6 -1.5 4 -0.5 5 1 5 4.5 12.5 1.5 6.5 0.5 7 -1.5 7 -4.5 10 -11.5 19 -4 14 -2.5 5 -2 2.5 -2.5 2.5 -3.5 2zM1098 203l-5 0.5 -21 0 -7-1.5 -8-1 -8.5-2 -11.5-4.5 -6-3.5 -1-1 0-4 1-2 4-2 4-4.5 5-2.5 8-4.5 8.5-5.5 7.5-6 6-7 5-10 3-4 6-4 21-11.5 16-12.5 7-2 17-0.5 4 0.5 6 1.5 9 0.5 25-1 9 0.5 17-3.5 22-4 33-3 53-3 34 0 8-1 23-0.5 0 13.5 -13 0.5 -36 0 -14 1 -16 2 -12 2.5 -23.5 6 -24.5 9 -12 3 -22 2.5 -17 1 -9 2 -8 0.5 -6 2 -4 1.5 -6.5 4.5 -11.5 10.5 -6 7.5 -6 6 -8 11.5 -7.5 8.5 -8.5 5 -8 4 -6 2 -6 1zM456 110l-4 0.5 -13-0.5 -11-1.5 -7.5-2.5 -1.5-2 0.5-2 2.5-1.5 9-2.5 13-1 14 0.5 4 1 2.5 1.5 1.5 2 0.5 2 -1 3 -2.5 1.5zM1173 429l-5 1 -5 0 -10-1 -20-3.5 -14-0.5 -12-1.5 -24 0 -7-2 -13-0.5 -11-3 -6-4 -1.5-3 -1-4 0.5-9.5 5-14.5 4-5 0.5-2 -1-3 -1-2 -4-3 -11.5-6 -20.5-13 -5-6 -1-3 3-5 4.5-4 6-4 10-5 7.5-6 2.5-3 1.5-3 2-6 1.5-19 1.5-2 5.5-6.5 7-4.5 5-2 9-2 8 0 9 2 8 3.5 6 3.5 5.5 6 3 4 1.5 4 1 4 0 4 -2.5 7 -7.5 11 -3 6 -0.5 7 1.5 7 4.5 7 5.5 5 14 6.5 15 5.5 8 4.5 3 2.5 1 3 0.5 6 8.5 23 6 11 3.5 5 1 3 0.5 3 0 3 -1 2zM245.5 300l1-1 1-2 -0.5-2 -1-1.5 -2-1.5 -2 0 -2 0 -3 2 -0.5 3 1.5 2.5 4 1.5zM719 321l-6 1 -6-0.5 -4.5-2.5 -1.5-3 -0.5-5 2-4 3.5-3.5 6-3.5 6-1 6 1 4 2 2 3 0 5 -1.5 4 -3.5 3.5zM900 437l-14 0 -17-1.5 -2-1 -2-1.5 -0.5-3 1.5-2.5 2-2 14-4.5 7-0.5 6-2 8 0 6-2 18-1 34 0 22 3 11 0 8 3 2 1.5 0.5 2 -0.5 2 -3 3 -4 2 -6 2 -6 0 -10-1 -15.5 2 -36.5 0zM657 464l-10 0.5 -7-1 -2-1.5 -1.5-2 -0.5-3 0.5-2 1-2 2.5-2 6-3 4 0 11 0 9-1 10.5 2 8.5 3.5 7 1.5 2.5 1 -1 1 -1.5 1 -5 0.5 -9 4 -6 0.5 -11 0z"/>
<path fill="#7a7a7a" d="M244 393l-6 0.5 -5-1.5 -3.5-2 -7.5-7 -6-2.5 -41-3.5 0-45.5 5-1 4-2.5 12.5-11 8.5-9 4-5 2-4 1-4 -0.5-4 -2-5 -12-19 -4.5-10 -1.5-8 0.5-17 -0.5-7 -3-12 -2.5-5.5 -3.5-5.5 0-2 4-4 3-2 6.5-3 9-6 4-4 4-5 2.5-4 1.5-4 0-6 0-5 -2-5 -1.5-8 -6.5-15.5 -10-8 -3-1.5 -5-1.5 -14-1.5 0-22.5 98.5 0.5 8.5 1 4-0.5 2 0.5 1.5 1 -1.5 2 -1 0.5 -17 5 -19 7.5 -7 3 -8 5 -5 4 -3.5 5 -1.5 4 0 6 1.5 6 2 6 4.5 7 3 3.5 4 3 6 4 7 3 4 2.5 5 5 0.5 3 -1 5 -5.5 10.5 -2 10.5 -0.5 9 3 7 2.5 3 5 4.5 7 4.5 9 4 15 5.5 9.5 4.5 3 4 1 5 -1 4 -2.5 2.5 -8 6.5 -10.5 6 -6.5 5 -7.5 7 -4.5 6 -1 4 0.5 4 7.5 17 1.5 6 0.5 6 -0.5 6 -2.5 6 -3 6 -11 14 -2.5 4 -1.5 4 -2 10 -1.5 4 -3.5 4zM1096 203l-25 0 -6-1.5 -7-0.5 -9-2 -10.5-4 -7.5-4.5 -1-2.5 0.5-2 1-2 4.5-2.5 3-4 5-2 9-5 8-5.5 7.5-6 6-7 5-10 3-4 6-4 20.5-11.5 16.5-12.5 6.5-2 17-0.5 4 0.5 6 1.5 9 1 25-1.5 9 0.5 17-3.5 18-3 24-3 66-4 34 0 8-1 23 0 0 12.5 -13 1 -36 0 -14 1 -16 2 -12 2.5 -23.5 6 -24.5 9 -12 3 -22 2.5 -17 1 -9 2 -8 0.5 -6 1.5 -4 2 -7 4.5 -11 10 -6.5 8 -5 5 -8.5 12 -8 9 -8 5 -9 4 -5 2zM454 110l-14 0 -11-1.5 -7.5-2.5 -1.5-2 0-1 0.5-1 1.5-1 8-2 14-1 15 0.5 3.5 1.5 2 2 1 2 -0.5 2 -1 1 -2 1.5zM1171 429l-6 0.5 -10-0.5 -22-3.5 -14-0.5 -12-1.5 -24 0 -7-2 -12.5-0.5 -10.5-2.5 -3-1.5 -3.5-3 -2-3 -0.5-3 -0.5-5 0.5-5 5-15 4-5 0.5-2 -1-3 -1-2 -3.5-3 -11.5-6 -21-13 -2.5-2.5 -2.5-3.5 -0.5-3 3-5 4.5-4 5.5-3.5 10-5 8-6 3-3.5 1.5-3 2-7 1.5-18 6-7.5 8-5 4-1.5 8-1.5 8 0 8 2 8 3 7 4 5.5 5.5 2.5 4 2 4 0.5 4 0 3 -3 7 -8 11 -3 6 -0.5 6 1.5 7 5 8 2.5 3 4 3 15 6.5 14 5 11 6.5 1.5 3 1 7 8 22 5 10 4.5 7 1 2 0.5 4 -1 3 -1.5 2zM246 303l3.5-2 2-3 0-3 -2.5-3.5 -5-2 -4 0 -4 1 -2.5 2.5 -1 2 0 2 0.5 2 1.5 2 2.5 1.5 3 1zM718 321l-7 0.5 -3.5-0.5 -4-2 -2.5-3 0-5 2-4 3-3.5 7-3.5 6-0.5 4.5 0.5 4 2 2 3 0.5 5 -2 4 -3 3.5zM904 436l-17 0.5 -8-1 -9-0.5 -3-1 -1-1 -0.5-2 0.5-2 2-2.5 13-4.5 9-1.5 5-1.5 8-0.5 6-1.5 10 0 8-1 35 0 21 3 11 0 8 3 1 1 1 2 -0.5 2 -2.5 2.5 -3 1.5 -7 2.5 -6 0 -10-1 -16 2 -35 0zM650 464l-8-1 -3.5-2 -1-2 0-4 1.5-2 2.5-2 3.5-2 3-0.5 13 0.5 11-1 5 1 6 2 3 2 2 2 -0.5 2 -3 2 -5 2 -14.5 0.5 -8 2z"/>
<path fill="#7c7c7c" d="M240 380.5l-22-4.5 -17-1 -26-2 0-39.5 5-1 8-5.5 25-23 5.5-6 1.5-3 -0.5-2 -2.5-4 -17-21 -4.5-9 -1.5-5 -0.5-6 0-17 -0.5-5 -2.5-13 -3.5-9 -1-3 1-3 2.5-3 4.5-2 11-8 4-3.5 4-5 2.5-3.5 1.5-5 0.5-7 -0.5-5 -1.5-4 -2-9 -3.5-7.5 -1.5-5.5 -1.5-2 -10-8 -3-1.5 -5-1 -14-2 0-21.5 95 0.5 6 0 6 1 4-0.5 2.5 1 -0.5 1 -2 1 -16 5 -23 8.5 -10.5 5.5 -5.5 3.5 -3.5 3.5 -2.5 4 -1 3 0 5 1.5 8 3.5 8 4 6 4 4 4 2.5 7 4.5 6 2 4 2.5 4.5 4.5 0.5 3 -1 5 -5 10 -2.5 11 0 9 3 7 2.5 3 5 4.5 7 4.5 8.5 4 15.5 5.5 9 4.5 3 3.5 1 4.5 -0.5 3 -0.5 2 -8 6.5 -14 8 -20 14.5 -4 2 -2 0.5 -2-0.5 -7-4 -4-1.5 -7-0.5 -4.5 1 -4.5 2 -4 3 -1.5 2 0 1 1 2 2.5 3 4 2.5 5 2 4 0.5 4-0.5 10-3.5 2 0 2 0.5 4 3.5 7 9.5 3.5 6.5 2 6 0 5 -0.5 4 -2 6 -3 5 -5 6 -12.5 13 -9.5 11 -2 1.5zM1090 203l-19 0 -6-2 -7-0.5 -9-2 -10-3.5 -7.5-5 -1-2 0.5-2 1.5-2 3.5-2 3-4 6-2.5 8-5 8-5 8-6.5 6-7 5-10 3.5-4 6-4 19.5-11 14-11 3-2 4-1.5 3-0.5 18 0 8 1.5 10 1 24-1.5 9 0.5 17-3.5 18-3 24-3 66-4 34 0 8-1 23 0 0 12.5 -13 1 -36 0 -14 1 -16 2 -12 2.5 -24 6 -24 8.5 -12 3.5 -22 2.5 -17 1 -9 2 -8.5 0.5 -5.5 1.5 -4 2 -7 4.5 -11.5 10 -6.5 8 -5 5 -8 11.5 -8 9 -8 5 -12.5 5.5 -7.5 1.5 -4 1zM455 109l-3 0.5 -12-0.5 -10-1 -7-2 -2-2 0-1 1-1.5 8-2 14-1 14 1 3 1 2.5 1.5 1 2 -0.5 2 -1 1zM1169 429l-6 0.5 -8-0.5 -22-3.5 -14-0.5 -12-1.5 -24-0.5 -7-1.5 -12-0.5 -11-3 -3-1.5 -3-2.5 -2-3 -1-3 0-5 0.5-5 5-15 4-5 0.5-2 -1-3 -1-2 -4-3 -11.5-6 -20.5-13 -3-3 -2-3 -0.5-3 2.5-5 5-4 5-3.5 10-4.5 8-6 3-3 2-3 2-7 1.5-19 5.5-7 8-4.5 4-1 9-1.5 7 0.5 10 2.5 7 3 6 3.5 5 5 3.5 6.5 0.5 4 0 3 -1 3 -2.5 4 -9 11 -2.5 5 -1 6 1.5 7 2 4 3.5 5 3 3.5 4 3 3 1.5 14 5.5 13 4 12 8 0.5 1.5 1 6 8 23 5.5 10 4.5 7 0.5 2 0.5 4 -1 3 -1.5 1.5zM717 321l-8 0 -5-2 -2.5-3 0-3 0-3 1-2 2.5-3 6-4 4-1 8 0 4 2 1.5 2 1 3 -0.5 4 -1 3 -3 3 -5 3zM900 436l-13 0 -8-1 -8-0.5 -2-0.5 -2-1 -0.5-2 0.5-2 2-2 12-4.5 9-1.5 5-1 8-1 6-1.5 10 0 8-1 35 0 21 3 11 0 7 2.5 1.5 1 1 2 -1 2 -2.5 2 -4 2 -6 2 -16-1 -15 2 -36 0 -7 1zM654 463l-8 0 -4-1 -2-1 -1-2 -0.5-2 0.5-2 1.5-2 2.5-2 4-1.5 4 0 11 0.5 8-1 9.5 2 3.5 2 1.5 2 -0.5 2 -2.5 2 -1.5 0.5 -5 1 -10 0z"/>
<path fill="#7e7e7e" d="M262 287l-4 0.5 -14-2.5 -16 1.5 -6-1.5 -6-3.5 -8-7 -6-7.5 -3.5-6 -2.5-8 -1-9 -0.5-18 -3-16 -2.5-8 0-3 1-3 1-1 12-7.5 5.5-4.5 6-8 3-7 0-12 -2-4 -1-7 -4.5-11 -0.5-4 -2.5-3 -10-7 -3-1.5 -4-1 -15-2 0-21.5 67 0 34 1 6 1 5 0 -3 2 -10 2.5 -28 10 -11 5.5 -6.5 4 -3.5 3 -2 3 -1.5 5 0 5 2.5 8 3 7 4 7 6 5.5 11 6 8 3.5 2 1 4 4.5 0.5 2.5 -0.5 5 -5.5 10 -2 9 0 11 3 7 2.5 3.5 5 4.5 6.5 4 8.5 4 16 6 6 2.5 4 2.5 2 4 0.5 4 -0.5 2.5 -2 2.5 -6 4.5 -4 2.5 -10 4.5 -16 9.5zM1098 202l-6 0.5 -20 0 -7-1.5 -8-1 -8-2 -11-4 -6-4 -1-2 0.5-1 1-2 3.5-2.5 3.5-4.5 5.5-2 14.5-9 10-8 6-7 5-10 3.5-4 6-4 20-11 13.5-11 6.5-3 4-1 15 0 4 0.5 6 1.5 9 0.5 25-1.5 9 1 17-4 18-3 24-3 66-4 34 0 8-1 23 0 0 12.5 -13 1 -36 0 -14 1 -16 2 -12 2.5 -24 6 -24 8.5 -12 3.5 -22 2.5 -14 0.5 -12 2.5 -8 0.5 -6 1.5 -4 1.5 -7 4.5 -12 10.5 -11 12.5 -8 11.5 -8 9 -8 5 -8 4 -6 2 -6 1zM456 108l-4 1 -14-0.5 -12-2.5 -4-2 0.5-2 10.5-2.5 13-0.5 12 1.5 4 1.5 1.5 2 -0.5 2zM1164 429l-9-0.5 -22-3.5 -14-0.5 -12-1.5 -24 0 -7-2 -12-0.5 -11-2.5 -5-3 -1.5-2 -1.5-2.5 -1-3.5 0.5-9 5-15 4-5 0.5-2 -1-3 -1-2 -4-3.5 -11-5.5 -20.5-13 -3-3 -2-3 -1-3 2.5-4.5 5-4.5 5-3 11-5 7-5 3.5-3 2-3 2-7 2-20 5.5-7 7-3.5 4-1 10-0.5 6 0.5 12 3 6 3 6 4 4 4.5 2.5 6 0 3 -0.5 3 -4 7 -9 9 -3.5 5 -1 3 -0.5 3 1 5 2.5 5 3.5 5 4 5 4 3.5 5 2.5 28 9.5 4 2 8 6.5 1 6 8 23 6 11.5 3.5 5.5 1 2 0 5 -1.5 3 -4 1.5zM714 321l-6-0.5 -3-1.5 -2-1.5 -1-2 -0.5-2.5 0.5-3 1-2 3.5-4 6.5-3.5 8-0.5 5 2 2 1.5 1 2.5 0 4 -1 3 -2.5 3 -3.5 2.5 -4 2zM215 371l-13 0 -27-3 0-32 3-0.5 4-2 24-19.5 8-5.5 6-3 6-0.5 14 3 16-0.5 3 0.5 3 2 4 3.5 5 6.5 2 4 1.5 5 0.5 4 -1 5 -2 5 -2.5 4 -3.5 4 -6 5 -6 4.5 -5 2.5 -23 7zM909 435l-23 0.5 -6-1.5 -10-0.5 -1.5-0.5 -1-2 1-2 2.5-2 11-4 8-1 6-1.5 7-0.5 6-1.5 11-0.5 7-1.5 38 0.5 18 3 12 0.5 6 2 1.5 2.5 -1 2 -3 2 -8.5 3 -17-0.5 -8 0.5 -6 1.5 -36 0 -8 1.5zM653 462l-6 0 -4.5-1 -2-2 -0.5-2 1-2 1.5-2 2.5-1.5 5-1 12 1 11-0.5 6.5 2 1.5 2 -0.5 2 -3.5 1.5 -3 0.5 -9 0z"/>
<path fill="#808080" d="M261 283l-3 0.5 -14-1 -10 0.5 -6-1 -4-1 -8-4.5 -6-4 -6-6.5 -3.5-6 -2.5-8 -1.5-11 0-15 -2-8 -1.5-11 -2-6.5 0-2.5 1-2 17-13 6-7.5 3-6.5 0.5-12 -1-3 -1.5-2.5 -0.5-7.5 -1.5-2 -1-5 -4-9 -12-8.5 -3-1.5 -4-1 -15-1.5 0-21.5 49 0 45 1 9 0.5 2 0.5 0.5 1 0 1 -5.5 1.5 -30.5 10.5 -18.5 9 -2 1.5 -3.5 3.5 -1 2 -1 4 0.5 6 4 11 2 5 6 8.5 3 3 5 3 9 4.5 6 1.5 4 2.5 3.5 4 0.5 3 -0.5 4 -5 10 -2.5 10 0 10 1 3 3 5 7 7 6 4 9 4.5 16 5.5 6 3 4 2.5 1.5 3.5 0.5 4 -0.5 2 -1.5 2 -6 4.5 -4 2.5 -10 4 -12 6 -6 2.5zM1096 202l-24 0.5 -7-2 -7-0.5 -8-2 -11-4 -5.5-4 -1.5-2 0-1 1-2 3-1.5 4-5.5 5-2 15-9 10-8 6-7 5-10 4-4 6-4 19-10.5 8-6 6-5.5 6.5-3 4.5-0.5 15-0.5 9 2 10 0.5 24-1.5 9 1 17-4 18-3 24-3 66-4 34 0 8-1 23 0 0 12.5 -13 0.5 -36 0.5 -14 1 -16 2 -12 2 -24 6.5 -24 8.5 -12 3 -22 3 -12 0 -14 3 -8 0.5 -6 1 -4 2 -7 4.5 -12.5 10.5 -10.5 12 -6 8.5 -10 12 -8 5.5 -9 4 -5 2 -6 0.5zM454 108l-14 0 -10-2 -6-2 2.5-2 5.5-1.5 12-0.5 6 1 8 0.5 2 1 2 1.5 -1 2zM1168 428l-5 0.5 -8-0.5 -21-3 -15-0.5 -12-1.5 -25 0 -5-2 -12-0.5 -10-2 -5-2.5 -3.5-3 -1.5-3 -0.5-3 0-9 5.5-15 4-5 0-2 -0.5-3 -1-2 -4.5-3.5 -11-6 -20.5-12.5 -3.5-4 -2-3 0-2 2-4 5.5-5 4.5-3 10-4 5-3 4.5-3 3.5-3.5 2-3.5 1.5-6 1.5-19 5-7 9-3.5 10-1 6 0.5 17 5 7 4 4 4.5 2 3.5 1 3 0 3 -1 2.5 -4 6 -10 7.5 -4.5 5 -3 6 0 2 0.5 3 1.5 3 8 10 4.5 5 4 3.5 6 3 6 1.5 21 6.5 6 3 6.5 5.5 2 7 8.5 23 4.5 9 4.5 8 0.5 3 -0.5 4 -2 2zM718 320l-6 1 -4-1 -4-2 -1.5-3 0-5 2-4 4.5-3.5 5-2 6 0 3 0.5 3.5 2 2 3 0 5 -2.5 4 -3 2.5zM208 367l-6 0 -27-4.5 0-23 3-0.5 4-2.5 12-10.5 12-9 8-4 8-3 8-0.5 16 0.5 10 1.5 6 3 4 3.5 4 4.5 2 4 0.5 2.5 0.5 3 0 3 -3 8 -2 3 -4 3.5 -10 6.5 -10 4 -18 5zM915 434l-15 1 -13 0 -7-1.5 -9-0.5 -1.5-1 -1-1 1.5-2 3.5-2 12-4 5.5-0.5 5-1.5 8-0.5 5-1.5 12-0.5 8.5-1.5 34.5 0 8 2 5 0 6 1.5 12 0.5 5 2 1.5 2 -1 2 -3.5 2 -8 2 -19 0 -5 0.5 -8 1.5 -34 0zM654 460l-5 1 -4-1 -1.5-1 -0.5-1 -0.5-1 1-2 2.5-2 4-1 7 1 5 2 -1 2 -3 2z"/>
<path fill="#828282" d="M212 127.5l-8-3.5 -7-5 -3-1 -4-1 -15-2 0-21 67 0.5 35.5 1.5 0 1 -1.5 1 -15 4.5 -17 6.5 -20 8.5 -7 4.5 -4 5zM1093 202l-22 0 -6-1.5 -7-1 -8-2 -11-4 -4.5-3.5 -1.5-2 0.5-1 3.5-4 3-4.5 5-2 15-9 10-7.5 7-8 3-5 2-5 3.5-4 6-4 12.5-6.5 7.5-4.5 8.5-6.5 5-4.5 6-3 4-0.5 16 0 8 1.5 10 1 24-2 9 1 17-3.5 18-3.5 24-3 66-4 34 0 8-1 23 0 0 12 -13 1 -36 0.5 -14 1 -16 2 -12 2 -24 6.5 -24 8.5 -12 3 -22 2.5 -12 0.5 -14 2.5 -8 0.5 -6 1.5 -4 2 -7 4 -12.5 11 -10.5 11.5 -6 8.5 -4 4 -6 8 -5 4 -11 5 -6 2.5zM446 107l-6-0.5 -10-2.5 1-2 1-0.5 11-0.5 15 3 -4 2.5zM217 142l-1 0.5 0-3zM260 280.5l-5 0 -19 0 -8-2.5 -4-1.5 -11-6.5 -6.5-6 -3.5-6 -2.5-7 -2.5-12 0-14 -1.5-8 0-7 -0.5-5 -2-8 1.5-3 2.5-2 11-8 4.5-5 3.5-5.5 1.5-4.5 0.5-3 0.5-12 -2-4 0.5-4 2.5 5 3.5 4 5 7.5 3 2.5 5 3 19 6.5 2 1 2.5 2.5 1 3 -0.5 4 -5 12 -2 7 -0.5 6 1 8 2.5 5 3 4 5 4.5 11 6.5 20 7.5 5 2.5 4.5 3 1.5 3 0 4 -1 2.5 -8 6 -19 7.5zM1165 428l-10 0 -20.5-3 -15.5-0.5 -12-1.5 -25-0.5 -5-1.5 -12-0.5 -10-2.5 -5-2.5 -3-2.5 -1.5-3 -1-3 0.5-9 5-15 4-5 0.5-2 -1-3 -1-2 -4.5-4 -11-5.5 -20-12.5 -4-4 -1.5-3 0-2 2-4 6.5-6 9-4.5 4-1 5.5-2.5 5.5-3.5 2.5-2.5 2-3 2.5-6 1-20 1-2.5 4-4.5 10-2.5 7-0.5 5 0.5 7 3 9 1.5 5 3 6 6 2.5 5 0 2 -1.5 2.5 -3 3.5 -12 7 -6.5 6 -2 5 0 4 0.5 3 2.5 4 4.5 6 14 14 8 3 6 1 22 6 6 3 5 5 1 2 6.5 19 3.5 9 4 9 5 7 0.5 2 0 4 -1 2 -2.5 2zM717 320l-7 0.5 -2-0.5 -3-2 -2.5-3 0.5-5 3-5 6-3.5 4-1 6 0.5 4 2 1.5 2 1 3 -0.5 3 -1.5 3 -1.5 2 -4 2.5zM209 362l-4.5 0 -4.5-1.5 -10-1 -8-4 -2.5-2.5 -1-2 0.5-2 2.5-4 6.5-8 8-8 13-9.5 5-2.5 8-2.5 4 0 6-1.5 12 0 12 4 6 4 6 6 1.5 6 -1 6 -2.5 3.5 -6 5 -8 4.5 -18 6 -10 2.5 -10 0.5zM902 434l-15 0 -6-2 -9.5-1 1.5-2 14-5 10-2 7-0.5 6-1.5 11-0.5 6-1.5 5-0.5 34 0.5 7 1.5 4.5 0.5 5.5 1.5 12 0.5 3 1 2 2 -3 2.5 -10 2.5 -22 0.5 -8 1.5 -36 0 -8 1.5z"/>
<path fill="#858585" d="M210 125l-4-0.5 -9-5.5 -4-1.5 -18-2.5 0-20.5 49 0 48.5 1.5 0.5 1 -1 1 -6 2.5 -7 1.5 -35.5 14 -9.5 5.5zM1097 201l-6 1 -18 0 -8-2 -6-0.5 -8-2 -11-4 -3.5-2.5 -2-3 0.5-2 5-7.5 6-2 14-8.5 10.5-8 8.5-10 4-8 2-2.5 7.5-5.5 13.5-7 6-3.5 8-6 6-5.5 5-2.5 4-1 16 0 8 1.5 10 1 24-2 9 1 17-3.5 18-3.5 24-2.5 38-2.5 6-1 14 0 8-1 34 0 8-1 23 0 0 12 -13 1 -35 0 -15 1.5 -16 2 -13 2.5 -23 5.5 -24 9 -12 3 -22 2.5 -12 0.5 -14 2.5 -8 0.5 -6 1.5 -4 1.5 -7 4.5 -13 11 -10 10.5 -6 9 -4 4 -6 8 -5 4 -3 2 -10 4 -5 2zM445 104.5l-1 0.5 -2.5-1 2.5-0.5 1.5 0.5zM259 278l-7 1 -14-0.5 -8-2.5 -5-2.5 -10-6 -6-6 -4-5.5 -2.5-7 -3-13 -0.5-14 -0.5-6 0.5-6 -2-15 1-1.5 11-8 5-5.5 5.5-10 0.5-9.5 2-2 5 7 3 2.5 5.5 2 20.5 5.5 2 1 2 1.5 0.5 3 -0.5 5 -4.5 11 -2 7 0 6 1 8 2.5 5 3 4.5 5 4 6.5 4.5 8 4 16.5 5.5 8 4.5 2.5 3 0 3 -0.5 3 -4 3.5 -5 2.5 -15 6.5zM1166 427.5l-4 0.5 -6 0 -21-3 -16-1 -12-1.5 -25 0 -5-1.5 -12-1 -10-2 -5-2.5 -3-2.5 -1.5-3 -0.5-3 0-9 5.5-15 4-5 0-2 -0.5-3 -1-2 -5-4 -11-5.5 -20-12.5 -3.5-4 -1.5-3 -0.5-2 2.5-4 7-6.5 8-3.5 10-3 7-4 2-2 4.5-8 1-3 0-15 1.5-3.5 2-3 2-1 10 0.5 4 1 8.5 5 4.5 4.5 1.5 4.5 0 4 -1 4 -5.5 11 -0.5 4 0.5 5 2 5 6 9 11.5 12 3 2 6.5 2 8 1 23 6 5 2 3.5 3 3 5 1 4 2 5 3.5 10.5 6 14 6 10.5 0 3 -0.5 3 -2 2zM716 320l-6 0 -4.5-2 -2.5-3 0-2 0.5-3 2.5-4.5 5-3 5-1.5 6 0 3 2 2 2 1 3 -0.5 3 -1.5 3 -2 2.5 -4 2zM223 357l-6 0 -8-1.5 -4-2 -3.5-2.5 -2-3 -1-4 0.5-5 1.5-4 2.5-4 4-4 5-4.5 5-2.5 5-1.5 12-1.5 5 0.5 4 1.5 6 4.5 3.5 5.5 1.5 6 -0.5 3 -1 3 -4 5 -7.5 5 -9 4zM911 433l-22-0.5 -3.5-1.5 0-2 1.5-2 2-1 5-0.5 5-2 7-0.5 6-2 11 0 5-2.5 7-0.5 31 0.5 6 1.5 6.5 1 3.5 1.5 12 2 1 0.5 -4 0.5 -4 2 -3 1 -5.5 0.5 -14.5 0 -6 2 -21 0.5 -18-1z"/>
<path fill="#878787" d="M208 124l-4-1 -6-4 -4-1.5 -19-2.5 0-20.5 67 0.5 23 1 3 1 0 1 -10 3 -12 5.5 -25 9.5 -7 4 -4 3.5zM1095 201l-23 0.5 -7-2 -6-0.5 -19-6 -4-3 -0.5-3 4.5-8 6-2 15-9 10-8 9-10 3-7 2.5-3 8-6 12.5-6 8-5.5 6.5-4.5 6-6 4.5-2.5 4-0.5 16-0.5 8 2 10 0.5 24-1.5 9 0.5 17-3.5 18-3 24-3 44-3 14-0.5 8-1 34 0 8-0.5 23-0.5 0 12 -13 1 -34 0 -16 1 -16 2 -13 2.5 -23 6 -24 9 -12 3 -22 2.5 -12 0.5 -14 2.5 -8 0.5 -6.5 1.5 -3.5 1.5 -7 4.5 -7 5 -6.5 6 -9.5 10 -6.5 9 -4.5 5 -5 7 -6 5 -10 4.5 -6 2zM255 277l-9 0 -8-0.5 -8-3 -7-3.5 -8-5.5 -4.5-4.5 -3.5-5 -3.5-8 -2.5-13 -1-39 4-4 5-4 5.5-5 1.5-2 6-11.5 1 0 1-0.5 7.5 3 24.5 5.5 2.5 1.5 1.5 2 0 4 -4.5 12 -2 10 0 10 3 7 4 5 3.5 3 6 4.5 9 4.5 17 6 8 5 2 3 0 2 -2 3 -3 2.5 -7 4 -16 6 -18 4.5zM1164 427l-8 0.5 -20-2.5 -17-1 -12-1.5 -24 0 -6-2 -14-1 -8-2 -4-1.5 -3-2.5 -2-3 -1-3.5 0-6 0.5-4 5-14 4-5 0.5-2 -0.5-3 -1.5-2 -5-4 -16-9 -15.5-10 -2.5-3 -1.5-3 -0.5-2 1-2.5 4-4.5 4-3 8-3.5 10.5-2.5 9-5 6-8 1.5-3 2-9 1-1.5 2-2 3-1 4-0.5 3 0 4 1.5 4 3.5 2.5 5 -0.5 5 -2.5 10 0 5 1.5 5 2 4 5.5 8 10.5 12 3 2.5 3.5 1.5 28.5 5.5 12 3.5 3.5 3 3.5 6 1 4 2 4 4 12 3.5 8 2.5 6.5 4.5 8.5 0.5 3 -1.5 3 -2 2zM718 319l-6 1 -4-1 -4-3 -0.5-2 -0.5-2 2-5 3-2.5 6-3 6-0.5 3 1 2.5 2 1.5 2 0.5 3 -0.5 3 -2 3 -3 2.5zM224 354l-4 0 -5-1 -4-2 -3-2 -2-3 -1-3 -0.5-4 1-4 2.5-4 3-3.5 3-2.5 4-2.5 4-1.5 4-0.5 6 0 4 1 5 3 4 4.5 1.5 6 -1 5 -2.5 5 -6 5 -6 2.5zM949 430l-10 0.5 -8.5-0.5 -5-1 -2.5-2 0-1 0.5-1 3.5-4 2-1.5 2-0.5 6-0.5 30 0.5 4 2 6 1.5 1 0.5 1.5 2 -0.5 1 -2 1 -14 0.5 -6 2zM911 431l-3 0.5 -4.5-0.5 -2.5-2 1-1 2-1 8-1 1.5 1 -0.5 2z"/>
<path fill="#898989" d="M209 122.5l-3 0.5 -2-0.5 -5.5-3.5 -5.5-2 -18-2.5 0-20 67 0.5 11.5 1 9.5 2 -5 1.5 -15.5 7.5 -19 7 -8 4zM1091 201l-20 0 -5-1.5 -7-1 -19-5.5 -3-3 -0.5-3 2.5-6 1.5-2 4.5-1 2-1 4-3 10.5-6 9.5-7.5 10-10.5 3-7 2.5-3 8-6 12.5-6 8-5 6-4.5 6.5-6.5 3.5-2 4-1 15-0.5 9 2 9 0.5 25-1.5 9 0.5 17-3.5 18-3 24-3 44-3 14-0.5 8-0.5 34-0.5 8-0.5 23-0.5 0 12 -13 1 -34 0 -16 1 -16 2 -13 2.5 -23 6 -24 9 -12 3 -22 2.5 -12 0.5 -14 2.5 -9 0.5 -6 1.5 -3 1.5 -7 4 -7 5.5 -7 6 -9 9.5 -7 9.5 -5 5 -4.5 7 -5.5 4.5 -2 1.5 -14 5zM258 275l-8 0.5 -10-0.5 -6-1.5 -8-3.5 -7.5-5 -6-5 -4-6 -3.5-7 -2-9 -1-6 -0.5-16 1-19 2.5-4.5 10.5-9.5 5.5-8 3-2 4-0.5 12 2 16 3.5 2 1 0.5 2 0 3 -3.5 12 -2 9 0.5 11 3 7 3.5 5 4 3.5 6 4 8 4.5 18 6.5 7 4.5 1.5 2 0.5 2 -2 3 -3.5 3 -5.5 3.5 -12 4.5zM1162 427l-6 0 -20-2.5 -17-1 -12-1 -24 0 -6-2 -14-1 -8-2 -4-2 -3-2.5 -2-3 -1-5 0-5 0.5-3 5.5-14 4-5 0-2 -0.5-3 -1-2 -5-4 -16.5-9 -15-9.5 -2-2.5 -2-3 -0.5-2 0.5-3 5.5-6 4.5-3 6-2 11-2 9.5-5 6.5-6 6-10 3-2.5 4-1 2 0 3 1 2.5 2.5 1 3 0 3 -1.5 10 1 4 1.5 5 2.5 5 6 8.5 10 11.5 4 3 3 1 29 5.5 12 3 3 2.5 2.5 5 7.5 21 4 8 2.5 8 4 7 0 3 -1.5 3 -2 2zM717 319l-5 0.5 -4-0.5 -2.5-2 -1.5-2 -0.5-2 0-2 2.5-5 4-2.5 5-2 6 0 3 1.5 2 2 1 2 0 3 -2 5 -4 2.5zM228 351l-6 0.5 -6-1.5 -3-2 -2-2 -2-5 0-3 0.5-3 1.5-3 2-3 5-3.5 6-2 6 0 6 2 3.5 3.5 2 5 0 5 -2.5 5 -5 4.5zM944 429l-7 0.5 -5-1 -2.5-1.5 -1-2 0.5-2 1-2 2-1 7-0.5 16 1.5 11-1 2.5 1 1 2 -1 1 -1.5 0.5 -7 0.5z"/>
<path fill="#8b8b8b" d="M206 122l-12-5 -19-2.5 0-20 67 1 6.5 0.5 7.5 2 -2 2 -8.5 5 -24 9 -8 4 -5.5 3.5zM1095 200l-6 1 -16 0 -7-2 -7-1 -19-5.5 -2.5-2.5 -0.5-2 0.5-2 2-5 1.5-2 4-0.5 2-1 4.5-3.5 10.5-6 9-7 10-10 5-9 7-6 3-2 12-6 7-4 6-4.5 7-7 3.5-2.5 3.5-0.5 15-0.5 9 1.5 9 0.5 25-1.5 9 0.5 17-3.5 18-3 24-3 44-3 14-0.5 8-0.5 34 0 8-1 23 0 0 11.5 -13 0.5 -34 0.5 -16 1 -16 2 -13 2.5 -23 6 -24 8.5 -12 3.5 -22 2.5 -12 0.5 -14 2.5 -9 0.5 -6 1.5 -3 1 -7 4.5 -7 5 -7.5 6.5 -8.5 9 -7 9.5 -5 5 -5 7.5 -5 4 -2 1.5 -15 5.5zM255 274l-9 0 -8-1.5 -7-2 -7-3.5 -7-5 -4.5-5 -4-6 -2.5-6 -2-9 -1-6 0-15 1.5-17 1.5-3 2-3 14-14.5 4-2 6-0.5 10 1.5 7 1.5 7 2.5 1 2 0 3.5 -1 6 -3 10 -0.5 5 1 10 2.5 6 4 5 4 4 6 4 8 4.5 18 6 4.5 3.5 2 2 1 2 -0.5 2 -2.5 3 -3.5 2.5 -6 3 -14 5 -15 3.5zM716 319l-5 0.5 -3.5-1.5 -3-3 -0.5-2 0-2 2-4.5 4-3 5-1.5 6 0 2.5 1 3 3 0.5 2 -0.5 3 -2.5 4.5 -4 2.5zM1163 426l-6 1 -21-2.5 -11-0.5 -17-1.5 -25-0.5 -6-1.5 -8-0.5 -6-1 -8-1.5 -4-2 -3-2.5 -2-4 -0.5-4 0-5 2-8 3.5-9 4.5-5 0-2 -0.5-3 -1.5-2 -4.5-4 -17-9.5 -15-9.5 -2-2 -1.5-3 -0.5-2 0.5-3 5.5-6 4-2.5 6-2 11-1.5 8.5-4 10.5-7 7-8 3-1.5 2 0.5 2 1.5 0.5 1.5 0 11 1.5 5 3 6 11 16 8 9 6 3 12 1.5 18 3.5 12 3 3 2 2.5 5 7 21 9.5 22 0.5 3 -1 3 -1.5 2zM227 349l-5 0.5 -5-2 -3.5-3.5 -1.5-4 0.5-5 2-4 4.5-3.5 5-2 6 0.5 4 2 2.5 3 1.5 4 0 5 -2.5 4 -3.5 3zM942 427.5l-4 0 -3.5-0.5 -2-2 0-2 2.5-2 4-0.5 4 0.5 3.5 2 -0.5 2z"/>
<path fill="#8d8d8d" d="M208 120.5l-2 0.5 -2-0.5 -7-3 -4-1 -18-2 0-19.5 33 0 34 0.5 4 0.5 6 2 -0.5 2 -6.5 4.5 -25.5 9.5zM1093 200l-21 0.5 -6-2 -7-0.5 -19-6 -2-2 -0.5-2 0-2 2-5 1.5-1.5 6-1.5 5-4 10-5.5 10-7.5 9-9 6-10 6-5 4.5-3 10.5-5 8-5 5.5-4 6.5-7 4-3 19-1 8 2 10 0.5 24-2 9 0.5 17-3.5 18-3 24-3 44-3 14 0 8-1 34 0 8-1 23 0 0 11 -13 1 -34 0.5 -16 1 -16 2 -13 2.5 -23 6 -24 8.5 -12 3 -22 3 -12 0 -14 2.5 -9 1 -6 1 -3 1.5 -7 4 -7 5 -8 7 -8 8.5 -7 9.5 -5 5 -5 7 -5 5 -2 1 -16 6 -6 0.5zM260 272l-8 0.5 -10-0.5 -6-1.5 -8-3.5 -7-4 -6-5 -4-5.5 -3.5-6.5 -2.5-9 -0.5-8 0-14 1.5-15 1.5-4 3.5-5 11-11 4-2.5 6-1 8 1 8 1.5 6 3 1.5 2 0 4 -0.5 4 -2.5 11 0 9 1 6 3.5 6.5 2.5 3.5 4.5 4 6 4.5 8 4 18 6.5 3.5 3 2 3 0.5 2 -2 3 -3 2.5 -5 3 -14 5zM715 319l-5 0 -2-1 -2-1.5 -1.5-3.5 0.5-4 2-3 5-3 5-1 5 0.5 3 2.5 1.5 2 0 2 -1 4 -1.5 2 -3 2zM1161 426l-4 0.5 -20-2 -12-0.5 -18-2 -24 0 -6-1.5 -8-0.5 -6-1 -8-2 -4-2 -2.5-2 -2.5-4 -0.5-4 0-5 2.5-8 3.5-9 4-5 -0.5-5 -1-2 -5-4 -20-11.5 -11.5-7.5 -3-3 -1-3 0-3 1-2 5-5 5.5-3 5-1.5 7 0 4-1 22-10 4-0.5 2 2 11 19 11 15 6 6 6 2.5 12 1 16 3 14 3 2.5 1.5 2.5 5 7 22 9 21 0 3 -1 3 -1.5 2zM226 347l-4 0 -4-2 -2.5-3 -1-4 1-4 2.5-3.5 4-2 4-0.5 4 0.5 3 2.5 2 3 0.5 3 -1 4 -2 3 -2.5 2z"/>
<path fill="#8f8f8f" d="M208 119l-4 0.5 -11-3.5 -18-2 0-19 33 0 34 0.5 3 0.5 4.5 2 0 2 -5.5 4 -24 9zM1090 200l-19 0 -4-1.5 -6-0.5 -8-2 -13-4.5 -2-2.5 0-3 1.5-4 1.5-2 6-2 5.5-4 9.5-5 10-7.5 10-9.5 5.5-9 6.5-6 5-3 10-5 7-4 7-5.5 6.5-7.5 3.5-2 18-0.5 8 1.5 10 0.5 24-2 10 0.5 16-3.5 18-3 24-3 44-3 14 0 8-1 34 0 8-1 23 0 0 11 -13 1 -35 0.5 -15 1 -16 2 -13 2.5 -23 6 -24 8.5 -12 3 -22 2.5 -12 0.5 -15 2.5 -8 1 -6 1 -3 1.5 -7 4 -7 5 -8.5 7 -7.5 8 -7.5 10 -4.5 4.5 -5.5 7.5 -5 5 -2 1 -15.5 5.5zM259 271l-9 0 -8-0.5 -7-2 -7-3 -6-3.5 -6-5.5 -4.5-5.5 -3-6 -2.5-9 -0.5-8 0-14 2-13 2-5 4.5-6 8-7.5 5-3 5-1 8 0 8 2 4.5 2.5 2 3 0 4 -2.5 13 0.5 11 1 5 3.5 6 3 3.5 4 4 6 4 8 4.5 18 6.5 3 2.5 1.5 3 0 2 -2 3 -3.5 3 -4 2 -13 4.5zM718 318l-3 0.5 -4 0.5 -2.5-1 -2.5-2 -1-2 -0.5-2 1.5-4 1.5-2 4.5-2.5 5-1.5 4 0.5 3.5 2.5 1.5 2 0.5 2 -1.5 4 -2 2.5zM1159 426l-10-0.5 -12-1.5 -12-0.5 -17-1.5 -25 0 -6-2 -8-0.5 -6-0.5 -7.5-2 -4.5-2 -2-2 -2.5-4 -0.5-4 -0.5-5 2.5-8 3.5-9 4.5-5 -1-5.5 -1-1.5 -5-4.5 -20-11 -11.5-7.5 -2.5-3 -1-3 0-3 1-2 5-5 5-2.5 5-1.5 9 0 18-6.5 4-0.5 4 0 3 2 3 3 19.5 28 5.5 5 6 2.5 13 1 16 2.5 15 3.5 1.5 1.5 1 2 8 24 8.5 21 0 3 -1 3 -2 2zM224 345l-3.5-1 -2-2 -1.5-3 0.5-3 1.5-3 3-2 3-1 3 0.5 2 1 2 2.5 1 3 -0.5 2 -0.5 2 -2 2 -2 1.5z"/>
<path fill="#919191" d="M207 118l-3 0.5 -12-2.5 -10-1 -7-1 0-19 33 0 34 1 5.5 2 0.5 2 -1 1 -4 3 -22 8zM1094 199l-5 0.5 -16 0 -7-1.5 -6-0.5 -19-6 -2-1.5 -1-2 0.5-2 1.5-4 1-1.5 6-2 6-4.5 9.5-5 9.5-7 10.5-10 5.5-8.5 5-4.5 4-3 12-6 8-5 6.5-5 6.5-8 3-1.5 18-1 8 1.5 10 0.5 24-2 10 1 16-4 18-3 24-3 44-3 14 0 8-1 34 0 8-1 23 0 0 11 -13 1 -35 0 -15 1.5 -16 2 -13 2.5 -23 5.5 -24 9 -12 3 -22 2.5 -12 0.5 -29 4.5 -3 1 -7.5 4.5 -6.5 4.5 -9 7.5 -7.5 8 -7.5 10 -4 4 -6 8 -4 4 -2 1.5 -16 5.5zM256 270l-8-0.5 -8-1 -8-3 -6-3 -6-4 -5-5 -3.5-5.5 -2.5-6 -2-9 -0.5-12 0.5-9 2-11 2.5-5 4.5-6 6-6 6-3 6-1 8 0.5 6 1.5 3.5 2 1.5 2 1 4 -0.5 4 -2 10 1 12 1 3 3.5 6 2 3 5 4.5 6 4.5 8 4 17 6.5 2 1.5 2.5 3 0 3 -2 3 -3.5 2.5 -6 3 -12 3.5 -12 2.5zM717 318l-6 0.5 -3-1.5 -2.5-3 -0.5-3 2-4 3-2.5 5-2 5 0 3 1.5 2 2 1 2 -0.5 2 -1 3 -1.5 2zM1160 425l-3 1 -8-0.5 -12-1.5 -11-0.5 -19-1.5 -24-0.5 -6-1.5 -8-0.5 -12-2.5 -6-2.5 -2-2 -2-3.5 -1-4 0-5 2-8 4-9 4.5-5 -1.5-6 -6-5.5 -20-11 -11-7.5 -2.5-3 -1.5-3 0-3 1-2 5-5 5-2.5 4-0.5 10-0.5 16-4.5 4-0.5 4 0 4 2 4 3.5 11.5 15 7.5 11.5 5 5 6 2 14 0.5 22 4.5 7 0.5 2 1 1.5 1 1 2 7 24 8.5 21 0.5 2 -1 3 -1.5 2zM226 342l-2 0 -2-0.5 -1.5-2.5 0-2 1-2 2.5-2 2 0 2 1 1.5 3 -0.5 3 -1 1z"/>
<path fill="#949494" d="M207 117l-5 0.5 -10-2 -10-0.5 -7-1.5 0-18.5 49 0.5 18 1 4.5 1.5 0 2 -1.5 2 -3 1.5 -22 8zM1091 199l-19 0 -19-4 -13-4.5 -1.5-2.5 1-4 1.5-3 7-2.5 6-4.5 8-4.5 10-7 11.5-10.5 5-8 4.5-4 5.5-4 10.5-5 9-5.5 7-6.5 6-7 2-1 17-1.5 9 1.5 9 0.5 25-2 10 1 16-4 18-3 24-3 44-3 14 0 8-1 34 0 8-1 23 0 0 11 -13 1 -36 0 -30 3.5 -14 2.5 -22 5.5 -24.5 9 -11.5 3 -22 2.5 -12 0.5 -29 4.5 -3 1 -8 4.5 -6 4.5 -9 7.5 -8 8 -7.5 10 -4 4 -6 8 -5 5 -16.5 5.5zM265 268l-9 1 -8-0.5 -8-2 -7-2 -7-3.5 -6-4.5 -5-5 -3.5-5.5 -2.5-8 -1-9 0-13 2-12 2-6 4-6 6-6 5-3 5-1.5 8 0 7 1 4 2.5 1.5 3 0.5 3 -2 13 1.5 12 0.5 3 4 6.5 3 3.5 4 4 5.5 4 8.5 4.5 17 6.5 2.5 2 1 2 0 2 -1.5 3 -5.5 4 -11.5 4.5zM716 318l-5 0 -3-1 -2.5-3 0-2 0.5-2 2-4 4-2 5-1 4 0 2 1.5 2 2.5 0.5 2 -0.5 2 -2 4 -4 2zM1159 425l-10 0.5 -11-1.5 -11-0.5 -19-1.5 -25-0.5 -6-1.5 -8-0.5 -12-2.5 -6-3 -2-2 -2-3 -1-4 0-5 2.5-8 3.5-9 4-4 0.5-1 -1-6 -1.5-1.5 -5-4 -20-11.5 -11-7 -2.5-3 -1-3 0-3 1-2 5.5-5 6-2.5 13-0.5 11-2.5 4-0.5 8 0 4 2 5 4 10 13 7 12 2.5 3 2.5 2 7 1.5 14 0.5 14 2 8 2 7 0.5 2 1 1 0.5 1 2 7 24 8.5 21 0 2 -1 3 -1.5 2z"/>
<path fill="#969696" d="M206 116.5l-6 0 -8-1 -10-0.5 -7-1.5 0-18 49 0 18 1 3.5 1.5 0 2 -2 2 -1.5 1zM1094 198l-5 1 -16 0 -7-2 -7-1 -18-5 -1-1 -1-2 1-4 1-2.5 7-2.5 6.5-5 8.5-4.5 10-7.5 11-9.5 5.5-8.5 3.5-3 6-4.5 11-5.5 8-4.5 6-5.5 6.5-8 2.5-2 17-1.5 9 2 9 0 25-1.5 10 0.5 16-3.5 18-3.5 24-2.5 44-3 14-0.5 8-1 34 0 8-1 23 0 0 11 -13 1 -36 0 -30 3 -14 3 -22 5.5 -24.5 9 -9.5 2.5 -23 3 -13 0.5 -15 2.5 -8 0.5 -7 1.5 -10 5.5 -6 4 -10.5 9 -6.5 6.5 -8 10.5 -3 3 -7 9 -4 4 -1.5 1 -15.5 5zM265 267l-7 0.5 -10-0.5 -8-2 -7-2 -7-4 -6-4 -4.5-5 -3-5 -3-9 -0.5-8 0-12 2-11 2.5-7 3.5-5.5 5-5 6-3.5 6-1.5 6 0 6 1 4 2 2 2.5 0.5 3 -1.5 13 0.5 9 1.5 6 4 7 6.5 7 6 4 7.5 4.5 17 6.5 2 1 1.5 2 0 3 -0.5 2 -3 2.5 -3 2 -7 3 -6 1.5zM714 318l-4-0.5 -3.5-2.5 -1-3 1.5-4 2-2.5 5-2 5-0.5 3 1 2 2 1 2 -1 5 -1.5 2 -3.5 2zM1155 425l-6 0 -11-1.5 -11 0 -18-2 -26 0 -6-2 -8 0 -11-2.5 -7-3 -2-2 -1.5-3 -1-4 0-5 2-8 4-9 4-4 0.5-1 -1.5-6 -1.5-2 -5-4 -20-11 -10.5-7 -2.5-3 -1-3 0-3 1-2 5-5 6-2 12 0 14-2.5 10 0.5 5 2.5 4 3.5 9.5 12 6.5 12.5 3 3.5 2 1.5 8 1 14 0 6 1.5 8 1 8 1.5 7 0.5 2 0.5 1.5 2.5 7.5 25 7.5 20 0 3 -1.5 3 -3 1.5z"/>
<path fill="#989898" d="M207 115l-3 1 -6 0 -16-1.5 -7-1.5 0-17.5 49 0.5 6 0.5 11 0.5 3.5 1 0 2 -2.5 2.5zM1092 198l-19 0.5 -6-1.5 -8-1 -13-4.5 -5-1 -1.5-2.5 0.5-4 1-2 7-2.5 7-5.5 7-3.5 11-7.5 11.5-10 5.5-8 3-3 6-4.5 12-6 7.5-4.5 6.5-6 5-7 3-2.5 17-1.5 8 1.5 10 0.5 25-2 10 0.5 16-3.5 12-2 12-2 6-0.5 12-1.5 44-3 14-0.5 8-1 34 0 8-0.5 23-0.5 0 10.5 -13 1 -34 0.5 -26 2 -19 3.5 -23 6 -25 9 -9 2.5 -23 3 -13 0.5 -15 2.5 -8 0.5 -7 1.5 -10 5 -6.5 4.5 -10.5 9 -6 6 -8.5 11 -3 3 -6.5 9 -4.5 4 -18 6 -6.5 0.5zM265 266l-7 0.5 -10-1 -7-1.5 -7-2.5 -7-3.5 -6-4 -4-4 -3.5-5 -2.5-8 -1-7 0-13 1.5-9 2.5-8 3.5-6 4.5-4.5 6-4 6-1.5 6 0 6 0.5 4 2.5 1 2 1 3 -1.5 12 1 10 1.5 6 4.5 7 6 6 5.5 4 8 4.5 17 7 2.5 2.5 0.5 2 -1 3 -2 2 -4 2 -12 4.5zM718 317l-6 0.5 -2 0 -2-1.5 -1.5-2 -0.5-2 2-5 4-2.5 4-1 4 0 3 1.5 1.5 3 -0.5 4 -2 3zM1158 424l-9 1 -10-1.5 -12-0.5 -18-1.5 -26-0.5 -6-1.5 -8-0.5 -10.5-2 -3.5-1 -3.5-2 -2-2 -2-3 -1-4 0-5 2.5-8 3.5-9 4.5-4 0.5-2 -1.5-5 -2-2 -5-4 -19.5-11 -10.5-7 -3-3 -0.5-2 -0.5-3 0.5-2 5.5-5.5 6-2 13-0.5 11-1.5 12 1.5 3 1 3 2 10 11.5 3 4.5 3.5 9 2.5 3 3 3 5 1 19 0.5 6 1.5 8 0.5 8 2 7 0 1.5 0.5 1.5 1 0.5 2 2 8 4.5 16 7.5 19 0.5 3 -1 2 -1.5 2z"/>
<path fill="#9a9a9a" d="M203 115l-5 0.5 -16-1 -7-1.5 0-17.5 48 0.5 7 1 10 0.5 3 0.5 0.5 2 -3.5 2.5 -30 10.5zM1089 198l-16 0 -6-1.5 -6-0.5 -8-2.5 -6-2 -6-1.5 -1-2 0.5-4 1-2 5.5-1.5 2-1 7-5.5 6-3 11-7.5 12-10 6-8.5 4-4 6-3.5 18-10 7-6.5 5-7 2-2 2-0.5 10-0.5 5-1 8 1.5 10 0.5 19-1.5 6-0.5 10 0.5 16-3.5 24-4 6-0.5 12-1.5 22-1.5 8-1 28-1 8-1 34 0 8-0.5 23 0 0 10 -13 1 -34 0.5 -26 2 -20 3.5 -22 6 -25 9 -9 2.5 -23 2.5 -13 0.5 -30 4.5 -10 5.5 -6.5 4.5 -10.5 8.5 -7.5 7.5 -7.5 9.5 -3 3.5 -6.5 9 -4.5 4 -6 1.5 -12 4 -6 1zM265 265l-7 0.5 -10-1.5 -6-1 -8-3 -6-3 -6-4 -4.5-4 -3-5 -2-6 -1-6 -0.5-13 1-7 3-10 2.5-6 4.5-5 6-4 6-2 6 0 6 1 2 0.5 1.5 1.5 1 2 0.5 2 -1 12 1 10 2 6 4.5 7 5.5 6 6 4.5 7 4 18 7.5 2 2 0 3 -1 2 -3 2 -3.5 2 -10.5 3.5zM717 317l-4 0.5 -3-0.5 -3-3 -0.5-3 2-4 3.5-2.5 4-1 4 0.5 2 1 2 2 0.5 3 -2 4 -2.5 2zM1155 424l-6 0.5 -10-1 -12-0.5 -18-1.5 -26-0.5 -5-1.5 -8.5-0.5 -10-2 -4.5-1.5 -3-1.5 -2-2 -2-3 -1-4 -0.5-5 2.5-8 4-9 4.5-4 0-2 -1.5-5 -1.5-2 -5.5-4 -19.5-11 -10.5-7 -2.5-3 -1-2 0-3 0.5-2 5-5 6-2 13-0.5 11-1 12 2 3 1.5 3 1.5 10 11.5 2.5 4 3 9 2.5 3 3 3 5 1 19 0 7 1.5 8 0.5 8 2 8 0 2 2 1.5 8 5 17 7.5 19 0 3 -1.5 3 -1.5 1.5z"/>
<path fill="#9c9c9c" d="M198 115l-16-1 -7-1 0-17.5 31 0 16 1 8 1 11 0.5 1 0 0.5 1 0 1 -0.5 0.5 -8 3.5 -29 10zM1091 197l-18 0.5 -6-1.5 -8-1 -12-4 -5-1 -1-1 -0.5-1 0.5-4 1.5-2 3.5-0.5 3-1.5 6-5 8-4 4-3.5 6-3.5 12.5-10 6-8 4-4 6-4 10.5-5 8-5 7.5-8 4-6 2.5-2 16-1.5 9 1.5 9 0 19-1 6-1 10 0.5 16-3.5 24-4 6-0.5 12-1.5 22-1 8-1 28-1.5 8-0.5 34-0.5 8-0.5 23 0 0 10 -13 1 -34 0 -26 2.5 -20 3.5 -22 6 -25.5 9 -8.5 2.5 -22 2.5 -14 0.5 -30 4.5 -10 5.5 -7 4.5 -12 9.5 -6 6 -17.5 22.5 -3.5 3.5 -6 1.5 -12 4 -7 1zM263 264l-5 0 -10-1 -14-4.5 -6-3 -6-4 -4-4 -2-3.5 -2.5-6 -1-6 0-12 0.5-6 3-11 3-7 4-4.5 6-3.5 5-1.5 4-0.5 6 0.5 4.5 1.5 1.5 2 0.5 2 -1 13 1.5 11 1.5 4 4.5 7 6 6.5 6 4.5 7 4 17 7 2 2 0.5 2 -1.5 2.5 -8 4.5 -9.5 3zM716 317l-5 0 -3-2 -1-3 0.5-3 1-2 3.5-2 4-1 4 0 2 1 1.5 2 0.5 2 -0.5 2 -0.5 2 -2 2zM1151 424l-42-3 -26 0 -5-1.5 -8-0.5 -9.5-2 -5.5-1.5 -3-2 -2-1.5 -1.5-3 -1.5-5 0-4 2-7.5 4-9 4.5-4.5 0.5-2 -1.5-5 -1.5-2 -6-4.5 -19-10.5 -11-7.5 -2.5-2.5 -0.5-2 -0.5-3 1-2 4.5-4.5 6-2 24-1 12 2.5 3 1.5 3 2 9 9.5 2.5 5 2.5 8 2 3 5 4 5 0.5 18 0 7 1.5 9 1 8 2 8-0.5 2 2.5 1 7 2 5 3 12 7.5 20 -1 4 -2.5 2z"/>
<path fill="#9e9e9e" d="M200 114l-4 0.5 -14-0.5 -7-1.5 0-16.5 33 0 14 0.5 8 1.5 8 0 2 0.5 1 1.5 -4 2 -27 9.5zM1088 197l-15 0 -6-1.5 -8-1 -12-4.5 -5-1 -1-1 0.5-3 1.5-2.5 6-1.5 6-5 8.5-5 20.5-15 4.5-4 4.5-6.5 4-3.5 6-3.5 17.5-9.5 7.5-8.5 4.5-6.5 2.5-2 10-0.5 5-1 9 1.5 9 0 19-1 6-1 10 0.5 16-3.5 24-4 6-0.5 12-1.5 22-1 8-1 28-1 8-1 34 0 8.5-1 22.5 0 0 10 -13 1 -34 0 -26 2.5 -20 3.5 -22 6 -25.5 9 -8.5 2 -23 3 -13 0.5 -30 4.5 -10 5 -7.5 5 -13.5 11 -8 8.5 -14 18.5 -3 3 -6 1 -12 4.5 -8 1zM276 262l-17 1 -11-1.5 -5-1.5 -9-3 -6-3 -6-4.5 -3.5-3.5 -2.5-4.5 -2-7.5 -0.5-17 3.5-13 2.5-6 2.5-3.5 2-2 4-2.5 6-2 10 0 4 1 1 1.5 0.5 2.5 -0.5 11 0.5 8 1.5 6 6 9 6 6.5 6 5 8 4 14.5 6.5 3 2 -0.5 3 -2 2 -8 4zM718 316.5l-6 0.5 -2-1 -1.5-1 -1-3 0.5-3 1-2 3-2 4-1 4 0.5 2.5 1.5 1 3 -0.5 3 -1 2zM1155 423l-6 0.5 -21-1 -14-1 -31-1 -5-1 -7-0.5 -9.5-2 -4.5-1 -4-2 -2.5-2 -2-3 -1.5-8 2-8 4-9 1.5-2 3.5-3 0.5-2 -2-5 -1.5-2 -6-4.5 -18.5-10.5 -11.5-7.5 -2-2.5 -1-2 0-3 1-2 4-4 6-2.5 22-0.5 7 1.5 9 2.5 4 3 9 10 2 4 1 5 2.5 5 2 2 3.5 2.5 5 0.5 19 0.5 6 1.5 9 0.5 10 2.5 7-1 1.5 2 1 8 2 4 3 13 7 18 -0.5 3 -1 2z"/>
<path fill="#a1a1a1" d="M198 114l-16 0 -7-1.5 0-16.5 35 0 13 1 15.5 3 -4 2 -24.5 8.5zM1091 196l-4 0.5 -13 0 -7-2 -6.5-0.5 -13.5-5 -4-0.5 -0.5-0.5 -0.5-3 1-1.5 4-1 3-1.5 6-5 8-4.5 20.5-14.5 4.5-4 4-6 3-3 6-4 19-10 8-9 4-6.5 2-1.5 15-2 9 1 9 0.5 19-1.5 6-1 10 0.5 16-3.5 24-4 6 0 12-2 22-1 8-1 28-1 8-1 34 0 10-1 21 0 0 10 -13 1 -34 0 -26 2.5 -20 3.5 -22 5.5 -26 9.5 -8 2 -22 3 -14 0.5 -30.5 4.5 -9.5 5 -10.5 7 -10.5 8 -8.5 9 -8.5 11.5 -8 9.5 -6 1.5 -6 2.5 -6.5 2 -7.5 1zM276 261l-16 0.5 -12-2 -11.5-3.5 -4.5-2 -6-3.5 -6-4.5 -2.5-4 -2.5-8 0-16 5-17.5 2-4 2.5-2.5 7.5-4 4-1 10 0.5 2 1.5 0.5 3 -0.5 11 1 7 2 6.5 6 9 6 6.5 5 4 8 4.5 16 7.5 1.5 2 -1 2 -2.5 2 -6 3zM718 316l-6 0.5 -3-1.5 -1.5-3 1-3 1-2 3.5-2 3-0.5 4 0.5 2 1 1 3 -0.5 3 -1 2zM1152 423l-23-0.5 -8-1 -12-0.5 -26-0.5 -5-1.5 -7-0.5 -9-1.5 -5-1.5 -4-2 -2-1.5 -2-3 -1.5-6 0-3 2-7 4-9 1-2 3.5-3 0.5-2 -1-4 -2-3 -6.5-5 -19-10.5 -11-7.5 -2-2 -0.5-2 0-3 0.5-2 4-3.5 6-2.5 21-0.5 8 2 10 3.5 6 5 4.5 5 1.5 3 1.5 3 1.5 6 2 4 6 4 6 0.5 18 0.5 6 1.5 8 0.5 12 3 6-1 7 26 6.5 19 -1.5 4 -2 1.5z"/>
<path fill="#a3a3a3" d="M199 113l-3 1 -12-0.5 -9-1.5 0-16 34 0.5 15 1 4 2 3.5 0.5 -2 2 -7.5 3.5 -12 4.5zM1086 196l-12 0 -6-2 -7-1 -13.5-5 -2.5-2 7-4.5 6-5.5 27-18.5 5-4 5-6.5 6.5-5 20.5-11 7-8 4-7 2-2 1-0.5 14-2 9 1 8 0 20-1.5 6-1 10 1 16-4 24-4 6 0 12-2 22-1 8-1 28-1 8-1 34 0 10-1 21 0 0 9.5 -13 1.5 -34 0 -26 2.5 -20 3.5 -22 5.5 -26 9.5 -8 2 -14 2 -22 1.5 -31 4.5 -9 5 -11.5 7 -12 9 -7.5 8 -7.5 11 -7.5 8 -14 6 -6 1.5 -7 1 -5 1.5zM278 259l-4 1 -11 0 -13-2.5 -12-3.5 -4.5-2 -7.5-4 -4-3.5 -2-3 -3.5-8.5 0-12 0.5-3.5 2.5-6.5 2-7 2.5-5.5 2-2 10-5 8-0.5 2.5 1 0.5 3 0.5 12 0.5 6 2.5 6 6.5 9 10 10.5 19 9.5 3.5 2 1.5 2 -1 1.5 -4 2.5zM717 316l-3 0.5 -3-0.5 -1.5-1 -1-2 0-3 0.5-2 4-3 3-0.5 3.5 0.5 2 1 1 2 0 2 -0.5 3 -2.5 2zM1152 422l-3 0.5 -18 0 -16-1.5 -31-0.5 -6-1.5 -7-0.5 -9-2 -6-1.5 -3-1.5 -2-2 -2-2.5 -1-6 -0.5-3 2-7 4-9 1.5-2 3.5-3 0.5-2 -1.5-5 -2-2 -6.5-5 -19-10.5 -11-7.5 -1.5-2 -1-2 0-2 0.5-2 4-4 6-2.5 9-0.5 11 0 9 2 10 4.5 6 4.5 2.5 3 4 6 1.5 6.5 2 4.5 5.5 4 6.5 1 18 0.5 6 1.5 9 1 12 3.5 2 0.5 3-1.5 1 1 0.5 4.5 2.5 6 5.5 20 3 10 0.5 2 -1 3 -1 1z"/>
<path fill="#a5a5a5" d="M197 113l-13 0.5 -9-1.5 0-15.5 34 0 15 1.5 2 2 -0.5 2 -3.5 2 -12 5zM1089 195l-14 0.5 -14-3.5 -5.5-4 -1-2 0-2 4-6 4.5-4 8-6 13-8 7-6 4-4.5 7-6 15-8 6-3.5 6-7 5-8.5 3-2.5 13-2.5 10 1 7 0 20-1.5 6-0.5 10 0.5 16-4 24-4 7 0 11-2 22-1 8-1 28-1 8-1 34 0 10-1 21 0 0 9.5 -13 1 -34 0.5 -26 2 -20 4 -22 5.5 -26 9.5 -8 2 -15 2 -21 1 -31.5 5 -8.5 4.5 -12 7.5 -15.5 11 -5 5 -8 12 -8.5 8 -10 5 -8 2 -7 1zM277 257l-3 0.5 -8-0.5 -20-3.5 -11-4 -6-3 -4-3 -3.5-4.5 -2.5-5 -1-4 0-5 1-5 3-7 2-5.5 3-4 3-2.5 8-5 4-1 2 0.5 2 5.5 0.5 9 1 4 3.5 6 3 3.5 3 5 10 11 12 5.5 7 5 0 2 -2 2zM716 316l-3.5 0 -2.5-1 -1.5-3 0.5-3 1.5-2 2.5-1.5 3-0.5 3 0 2 1.5 1 1.5 0 4 -2.5 3zM1146 422l-15 0 -11-1 -35-0.5 -7-1.5 -7-0.5 -9-2 -6-2 -3-1.5 -2-1.5 -1.5-2.5 -1.5-6 0-3 2-7 4-9 5-5 0-2 -1.5-5 -1.5-2 -7-5 -17.5-10 -12-8 -2-2 -0.5-2 -0.5-2 1-2 1.5-2 3-2.5 3-1 4-1 8-0.5 10 0.5 9 2 10 4.5 6 5 5.5 8 3.5 10.5 2 2 3.5 2.5 6.5 1.5 18 0.5 6 1.5 8 1 10 3 7 3 2.5 2.5 3 5 2.5 9 5 21 0 3 -1 2 -3 1.5z"/>
<path fill="#a7a7a7" d="M194 113l-12 0 -7-1.5 0-15 33 0 13.5 1.5 2.5 2 -2 2.5 -7 4 -17 6zM1090 194l-5 1 -9-0.5 -13-3.5 -2.5-2 -1.5-3 -0.5-2 1.5-4 5-6.5 12-8.5 6-3 12-11 8-6 13-6.5 7-5 6-6.5 6.5-10 3.5-2.5 11-2.5 17 0.5 20-1 6-1 10 0.5 16-3.5 24-4 7-0.5 11-2 22-1 8-1 28-1 8-1 34 0 10-0.5 21-0.5 0 9.5 -13 1 -34 0 -26 2.5 -20 3.5 -22 6 -26 9.5 -8.5 2 -21.5 2.5 -14 0.5 -16 3 -8 0.5 -8 1.5 -20.5 12 -5.5 4 -8 4 -5.5 4 -3.5 4 -6 10 -6 7 -4 3 -8 4 -9 2 -6 1zM277 253l-4 0.5 -9-1.5 -12-0.5 -8-1 -9-3 -5-2.5 -3-2.5 -3-3.5 -3-5 -1-4 0-4 1.5-6 4.5-9.5 2-2.5 4-3 4-2 4-0.5 2 0 2 3 1.5 6.5 3 6 5.5 6 3 5 6.5 7 2.5 5 2 1 4 1 5 2 3 2 2 2 -0.5 2zM718 315.5l-5 0.5 -3-1.5 -1-1.5 0-2 0.5-2 1.5-2 2-1.5 3-0.5 3 0.5 2 1.5 1 2 -0.5 3 -1.5 2zM1148 421l-16 1 -11-1 -35-0.5 -24-4 -8.5-3.5 -2.5-2 -1-2 -1.5-6 0-3 1.5-7 4-8.5 1-1.5 4-4 0.5-2 -1.5-5 -1.5-2 -7.5-5.5 -17.5-9.5 -12-8 -1.5-2 -1-2 0-2 0.5-2 4.5-4 4-1.5 3-0.5 8-0.5 10 0.5 9 2 10 5 5.5 4 6 9 1.5 6 2 4.5 5 3.5 3 1 5 0.5 17 1 6 1.5 7 1 10 3 6 3 4 3 3 4.5 2.5 8.5 4 19 0 4 -1 2z"/>
<path fill="#a9a9a9" d="M197 112l-13 1 -9-1.5 0-15 33 0 10.5 1.5 3.5 2 -1.5 2 -5.5 3.5 -5 2zM1085 194l-10-0.5 -11-3.5 -2-3 -1-3 1-4 2-3 2.5-3 5-4 12.5-7.5 16-13.5 5-3.5 10-4.5 6-4 8-8 8-12 2-1.5 2-1 10-2.5 12 1 24-1.5 6-1 10 0.5 16-3.5 23-4 21-2.5 20-1 8-1 28-1 8-1 34 0 10-0.5 21 0 0 9 -13 1 -35 0 -8 1.5 -17 1 -20 3.5 -22 6 -26 9 -9 2.5 -21 2.5 -14 0.5 -32 5 -8 4 -8 5.5 -5.5 2.5 -4.5 3 -6.5 3 -8.5 5 -3.5 4 -7 12 -5 6 -4 3 -7.5 3.5 -14 2.5zM252 249l-10-1 -8-2.5 -6-4.5 -2.5-3 -2-4 -1-3 -0.5-4 0-3 1.5-4 4.5-7.5 3-3 3-1.5 4-1 2 0.5 2 1 5.5 9.5 6.5 7 2.5 4 3.5 3.5 3 4.5 1 6 -1 3 -4 2zM718 315l-5 0.5 -3-1.5 -0.5-2 0-2 2-3 1.5-1 3-0.5 3 0.5 1.5 1 1 2 -0.5 3 -1.5 2zM1145 421l-14 0.5 -10-1 -34-0.5 -24-3.5 -9-3.5 -2.5-2 -1.5-2 -1.5-9 2-7 2.5-6 2.5-4 4-4 0-2 -1-5 -2-2 -7.5-5.5 -17-9.5 -12-8 -2-2 -1-2 0-2 1-2 3-3 3-1.5 3-1 7-0.5 13 0.5 9 2 9 4.5 5.5 4 6.5 9 2 7 2 4 5 3.5 7 1.5 17 0.5 7 2 7 1 10 3 7 4 3 2.5 3 5 2.5 8 3 18 0 3 -1.5 2.5 -2.5 1.5z"/>
<path fill="#ababab" d="M195 112l-11 0.5 -9-1.5 0-14.5 33 0.5 7.5 1 4.5 2 -1.5 2 -5.5 3.5zM1086 193l-5 0.5 -5-0.5 -8.5-3 -2.5-1.5 -1.5-2.5 -0.5-4 1.5-3 2-3 6.5-5.5 10-6 16-13.5 6-3.5 10-4 4-2.5 4-3.5 6-7 7-10.5 2.5-3 2.5-1.5 8-2.5 20 0 25-2.5 9 0.5 6-1.5 5-0.5 5-1.5 24-4 7-0.5 11-1.5 22-1 8-1.5 28-0.5 8-1.5 34 0 10-0.5 21 0 0 8.5 -13 1.5 -35 0 -8 1 -17 1.5 -20 3.5 -22 6 -26 9 -9.5 2.5 -20.5 2.5 -14 0.5 -32 5 -26 14.5 -9 3.5 -7 4 -4 4 -5 10 -2.5 4 -4.5 5 -4 3 -6 3 -14 2zM254 246l-8 1 -8-1.5 -6.5-3.5 -4.5-5 -3-6 0-3 0-4 3.5-7 4.5-5 3-1.5 3 0 2 0 2 1.5 5.5 7 4.5 4 3.5 5 5 6 1.5 2 0.5 2 -1.5 4 -1 1.5 -2 1.5zM717 315l-5 0 -2-2 -0.5-2 0.5-2 3-2.5 2-1 3 0.5 2 1 1 1 0 2 0 2 -1.5 2zM1142 421l-11 0.5 -10-1 -34-0.5 -24-4 -9-3 -2-2 -1.5-2 -1.5-9 1.5-7 2.5-5 2.5-5 4-4 0.5-2 -1.5-5 -1.5-2 -8-6 -17-9 -12-8 -1.5-2 -1-2 0-2 0.5-2 3-2.5 4-2 10-1.5 12 0.5 9 2.5 9 4.5 5 3.5 6.5 9 2 7 2 4 5.5 4 8 1.5 15 0.5 14 3 10 3 7 4 4 3.5 2 3.5 3 8 2.5 18 -1 4 -1.5 1.5 -3 1.5z"/>
<path fill="#adadad" d="M192 112l-10 0 -7-1 0-14 33 0 6 1 4 2 -1 2 -2.5 2 -4.5 2.5 -14 5zM1086 192l-5 0.5 -5-0.5 -9-4 -1.5-2 -0.5-3 0.5-3 2-3 5.5-5 10-6.5 7-6.5 9-7 6-3 10-3 4-2.5 3-2.5 5-6 12-17 3-2 7-2.5 3-0.5 17 0 24-2.5 10 0.5 6-1.5 6-0.5 4-1.5 24-4 8-0.5 10-1.5 22-1 8-1 28-1 8-1 34-0.5 10-0.5 21 0 0 8.5 -13 1.5 -36 0 -7 1 -17 1.5 -20 3.5 -22 5.5 -26 9.5 -10 2.5 -20 2.5 -14 0.5 -32 4.5 -8 4.5 -8 5 -5 2 -5 3 -14.5 5 -3.5 2 -3.5 4 -6 13 -4.5 6 -4 3 -6 3 -14 2zM252 244l-8 1 -6-1.5 -6-3 -4-4.5 -2-6 0-5 2-5.5 4-5 3-1.5 3-0.5 2 0.5 2 1 5 6 5 4 3 4.5 5 5.5 1 3 -1 3 -3 2.5zM716 315l-4-0.5 -1.5-1.5 -0.5-2 1-3 2-1.5 2-0.5 3 0 1.5 1 1.5 3 -1 3 -2 1.5zM1139 421l-8 0.5 -10-1 -34-0.5 -24-4 -9-3.5 -2-1.5 -1.5-3 -1.5-7 0.5-2 1.5-6 4-8 5-6 0-2 -1-5 -1.5-2 -8.5-6 -16.5-9 -12-8 -2-2 -1-2 0-2 1-2 2.5-2 4-2 10-1.5 12 0.5 8 2 9 4 6 4.5 6 8.5 4 11 1 1 4.5 3 2.5 1 6 0.5 15 1 14 3 10 3.5 7 4 3 2.5 2 2.5 3 7.5 2 9.5 1 10 -1.5 4 -2.5 2 -3 1z"/>
<path fill="#b0b0b0" d="M187 112l-5 0 -7-1.5 0-13.5 33 0.5 4.5 0.5 3.5 2 -0.5 2 -1 1 -4.5 3 -14 5zM1085 191l-8 0 -3.5-1 -4.5-2.5 -1.5-1.5 -0.5-3 0.5-3 1.5-2.5 4-4 10-6.5 7-7 9-6.5 6-3 11-2.5 4-2 3-3 16-23.5 3-2.5 7-3 5-1 15 0 24-2.5 10 0.5 6-1.5 6-0.5 4-1.5 24-4 12-1 7-1 21-1 8-1 28-1 8-1 65-1 0 8.5 -13 1 -36 0.5 -7 1 -17 1 -20 4 -22 5.5 -26 9.5 -10 2.5 -20 2 -14 1 -32 4.5 -8 4 -8 5.5 -10 4.5 -16.5 4.5 -3.5 1.5 -3 4 -3.5 10.5 -2 4 -4.5 5.5 -4.5 3.5 -5.5 2.5 -14 1.5zM244 243l-6-1 -4-2 -4-4 -2-4 -0.5-5 1-5 3.5-4.5 4-2.5 4 0 2 1 5 5 5 3.5 2.5 4.5 3.5 3 1.5 3 0 2 -0.5 1 -3 2.5 -6 2zM718 314l-3 1 -3-1 -1-1 -0.5-2 1-3 1.5-1 2-0.5 4 0.5 1.5 2 0 2 -1 2zM1136 421l-7 0 -8-1 -34-0.5 -24-3.5 -9-4 -2-1.5 -1.5-2.5 -1-7 0.5-2 1-5.5 4-8.5 5-6 0.5-3 -1.5-4.5 -1.5-1.5 -8-6 -16.5-9 -12-8 -2-2 -1-2 0-2 1-2 3-2.5 3-1.5 10-1.5 12 1 8 2 10 5 5 3.5 6 9 2 6.5 1.5 3.5 1.5 1.5 4 2.5 2 1 7 1 14 0.5 15 3.5 10 3.5 7 4 4.5 4.5 3 8 2 9 0.5 10 -1.5 4 -2.5 2 -4 1z"/>
<path fill="#b2b2b2" d="M1081 190l-6-1 -4.5-3 -1-2 -0.5-2 2-4 4-4 8-5 8.5-9 7.5-5.5 8-3 12-1 3-1 5.5-11.5 11.5-17 3-3 8-4 5-0.5 14 0 24-2.5 10 0 6-1.5 6-0.5 4-1.5 24-4 12-1 8-1 20-1 8-1 28-1 8-1 65-1 0 8.5 -5 0 -8 1 -36 0.5 -7 1 -17 1 -20 4 -23 6 -25 9 -10 2.5 -20 2 -14 0.5 -32 5 -8 4 -8 5 -11 4.5 -9 2.5 -10 1 -3 1 -1.5 2.5 -2 10 -2.5 6 -4 6 -5 4 -6 2.5 -13 1.5zM192 111l-8 0.5 -9-1 0-13.5 33 0.5 3.5 0.5 3.5 2 -0.5 2 -2 2 -2.5 1.5 -14 5zM244 241l-4-0.5 -4-1.5 -4-3.5 -2-3.5 -0.5-4 0.5-4 2.5-4 3.5-2.5 4 0 2 1 10 7.5 1.5 3 4.5 5 0 2.5 -2 1.5 -6 2zM717 314.5l-3 0 -2.5-1.5 -0.5-3 1-2 1-1 4-0.5 2.5 1.5 0.5 2 -0.5 2 -0.5 1zM1140 420l-8 1 -11-1 -34-0.5 -24-4 -9-3.5 -2-2 -1-2 -1-9 1-5 2-4.5 3-5.5 4.5-5 0-3 -1.5-5 -10-7.5 -16-8.5 -9.5-6 -4.5-4 -1-3 0.5-2 1.5-2 4-2.5 11-2 12 1 8 2.5 10 4.5 4.5 3.5 6 9 3.5 10 2 2 4 2.5 2 1 8 1 12 0.5 15 3 11 4.5 6 3.5 3 2 2 2.5 3 7.5 2.5 17 -1 4 -1 2 -3 2z"/>
<path fill="#b4b4b4" d="M1141 152l-7 0.5 -5-1.5 -1-1 -1-2 0-2 0.5-4 4-8 9-13 3.5-3.5 7.5-3.5 17.5-0.5 24-2.5 10 0.5 6-2 6-0.5 4-1.5 24-4 12-1 8-1 20-1 8-1 28-1 8-1 65-1 0 8.5 -5 0 -8 1 -36 0.5 -8 1 -16 1 -20 3.5 -24 6.5 -24 9 -10 2 -20 2.5 -14 0.5 -32 4.5 -9 5 -7 4.5 -12 4zM189 111l-5 0 -9-1 0-12.5 33 0 2.5 0.5 3.5 2 -0.5 2 -3.5 3 -14 5zM1087 187l-7 1 -5-1.5 -2.5-2.5 0-2 0.5-2 2-2.5 8-6.5 8-9 8-6 6-2.5 5-0.5 6 1 3.5 2 1.5 4 -0.5 8 -1.5 6 -4 6 -5.5 4 -4.5 1.5 -6 1zM246 238l-6 0 -4-2 -2-2 -2-4 0-3 1.5-4 2.5-2.5 3-0.5 3 1 8 5 5 7 0.5 1 -1.5 1.5zM716 314l-3 0 -1.5-2 0-3 2.5-2 3 0 2 1 0.5 1 0 2 -0.5 1.5zM1138 420l-7 0.5 -9-0.5 -35-0.5 -24-4 -8.5-3.5 -2-2 -1-2 -1-9 0.5-4 2-4.5 3.5-6.5 4-5 0.5-3 -1.5-5 -10.5-7.5 -16-9 -9-5.5 -5-4.5 -1-2.5 0.5-2 2.5-2.5 4-2 10-1.5 12 1 8 2 10 5 4 3 6 9 4 10 2 2.5 4 2.5 2 0.5 8 1 11 0.5 15 3.5 12 4.5 6 3.5 4.5 4.5 3.5 7.5 2 16.5 -1 4 -1.5 2 -3.5 2z"/>
<path fill="#b6b6b6" d="M1142 151l-6 0.5 -3-1 -2-1 -1.5-1.5 -0.5-2 0-2 0.5-4 4.5-8 8.5-12 5.5-4 5-2 16-0.5 24-2.5 10 0.5 6-1.5 6-1 4-1.5 24-4 12-0.5 8-1.5 20-1 8-1 28-1 8-1 65-0.5 0 7.5 -5 0.5 -8 1 -36 0 -8 1.5 -16 1 -8 1.5 -12 2 -22 6 -26 9 -8 2 -22 3 -14 0.5 -32 4.5 -9 4.5 -7 4.5 -12 4zM192 110l-6 1 -11-1.5 0-12 33 0.5 2 0.5 3 1.5 0 2 -3 2.5 -14 5zM1101 185l-9-0.5 -8-1.5 -2-1 -0.5-1 0.5-3 3-6 4-6 3.5-4 4.5-3.5 4-2.5 4-1 5 0 4.5 1 2.5 2 1 2 1 3 0 5 -1.5 6 -2.5 4 -4.5 4 -4 2zM718 313l-3 1 -2.5-1 -1-2 0.5-2 1-1 2-1 3 1 1.5 2 -0.5 2zM1136 420l-5 0.5 -9-1 -35-0.5 -24-3.5 -8-3.5 -2-1.5 -1.5-2.5 -1-9 1-4 1.5-4 3-6 5-6 0-3 -1.5-5 -9.5-7.5 -17-9 -9-5.5 -5-5 -0.5-2 0.5-2 2-2 4-2 11-2 11 1 8 2.5 9 4.5 5 3.5 6 9 3.5 9.5 2.5 2.5 3.5 2.5 2.5 1 8 1 11 0.5 15 3.5 12 4.5 6 4 4 4 3.5 7.5 1 6 0.5 10 -1 4 -1.5 2 -4 2z"/>
<path fill="#b8b8b8" d="M1144 150l-7 0.5 -4-1.5 -1.5-2 -1-2 0.5-5 4-8 9-12 5-4 5-2 9 0 30-3 10 0.5 6-1.5 6-1 4-1 24-4.5 13-0.5 7-1.5 20-0.5 8-1.5 28-0.5 8-1.5 65-0.5 0 7.5 -6 0.5 -7 1 -36 0 -8 1.5 -16 1 -8 1 -12 2.5 -22 6 -26 9 -8 2 -15 2 -21 1.5 -17 2.5 -15 2 -9 4.5 -7 4.5zM190 110l-6 0.5 -9-1 0-12 33 0.5 4 2 0 2 -2.5 2 -13.5 4.5zM1104 183l-7 0.5 -6-1.5 -3-3 -1-2.5 0-2.5 1.5-4 2.5-4 6-5.5 6-3 4-0.5 3 0 3 1.5 2 1.5 1 1.5 1 4.5 0 4 -1.5 4 -2.5 4 -4 3zM717 313l-3 0.5 -1.5-1.5 -0.5-2 1-1.5 3-1 1.5 0.5 1 1 0.5 2zM1134 420l-47-1 -24-4 -8-3.5 -2.5-2.5 -1-2 -0.5-6 0-4 1.5-4 3.5-7 5-7 0.5-3 -1.5-5 -1-1 -9-6.5 -17-9.5 -9-5.5 -4.5-4.5 -1-2 1-2 2-2 3.5-2 11-1.5 11 1 8 2.5 8.5 4 5.5 4.5 5.5 8.5 3.5 9 2 2.5 4 2.5 3 1 8 1.5 11.5 0.5 14.5 3.5 12 5 6 3.5 4 4.5 3 6.5 1 6 0.5 10 -1 4 -2 2 -5 2z"/>
<path fill="#bababa" d="M1145 149l-6 0.5 -3-0.5 -2-1 -1.5-2 -0.5-2 0-4 4-8 9-12 5-4 5-1.5 8 0 30-3.5 10 0.5 6-1.5 6-1 4-1 24-4 13-1 7-1.5 20-0.5 8-1.5 28-0.5 8-1.5 65-0.5 0 7.5 -7 0 -6 1 -36 0.5 -8 1 -16 1 -8 1.5 -12 2.5 -22 5.5 -23 8.5 -11 3 -15 2 -21 1.5 -18 2.5 -14 2 -9 4 -8 5zM186 110l-11-1 0-11.5 31 0.5 3 1 2.5 1 -0.5 2 -3 2 -12 4zM1103 181l-6 0 -4-2 -2-3.5 0-4.5 3-5 4.5-4 4.5-2 3-0.5 3 0.5 3 2 1.5 2 1 4 -1 4 -2 4 -2 2 -3 2zM716 313l-2 0 -1.5-2 0.5-2 2-1 2 0.5 1.5 1.5 -0.5 2zM1137 419l-6 1 -43-1 -25-4 -8-3.5 -2.5-2.5 -0.5-2 -0.5-6 0-4 1-4 4-7 4.5-7 0.5-3 -1-5 -1.5-1.5 -9-6.5 -17-9 -9-5.5 -3.5-3.5 -1.5-2 0-2 0.5-1 2.5-2 3-1.5 12-2 10 1.5 8 2 9.5 5 4.5 4 5 8 2.5 7 1.5 2.5 2.5 2.5 3.5 2.5 3 1 8 1 10 0.5 16 4 11.5 5 6.5 4 4 4.5 2.5 5.5 1 5 0.5 10 -0.5 3 -2 3 -2.5 1.5z"/>
<path fill="#bdbdbd" d="M189 109l-5 0.5 -9-0.5 0-11 31 0.5 4.5 1.5 -0.5 2 -2 1.5 -12 4zM1147 148l-8 1 -3-1 -2-2 -1-2 0.5-4 4-8 8.5-12 5-4 4-1.5 8 0 30-3 11 0 5-1.5 6-0.5 4-1.5 20-3 4-1 13-1 7-1.5 20-0.5 8-1.5 28-0.5 8-1.5 65-0.5 0 7.5 -7 0 -6 1 -36 0.5 -8 1 -16 1 -8 1.5 -12 2.5 -22 5.5 -23.5 8.5 -10.5 3 -15 2 -21 1 -18 3 -14 1.5 -9 4.5 -8 5zM717 312l-2 0.5 -1.5-0.5 -0.5-1 1-2 2-0.5 1 0.5 1 2zM1136 419l-5 0.5 -43-0.5 -25-4.5 -8-3.5 -2-2 -1-2 -0.5-6 0-4 1.5-4 3.5-7 5-7 0.5-4 -1.5-4 -1.5-2 -9-6 -17-9 -9-6 -3.5-3 -1-2 0-2 0.5-1 2-2 3-1.5 12-1.5 10 1 8 2.5 8.5 4.5 5 4 5 8 2.5 7 2 3 2 2 4 2.5 3 1 8 1.5 10 0.5 14.5 3.5 11.5 5 6.5 4 4.5 4 3 6 1 4 0.5 10 -0.5 3 -1.5 3 -2.5 2z"/>
<path fill="#bfbfbf" d="M1149 147l-8 1 -4-1 -1.5-1 -1-2 0-4 4-8 9-12 3.5-3 4-2 8 0 14-2 10-0.5 6-1 11 0 5-1.5 6-0.5 4-1.5 8-1 4-1 8-1 4-1 13-1 7-1.5 20-0.5 8-1.5 28-0.5 8-1.5 65-0.5 0 7 -7 0.5 -6 1 -36 0.5 -8 1 -14 1 -10 1.5 -12 2 -22 6 -23.5 8.5 -10.5 3 -16 2 -20 1 -18 3 -14 1.5 -9 4 -7 4.5 -2 1zM185 109l-10-0.5 0-10.5 30.5 1 4 1 -0.5 2 -1 0.5 -12 4.5zM715 312l-1.5-1 0.5-1 1-1 1 0 1 1 0 1 -1 1zM1134 419l-46-0.5 -25-4 -7.5-3.5 -2-2 -1-2 -0.5-6 0-4 1-3 3.5-7 5-8 0.5-4 -1-4 -2-2 -8.5-6 -17-9 -9.5-6 -3-3 -1-2 0-2 0.5-1 4.5-3 12-2 10 1.5 8 2.5 8 4 4.5 4 5.5 8 2.5 7 2 3 2.5 2.5 4 2.5 11 2.5 9.5 0.5 16 4 11 5 6 4 5 5 2.5 5.5 0.5 6.5 0 7 -0.5 3 -2 2.5 -3 1.5z"/>
<path fill="#c1c1c1" d="M1153 146l-10 0.5 -4 0 -2-1.5 -1-3 1-4 2-4 4-5 5.5-9 2.5-2.5 4-2 6 0 16-2.5 10-0.5 6-1 11 0 5.5-1.5 5.5-0.5 4.5-1.5 7.5-1 4-1 8-1 4-1 14-1 6-1 20-1 8-1 28-1 8-1 65-1 0 7 -7 0.5 -6 1 -36 0 -8 1.5 -14 0.5 -11 2 -11 2 -22 6 -24 8.5 -10 2.5 -16 2.5 -19 1 -19 3 -14 1.5 -9 4 -7 4.5zM188 108l-4 0.5 -9 0 0-10 13 0 20 1.5 -0.5 2 -11.5 4zM1132 419l-44-0.5 -25-4 -7-3.5 -2.5-2 -1-2 -0.5-5 0-5 1-3 5-9 4-6 0.5-4 -1-4 -2.5-2.5 -7-5 -18-9.5 -10-6 -3-3 -1-2 0-2 0.5-1 2.5-2 2.5-1 11.5-1.5 10 1.5 8 2.5 7 3.5 5 4.5 5.5 7.5 3.5 9 3 3 4 2.5 3 1.5 7 1.5 12 1.5 12.5 3 5.5 2 8 3.5 6 4 4.5 4.5 3 6 0.5 5 0 7.5 -1 3.5 -1.5 2 -6 3z"/>
<path fill="#c3c3c3" d="M1157 145.5l-8 0 -7-0.5 -3-1 -0.5-2 1.5-6 4.5-6 5-10 2-2 3.5-2 8-0.5 14-2.5 11-0.5 5-1 11 0 27-5.5 8-1 4.5-1 13.5-1 6-1 21-1 7-1 28-1 8-1 65-0.5 0 6.5 -7 0.5 -6 1 -36 0 -8 1.5 -16 1 -20 3.5 -22 6 -24 8.5 -10 2.5 -16 2.5 -19 0.5 -19 3.5 -14 1 -3 1zM185 108l-10 0 0-9.5 13 0 17.5 1.5 -1.5 2 -10 4zM1135 418l-6 1 -40-0.5 -25-4 -7.5-3.5 -2.5-2 -1-2 -0.5-5 0-5 5.5-12 4-6 0.5-3 0-5 -2.5-2.5 -8-5 -18-10 -9.5-5.5 -3.5-4 -0.5-2 0.5-2 3-2 2-1 11-1.5 10 1.5 8 2.5 6 3.5 6 5.5 4.5 6.5 4 9 3 3 3.5 2.5 5 2 12 3 5.5 0.5 3.5 1.5 5 0.5 8 2 9 4 4 2.5 4.5 3.5 3.5 4.5 2 5 0.5 4.5 0 6 -2 4 -2.5 2.5z"/>
<path fill="#c5c5c5" d="M1156 145l-5 0 -5.5-1 -2.5-2 0-2 0.5-4 7.5-16 2-2 4-2 6-0.5 14-2.5 10-0.5 6-1 12 0 6-1.5 4-0.5 5.5-1.5 6.5-0.5 5-1.5 7-0.5 5-1.5 13-1 6-1 21-1 7-1 28-0.5 8-1.5 65-0.5 0 6.5 -7 0 -6 1 -36 0.5 -8 1 -16 1 -20 4 -22 5.5 -24.5 9 -9.5 2.5 -16 2 -19 1 -19 3 -14 1.5 -11 5 -5 3.5zM187 107l-4 1 -8-0.5 0-9 14 0.5 11 1 0.5 1 0 1 -7.5 3.5zM1134 418l-7 0.5 -38-0.5 -25-4 -7-3 -2.5-2 -1.5-2 -0.5-4 0-6 6-12 4-6 0.5-3 0-5 -3-2.5 -8-5.5 -18-9.5 -9-5.5 -4-4 -0.5-2 0.5-1.5 4-2.5 12-2 10 1.5 7.5 2.5 5.5 3 6.5 6 3.5 5 4 9 4 4 4 3 4 1.5 13 3.5 22 5 8 3.5 4 2 3 2.5 4.5 5 2.5 5 1 5 -0.5 5 -2 5 -3 3z"/>
<path fill="#c7c7c7" d="M1158 144.5l-3 0 -5-0.5 -3-2 -1-3 0.5-3 5-14 2-3 3.5-2 20-3.5 10-0.5 7-1.5 11 0 27.5-5.5 6.5-0.5 6-1.5 12-0.5 6-1.5 21-0.5 7-1.5 28-0.5 8-1.5 65-0.5 0 6 -5 0.5 -8 1 -36 0.5 -8 1 -16 1 -20 3.5 -22 6 -25 9 -9 2.5 -16 2 -20 1 -18 3 -14 1.5 -11 4.5zM185 107l-10 0.5 0-8.5 13 0 7.5 1 1 1 0 1 -3.5 2.5zM1132 418l-43 0 -25-4 -7-3.5 -2-1.5 -2-3 0-9 5.5-12 4-6 1.5-8 -0.5-1 -7.5-5 -31-17 -3-3 -1-2 0-2 2-2 2-1 12-1.5 10 1.5 7 2 5 3 7 6.5 2.5 3.5 5 10 4.5 4.5 3.5 2.5 4.5 2 21.5 6 5.5 0.5 9 3 7 2.5 3.5 2 3.5 3 4 5 2.5 5 1 5 -1 5 -2.5 5 -4.5 3z"/>
<path fill="#c9c9c9" d="M1157 144l-3 0 -2.5-1 -1.5-1 -1-2 -0.5-4 3-10 2-5 3-3 9.5-2.5 11-2 11-0.5 5-1 12-0.5 28-5.5 6-0.5 6-1.5 12-0.5 6-1.5 21-0.5 7.5-1.5 28.5-0.5 7.5-1.5 64.5-0.5 0 6 -6 0 -7 1.5 -36 0 -8 1.5 -16 1 -20 3.5 -23 6 -24 9 -9 2.5 -16 2 -20 1 -18 3 -14 1 -3 1 -9.5 4.5zM183 107l-8 0 0-8 15 0.5 3 0.5 1.5 2 -3.5 2.5zM1130 418l-41-0.5 -25-4 -7.5-3.5 -2-2 -1-2 -0.5-9 6-12 3.5-6 2.5-9 -1-1 -3-1 -5-3.5 -11-5.5 -20-11 -3-4 -0.5-3 2.5-2 2-1 11-1 10 1 7.5 3 5 3 6.5 6.5 2.5 3.5 3.5 9 8.5 7 3.5 1.5 15 4.5 10 3 4 0.5 8 2 7 2.5 4 2.5 4 3.5 4 5 2 5 0.5 5 -0.5 4 -3 5 -4 3z"/>
<path fill="#cccccc" d="M1158 143l-2 0.5 -3-1 -1.5-1.5 -0.5-2 0-7 1.5-6 1.5-4 1.5-2 3-2 6-2 12.5-2.5 11-0.5 6-1 11 0 28-6 6-0.5 6-1.5 12-0.5 6-1.5 22-0.5 8-1.5 27-0.5 9-1.5 63-0.5 0 6 -7 0 -6 1.5 -36 0 -8 1.5 -16 0.5 -20 4 -18 5 -5 1 -24.5 9 -8.5 2 -16 2.5 -20 1 -18 3 -14 1 -13 5zM185 106.5l-10 0.5 0-7.5 14 0 2.5 0.5 1.5 2 -2 2zM1125 418l-36-0.5 -25-4 -7-3.5 -2.5-2 -1-2 -0.5-4 0.5-5 5.5-12 4-6 1-5 1.5-3 0-2 -0.5-1 -4-1 -7-4 -8-3.5 -19-10.5 -2.5-2 -2-2 -0.5-2 0-2 2-2 2-0.5 11-1 10 1 6.5 2.5 5 3 6 6 3 4 4 10 8.5 6 4 2 23 7 6 0.5 8 2.5 8 3 4 3 5 5 2.5 5 1.5 4 -0.5 5 -2.5 6 -3 3 -4 1.5z"/>
<path fill="#cecece" d="M1159 142l-2 0.5 -2.5-0.5 -1.5-2 -0.5-2 0.5-8 2.5-8 1.5-2 3-2 5.5-2 11.5-2.5 11-0.5 6-1 11 0 16-3.5 19-3 5-1 12-1 7-1.5 21-0.5 8-1.5 27-0.5 9-1.5 63 0 0 5 -7 0.5 -6 1 -36 0.5 -8 1.5 -16 0.5 -4 1 -16 3 -18 5 -5 1 -24.5 9 -8.5 2 -10 1 -6 1.5 -20 0.5 -18 3 -14 1.5 -14 5zM184 106l-9 0.5 0-7 13 0 2 0.5 2 2 -2 2zM1132 417l-9 1 -34-0.5 -24-4 -2-0.5 -5.5-3 -2.5-2 -1-2 -0.5-4 0-5 6-12 3.5-6 1.5-5 2-4 0-2 -1.5-1 -4-0.5 -15.5-7.5 -18-10 -3-2 -1.5-2 -1-2 0.5-2 2.5-2 2-0.5 10-1 10 1.5 6 2.5 5.5 3.5 7 7 2.5 4 2 7.5 1 1.5 9 5.5 19 6.5 22 5.5 8 3 3 2 3.5 3.5 3 4 2 5 1 4 -1 5 -2 4 -3.5 3z"/>
<path fill="#d0d0d0" d="M1158 141l-1 0.5 -1.5-1.5 -1.5-6 1.5-8 2-5 2-2 4.5-2 13-3 11-0.5 7-1.5 10 0 40-7.5 12-1 7-1 21-1 8-1.5 28-0.5 8-1.5 63 0 0 5 -7 0.5 -6 1 -36 0.5 -8 1.5 -16 0.5 -4 1 -16 3 -18 5 -5 1 -25 9 -8 2 -10 1 -6 1 -20 1 -18 3 -14 1zM182 106l-7 0 0-6.5 13 0.5 2 1 1 1 -3 2.5zM1065 366l-4 0 -14-6.5 -19-10.5 -3-2 -2-2 -0.5-2 0.5-2 2-1.5 2-0.5 11-1 9 1.5 8 3.5 8 7 2.5 3 1.5 3 1.5 4 0 4 -0.5 1.5zM1131 417l-9 0.5 -33-0.5 -25-4 -7.5-4 -2-2 -0.5-2 0-8 6-12 3.5-6 1.5-5 4-7 2 0 2 0.5 9 4.5 16 5 23 6 7 2.5 4 2.5 3.5 4 3 4 2 5 0 4 -0.5 4 -2 4 -3 2.5z"/>
<path fill="#d2d2d2" d="M1159 139l-2-1 -1.5-5 0.5-6 2-5 1.5-2 4.5-2.5 3.5-1.5 9.5-2 12-0.5 6-1.5 9 0 41-7.5 12-0.5 7-1.5 21-1 8-1 28-0.5 8-1.5 63-0.5 0 5 -7 0 -6 1.5 -36 0 -8 1.5 -16 1 -4 1 -16 2.5 -19 5.5 -4 0.5 -25.5 9.5 -8 2 -9.5 1 -6 1 -20 1 -18 3 -14 1 -9 3zM184 105l-9 0.5 0-5.5 11 0 2 0.5 2.5 1.5 -2.5 2zM1065 365l-4 0 -14-6 -18.5-10 -3.5-2 -1.5-2 -0.5-2 0.5-2 1.5-1 2-1 11-0.5 9 1.5 7 3 3 2 5 5 4 5 1.5 4 0 3 -1 2zM1129 417l-14 0.5 -25-0.5 -15-2 -10.5-2 -6-3 -3.5-3 -1-4 0-6 6-12 3-5 3-6.5 4-5 1-0.5 3 0.5 8 4 16 5 23 6 7 2.5 4 3 4 4 2 4 1.5 4 0.5 4 -0.5 4 -2 4 -4 3z"/>
<path fill="#d4d4d4" d="M1168 137l-6 1 -3-1 -1-1 -0.5-2 -0.5-4 1-6 2.5-4 3-2 5-2 8.5-2 12-0.5 6-1.5 9 0.5 41-8 12-0.5 8-1.5 20-0.5 8-1.5 28-0.5 8-1.5 63-0.5 0 4.5 -7 0.5 -6 1.5 -36 0 -8 1.5 -16 0.5 -4.5 1.5 -6.5 1 -19 4 -9.5 3 -4.5 1 -25 9 -8.5 2 -8.5 0.5 -6.5 1.5 -19.5 0.5 -19 3.5 -14 1zM182 105l-7 0.5 0-5 11 0 2 0.5 1.5 1 -3 2zM1065 364l-2 0.5 -2 0 -9-3.5 -5-2 -18-10 -3.5-2 -1.5-2 -0.5-2 0.5-2 3-1.5 11-0.5 8 1.5 7 2.5 8 6.5 4 5 1.5 3.5 0.5 3 -1 2zM1127 417l-12 0.5 -25-1 -25-3.5 -6-3 -4-3.5 -1-3.5 0.5-6 6-12 3-5 2.5-6 3-3.5 2-1 4 0 6 3 16 5 24 6 7 3 4.5 3.5 3.5 4 2.5 5 1 4 -0.5 4 -1 4 -3 3.5 -3 1.5z"/>
<path fill="#d6d6d6" d="M1166 137l-3 0 -2-0.5 -2-2.5 -0.5-6 1.5-6 1.5-2 3.5-2.5 4.5-1.5 8.5-2 11-0.5 6-1 10 0 10-2 4-1 7-1 5-1.5 8-0.5 6-1.5 12-1 8-1.5 20-0.5 8-1.5 26-0.5 10-1.5 63 0 0 4 -7 0.5 -6 1.5 -36 0 -8 1.5 -16 0.5 -5 1.5 -6 0.5 -19 4.5 -10 3 -4 0.5 -25.5 9.5 -8.5 2 -8 0.5 -10 1.5 -16 0.5 -20 3.5 -13 1zM185 104l-5 1 -5 0 0-4 11 0 2.5 1zM1065 363l-2 1 -2 0 -14-5.5 -21-11.5 -2-2 0-3 1-1.5 2-0.5 10-0.5 8 1 7 2.5 7 5.5 5 5.5 2 5 0 2zM1125 417l-36-1 -10.5-1 -13.5-2.5 -7-3.5 -3-3 -0.5-3 0-6 12-23 2.5-2.5 2-1 4 0 6 2 26 8 6 1 8 2.5 7 3 4 3 3.5 4 2.5 6 1 4 -1 5 -1 3 -3.5 3 -2.5 1z"/>
<path fill="#d9d9d9" d="M1169 136l-4 0.5 -2-0.5 -2.5-2 -1-4 1-7 2-3 2.5-2 5.5-2 7.5-2 11 0 6-1.5 10 0 10-1.5 4-1.5 8-1 4-1 8-1 6-1.5 12-1 8-1.5 19-0.5 9-1.5 26 0 11-2 62 0 0 4 -7 0 -6 1.5 -36 0.5 -9.5 1.5 -14.5 0.5 -6 1.5 -6 0.5 -18 4 -14 4 -26 9.5 -8 1.5 -20.5 2.5 -13.5 0.5 -20 3.5 -14 1zM182 104l-7 0.5 0-3 9 0 3.5 0.5zM1063 363l-2 0.5 -8-2.5 -6-2.5 -12-6.5 -10-6 -1-2 0.5-2 0.5-1 2-0.5 6-1 4.5 0.5 7.5 1 7 3 9 7 3 4 1.5 3 0 2 -0.5 2zM1129 416l-7 1 -15-1 -16 0 -12-1.5 -14-2 -6-3 -3-3 -1-1.5 -0.5-2 0.5-6 12-23 4-3 4 0 32 10 6 1 7 2 7 3 4 2.5 3 3.5 2.5 4 1.5 4 0 4 -1 5 -1.5 3 -2.5 2z"/>
<path fill="#dbdbdb" d="M1170 135l-5 1 -3.5-2 -1-4 1-7 2-3 2.5-2 5-2 7-1.5 11-0.5 6-1.5 9 0 10-1 5-2 8-0.5 5-1.5 7-0.5 6.5-2 11.5-0.5 8-1.5 20-1 8-1 26-0.5 12-2 61 0 0 3.5 -7 0.5 -6 1.5 -36 0 -9 2 -15 0.5 -30 6 -14 4 -21 7.5 -11 3 -25 3 -12 0.5 -19 3 -13 1zM181 103l-6 0.5 0-1.5 9.5 0zM1063 362.5l-2 0 -7-1.5 -11-5 -16-9 -2.5-2 0-2 0.5-1 2-1 5-1 7 0.5 6 1 7 3 8 6.5 3 3.5 2 4.5 -0.5 2zM1126 416l-11 0.5 -8-1 -18 0 -24-3.5 -6-3 -2.5-2 -1.5-3 0-5.5 6-13 6-11 4-2.5 2-0.5 3 0.5 11 3 20 6.5 6 1 8 2.5 6 2.5 4 3 3.5 4.5 2.5 5 0.5 3 -0.5 5 -1 3 -3 3.5 -2 1z"/>
<path fill="#dddddd" d="M1169 135l-4 0 -2-1 -1-2 -0.5-5 1.5-5 1-2 2.5-2 12.5-3.5 9-0.5 7-1 9 0 11-1.5 4-1.5 8-1 4-1.5 8-0.5 7.5-2 10.5-0.5 8-1.5 20-0.5 9-1.5 26-0.5 11-1.5 61 0 0 3 -7 0 -6 2 -36 0 -9 1.5 -15 0.5 -31 6.5 -14 4 -20.5 7.5 -10.5 3 -26 3 -11 0 -19 3.5 -14 1zM1061 362l-8-1.5 -18.5-9.5 -8.5-5 -1-1 0-2.5 2-1 6-1 10 1 8.5 3.5 8.5 7 3 3.5 1 2.5 0 2 -1 1.5zM1124 416l-35-1 -10-1 -14-2.5 -5-2.5 -3-2 -1.5-3 0-5 1.5-4.5 9-17.5 3-3.5 2-1 3 0 11.5 2.5 21.5 7 6 1 7 2 7 3 4 3 3 4 2.5 6 0.5 4 -0.5 4 -1.5 3 -2.5 2 -2 1z"/>
<path fill="#dfdfdf" d="M1174 134l-7 0.5 -2-0.5 -1-1 -1-1 -0.5-2 0.5-6 2-4 2.5-2 11.5-3.5 10 0 6.5-1.5 9.5 0 4-1 6-0.5 4-1.5 9-0.5 3-1.5 8-0.5 4-1.5 5-1 10-0.5 7-1.5 20-0.5 9-1.5 27-0.5 10-1.5 44 0 17 0.5 0 2 -7 0.5 -6 1.5 -34 0.5 -6 0.5 -5 1 -15 0.5 -31 6.5 -14 4 -21.5 7.5 -9.5 2.5 -26 3 -10 0.5 -21 3.5zM1062 361l-2 0.5 -5-1 -8.5-3.5 -18.5-10 -2.5-2 0-2 1.5-1 6-1 10 1.5 6.5 2.5 3.5 2 8 7 2 3 0.5 2 -0.5 1.5zM1128 415l-5 0.5 -8 0 -8-0.5 -16-0.5 -12-1 -14-2.5 -4-2 -4-3 -1-3 0-4 1-3.5 4-8 6-11 1.5-1.5 2.5-1.5 2 0 10.5 1.5 23.5 7.5 4.5 0.5 6.5 2 9 4 3 2 3 3.5 2 4.5 1 4 0 4 -1 3.5 -2 2.5z"/>
<path fill="#e1e1e1" d="M1170 134l-3-0.5 -2.5-1.5 -0.5-4 0.5-6 1.5-2 2.5-2 10.5-3 11-0.5 7-1.5 6 0.5 13-1.5 5-1.5 8-1 2-1.5 8 0 2-0.5 2-1.5 7-1 9-0.5 2-0.5 6-1 19 0 3-1 7.5-1 24.5 0 4-1 6-0.5 30 0 14-0.5 17 0.5 0 1.5 -7 0.5 -6 2 -36 0 -6 1 -2 0.5 -16 0.5 -5 1.5 -6 0.5 -5 1.5 -4 0.5 -5 1.5 -4 0.5 -14 4 -24 8.5 -9 2.5 -26 3 -11 0 -21 3.5zM1061 360.5l-6-0.5 -7.5-3 -19-10 -2-2 -0.5-1 0.5-1 6.5-1.5 10 1.5 4.5 2 3.5 2 9 7 2 4 0 1.5zM1125 415l-10 0 -7-1 -18 0 -11-1 -6-1.5 -6-0.5 -8-4 -2-2 -0.5-4 0.5-4 10-19 2-2.5 2-1 4 0 12 2 20 7 5 0.5 9 3 6 3 3.5 3 2.5 3.5 2 5.5 0 4 -0.5 3 -1 2 -2 2z"/>
</g>
<g fill="#fff" stroke="none"><path d="M170.0,50.0 L463.5,50.0 L463.3,54.2 L451.2,63.3 L439.0,70.6 L427.0,77.3 L408.8,80.9 L354.0,80.9 L330.0,81.5 L250.0,81.0 L215.0,83.0 L176.0,85.5 L170.0,86.0 Z"/><path d="M170.0,128.9 L179.1,128.9 L188.2,131.2 L195.8,135.8 L200.3,142.6 L202.6,155.5 L201.1,166.1 L198.0,172.9 L192.7,178.2 L185.2,182.0 L175.8,183.8 L170.0,183.8 Z"/><path d="M1109.0,50.0 L1109.0,53.6 L1123.6,69.4 L1131.0,80.0 L1139.4,90.0 L1151.5,96.0 L1166.7,100.6 L1185.0,101.6 L1200.0,101.8 L1230.3,95.8 L1260.6,91.2 L1290.9,88.9 L1321.2,87.0 L1351.5,85.9 L1391.7,84.8 L1400.0,84.5 L1400.0,50.0 Z"/><path d="M1188.6,156.7 L1192.4,150.6 L1200.0,147.0 L1213.0,145.0 L1230.0,144.2 L1256.0,142.7 L1268.0,138.2 L1291.0,129.0 L1313.6,121.5 L1328.8,119.2 L1344.0,120.0 L1366.7,123.0 L1391.7,128.3 L1400.0,130.0 L1400.0,184.0 L1391.7,184.1 L1374.2,186.4 L1363.6,185.6 L1351.5,179.5 L1336.4,171.2 L1321.2,165.2 L1309.0,163.3 L1278.8,163.3 L1253.0,165.9 L1230.0,169.7 L1215.0,170.5 L1203.0,168.5 L1192.4,162.7 Z"/></g>
<path d="M176.5 90l8-1 28 0 11-1 85 0 13-1 33 0 25 1.5 25 1 16-1.5 8 0 11.5-3.5 24.5-10 18-5.5 16-4 6-1.5 9-2.5 16-3.5 3-0.5 4 0.5 7 1.5 4 0.5 5-0.5 8-1.5 6 0 27 6 17 4.5 16 4 6 1 4 1 6 1 5 1 6 1 5 1.5 10 0.5 8 1.5 9 0 6-1.5 7-0.5 5-1.5 14-2.5 5-1.5 6-0.5 5-1.5 17.5-0.5 7.5-1.5 6-0.5 22 0.5 6 1.5 9 0.5 5 1.5 7 0 8 0 7-1.5 22-0.5 8-1.5 32 0 11 1.5 28 0 11 2 30 0 3 0 7 1.5 31 0 10 2 36 0.5 8 1.5 16 0.5 5 2 7 1 9.5 5 2.5 2 4 6 2.5 2 7.5 3 18 1 16 3 6 1.5 10 1.5 24-0.5 8 1 10-1.5 14-3.5 6-0.5 6-1.5 9-0.5 7-1.5 14-0.5 6-1.5 22-0.5 8-1.5 56-0.5 9-1.5 23 0M522.5 425.5l4-0.5 7-2 5-2 4-3.5 1.5-2 0.5-5 -0.5-4 -1.5-4 -8-14 -4-4.5 -6-3 -10-2 -14-1 -7-1.5 -5.5-2 -3-2 -4.5-4.5 -0.5-4.5 0.5-2.5 2-1.5 8-3 5-0.5 5-1.5 16-0.5 4 0.5 9 1.5 4 1.5 19 4 8 0 5 1.5 3 0 7-1.5 10-1.5 7-2.5 8-5 2-2 2-3.5 0.5-1.5 -0.5-3.5 -2-3 -5.5-5.5 -11.5-7.5 -11-8.5 -6.5-6 -6-5 -3.5-4.5 -0.5-2.5 0.5-1.5 2-2.5 4.5-3 17.5-10 10-8 2-2.5 1.5-2.5 1.5-11 1-2 1-1 3-1.5 3-0.5 27-1 8-2.5 4.5-1.5 7-4 4.5-4 1.5-3 -1-6 0.5-3 1.5-2 3.5-1 6 0.5 7.5 2.5 8.5 2 9 1 6 1 11 0.5 7 1.5 10 0.5 5 1.5 6 0.5 6 1.5 7 0.5 5 1.5 6 1 9 2 8 2.5 11.5 4.5 7.5 4 12 7 7-1 6 0 5 1 5 2.5 3.5 3.5 1.5 4 0.5 4 -0.5 10 0.5 5 2 4 7.5 12 2 7 0.5 6 -1.5 5 -3 5.5 -4.5 3.5 1.5 4 2 4 8 12 4 4.5 12 12.5 2.5 7 3.5 6 4 4 5.5 3 10.5 3.5 8 1 5 1.5 11 0.5 8 2 8 0 25 0 4-0.5 7-1.5 10 0.5 10-3 5-2 9-6 4-3 2-3 0.5-2 0-5 -3-4 -7-6 -19-12 -4.5-6 -6.5-5 -5.5-6 -5-7.5 -1-2.5 -0.5-3 0.5-3 3-3 3-2 11-5 6.5-4 5-4 3.5-5 2-6 0-7 -1-2.5 -4-3.5 -2-5 -0.5-5 1-3 1.5-3 4-4.5 6-5 3-4.5 1.5-4 0-4 -0.5-2 -4-6 -2-2.5 -5-3.5 -14-5.5 -7-2 -6-1.5 -6-3 -6-4 -1-10 1-4 3-6 1-2 6-6 2.5-2 5.5-3 16-6 10.5-5 2.5-1.5 7.5-2.5 5.5-3.5 2-2.5 2-4 0-2 -1-2 -3.5-4 -3-2 -10.5-4 -8-3 -7-0.5 -6-1.5 -15-0.5 -7-2 -34-0.5 -8-1.5 -19-1 -18-4 -25-7 -6-1 -5-1.5 -7-0.5 -5-1.5 -11-0.5 -8-1.5 -33-0.5 -10-1.5 -41 0 -6 1.5 -9 1 -14 4 -5 2 -12 6 -6 4 -11 12 -18 21.5 -9 9 -15 13 -9 11 -5.5 5 -6.5 3.5 -8 2 -6 0.5 -15 0 -9-0.5 -8-2 -3-1.5 -5-3.5 -0.5-4.5 0.5-4 5.5-8 8.5-15.5 1.5-3.5 0-4 -1.5-4.5 -1.5-2.5 -6.5-6 -8-4.5 -9-3 -7-1 -6-1.5 -18 0 -14 0.5 -5 1.5 -7 1 -6 1.5 -24 0 -4 0 -6-1.5 -14-0.5 -6-1.5 -8 0 -9 1.5 -10 0.5 -6 1.5 -13 0 -6 1.5 -12 0.5 -6 1.5 -7 0.5 -5 1.5 -10 0 -6-0.5 -8 1 -5.5 1.5 -2.5 0 -4-0.5 -4-2 -1.5-1.5 -3.5-6 -2-2 -3-0.5 -2 0 -3 0.5 -3 1.5 -1 2.5 0 5 2 5 2.5 12 3 10 1 6 -1 6 -1.5 3 -2 3 -7 6.5 -2 3.5 0 3 1.5 3 0.5 4 -1 2 -5 4 0.5 2 1.5 2.5 6.5 3.5 7.5 3 5 0.5 5 2 34 1 3 1 3 2.5 2 3 2 5 1 10 1 3 2 3.5 8 9 17.5 15.5 2.5 3 1.5 3 2.5 8 0.5 6 2 6 4.5 11 1 3 -0.5 7 -2.5 9 -0.5 7 0.5 10 1 4 2 3 11 11 16 7 11 7 3 5 1.5 11 2.5 7 2 3 4.5 4 4.5 2 8 2.5 12 0.5 6 1.5 20 0.5 17 4 21 0zM1391.5 113l-60 0 -6 1.5 -10 0.5 -28 7 -33 11 -14 4 -12.5 0.5 -6.5 1.5 -17 0.5 -3 0.5 -4 2 -5.5 1.5 -6.5 2.5 -7.5 4.5 -6.5 7 -6 8 -1 3 -0.5 3 1.5 9 6 7.5 2 1.5 12 5 8 2.5 14 3 14 1.5 8 2 8-0.5 10-2 11-5 12.5-7.5 14.5-7 8-2 4-0.5 18 0 6 0.5 6 2 18 11 4 1.5 9 2.5 7 0 8-1.5 8 0 10-1.5M176.5 189.5l16-4 4-2.5 4-3 4-4.5 3-5 1-4 1-8 -0.5-8 -2.5-8 -4-7.5 -2-2.5 -4.5-4 -5.5-4 -4-1 -10-1.5M407.5 184l-6 0.5 -6.5-1 -1.5-1 0-1 0.5-3 2.5-2.5 8-3 8 0 4 1 1 2.5 -1 2.5 -4 3 -5 2zM1246.5 355.5l7-2.5 13-7 10-3 9-2 6-0.5 6-1.5 14-0.5 6-1.5 12-0.5 12-2.5 6-2 10-5.5 4-4 1.5-4 0-11 -0.5-3 -1-2 -4-4.5 -3-2.5 -15-9 -2-2 -3.5-4 -4-6 -6.5-13 -8.5-25 -2.5-4.5 -4-5 -2-2 -6-3.5 -11-4.5 -14-4 -8-2 -2 0 -8 2 -3.5 2.5 -4.5 13 -4 6 -3.5 3 -2.5 3 -1.5 4 0.5 4 1 3.5 2.5 4.5 5.5 7.5 15 12.5 13.5 9 4.5 3.5 7 4.5 2 2 0 2 -12 9.5 -6 3 -6 2.5 -4 1 -11 3.5 -13 3.5 -8 3 -4 2 -7.5 4 -2.5 2 -2 2.5 -1 3.5 0 4.5 1 3.5 4 4.5 7.5 5.5 3.5 0.5 7 0.5 7-0.5 4-0.5zM1391.5 490.5l-14-1 -6-1.5 -8-0.5 -6-1.5 -8-0.5 -20-4.5 -20-5 -15-2.5 -5-1.5 -6-0.5 -5-1.5 -9-0.5 -6-1.5 -17-0.5 -11 0.5 -10 2.5 -6 1.5 -18 7.5 -13 7 -12 4.5 -7 0.5 -18-0.5 -6-1.5 -6-0.5 -9-2.5 -9-3 -22-10 -6-2 -8-5.5 -8-2 -7-1 -5-1.5 -14 0 -8-2 -26 0 -10-1.5 -47-0.5 -10-1.5 -11 0 -18 0.5 -8 2 -12 5 -23 12 -4 3 -1.5 1 -1.5 2 0.5 2 7 3 8.5 1 5 1.5 10 0.5 6 2 10 0.5 7 3 5 0.5 -5 0.5 -3 1.5 -3 0.5 -15 0.5 -5 1.5 -4 0.5 -24 0 -3 0 -6-1.5 -21 0 -6-1.5 -12-0.5 -6-1.5 -8-0.5 -6-2 -8-4 -8.5-7.5 -3.5-1 -3 0.5 -8 3.5 -4 1 -51 0.5 -7 1.5 -14 0.5 -6 1.5 -9 1 -5 1 -9 1 -5 1 -9 0.5 -5 1.5 -10 0.5 -6 1.5 -11 0.5 -7 1.5 -13 0 -7 2 -14 0.5 -6 1 -16 1 -7 1.5 -16 0.5 -7 1.5 -18 0.5 -6 1 -4 0.5 -66 0 -4 0.5 -5 1 -5 0 -77 0 -3 0 -6-1.5 -22-0.5 -6-1.5 -14-0.5 -6-1.5 -10 0 -8-1.5 -10-1 -6-1 -10-0.5 -6-1.5 -8-0.5 -6-1.5 -8-0.5 -6-1.5 -8-0.5 -6-1.5 -8-0.5 -5-1.5 -5 0M176.5 91.5l48-1 84-0.5 12-1 32 0 10 1 10 0.5 6 1 14 0 10 1 6 0 12-0.5 13-1.5 9-2 24-7.5 24-0.5 4 0.5 8 2 4 2 23.5 17.5 2 2 1 2 -1 2 -7.5 2.5 -8 1.5 -13 4 -5 0.5 -5 1.5 -5 0 -15 2.5 -39 0 -8-1.5 -21-0.5 -7-2 -16 0 -8-1.5 -41-0.5 -9-1.5 -10 0 -4 0.5 -5 3.5 -3 1 -16 2.5 -6 1.5 -5 2 -4 3 -4 5 -2 7 -0.5 5 2.5 10 7 18 0.5 4 0 4 -1 3 -5 8 -4.5 9 -3.5 11 0 3 0.5 2 3 5.5 4 3.5 10 4.5 25 9 10 5.5 3.5 4 2.5 6 1 4 0 3 -1 5 -3 5 -4.5 11 -0.5 5 0 6 1 3 10 10 5 6 2.5 6 0 4 -1.5 3.5 -8 10 -6 11 -2.5 10.5 0.5 2 2.5 5 0.5 3 -0.5 35 -1 7 -1.5 3 -2 1.5 -6 3 -14 4.5 -20 5.5 -12 4 -3.5 2.5 -2.5 2.5 -0.5 1.5 -0.5 6 1 3.5 2 3 4 3.5 0.5 1 0 3 -2.5 2.5 -12 1 -6 2 -6 0 -22 0 -8-1.5 -26 0M1391.5 462l-6-1 -20 0 -6-1.5 -12 0 -7-1.5 -9-1 -14-3.5 -6-0.5 -10-2.5 -8-2.5 -9-2.5 -7-0.5 -6-1.5 -20 0.5 -8 1.5 -18 0 -7 1.5 -5 0 -32 0.5 -20-4 -15-4.5 -19-6.5 -16-4 -53-0.5 -7-0.5 -8-1.5 -9-0.5 -3 0.5 -2 0.5 -8 6 -8 4.5 -8 3 -15 3.5 -9 1 -7-0.5 -13 0 -5 0 -5 1 -4 0.5 -60 0.5 -6 1.5 -11 0.5 -6 1.5 -7 0.5 -6 1.5 -7 0.5 -5 1.5 -13 2.5 -11 3.5 -8 1.5 -3 0 -7-1.5 -12 0.5 -23 4 -4 1.5 -19 3.5 -9 1 -6 1.5 -17 0.5 -8 1.5 -30 0.5 -9 1.5 -23 0 -7-1.5 -8-0.5 -6-2.5 -4-2 -3-2.5 -4-5 -2.5-6 0-4 2.5-5 6-7.5 6.5-4.5 18.5-10.5 10-4 10-3 8 0 10 3 14 5.5 17.5 9 11.5 4 9 2 17 0.5 5-0.5 7-2.5 8.5-3.5 10.5-6.5 6-4.5 3-4 3-4.5 3-2.5 6-3 10-2.5 4 0.5 14 3 6 0.5 5 1.5 8 0.5 6 1.5 4 0 14 0 7-2 10 0 6-1.5 10-0.5 5-1.5 3 0 75 0 8 0 9 1.5 21 0.5 4 0 2-1 5-6 6-10 5-10 1.5-4.5 1-4 -0.5-2 -2-2 -3.5-2 -16.5-8.5 -14-10 -3-2.5 -2.5-3 -1-4 0-2 2-5 3-4 12.5-9 8-7 4-5 2.5-6 1-6 1-4 1-13 3.5-6 3.5-9 3-6 8-13 12.5-13 8-6.5 1.5-2.5 0.5-2 -2-2 -6-2 -6-1 -4-1.5 -5-1 -13-4 -10-4 -12-6.5 -4-4 -1-4 0.5-6 -1.5-6 0.5-2 1-2 2.5-3 4-2 2.5 0 4.5 1.5 3-0.5 15.5-8 6.5-4 4-3 6.5-7 4.5-10 2-3 2-2 6-4 10-5 16-10 8.5-6 3.5-3 4-2 5-1 18 0 8 0.5 8 2 10 1.5 24-1 5 0.5M1243.5 101l6-0.5 7-1M1294.5 97l5-0.5 6-1 14 0M1366.5 94l5-0.5 20 0M1329.5 112l-4 1 -9 0.5M1313.5 114l-4 1.5 -6 0.5 -8 2 -12 3.5 -5 1 -17.5 6 -6.5 2.5 -15 4 -12 1 -8 1.5 -18 0.5 -6 2.5 -6.5 1 -6.5 2 -5 3 -8 7 -9 10 -11 18 -3 6.5 -7 7.5 -11 8.5 -13 6.5 -2.5 2 -1.5 1.5 0 2.5 2 2 2 1 18 7.5 6 3 22 7 11 4.5 9 4 12 6 10 6 16 10.5 8 9.5 9 9 9 7 2 3 0.5 1 -0.5 1.5 -8 4.5 -11 3.5 -11 5 -23 7.5 -39 14 -4 2 -4 4 -0.5 2 0 2 0.5 1 2 3 5.5 4 9.5 4.5 3 2 5 5.5 2.5 4 1 4 0 4 -0.5 3 -1.5 3 -1.5 1.5 -3 1 -0.5 1.5 0.5 2.5 3.5 5.5 4.5 5 4 3.5 9 5.5 11 3 12 0.5 6 1.5 4 0 6-1.5 6-0.5 11.5-3 4.5-3.5 1.5-2.5 2-5 1-9 3.5-8 5.5-6 6.5-4 3-2.5 7-8 8-5.5 10-5 7.5-2 7.5-0.5 15-3.5 8-1 10-2.5 13-5.5 10-8 6.5-7 2.5-4 1.5-4 0.5-6 -0.5-10 -4-15 -2-6 -5.5-11 -6-9.5 -5.5-4.5 -15.5-19 -16.5-14 -16.5-9 -6-4.5 -4-4.5 -0.5-2 -0.5-2 1-2 1-1 5-2.5 4-1 8 0 4 0.5 2.5 1 18.5 11.5 3 1 10 0 6-0.5 8-1.5 12-1 4-1 6-0.5M609.5 141.5l-3 0.5 -4 0 -6-2 -8-4 -4-2.5 -19-15 -0.5-2 0.5-1.5 1-1 4-0.5 31-1 3 0.5 4 1.5 12 1 8.5 3 1.5 2 0.5 2 -0.5 2 -2 4 -2.5 4 -2 2 -5.5 4 -3 1.5 -6 1.5zM176.5 192.5l17-5 3.5-2 5-4 4.5-5 3-4.5 2-5.5 0.5-6 -1.5-10 -1.5-6 -2-5 -4.5-8 -7-6 -4.5-3 -4.5-1 -10-1.5M687.5 342.5l-5 0 -6-2 -4-2 -21-18 -8-8 -1-2 0-1 1-2 2.5-2 4.5-3 6-2 9-3 4-0.5 5-1.5 5-1 5-1.5 6-0.5 6-2 10-0.5 7-1.5 12 0 7 1.5 9 1 6 2.5 3 2 2 2 1 2 0 2 -0.5 4 -2 4 -9 15 -3.5 4 -4 3.5 -6 3 -14 4 -10 2 -12 0.5 -5 1zM638.5 390.5l-16 0 -8-3 -2-1.5 -0.5-1.5 0.5-1 3-3 18-9 7-2.5 4-1 10 0 4 0.5 2 1 1 3 -0.5 3 -0.5 1.5 -4 5.5 -3.5 3 -7 4 -3.5 1 -4 0zM176.5 93l110-0.5 16 1 12-0.5 10-1.5 24 0 5 0 7 1.5 10 0.5 7 2 13 0 8 2 8 0 18-1 6-1.5 7-0.5 12-3 7-1 4-1.5 7 0 3 0.5 6 2 7.5 3 9.5 6 2.5 2 0.5 2 -1.5 2 -2 2 -3 2 -1.5 0.5 -12 3 -16 0.5 -6 1.5 -10-1.5 -18-0.5 -5-1.5 -9-0.5 -7-2 -11-0.5 -8-1.5 -23 0.5 -41-0.5 -6 0 -8 1.5 -8-3 -5-0.5 -3 0.5 -13.5 5 -8.5 4 -7.5 5 -1.5 2 -0.5 2 0 6 -1 4 0 18 3 11 3.5 6.5 2.5 6.5 0.5 2 -0.5 2 -3 7 -3 6 -3 5 -3 13 0 3 0.5 3 3 5.5 8 7 14 6.5 8 3 12 5 5 3 4.5 4 1.5 4 1 3 -0.5 4 -1 3 -4.5 6 -9 11 -2.5 5 -1.5 4 0 2 1.5 5 9.5 18.5 1 4.5 -1 4.5 -11 22.5 -2.5 7 -1.5 9 0.5 12 -1.5 6 -1 10 -3 7 -2 2.5 -6 4 -12 4.5 -6 1 -4 1 -6 1 -6 1.5 -8 0.5 -6 1.5 -17 0.5 -7 1 -4-1 -10-0.5 -13-3 -3-0.5M1391.5 109.5l-12 0.5 -34 0 -7 0.5M1256.5 129l-8 2.5 -8 2 -10 1M1224.5 135l-5 1 -15 0.5M1200.5 137l-5 2 -10 1 -4 1 -5 2.5 -9 7.5 -10 10 -7.5 9.5 -9.5 14 -4 4.5 -9 7 -8 4.5 -6 2.5 -6 2 -8 2 -5 0.5 -23-0.5 -7.5-1.5 -7.5-0.5 -4.5-1.5 -5.5-1 -11-4 -7-4 -3-4 -0.5-2 0.5-2 2-2 3.5-6 4.5-0.5 4-3 9-5 11.5-7.5 6.5-6 5-6 4.5-10 1.5-2 7-5 11-6 13-7.5 12-9.5 3-2 3-1 4-0.5 17-0.5 4 0.5 8 1.5 10 1.5 22-1.5M176.5 195.5l18-5.5 9-6.5 4-4 4.5-6 2-5 1-6 -0.5-4 -3-13 -6.5-15 -8-7 -4.5-3 -4-1 -12-1.5M1391.5 215l-6-1.5 -1 3 -1 2 -2 1.5 -4 0.5 -4-2 -4-4.5 -8-2 -1-2.5 0-1 1-2 6-2 6-0.5 4-1.5 6-1 2-1 6-1M176.5 234.5l1-6 -1-5M1189.5 436.5l-4 0 -5-1 -7-0.5 -10-1.5 -6-1.5 -6-0.5 -7-1.5 -7-0.5 -6-1.5 -13-1 -5-1 -6-0.5 -25 0 -7-1.5 -14-0.5 -11-3 -4-2 -3-3 -2.5-7 0.5-7 1.5-6 3-8 2-6 2.5-2.5 1-1.5 -1.5-4 -1-2 -2.5-2 -11-5.5 -20-12.5 -3-2.5 -4-4.5 -1-2 0-2 1-3 3-4 18.5-13 7.5-8 1-2 2.5-6 0.5-6 1.5-5 0.5-9 0.5-3 1.5-2 3-1 2-2 5.5-11 5.5-8 6-7 4-2.5 4-2 8-1 5-1.5 5 0 6 0.5 8 4 8 6.5 6 6.5 7 9.5 5 9.5 3 3.5 8 11 1.5 3 0.5 3 0 5 -1 3.5 -2.5 3.5 -3.5 3.5 -10 5.5 -5 4 -1 1.5 -1.5 3.5 0 3 0.5 3 1 2.5 2 2.5 9.5 7 6.5 4 5 2 7 2.5 6 2 6.5 4.5 0.5 2 -3 1 -1 1 -1 2.5 -0.5 3.5 2 9 3.5 9 5.5 10 5.5 7.5 7 5.5 8 5 5 4 2 4 0.5 2 -0.5 2 -1.5 2 -3 2 -5.5 1zM176.5 315l4-5.5 2.5-9 0.5-4 0-4 -1-3 -4-9 -2-3M713.5 325.5l-10-0.5 -3.5-1.5 -2.5-2.5 -2-3.5 -0.5-3 0.5-4 2-4 5.5-5 7.5-4 2-0.5 14 0 3 1 3 1.5 2.5 3 1.5 4 -0.5 4 -2 5 -5 5 -7 4 -3.5 1 -5 0zM1391.5 384.5l-2 0 -5-2 -22.5-12 -1.5-2 -3-6.5 -2-2 -4-2.5 1-2 4-4 8-5 8-5.5 15-13 4-2M817.5 445.5l-5 1 -9-0.5 -7.5-2.5 -3.5-2 -1-1 0-1 1-2 2.5-2 4.5-2 25-7 9.5-2 6.5-0.5 5-1.5 9-0.5 7-2 10-0.5 7-1.5 9-1 6-1.5 9 0 7-2 52 0 10 1.5 10-0.5 14 1 9 2 4 2 2.5 2 1 2 0.5 2 -0.5 2 -2 3 -5 4 -9.5 3.5 -11 2 -3 0 -3-2 -3-0.5 -6 1.5 -3 0 -56 0.5 -9 1.5 -36 0 -7 1.5 -21 0 -6 1.5 -10 0.5 -4 1zM662.5 468.5l-9 1 -15-0.5 -4-0.5 -5-1.5 -5-1 -4-2.5 -2-2 -1-2 0.5-4 0.5-2 1.5-2 2.5-2 3-1.5 8-2.5 6-1 5-1.5 10-0.5 8-1.5 12 0 5 1.5 8 1 5 1.5 6 0.5 5 1.5 7 1 4 1.5 4 0.5 14-0.5 17 0.5 21 0 3-0.5 10-4 1 0 0.5 1 0 1 -2 2 -3.5 2 -6 0.5 -2 1.5 -7 1 -5 1.5 -7 0.5 -5 2 -7 0.5 -5 2 -7 0.5 -6 1 -7 0.5 -6 1.5 -13 1 -6 1.5 -23 0.5 -5 1zM176.5 94.5l66 0.5 35.5 1.5 0 1 -1.5 1 -10 3.5 -5 1 -17 6.5 -20 8.5 -7 4.5 -2 2 -2 3 -1 0.5 -4-1.5 -4-2 -7-5 -3-1 -4-1 -10-1 -4-1M1391.5 107.5l-12 1 -32 0 -7 0.5M1200.5 136l-6 1.5 -9 0.5 -5.5 1.5 -4.5 2 -6.5 4 -13 11 -10 11 -6.5 9 -4 4 -6 8 -8 5.5 -14 6 -13 2.5 -23 0 -6-1.5 -7-1 -8-2 -9-3 -4.5-2.5 -3.5-4 1-2 3-3 3-4.5 5-2 15-9 10-7.5 8.5-10 3.5-8 3-3.5 6.5-4.5 12.5-6.5 7.5-4.5 8.5-6.5 5-4.5 3.5-2 4.5-1.5 16-0.5 4 0.5 6 1.5 9 0.5 22-1M446.5 107.5l-6-0.5 -10-2.5 1-2 1-0.5 11-0.5 15 3 -2.5 2 -1.5 0.5 -8 0.5zM260.5 281l-5 0 -19 0 -8-2.5 -4-1.5 -11-6.5 -6.5-6 -3.5-6 -2.5-7 -2.5-12 0-14 -1.5-8 0-7 -0.5-5 -0.5-3 -1.5-3 0-2 1.5-3 2.5-2 11-8 4.5-5 3.5-5.5 1.5-4.5 0.5-3 0.5-12 -0.5-1.5 -1-1 -0.5-1.5 0.5-4 2.5 5 3.5 4 5 7.5 3 2.5 5 3 19 6.5 2 1 2.5 2.5 1 3 -0.5 4 -5 12 -2 7 -0.5 6 0.5 5 0.5 3 2.5 5 3 4 5 4.5 11 6.5 9.5 4 10.5 3.5 5 2.5 4.5 3 1.5 3 0 4 -1 2.5 -8 6 -19 7.5 -19 6.5zM1165.5 428.5l-10 0 -20.5-3 -15.5-0.5 -12-1.5 -25-0.5 -5-1.5 -12-0.5 -10-2.5 -5-2.5 -3-2.5 -1.5-3 -1-3 0-4 0.5-5 5-15 4-5 0.5-2 -1-3 -1-2 -4.5-4 -11-5.5 -20-12.5 -4-4 -1.5-3 0-2 2-4 6.5-6 9-4.5 4-1 5.5-2.5 5.5-3.5 2.5-2.5 2-3 2.5-6 1-20 1-2.5 2-3 2-1.5 10-2.5 7-0.5 5 0.5 7 3 9 1.5 5 3 6 6 2.5 5 0 2 -1.5 2.5 -3 3.5 -12 7 -5 4 -1.5 2 -1 2 -1 3 0 4 0.5 3 2.5 4 4.5 6 10.5 11 3.5 3 8 3 6 1 22 6 6 3 5 5 1 2 1.5 5 2 5 3 9 3.5 9 4 9 5 7 0.5 2 0 4 -1 2 -2.5 2 -4 1zM717.5 320.5l-7 0.5 -2-0.5 -3-2 -2.5-3 0-2 0.5-3 1.5-3 1.5-2 6-3.5 4-1 6 0.5 4 2 1.5 2 1 3 -0.5 3 -1.5 3 -1.5 2 -4 2.5 -4 1.5zM209.5 362.5l-4.5 0 -4.5-1.5 -10-1 -5.5-2.5 -2.5-1.5 -2.5-2.5 -1-2 0.5-2 2.5-4 6.5-8 8-8 13-9.5 5-2.5 8-2.5 4 0 6-1.5 12 0 8 2.5 4 1.5 6 4 6 6 1.5 6 -1 6 -2.5 3.5 -6 5 -8 4.5 -11 4 -7 2 -10 2.5 -10 0.5 -5 1zM902.5 434.5l-15 0 -6-2 -9.5-1 1.5-2 14-5 5-0.5 5-1.5 7-0.5 6-1.5 11-0.5 6-1.5 5-0.5 34 0.5 7 1.5 4.5 0.5 5.5 1.5 12 0.5 3 1 2 2 -3 2.5 -10 2.5 -22 0.5 -8 1.5 -36 0 -8 1.5 -11 0.5zM176.5 96.5l34 0.5 14 1 1.5 0.5 2.5 1.5 3.5 0.5 -2 2 -7.5 3.5 -12 4.5 -12 3.5 -14 0 -8-1.5M1391.5 106l-12 1.5 -34 0 -8.5 1 -17.5 1.5 -20 3.5 -21 5.5M1254.5 127.5l-13 3.5 -21 2.5 -13 0.5 -16 2.5 -8 0.5 -8 2 -8 4.5 -11.5 7 -12 9 -7.5 8 -7.5 11 -7 8 -2.5 1.5 -12 4.5 -6 1.5 -7 1 -5 1.5 -14 0 -7-2 -7.5-1 -13-5 -2.5-2 7-4.5 6-5.5 27-18.5 5-4 5-6.5 6.5-5 20.5-11 7-8 4-7 2-2 3-1 7-0.5 5-1 10 1 9 0 25-2.5M278.5 259.5l-4 1 -11 0 -13-2.5 -12-3.5 -4.5-2 -7.5-4 -4-3.5 -2-3 -3.5-8.5 0-12 0.5-3.5 2.5-6.5 2-7 2.5-5.5 2-2 6-3.5 4-1.5 8-0.5 2 0.5 0.5 0.5 0.5 3 0.5 12 0.5 6 2.5 6 6.5 9 10 10.5 19 9.5 3.5 2 1.5 2 -1 1.5 -4 2.5 -8 3zM717.5 316.5l-3 0.5 -3-0.5 -1.5-1 -1-2 0-3 0.5-2 2-2 2-1 3-0.5 3.5 0.5 2 1 1 2 0 2 -0.5 3 -2.5 2 -2.5 1zM1152.5 422.5l-3 0.5 -18 0 -16-1.5 -31-0.5 -6-1.5 -7-0.5 -9-2 -6-1.5 -3-1.5 -2-2 -2-2.5 -1-6 -0.5-3 2-7 4-9 1.5-2 3.5-3 0.5-2 -1.5-5 -2-2 -6.5-5 -19-10.5 -11-7.5 -1.5-2 -1-2 0-2 0.5-2 1.5-2 2.5-2 3-1.5 3-1 9-0.5 11 0 9 2 10 4.5 6 4.5 2.5 3 4 6 1.5 6.5 2 4.5 5.5 4 6.5 1 18 0.5 6 1.5 9 1 12 3.5 2 0.5 3-1.5 1 1 0.5 4.5 2.5 6 5.5 20 3 10 0.5 2 -1 3 -1 1 -3 1zM1391.5 104.5l-6 0.5 -6 1 -36 0 -8 1.5 -16 1 -20 3.5 -18 5 -4 1 -24 8.5 -10 2.5 -16 2.5 -19 0.5 -19 3.5 -14 1 -3 1 -8 4.5 -5 3 -2 1 -12 0 -4-0.5 -2-1 -0.5-3 1.5-5 4.5-6 5-10 3.5-3 3-1 6-0.5 15-2.5 10-0.5 6-1 3 0M1206.5 111.5l4.5-1 4.5-0.5 5-1.5 7-1 4-1 8-1 4.5-1 8.5-0.5M1274.5 102l11-0.5 7-1M1304.5 100l15-0.5 9-1M176.5 99l12 0 17.5 1.5 -0.5 1 -1 1 -10 4 -7 2 -4 0 -7 0M1135.5 418.5l-6 1 -40-0.5 -15-2 -10-2 -7.5-3.5 -2.5-2 -1-2 -0.5-5 0-5 1-3 4.5-9 4-6 0.5-3 0-5 -2.5-2.5 -8-5 -18-10 -9.5-5.5 -3.5-4 -0.5-2 0.5-2 3-2 2-1 11-1.5 10 1.5 8 2.5 6 3.5 6 5.5 4.5 6.5 4 9 3 3 3.5 2.5 5 2 12 3 5.5 0.5 3.5 1.5 5 0.5 8 2 9 4 4 2.5 4.5 3.5 3.5 4.5 2 5 0.5 4.5 0 6 -2 4 -2.5 2.5 -5 2.5zM1391.5 101.5l-6 0 -6 2 -37 0.5 -6 1 -1 0.5 -16 0 -1.5 1 -2.5 0.5 -1 0.5 -6 0.5 -1.5 0.5 -2.5 0 -1.5 1 -4.5 0.5 -0.5 0.5 -2.5 0.5 -1 0.5 -4 0.5 -4.5 1.5 -9.5 2 -4 2 -5 1 -3.5 2 -2.5 0.5 -3.5 1.5 -2.5 0.5 -3.5 1.5 -3.5 0.5 -5 1.5 -6 0.5 -9 1.5 -8 0.5 -3 0.5 -12 0.5 -1.5 0.5 -4.5 0.5 -1 0.5 -7 0.5 -0.5 0.5 -3.5 0.5 -2 0.5 -16 0.5 -3.5-1.5 -1-2 0-6 1-2 1-2 3-2 6-2 2.5-0.5 1-0.5 11 0 3-1 10-0.5 2.5-0.5 9.5-0.5 5-1.5 7-0.5 3-1 1.5-1.5 6.5 0 3-0.5 3-1.5 5-0.5 2.5-0.5 7.5 0 2-1 5-0.5 3-0.5 18 0 2-1 11.5-1 14 0 4.5 0.5 5-1 1-0.5 6-0.5 30 0 10 0 20 0.5M1059.5 360.5l-6.5-1 -16.5-8 -6-3.5 -1.5-0.5 -2-2 0-1 0.5-1 6-1 8.5 1 5 2 3.5 2 8 6 2 2 1 2 0.5 2 -0.5 0.5 -2 0.5zM1126.5 414.5l-3 0.5 -8 0 -7-1 -19-0.5 -10-1 -3-0.5 -9-1.5 -6.5-3 -2.5-2 -1-1.5 0-5 6-12.5 3-4 1-3 2-2.5 2-1 3 0 12.5 1.5 2.5 1.5 16 4.5 2 1 6 1 2 1 4.5 1 7.5 4 2.5 2 2 2 2 6 0.5 2 0 5 -1 2.5 -2 2 -5 1.5zM683.8 306L677 311.9L686 312.2M683.6 306.2L684.8 315.8M714 313.6a2 3.2 25 1 0 2.6 -5.2a2 3.2 25 1 0 -2.6 5.2z" fill="none" stroke="#000" stroke-width="1.3" stroke-linejoin="round"/>
<g fill="none"><g stroke-width="1.9" stroke-dasharray="7 7" stroke="#b5b0b9"><line x1="328.9" y1="53.5" x2="328.9" y2="528"/><line x1="480.9" y1="53.5" x2="480.9" y2="528"/><line x1="632.9" y1="53.5" x2="632.9" y2="528"/><line x1="784.9" y1="53.5" x2="784.9" y2="528"/><line x1="936.9" y1="53.5" x2="936.9" y2="528"/><line x1="1088.9" y1="53.5" x2="1088.9" y2="528"/><line x1="1240.9" y1="53.5" x2="1240.9" y2="528"/></g><g stroke-width="1.35" stroke-dasharray="8 6" stroke-dashoffset="10" stroke="#c4bec8"><line x1="176" y1="132.5" x2="1392" y2="132.5"/><line x1="176" y1="211.5" x2="1392" y2="211.5"/><line x1="176" y1="290.5" x2="1392" y2="290.5"/><line x1="176" y1="369.5" x2="1392" y2="369.5"/><line x1="176" y1="448.5" x2="1392" y2="448.5"/></g></g>
</g>
<rect x="175.5" y="53.5" width="1217" height="475" fill="none" stroke="#000" stroke-width="1.4"/>
<line x1="175.7" y1="54" x2="175.7" y2="528" stroke="#a9a9a9" stroke-width="1.4" stroke-dasharray="7 7"/>
<!-- colorbar -->
<rect x="1408" y="119" width="63.5" height="343" fill="url(#cb)"/>
<rect x="1471" y="119" width="2" height="344" fill="#000"/>
<g opacity="0.999">
<g font-size="23px">
<text x="1480.5" y="461.5">0</text><text x="1480.5" y="373.5">2</text><text x="1480.5" y="277.5">4</text><text x="1480.5" y="180.5">6</text>
</g>
<text transform="translate(1521,374) rotate(-90)" font-size="20px" textLength="170" lengthAdjust="spacingAndGlyphs">Density (10<tspan font-size="10px" dy="-9">4</tspan><tspan dy="9"> cm</tspan><tspan font-size="10px" dy="-9">-3</tspan><tspan dy="9">)</tspan></text>
<!-- title -->
<text x="455" y="30" font-size="44px" textLength="658" lengthAdjust="spacingAndGlyphs">Height 8.0 R<tspan font-size="15px" font-weight="normal" font-style="italic" dy="11">v</tspan><tspan dy="-11">, Mid-date 2025/12/26</tspan></text>
<g font-size="36px"><text x="176.5" y="581.5" text-anchor="middle">0</text><text x="328.5" y="581.5" text-anchor="middle">45</text><text x="480.5" y="581.5" text-anchor="middle">90</text><text x="632.5" y="581.5" text-anchor="middle">135</text><text x="784.5" y="581.5" text-anchor="middle">180</text><text x="936.5" y="581.5" text-anchor="middle">225</text><text x="1088.5" y="581.5" text-anchor="middle">270</text><text x="1240.5" y="581.5" text-anchor="middle">315</text><text x="1392.5" y="581.5" text-anchor="middle">360</text><text x="165" y="145.5" text-anchor="end">60</text><text x="165" y="224.5" text-anchor="end">30</text><text x="165" y="303.5" text-anchor="end">0</text><text x="165" y="382.5" text-anchor="end">-30</text><text x="165" y="461.5" text-anchor="end">-60</text></g>
<text x="706" y="629" font-size="35px" textLength="156" lengthAdjust="spacingAndGlyphs">Longitude</text>
<text transform="translate(81.5,354) rotate(-90)" font-size="35px" textLength="128" lengthAdjust="spacingAndGlyphs">Latitude</text>
</g>
</svg>
</body></html>
